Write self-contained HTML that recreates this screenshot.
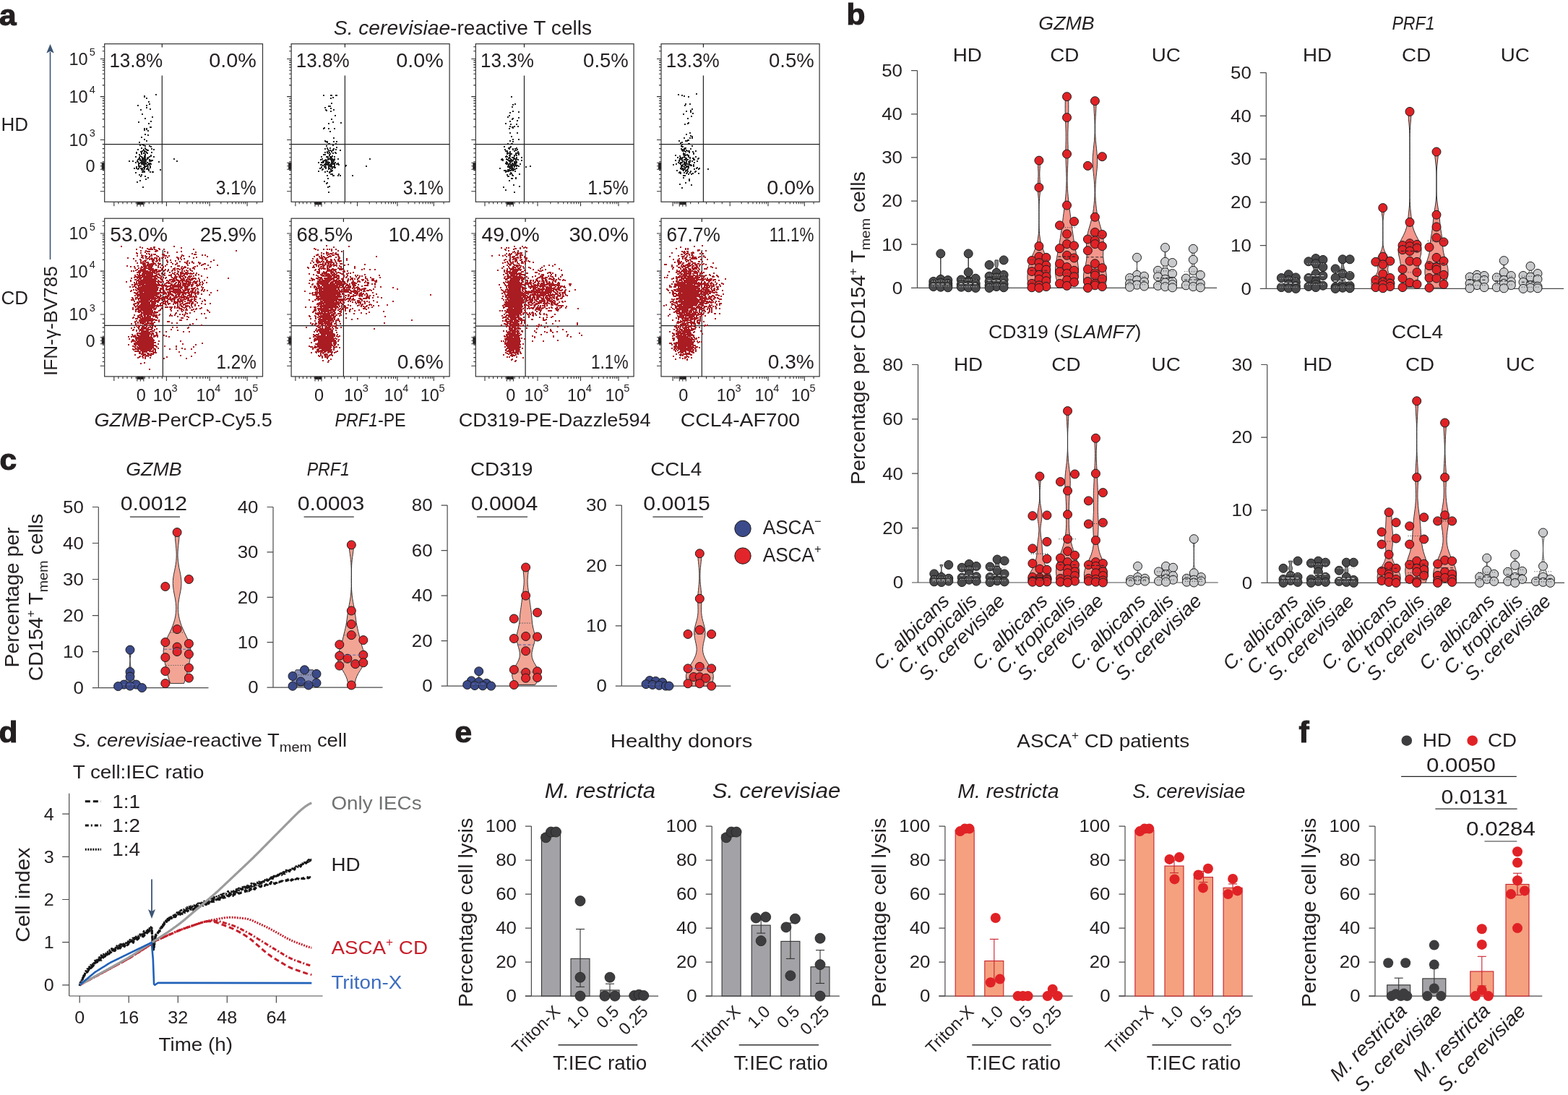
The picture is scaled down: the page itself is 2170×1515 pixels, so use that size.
<!DOCTYPE html>
<html><head><meta charset="utf-8"><title>Figure</title>
<style>html,body{margin:0;padding:0;background:#fff;width:2170px;height:1515px;overflow:hidden}svg{display:block}
text{font-family:'Liberation Sans', Arial, Helvetica, sans-serif}</style></head>
<body><svg width="2170" height="1515" viewBox="0 0 2170 1515" fill="#231f20">
<rect width="2170" height="1515" fill="#fff"/>
<text font-size="40" font-weight="bold" transform="translate(-1 34.5) scale(1.060 1)" stroke="#231f20" stroke-width="1.1">a</text>
<text font-size="27" text-anchor="middle" transform="translate(640.5 47.8) scale(1.043 1)"><tspan font-style="italic">S. cerevisiae</tspan>-reactive T cells</text>
<line x1="69.5" y1="72" x2="69.5" y2="359" stroke="#3e5573" stroke-width="1.6"/>
<path d="M69.5 61 L64.3 73.5 L69.5 71 L74.7 73.5 Z" stroke="none" fill="#3e5573" stroke-width="1.2"/>
<text font-size="26" transform="translate(79 520) rotate(-90)" textLength="152" lengthAdjust="spacingAndGlyphs">IFN-γ-BV785</text>
<text x="1.5" y="181" font-size="26">HD</text>
<text x="1.5" y="421" font-size="26">CD</text>
<rect x="144.7" y="60.7" width="218.8" height="218.6" fill="none" stroke="#333" stroke-width="1.2"/>
<line x1="224.3" y1="60.7" x2="224.3" y2="65.5" stroke="#222" stroke-width="1.2"/>
<line x1="224.3" y1="104.6" x2="224.3" y2="279.3" stroke="#222" stroke-width="1.2"/>
<line x1="144.7" y1="199.6" x2="363.5" y2="199.6" stroke="#222" stroke-width="1.2"/>
<rect x="140.7" y="225.3" width="4" height="9" fill="#231f20"/>
<path d="M138.7 81.5h6 M138.7 133.6h6 M138.7 193.5h6 M138.7 229.8h6 M138.7 264.8h6 M141.7 117.9h3 M141.7 108.7h3 M141.7 102.2h3 M141.7 97.2h3 M141.7 93.1h3 M141.7 89.6h3 M141.7 86.5h3 M141.7 83.9h3 M141.7 175.5h3 M141.7 164.9h3 M141.7 157.4h3 M141.7 151.6h3 M141.7 146.9h3 M141.7 142.9h3 M141.7 139.4h3 M141.7 136.3h3 M141.7 64.7h3 M141.7 70.7h3 M141.7 199.6h3 M141.7 205.6h3 M141.7 211.7h3 M141.7 217.7h3 M141.7 223.8h3 M141.7 235.6h3 M141.7 241.5h3 M141.7 247.3h3 M141.7 253.1h3 M141.7 259h3 M138.7 225.3h6 M138.7 234.3h6" stroke="#333" fill="none" stroke-width="1.1"/>
<rect x="189.8" y="279.3" width="9" height="4" fill="#231f20"/>
<path d="M157.8 279.3v6 M194.3 279.3v6 M230.4 279.3v6 M290.1 279.3v6 M342.1 279.3v6 M248.4 279.3v3 M258.9 279.3v3 M266.3 279.3v3 M272.1 279.3v3 M276.9 279.3v3 M280.9 279.3v3 M284.3 279.3v3 M287.4 279.3v3 M305.8 279.3v3 M314.9 279.3v3 M321.4 279.3v3 M326.4 279.3v3 M330.6 279.3v3 M334 279.3v3 M337.1 279.3v3 M339.7 279.3v3 M200.3 279.3v3 M163.9 279.3v3 M206.3 279.3v3 M170 279.3v3 M212.3 279.3v3 M176 279.3v3 M218.4 279.3v3 M182.1 279.3v3 M224.4 279.3v3 M188.2 279.3v3 M355.5 279.3v3 M189.8 279.3v6.5 M194.3 279.3v6.5 M198.8 279.3v6.5" stroke="#333" fill="none" stroke-width="1.1"/>
<text font-size="27.5" transform="translate(151.4 92.8) scale(0.946 1)">13.8%</text>
<text font-size="27.5" text-anchor="end" transform="translate(354.8 92.8) scale(1.046 1)">0.0%</text>
<text font-size="27.5" text-anchor="end" transform="translate(354.7 268.8) scale(0.895 1)">3.1%</text>
<text x="121.7" y="89.9" font-size="23.5" text-anchor="end">10</text>
<text x="123.8" y="77.2" font-size="14.5">5</text>
<text x="121.7" y="142" font-size="23.5" text-anchor="end">10</text>
<text x="123.8" y="129.3" font-size="14.5">4</text>
<text x="121.7" y="201.9" font-size="23.5" text-anchor="end">10</text>
<text x="123.8" y="189.2" font-size="14.5">3</text>
<text x="131.5" y="238.2" font-size="23.5" text-anchor="end">0</text>
<rect x="403.1" y="60.7" width="219" height="218.6" fill="none" stroke="#333" stroke-width="1.2"/>
<line x1="477.4" y1="60.7" x2="477.4" y2="65.5" stroke="#222" stroke-width="1.2"/>
<line x1="477.4" y1="104.6" x2="477.4" y2="279.3" stroke="#222" stroke-width="1.2"/>
<line x1="403.1" y1="199.6" x2="622.1" y2="199.6" stroke="#222" stroke-width="1.2"/>
<rect x="399.1" y="225.3" width="4" height="9" fill="#231f20"/>
<path d="M397.1 81.5h6 M397.1 133.6h6 M397.1 193.5h6 M397.1 229.8h6 M397.1 264.8h6 M400.1 117.9h3 M400.1 108.7h3 M400.1 102.2h3 M400.1 97.2h3 M400.1 93.1h3 M400.1 89.6h3 M400.1 86.5h3 M400.1 83.9h3 M400.1 175.5h3 M400.1 164.9h3 M400.1 157.4h3 M400.1 151.6h3 M400.1 146.9h3 M400.1 142.9h3 M400.1 139.4h3 M400.1 136.3h3 M400.1 64.7h3 M400.1 70.7h3 M400.1 199.6h3 M400.1 205.6h3 M400.1 211.7h3 M400.1 217.7h3 M400.1 223.8h3 M400.1 235.6h3 M400.1 241.5h3 M400.1 247.3h3 M400.1 253.1h3 M400.1 259h3 M397.1 225.3h6 M397.1 234.3h6" stroke="#333" fill="none" stroke-width="1.1"/>
<rect x="436" y="279.3" width="9" height="4" fill="#231f20"/>
<path d="M408.9 279.3v6 M440.5 279.3v6 M494.5 279.3v6 M550 279.3v6 M600.3 279.3v6 M511.2 279.3v3 M521 279.3v3 M527.9 279.3v3 M533.3 279.3v3 M537.7 279.3v3 M541.4 279.3v3 M544.6 279.3v3 M547.5 279.3v3 M565.1 279.3v3 M574 279.3v3 M580.3 279.3v3 M585.2 279.3v3 M589.1 279.3v3 M592.5 279.3v3 M595.4 279.3v3 M598 279.3v3 M449.5 279.3v3 M414.2 279.3v3 M458.5 279.3v3 M419.4 279.3v3 M467.5 279.3v3 M424.7 279.3v3 M476.5 279.3v3 M430 279.3v3 M485.5 279.3v3 M435.2 279.3v3 M614.1 279.3v3 M436 279.3v6.5 M440.5 279.3v6.5 M445 279.3v6.5" stroke="#333" fill="none" stroke-width="1.1"/>
<text font-size="27.5" transform="translate(409.8 92.8) scale(0.946 1)">13.8%</text>
<text font-size="27.5" text-anchor="end" transform="translate(613.8 92.8) scale(1.046 1)">0.0%</text>
<text font-size="27.5" text-anchor="end" transform="translate(613.7 268.8) scale(0.895 1)">3.1%</text>
<rect x="658.3" y="60.7" width="218.8" height="218.6" fill="none" stroke="#333" stroke-width="1.2"/>
<line x1="725.5" y1="60.7" x2="725.5" y2="65.5" stroke="#222" stroke-width="1.2"/>
<line x1="725.5" y1="104.6" x2="725.5" y2="279.3" stroke="#222" stroke-width="1.2"/>
<line x1="658.3" y1="199.6" x2="877.1" y2="199.6" stroke="#222" stroke-width="1.2"/>
<rect x="654.3" y="225.3" width="4" height="9" fill="#231f20"/>
<path d="M652.3 81.5h6 M652.3 133.6h6 M652.3 193.5h6 M652.3 229.8h6 M652.3 264.8h6 M655.3 117.9h3 M655.3 108.7h3 M655.3 102.2h3 M655.3 97.2h3 M655.3 93.1h3 M655.3 89.6h3 M655.3 86.5h3 M655.3 83.9h3 M655.3 175.5h3 M655.3 164.9h3 M655.3 157.4h3 M655.3 151.6h3 M655.3 146.9h3 M655.3 142.9h3 M655.3 139.4h3 M655.3 136.3h3 M655.3 64.7h3 M655.3 70.7h3 M655.3 199.6h3 M655.3 205.6h3 M655.3 211.7h3 M655.3 217.7h3 M655.3 223.8h3 M655.3 235.6h3 M655.3 241.5h3 M655.3 247.3h3 M655.3 253.1h3 M655.3 259h3 M652.3 225.3h6 M652.3 234.3h6" stroke="#333" fill="none" stroke-width="1.1"/>
<rect x="701.4" y="279.3" width="9" height="4" fill="#231f20"/>
<path d="M671 279.3v6 M705.9 279.3v6 M744 279.3v6 M803.5 279.3v6 M856 279.3v6 M761.9 279.3v3 M772.4 279.3v3 M779.8 279.3v3 M785.6 279.3v3 M790.3 279.3v3 M794.3 279.3v3 M797.7 279.3v3 M800.8 279.3v3 M819.3 279.3v3 M828.5 279.3v3 M835.1 279.3v3 M840.2 279.3v3 M844.4 279.3v3 M847.9 279.3v3 M850.9 279.3v3 M853.6 279.3v3 M712.2 279.3v3 M676.8 279.3v3 M718.6 279.3v3 M682.6 279.3v3 M725 279.3v3 M688.5 279.3v3 M731.3 279.3v3 M694.3 279.3v3 M737.6 279.3v3 M700.1 279.3v3 M869.1 279.3v3 M701.4 279.3v6.5 M705.9 279.3v6.5 M710.4 279.3v6.5" stroke="#333" fill="none" stroke-width="1.1"/>
<text font-size="27.5" transform="translate(665 92.8) scale(0.948 1)">13.3%</text>
<text x="869.8" y="92.8" font-size="27.5" text-anchor="end">0.5%</text>
<text font-size="27.5" text-anchor="end" transform="translate(869.7 268.8) scale(0.901 1)">1.5%</text>
<rect x="915" y="60.7" width="219.1" height="218.6" fill="none" stroke="#333" stroke-width="1.2"/>
<line x1="973.4" y1="60.7" x2="973.4" y2="65.5" stroke="#222" stroke-width="1.2"/>
<line x1="973.4" y1="104.6" x2="973.4" y2="279.3" stroke="#222" stroke-width="1.2"/>
<line x1="915" y1="199.6" x2="1134.1" y2="199.6" stroke="#222" stroke-width="1.2"/>
<rect x="911" y="225.3" width="4" height="9" fill="#231f20"/>
<path d="M909 81.5h6 M909 133.6h6 M909 193.5h6 M909 229.8h6 M909 264.8h6 M912 117.9h3 M912 108.7h3 M912 102.2h3 M912 97.2h3 M912 93.1h3 M912 89.6h3 M912 86.5h3 M912 83.9h3 M912 175.5h3 M912 164.9h3 M912 157.4h3 M912 151.6h3 M912 146.9h3 M912 142.9h3 M912 139.4h3 M912 136.3h3 M912 64.7h3 M912 70.7h3 M912 199.6h3 M912 205.6h3 M912 211.7h3 M912 217.7h3 M912 223.8h3 M912 235.6h3 M912 241.5h3 M912 247.3h3 M912 253.1h3 M912 259h3 M909 225.3h6 M909 234.3h6" stroke="#333" fill="none" stroke-width="1.1"/>
<rect x="940.3" y="279.3" width="9" height="4" fill="#231f20"/>
<path d="M931.1 279.3v6 M944.8 279.3v6 M1010.2 279.3v6 M1063 279.3v6 M1113.3 279.3v6 M1026.1 279.3v3 M1035.4 279.3v3 M1042 279.3v3 M1047.1 279.3v3 M1051.3 279.3v3 M1054.8 279.3v3 M1057.9 279.3v3 M1060.6 279.3v3 M1078.1 279.3v3 M1087 279.3v3 M1093.3 279.3v3 M1098.2 279.3v3 M1102.1 279.3v3 M1105.5 279.3v3 M1108.4 279.3v3 M1111 279.3v3 M955.7 279.3v3 M933.4 279.3v3 M966.6 279.3v3 M935.7 279.3v3 M977.5 279.3v3 M938 279.3v3 M988.4 279.3v3 M940.2 279.3v3 M999.3 279.3v3 M942.5 279.3v3 M1126.1 279.3v3 M940.3 279.3v6.5 M944.8 279.3v6.5 M949.3 279.3v6.5" stroke="#333" fill="none" stroke-width="1.1"/>
<text font-size="27.5" transform="translate(921.7 92.8) scale(0.948 1)">13.3%</text>
<text x="1126.7" y="92.8" font-size="27.5" text-anchor="end">0.5%</text>
<text font-size="27.5" text-anchor="end" transform="translate(1126.7 268.8) scale(1.046 1)">0.0%</text>
<rect x="144.7" y="302.2" width="218.8" height="218.7" fill="none" stroke="#333" stroke-width="1.2"/>
<line x1="225.4" y1="302.2" x2="225.4" y2="307" stroke="#222" stroke-width="1.2"/>
<line x1="225.4" y1="346" x2="225.4" y2="520.9" stroke="#222" stroke-width="1.2"/>
<line x1="144.7" y1="450.4" x2="363.5" y2="450.4" stroke="#222" stroke-width="1.2"/>
<rect x="140.7" y="466.8" width="4" height="9" fill="#231f20"/>
<path d="M138.7 323h6 M138.7 375.1h6 M138.7 435h6 M138.7 471.3h6 M138.7 506.3h6 M141.7 359.4h3 M141.7 350.2h3 M141.7 343.7h3 M141.7 338.7h3 M141.7 334.6h3 M141.7 331.1h3 M141.7 328h3 M141.7 325.4h3 M141.7 417h3 M141.7 406.4h3 M141.7 398.9h3 M141.7 393.1h3 M141.7 388.4h3 M141.7 384.4h3 M141.7 380.9h3 M141.7 377.8h3 M141.7 306.2h3 M141.7 312.2h3 M141.7 441.1h3 M141.7 447.1h3 M141.7 453.1h3 M141.7 459.2h3 M141.7 465.2h3 M141.7 477.1h3 M141.7 483h3 M141.7 488.8h3 M141.7 494.6h3 M141.7 500.5h3 M138.7 466.8h6 M138.7 475.8h6" stroke="#333" fill="none" stroke-width="1.1"/>
<rect x="189.8" y="520.9" width="9" height="4" fill="#231f20"/>
<path d="M157.8 520.9v6 M194.3 520.9v6 M230.4 520.9v6 M290.1 520.9v6 M342.1 520.9v6 M248.4 520.9v3 M258.9 520.9v3 M266.3 520.9v3 M272.1 520.9v3 M276.9 520.9v3 M280.9 520.9v3 M284.3 520.9v3 M287.4 520.9v3 M305.8 520.9v3 M314.9 520.9v3 M321.4 520.9v3 M326.4 520.9v3 M330.6 520.9v3 M334 520.9v3 M337.1 520.9v3 M339.7 520.9v3 M200.3 520.9v3 M163.9 520.9v3 M206.3 520.9v3 M170 520.9v3 M212.3 520.9v3 M176 520.9v3 M218.4 520.9v3 M182.1 520.9v3 M224.4 520.9v3 M188.2 520.9v3 M355.5 520.9v3 M189.8 520.9v6.5 M194.3 520.9v6.5 M198.8 520.9v6.5" stroke="#333" fill="none" stroke-width="1.1"/>
<text font-size="27.5" transform="translate(152.3 334.3) scale(1.022 1)">53.0%</text>
<text x="354.8" y="334.3" font-size="27.5" text-anchor="end">25.9%</text>
<text font-size="27.5" text-anchor="end" transform="translate(354.7 510.4) scale(0.881 1)">1.2%</text>
<text x="121.7" y="331.4" font-size="23.5" text-anchor="end">10</text>
<text x="123.8" y="318.7" font-size="14.5">5</text>
<text x="121.7" y="383.5" font-size="23.5" text-anchor="end">10</text>
<text x="123.8" y="370.8" font-size="14.5">4</text>
<text x="121.7" y="443.4" font-size="23.5" text-anchor="end">10</text>
<text x="123.8" y="430.7" font-size="14.5">3</text>
<text x="131.5" y="479.7" font-size="23.5" text-anchor="end">0</text>
<text x="195.3" y="554.8" font-size="23.5" text-anchor="middle">0</text>
<text x="224.9" y="554.8" font-size="23.5" text-anchor="middle">10</text>
<text x="237.6" y="542.1" font-size="14.5">3</text>
<text x="284.6" y="554.8" font-size="23.5" text-anchor="middle">10</text>
<text x="297.3" y="542.1" font-size="14.5">4</text>
<text x="336.6" y="554.8" font-size="23.5" text-anchor="middle">10</text>
<text x="349.3" y="542.1" font-size="14.5">5</text>
<rect x="403.1" y="302.2" width="219" height="218.7" fill="none" stroke="#333" stroke-width="1.2"/>
<line x1="475.4" y1="302.2" x2="475.4" y2="307" stroke="#222" stroke-width="1.2"/>
<line x1="475.4" y1="346" x2="475.4" y2="520.9" stroke="#222" stroke-width="1.2"/>
<line x1="403.1" y1="450.6" x2="622.1" y2="450.6" stroke="#222" stroke-width="1.2"/>
<rect x="399.1" y="466.8" width="4" height="9" fill="#231f20"/>
<path d="M397.1 323h6 M397.1 375.1h6 M397.1 435h6 M397.1 471.3h6 M397.1 506.3h6 M400.1 359.4h3 M400.1 350.2h3 M400.1 343.7h3 M400.1 338.7h3 M400.1 334.6h3 M400.1 331.1h3 M400.1 328h3 M400.1 325.4h3 M400.1 417h3 M400.1 406.4h3 M400.1 398.9h3 M400.1 393.1h3 M400.1 388.4h3 M400.1 384.4h3 M400.1 380.9h3 M400.1 377.8h3 M400.1 306.2h3 M400.1 312.2h3 M400.1 441.1h3 M400.1 447.1h3 M400.1 453.1h3 M400.1 459.2h3 M400.1 465.2h3 M400.1 477.1h3 M400.1 483h3 M400.1 488.8h3 M400.1 494.6h3 M400.1 500.5h3 M397.1 466.8h6 M397.1 475.8h6" stroke="#333" fill="none" stroke-width="1.1"/>
<rect x="436" y="520.9" width="9" height="4" fill="#231f20"/>
<path d="M408.9 520.9v6 M440.5 520.9v6 M494.5 520.9v6 M550 520.9v6 M600.3 520.9v6 M511.2 520.9v3 M521 520.9v3 M527.9 520.9v3 M533.3 520.9v3 M537.7 520.9v3 M541.4 520.9v3 M544.6 520.9v3 M547.5 520.9v3 M565.1 520.9v3 M574 520.9v3 M580.3 520.9v3 M585.2 520.9v3 M589.1 520.9v3 M592.5 520.9v3 M595.4 520.9v3 M598 520.9v3 M449.5 520.9v3 M414.2 520.9v3 M458.5 520.9v3 M419.4 520.9v3 M467.5 520.9v3 M424.7 520.9v3 M476.5 520.9v3 M430 520.9v3 M485.5 520.9v3 M435.2 520.9v3 M614.1 520.9v3 M436 520.9v6.5 M440.5 520.9v6.5 M445 520.9v6.5" stroke="#333" fill="none" stroke-width="1.1"/>
<text font-size="27.5" transform="translate(410.4 334.3) scale(0.996 1)">68.5%</text>
<text font-size="27.5" text-anchor="end" transform="translate(613.7 334.3) scale(0.975 1)">10.4%</text>
<text font-size="27.5" text-anchor="end" transform="translate(613.8 510.4) scale(1.023 1)">0.6%</text>
<text x="441.5" y="554.8" font-size="23.5" text-anchor="middle">0</text>
<text x="489" y="554.8" font-size="23.5" text-anchor="middle">10</text>
<text x="501.7" y="542.1" font-size="14.5">3</text>
<text x="544.5" y="554.8" font-size="23.5" text-anchor="middle">10</text>
<text x="557.2" y="542.1" font-size="14.5">4</text>
<text x="594.8" y="554.8" font-size="23.5" text-anchor="middle">10</text>
<text x="607.5" y="542.1" font-size="14.5">5</text>
<rect x="658.3" y="302.2" width="218.8" height="218.7" fill="none" stroke="#333" stroke-width="1.2"/>
<line x1="727.1" y1="302.2" x2="727.1" y2="307" stroke="#222" stroke-width="1.2"/>
<line x1="727.1" y1="346" x2="727.1" y2="520.9" stroke="#222" stroke-width="1.2"/>
<line x1="658.3" y1="451.2" x2="877.1" y2="451.2" stroke="#222" stroke-width="1.2"/>
<rect x="654.3" y="466.8" width="4" height="9" fill="#231f20"/>
<path d="M652.3 323h6 M652.3 375.1h6 M652.3 435h6 M652.3 471.3h6 M652.3 506.3h6 M655.3 359.4h3 M655.3 350.2h3 M655.3 343.7h3 M655.3 338.7h3 M655.3 334.6h3 M655.3 331.1h3 M655.3 328h3 M655.3 325.4h3 M655.3 417h3 M655.3 406.4h3 M655.3 398.9h3 M655.3 393.1h3 M655.3 388.4h3 M655.3 384.4h3 M655.3 380.9h3 M655.3 377.8h3 M655.3 306.2h3 M655.3 312.2h3 M655.3 441.1h3 M655.3 447.1h3 M655.3 453.1h3 M655.3 459.2h3 M655.3 465.2h3 M655.3 477.1h3 M655.3 483h3 M655.3 488.8h3 M655.3 494.6h3 M655.3 500.5h3 M652.3 466.8h6 M652.3 475.8h6" stroke="#333" fill="none" stroke-width="1.1"/>
<rect x="701.4" y="520.9" width="9" height="4" fill="#231f20"/>
<path d="M671 520.9v6 M705.9 520.9v6 M744 520.9v6 M803.5 520.9v6 M856 520.9v6 M761.9 520.9v3 M772.4 520.9v3 M779.8 520.9v3 M785.6 520.9v3 M790.3 520.9v3 M794.3 520.9v3 M797.7 520.9v3 M800.8 520.9v3 M819.3 520.9v3 M828.5 520.9v3 M835.1 520.9v3 M840.2 520.9v3 M844.4 520.9v3 M847.9 520.9v3 M850.9 520.9v3 M853.6 520.9v3 M712.2 520.9v3 M676.8 520.9v3 M718.6 520.9v3 M682.6 520.9v3 M725 520.9v3 M688.5 520.9v3 M731.3 520.9v3 M694.3 520.9v3 M737.6 520.9v3 M700.1 520.9v3 M869.1 520.9v3 M701.4 520.9v6.5 M705.9 520.9v6.5 M710.4 520.9v6.5" stroke="#333" fill="none" stroke-width="1.1"/>
<text font-size="27.5" transform="translate(666.4 334.3) scale(1.031 1)">49.0%</text>
<text font-size="27.5" text-anchor="end" transform="translate(869.8 334.3) scale(1.057 1)">30.0%</text>
<text font-size="27.5" text-anchor="end" transform="translate(869.6 510.4) scale(0.824 1)">1.1%</text>
<text x="706.9" y="554.8" font-size="23.5" text-anchor="middle">0</text>
<text x="738.5" y="554.8" font-size="23.5" text-anchor="middle">10</text>
<text x="751.2" y="542.1" font-size="14.5">3</text>
<text x="798" y="554.8" font-size="23.5" text-anchor="middle">10</text>
<text x="810.7" y="542.1" font-size="14.5">4</text>
<text x="850.5" y="554.8" font-size="23.5" text-anchor="middle">10</text>
<text x="863.2" y="542.1" font-size="14.5">5</text>
<rect x="915" y="302.2" width="219.1" height="218.7" fill="none" stroke="#333" stroke-width="1.2"/>
<line x1="971.3" y1="302.2" x2="971.3" y2="307" stroke="#222" stroke-width="1.2"/>
<line x1="971.3" y1="346" x2="971.3" y2="520.9" stroke="#222" stroke-width="1.2"/>
<line x1="915" y1="450.6" x2="1134.1" y2="450.6" stroke="#222" stroke-width="1.2"/>
<rect x="911" y="466.8" width="4" height="9" fill="#231f20"/>
<path d="M909 323h6 M909 375.1h6 M909 435h6 M909 471.3h6 M909 506.3h6 M912 359.4h3 M912 350.2h3 M912 343.7h3 M912 338.7h3 M912 334.6h3 M912 331.1h3 M912 328h3 M912 325.4h3 M912 417h3 M912 406.4h3 M912 398.9h3 M912 393.1h3 M912 388.4h3 M912 384.4h3 M912 380.9h3 M912 377.8h3 M912 306.2h3 M912 312.2h3 M912 441.1h3 M912 447.1h3 M912 453.1h3 M912 459.2h3 M912 465.2h3 M912 477.1h3 M912 483h3 M912 488.8h3 M912 494.6h3 M912 500.5h3 M909 466.8h6 M909 475.8h6" stroke="#333" fill="none" stroke-width="1.1"/>
<rect x="940.3" y="520.9" width="9" height="4" fill="#231f20"/>
<path d="M931.1 520.9v6 M944.8 520.9v6 M1010.2 520.9v6 M1063 520.9v6 M1113.3 520.9v6 M1026.1 520.9v3 M1035.4 520.9v3 M1042 520.9v3 M1047.1 520.9v3 M1051.3 520.9v3 M1054.8 520.9v3 M1057.9 520.9v3 M1060.6 520.9v3 M1078.1 520.9v3 M1087 520.9v3 M1093.3 520.9v3 M1098.2 520.9v3 M1102.1 520.9v3 M1105.5 520.9v3 M1108.4 520.9v3 M1111 520.9v3 M955.7 520.9v3 M933.4 520.9v3 M966.6 520.9v3 M935.7 520.9v3 M977.5 520.9v3 M938 520.9v3 M988.4 520.9v3 M940.2 520.9v3 M999.3 520.9v3 M942.5 520.9v3 M1126.1 520.9v3 M940.3 520.9v6.5 M944.8 520.9v6.5 M949.3 520.9v6.5" stroke="#333" fill="none" stroke-width="1.1"/>
<text font-size="27.5" transform="translate(922.4 334.3) scale(0.954 1)">67.7%</text>
<text font-size="27.5" text-anchor="end" transform="translate(1126.5 334.3) scale(0.815 1)">11.1%</text>
<text font-size="27.5" text-anchor="end" transform="translate(1126.7 510.4) scale(1.020 1)">0.3%</text>
<text x="945.8" y="554.8" font-size="23.5" text-anchor="middle">0</text>
<text x="1004.7" y="554.8" font-size="23.5" text-anchor="middle">10</text>
<text x="1017.4" y="542.1" font-size="14.5">3</text>
<text x="1057.5" y="554.8" font-size="23.5" text-anchor="middle">10</text>
<text x="1070.2" y="542.1" font-size="14.5">4</text>
<text x="1107.8" y="554.8" font-size="23.5" text-anchor="middle">10</text>
<text x="1120.5" y="542.1" font-size="14.5">5</text>
<text x="253.7" y="589.6" font-size="26" text-anchor="middle" textLength="246.2" lengthAdjust="spacingAndGlyphs"><tspan font-style="italic">GZMB</tspan>-PerCP-Cy5.5</text>
<text x="512.6" y="589.6" font-size="26" text-anchor="middle" textLength="98" lengthAdjust="spacingAndGlyphs"><tspan font-style="italic">PRF1</tspan>-PE</text>
<text x="767.6" y="589.6" font-size="26" text-anchor="middle" textLength="265.8" lengthAdjust="spacingAndGlyphs">CD319-PE-Dazzle594</text>
<text x="1024.4" y="589.6" font-size="26" text-anchor="middle" textLength="165.3" lengthAdjust="spacingAndGlyphs">CCL4-AF700</text>
<path d="M199 229h1.9M197 220h1.9M196 220h1.9M199 237h1.9M196 222h1.9M202 230h1.9M200 220h1.9M199 232h1.9M190 224h1.9M187 217h1.9M187 225h1.9M191 229h1.9M200 226h1.9M183 223h1.9M199 228h1.9M189 223h1.9M193 221h1.9M206 221h1.9M199 234h1.9M195 226h1.9M200 227h1.9M191 228h1.9M208 215h1.9M205 228h1.9M195 242h1.9M204 218h1.9M199 231h1.9M198 232h1.9M208 222h1.9M200 224h1.9M200 218h1.9M205 236h1.9M190 221h1.9M203 212h1.9M196 226h1.9M207 232h1.9M197 224h1.9M197 238h1.9M196 225h1.9M201 226h1.9M198 219h1.9M199 224h1.9M197 235h1.9M191 230h1.9M188 212h1.9M200 244h1.9M194 222h1.9M200 231h1.9M198 225h1.9M204 231h1.9M192 226h1.9M199 219h1.9M201 221h1.9M200 223h1.9M198 212h1.9M192 230h1.9M185 233h1.9M188 233h1.9M194 233h1.9M200 215h1.9M207 238h1.9M199 225h1.9M198 220h1.9M206 223h1.9M199 221h1.9M195 217h1.9M207 226h1.9M205 227h1.9M194 225h1.9M195 227h1.9M197 225h1.9M210 222h1.9M208 216h1.9M198 222h1.9M194 230h1.9M192 218h1.9M208 223h1.9M201 227h1.9M196 223h1.9M203 225h1.9M198 227h1.9M201 223h1.9M190 234h1.9M205 226h1.9M203 233h1.9M204 234h1.9M196 238h1.9M191 233h1.9M202 234h1.9M211 238h1.9M192 214h1.9M204 219h1.9M199 233h1.9M188 211h1.9M197 227h1.9M193 216h1.9M188 231h1.9M199 230h1.9M193 222h1.9M193 220h1.9M200 221h1.9M201 230h1.9M212 217h1.9M199 216h1.9M196 233h1.9M198 228h1.9M197 236h1.9M199 210h1.9M195 212h1.9M178 223h1.9M208 227h1.9M191 220h1.9M206 228h1.9M199 227h1.9M203 229h1.9M192 231h1.9M195 235h1.9M191 226h1.9M199 217h1.9M210 238h1.9M201 207h1.9M200 219h1.9M197 226h1.9M207 230h1.9M199 238h1.9M195 224h1.9M187 239h1.9M205 234h1.9M203 228h1.9M200 225h1.9M209 211h1.9M200 205h1.9M196 218h1.9M203 208h1.9M198 201h1.9M200 213h1.9M198 207h1.9M199 209h1.9M190 207h1.9M195 213h1.9M195 211h1.9M209 206h1.9M196 209h1.9M200 202h1.9M203 220h1.9M194 210h1.9M193 201h1.9M208 203h1.9M206 217h1.9M202 211h1.9M212 207h1.9M196 200h1.9M200 217h1.9M206 202h1.9M195 205h1.9M202 207h1.9M201 210h1.9M198 208h1.9M203 219h1.9M204 208h1.9M192 197h1.9M190 146h1.9M206 144h1.9M200 164h1.9M199 133h1.9M205 171h1.9M202 146h1.9M195 190h1.9M200 186h1.9M202 178h1.9M207 176h1.9M207 151h1.9M204 181h1.9M199 193h1.9M194 152h1.9M205 141h1.9M202 136h1.9M191 169h1.9M202 149h1.9M199 178h1.9M202 195h1.9M196 158h1.9M204 187h1.9M208 176h1.9M208 168h1.9M199 134h1.9M215 131h1.9M210 162h1.9M202 179h1.9M199 180h1.9M221 235h1.9M240 220h1.9M219 224h1.9M244 223h1.9M193 250h1.9M192 242h1.9M197 259h1.9M189 252h1.9M194 244h1.9M201 248h1.9M204 246h1.9" stroke="#1a1a1a" stroke-width="1.9" fill="none"/>
<path d="M458 226h1.9M450 232h1.9M454 233h1.9M455 220h1.9M454 228h1.9M461 221h1.9M455 215h1.9M459 220h1.9M443 228h1.9M462 217h1.9M448 222h1.9M448 231h1.9M450 223h1.9M459 222h1.9M458 221h1.9M447 214h1.9M467 226h1.9M457 228h1.9M456 228h1.9M467 220h1.9M445 220h1.9M446 234h1.9M460 221h1.9M446 225h1.9M464 207h1.9M458 220h1.9M462 220h1.9M453 217h1.9M449 238h1.9M460 225h1.9M449 214h1.9M452 228h1.9M454 227h1.9M448 228h1.9M455 238h1.9M467 227h1.9M450 228h1.9M451 222h1.9M459 227h1.9M457 227h1.9M450 221h1.9M453 224h1.9M446 229h1.9M446 223h1.9M453 212h1.9M456 229h1.9M454 225h1.9M453 221h1.9M456 219h1.9M457 229h1.9M459 216h1.9M458 230h1.9M457 231h1.9M451 226h1.9M459 231h1.9M456 217h1.9M458 237h1.9M462 230h1.9M445 235h1.9M454 209h1.9M457 217h1.9M447 223h1.9M463 225h1.9M457 241h1.9M465 227h1.9M453 219h1.9M450 231h1.9M458 229h1.9M461 222h1.9M455 233h1.9M459 236h1.9M457 220h1.9M444 232h1.9M455 230h1.9M444 225h1.9M440 225h1.9M461 231h1.9M451 228h1.9M460 207h1.9M454 232h1.9M459 241h1.9M457 234h1.9M461 243h1.9M456 238h1.9M455 239h1.9M449 227h1.9M454 234h1.9M449 231h1.9M451 217h1.9M462 232h1.9M458 224h1.9M462 226h1.9M462 221h1.9M449 230h1.9M450 233h1.9M457 221h1.9M455 225h1.9M461 223h1.9M452 237h1.9M470 243h1.9M449 229h1.9M458 222h1.9M444 217h1.9M454 230h1.9M459 225h1.9M453 220h1.9M462 228h1.9M450 225h1.9M453 247h1.9M461 227h1.9M460 243h1.9M453 225h1.9M463 232h1.9M459 224h1.9M468 241h1.9M459 233h1.9M442 233h1.9M454 231h1.9M444 231h1.9M450 226h1.9M451 225h1.9M440 237h1.9M457 236h1.9M468 228h1.9M443 221h1.9M447 224h1.9M456 213h1.9M453 227h1.9M451 223h1.9M444 228h1.9M467 243h1.9M464 212h1.9M452 217h1.9M456 208h1.9M453 207h1.9M449 206h1.9M470 208h1.9M455 211h1.9M460 201h1.9M455 214h1.9M458 209h1.9M465 204h1.9M456 205h1.9M465 196h1.9M452 205h1.9M460 212h1.9M464 199h1.9M461 206h1.9M452 211h1.9M450 196h1.9M454 199h1.9M452 210h1.9M458 218h1.9M455 199h1.9M451 202h1.9M449 211h1.9M452 196h1.9M460 208h1.9M463 211h1.9M458 210h1.9M449 149h1.9M456 182h1.9M450 152h1.9M458 143h1.9M448 177h1.9M457 150h1.9M458 132h1.9M460 169h1.9M457 154h1.9M471 170h1.9M454 178h1.9M461 196h1.9M454 147h1.9M452 197h1.9M454 171h1.9M449 195h1.9M458 165h1.9M447 178h1.9M461 152h1.9M457 132h1.9M460 135h1.9M451 153h1.9M465 132h1.9M463 160h1.9M462 178h1.9M456 147h1.9M461 191h1.9M457 136h1.9M464 132h1.9M447 132h1.9M478 229h1.9M477 230h1.9M511 220h1.9M487 243h1.9M506 230h1.9M454 266h1.9M448 251h1.9M455 258h1.9M451 254h1.9M452 253h1.9M452 243h1.9M453 259h1.9" stroke="#1a1a1a" stroke-width="1.9" fill="none"/>
<path d="M700 227h1.9M710 220h1.9M707 221h1.9M713 246h1.9M719 227h1.9M711 229h1.9M707 240h1.9M697 236h1.9M706 239h1.9M707 223h1.9M708 234h1.9M706 232h1.9M703 212h1.9M712 234h1.9M707 229h1.9M713 225h1.9M701 227h1.9M714 218h1.9M714 224h1.9M699 238h1.9M705 219h1.9M704 235h1.9M714 225h1.9M709 234h1.9M702 231h1.9M706 224h1.9M703 229h1.9M703 237h1.9M707 235h1.9M714 233h1.9M721 222h1.9M711 226h1.9M718 241h1.9M693 221h1.9M710 234h1.9M711 228h1.9M709 233h1.9M705 236h1.9M691 233h1.9M699 236h1.9M705 222h1.9M708 222h1.9M700 217h1.9M713 227h1.9M713 229h1.9M705 233h1.9M713 226h1.9M704 227h1.9M707 222h1.9M709 222h1.9M708 231h1.9M703 244h1.9M708 242h1.9M712 224h1.9M704 232h1.9M706 229h1.9M704 215h1.9M705 212h1.9M708 223h1.9M708 218h1.9M695 221h1.9M716 221h1.9M710 218h1.9M708 226h1.9M706 233h1.9M717 230h1.9M710 227h1.9M717 214h1.9M704 223h1.9M704 218h1.9M707 247h1.9M713 220h1.9M700 225h1.9M713 222h1.9M702 235h1.9M712 226h1.9M699 217h1.9M701 212h1.9M711 224h1.9M709 243h1.9M714 220h1.9M712 237h1.9M701 221h1.9M705 216h1.9M716 210h1.9M699 226h1.9M705 230h1.9M708 227h1.9M713 212h1.9M706 223h1.9M707 230h1.9M700 224h1.9M711 231h1.9M702 244h1.9M721 218h1.9M708 247h1.9M711 230h1.9M705 224h1.9M703 219h1.9M706 222h1.9M708 232h1.9M708 229h1.9M705 226h1.9M711 220h1.9M715 229h1.9M701 225h1.9M702 230h1.9M701 237h1.9M701 211h1.9M701 213h1.9M706 236h1.9M701 242h1.9M713 247h1.9M714 230h1.9M708 233h1.9M702 221h1.9M706 221h1.9M705 227h1.9M709 236h1.9M703 222h1.9M695 222h1.9M709 229h1.9M702 227h1.9M694 220h1.9M717 212h1.9M704 230h1.9M704 222h1.9M706 228h1.9M705 214h1.9M710 235h1.9M703 235h1.9M714 215h1.9M715 207h1.9M706 213h1.9M699 209h1.9M704 206h1.9M697 203h1.9M707 213h1.9M713 208h1.9M706 203h1.9M709 207h1.9M711 219h1.9M707 199h1.9M702 199h1.9M700 216h1.9M708 199h1.9M711 216h1.9M705 204h1.9M705 210h1.9M711 215h1.9M715 212h1.9M698 207h1.9M709 206h1.9M712 206h1.9M701 217h1.9M711 209h1.9M713 214h1.9M709 193h1.9M703 205h1.9M701 209h1.9M714 205h1.9M700 220h1.9M706 172h1.9M709 154h1.9M704 160h1.9M705 195h1.9M709 196h1.9M705 184h1.9M707 189h1.9M704 178h1.9M708 165h1.9M712 144h1.9M715 184h1.9M705 175h1.9M711 175h1.9M716 175h1.9M714 172h1.9M709 145h1.9M702 162h1.9M717 155h1.9M715 167h1.9M717 193h1.9M707 134h1.9M708 148h1.9M705 156h1.9M717 163h1.9M709 177h1.9M709 176h1.9M708 176h1.9M699 171h1.9M705 168h1.9M709 164h1.9M733 230h1.9M727 231h1.9M705 241h1.9M711 266h1.9M704 250h1.9M696 259h1.9M718 258h1.9M710 256h1.9M699 263h1.9" stroke="#1a1a1a" stroke-width="1.9" fill="none"/>
<path d="M940 226h1.9M950 235h1.9M951 231h1.9M944 218h1.9M949 223h1.9M940 219h1.9M945 214h1.9M940 216h1.9M950 231h1.9M962 217h1.9M944 235h1.9M947 226h1.9M960 225h1.9M941 218h1.9M951 230h1.9M940 221h1.9M952 232h1.9M944 233h1.9M952 215h1.9M946 231h1.9M945 212h1.9M947 234h1.9M959 212h1.9M965 220h1.9M955 237h1.9M955 229h1.9M941 233h1.9M944 209h1.9M967 233h1.9M960 221h1.9M958 240h1.9M959 228h1.9M941 227h1.9M934 215h1.9M949 221h1.9M947 227h1.9M961 238h1.9M948 237h1.9M943 225h1.9M954 219h1.9M947 218h1.9M949 240h1.9M944 230h1.9M943 219h1.9M940 239h1.9M964 232h1.9M946 234h1.9M950 230h1.9M952 224h1.9M946 215h1.9M946 217h1.9M948 221h1.9M949 231h1.9M939 222h1.9M942 234h1.9M960 234h1.9M946 239h1.9M939 239h1.9M944 207h1.9M966 240h1.9M942 229h1.9M947 229h1.9M939 223h1.9M952 230h1.9M956 229h1.9M964 223h1.9M950 214h1.9M940 238h1.9M942 232h1.9M948 220h1.9M946 224h1.9M945 234h1.9M953 224h1.9M943 230h1.9M948 236h1.9M966 234h1.9M948 227h1.9M943 221h1.9M942 225h1.9M946 227h1.9M941 240h1.9M952 241h1.9M954 239h1.9M947 233h1.9M966 219h1.9M956 241h1.9M951 234h1.9M957 223h1.9M951 221h1.9M944 223h1.9M948 229h1.9M952 217h1.9M962 237h1.9M953 225h1.9M948 232h1.9M951 215h1.9M953 250h1.9M936 236h1.9M951 227h1.9M958 219h1.9M950 239h1.9M947 225h1.9M949 225h1.9M959 221h1.9M954 218h1.9M953 227h1.9M931 228h1.9M941 225h1.9M959 219h1.9M941 239h1.9M955 228h1.9M949 227h1.9M945 243h1.9M949 219h1.9M944 228h1.9M937 218h1.9M954 224h1.9M951 237h1.9M953 228h1.9M963 233h1.9M935 227h1.9M938 225h1.9M945 236h1.9M946 226h1.9M950 236h1.9M934 222h1.9M942 220h1.9M943 222h1.9M944 229h1.9M959 230h1.9M942 230h1.9M954 222h1.9M948 215h1.9M946 209h1.9M943 203h1.9M946 221h1.9M947 205h1.9M946 207h1.9M953 209h1.9M962 209h1.9M958 210h1.9M953 199h1.9M949 208h1.9M948 195h1.9M955 206h1.9M947 206h1.9M948 210h1.9M942 202h1.9M951 209h1.9M944 208h1.9M957 202h1.9M959 213h1.9M947 213h1.9M941 198h1.9M942 206h1.9M948 205h1.9M950 195h1.9M952 199h1.9M946 206h1.9M943 200h1.9M943 208h1.9M953 211h1.9M944 203h1.9M945 158h1.9M939 195h1.9M948 144h1.9M952 170h1.9M952 194h1.9M951 171h1.9M957 191h1.9M958 157h1.9M951 194h1.9M949 186h1.9M943 132h1.9M952 134h1.9M938 131h1.9M954 144h1.9M951 164h1.9M954 191h1.9M955 155h1.9M954 184h1.9M955 188h1.9M947 172h1.9M946 191h1.9M949 154h1.9M957 189h1.9M947 146h1.9M957 151h1.9M955 153h1.9M946 133h1.9M943 197h1.9M956 161h1.9M963 130h1.9M979 234h1.9M956 256h1.9M940 255h1.9M953 248h1.9M943 260h1.9M947 243h1.9M945 246h1.9M948 253h1.9" stroke="#1a1a1a" stroke-width="1.9" fill="none"/>
<path d="M213 412h2M190 407h2M211 408h2M212 391h2M195 416h2M194 363h2M212 388h2M200 376h2M192 380h2M200 406h2M183 413h2M193 382h2M209 399h2M190 431h2M196 404h2M205 424h2M199 417h2M197 419h2M197 394h2M219 405h2M204 438h2M206 386h2M209 380h2M213 421h2M198 389h2M205 400h2M195 410h2M186 393h2M200 395h2M206 379h2M208 397h2M197 377h2M193 406h2M195 401h2M212 418h2M216 395h2M194 417h2M206 419h2M203 420h2M210 412h2M207 407h2M205 404h2M211 391h2M218 398h2M211 398h2M201 435h2M200 378h2M197 395h2M221 404h2M211 383h2M206 411h2M218 388h2M208 405h2M194 400h2M201 360h2M208 409h2M199 377h2M216 405h2M212 424h2M199 414h2M201 399h2M202 400h2M212 402h2M202 395h2M206 385h2M199 399h2M198 398h2M198 434h2M214 408h2M203 437h2M206 399h2M206 405h2M215 400h2M221 385h2M209 383h2M218 394h2M203 416h2M214 381h2M204 398h2M200 388h2M200 387h2M207 426h2M187 398h2M199 408h2M195 398h2M194 412h2M204 397h2M206 396h2M190 410h2M205 397h2M211 421h2M194 387h2M216 424h2M197 380h2M198 392h2M190 401h2M192 379h2M211 388h2M202 411h2M210 394h2M203 386h2M218 411h2M209 408h2M219 423h2M192 404h2M204 446h2M204 364h2M197 402h2M192 385h2M202 385h2M210 391h2M196 411h2M189 399h2M209 394h2M205 381h2M214 419h2M205 370h2M218 405h2M214 390h2M201 400h2M207 374h2M211 422h2M193 377h2M206 389h2M183 414h2M204 392h2M221 402h2M206 391h2M199 428h2M210 414h2M207 408h2M219 384h2M201 377h2M200 409h2M215 389h2M203 394h2M204 371h2M204 400h2M197 383h2M191 432h2M192 426h2M208 394h2M193 418h2M218 384h2M200 418h2M206 434h2M198 409h2M192 436h2M197 362h2M202 398h2M219 394h2M203 410h2M216 399h2M212 409h2M200 401h2M203 384h2M213 376h2M213 416h2M202 387h2M201 408h2M209 405h2M205 373h2M209 403h2M199 420h2M209 352h2M203 375h2M212 442h2M199 401h2M201 406h2M208 422h2M195 427h2M195 405h2M195 388h2M213 378h2M207 410h2M208 408h2M216 408h2M210 410h2M218 368h2M214 396h2M201 384h2M187 394h2M197 408h2M190 424h2M205 396h2M197 387h2M193 391h2M203 397h2M191 395h2M195 403h2M219 411h2M200 372h2M191 371h2M209 387h2M204 389h2M204 424h2M196 415h2M194 381h2M191 376h2M207 444h2M201 396h2M197 433h2M187 406h2M206 390h2M204 415h2M204 407h2M209 365h2M216 439h2M211 417h2M191 398h2M196 390h2M211 386h2M202 368h2M202 402h2M197 388h2M219 379h2M194 386h2M213 436h2M206 388h2M199 418h2M195 425h2M215 401h2M208 413h2M216 382h2M213 394h2M196 402h2M201 383h2M189 384h2M215 433h2M209 420h2M205 382h2M195 402h2M200 382h2M212 400h2M200 402h2M202 389h2M200 413h2M189 393h2M199 403h2M199 391h2M210 403h2M193 423h2M211 390h2M210 388h2M213 396h2M196 394h2M196 403h2M204 401h2M204 368h2M205 419h2M205 393h2M201 398h2M198 390h2M195 420h2M201 401h2M202 408h2M210 404h2M217 395h2M201 425h2M200 440h2M206 409h2M202 376h2M192 407h2M193 375h2M200 375h2M211 420h2M227 415h2M198 385h2M174 390h2M201 416h2M208 410h2M205 411h2M215 382h2M199 376h2M217 422h2M204 396h2M207 393h2M201 405h2M211 382h2M209 407h2M199 386h2M193 413h2M201 407h2M199 405h2M197 400h2M208 401h2M199 382h2M204 406h2M201 387h2M208 442h2M206 356h2M204 388h2M215 396h2M196 396h2M204 390h2M203 377h2M201 413h2M220 412h2M205 420h2M212 428h2M212 398h2M205 403h2M206 403h2M196 364h2M197 366h2M189 412h2M210 402h2M217 432h2M198 386h2M197 398h2M191 382h2M208 399h2M206 368h2M196 391h2M203 390h2M211 399h2M203 400h2M209 392h2M213 408h2M207 417h2M211 406h2M214 400h2M185 423h2M204 380h2M201 385h2M221 408h2M190 409h2M200 433h2M194 362h2M204 394h2M199 364h2M207 428h2M187 420h2M198 440h2M207 397h2M198 412h2M199 370h2M220 394h2M198 406h2M190 377h2M204 419h2M208 382h2M205 384h2M212 408h2M204 387h2M209 398h2M196 416h2M209 390h2M213 395h2M197 392h2M202 426h2M216 396h2M217 399h2M206 415h2M205 441h2M205 380h2M214 393h2M200 349h2M212 414h2M210 417h2M211 387h2M206 377h2M206 397h2M196 407h2M200 373h2M194 430h2M190 404h2M208 411h2M193 395h2M204 414h2M198 380h2M212 419h2M206 402h2M210 379h2M194 404h2M203 393h2M206 376h2M203 407h2M205 418h2M193 374h2M205 408h2M221 410h2M196 414h2M196 375h2M225 406h2M209 410h2M213 383h2M191 424h2M216 409h2M197 426h2M209 409h2M206 418h2M207 413h2M193 409h2M222 391h2M202 415h2M211 411h2M189 409h2M193 386h2M208 395h2M210 454h2M195 389h2M194 391h2M194 389h2M191 377h2M207 401h2M200 411h2M191 439h2M187 387h2M209 401h2M199 416h2M194 405h2M207 383h2M219 390h2M220 381h2M208 380h2M192 403h2M209 378h2M213 386h2M208 369h2M217 410h2M199 383h2M189 377h2M216 394h2M198 423h2M198 374h2M193 392h2M208 404h2M205 383h2M185 391h2M201 379h2M194 398h2M207 396h2M194 401h2M219 389h2M213 423h2M216 386h2M220 402h2M201 422h2M197 382h2M212 382h2M218 379h2M205 395h2M189 388h2M213 392h2M197 415h2M196 399h2M212 389h2M197 414h2M216 380h2M181 375h2M208 398h2M197 403h2M195 399h2M198 446h2M210 386h2M195 393h2M199 387h2M202 396h2M213 389h2M212 404h2M203 366h2M192 413h2M215 404h2M209 393h2M200 389h2M201 394h2M196 429h2M216 417h2M202 409h2M184 421h2M187 412h2M196 383h2M208 430h2M202 399h2M205 407h2M209 371h2M198 426h2M180 388h2M209 372h2M225 356h2M215 426h2M211 396h2M210 381h2M201 417h2M194 394h2M204 377h2M213 406h2M190 399h2M196 389h2M199 380h2M208 416h2M221 422h2M206 400h2M215 416h2M196 388h2M215 405h2M201 420h2M199 367h2M198 387h2M203 371h2M202 375h2M206 406h2M203 435h2M211 419h2M192 418h2M207 416h2M207 379h2M193 431h2M205 376h2M206 394h2M187 361h2M189 405h2M203 396h2M205 410h2M185 395h2M196 379h2M201 375h2M199 434h2M194 371h2M207 381h2M193 390h2M202 412h2M208 400h2M211 401h2M211 376h2M190 413h2M202 392h2M199 424h2M181 415h2M223 400h2M203 412h2M219 380h2M208 403h2M203 389h2M202 380h2M216 398h2M191 419h2M197 409h2M203 404h2M184 401h2M207 382h2M191 437h2M200 435h2M207 411h2M213 407h2M204 403h2M214 414h2M200 384h2M211 400h2M221 399h2M230 417h2M207 392h2M179 397h2M205 433h2M201 412h2M181 402h2M200 412h2M204 381h2M211 412h2M208 417h2M214 412h2M204 393h2M198 378h2M197 412h2M209 396h2M203 395h2M194 422h2M206 442h2M191 384h2M202 417h2M211 405h2M204 408h2M194 413h2M207 427h2M203 415h2M214 417h2M198 397h2M204 383h2M201 397h2M201 388h2M207 400h2M208 396h2M203 428h2M209 414h2M209 416h2M225 398h2M191 420h2M204 405h2M219 443h2M195 418h2M208 407h2M206 421h2M206 430h2M207 399h2M194 402h2M205 365h2M203 411h2M204 384h2M214 388h2M203 417h2M213 404h2M193 389h2M195 397h2M188 402h2M207 384h2M191 389h2M213 418h2M200 426h2M210 387h2M195 375h2M205 399h2M202 393h2M215 393h2M197 421h2M215 406h2M188 390h2M216 377h2M209 389h2M214 399h2M191 381h2M198 383h2M202 388h2M186 387h2M194 406h2M204 386h2M200 427h2M195 384h2M199 409h2M218 370h2M203 401h2M202 397h2M200 417h2M199 398h2M203 402h2M203 403h2M203 383h2M196 382h2M205 388h2M207 370h2M217 401h2M202 418h2M222 382h2M202 414h2M206 441h2M193 407h2M213 417h2M216 437h2M200 407h2M201 421h2M201 402h2M194 411h2M201 403h2M204 416h2M186 405h2M190 421h2M186 383h2M189 428h2M192 402h2M198 369h2M200 400h2M219 406h2M205 389h2M197 425h2M194 384h2M220 360h2M206 412h2M195 373h2M211 426h2M200 362h2M215 397h2M213 399h2M200 392h2M185 384h2M191 400h2M199 395h2M199 406h2M196 395h2M202 422h2M206 398h2M218 423h2M211 409h2M198 407h2M207 386h2M198 365h2M195 369h2M200 410h2M206 383h2M200 415h2M185 405h2M208 388h2M209 374h2M203 408h2M214 418h2M190 383h2M189 418h2M208 412h2M196 380h2M204 402h2M194 364h2M201 393h2M192 394h2M213 403h2M215 398h2M198 424h2M209 400h2M207 403h2M195 417h2M185 396h2M223 394h2M193 400h2M214 397h2M208 402h2M200 454h2M204 391h2M206 413h2M204 376h2M198 388h2M182 394h2M210 389h2M219 416h2M213 377h2M194 418h2M210 400h2M207 389h2M207 388h2M208 354h2M210 395h2M204 395h2M191 391h2M209 424h2M215 385h2M221 401h2M217 376h2M211 436h2M218 412h2M201 391h2M200 386h2M201 357h2M225 413h2M199 410h2M187 424h2M202 416h2M207 406h2M196 381h2M213 384h2M210 430h2M209 413h2M208 426h2M215 439h2M202 382h2M207 376h2M212 383h2M210 373h2M196 401h2M199 361h2M206 407h2M194 410h2M203 388h2M222 374h2M209 417h2M186 371h2M208 392h2M180 403h2M218 418h2M210 380h2M200 391h2M199 381h2M207 404h2M214 403h2M180 389h2M200 396h2M197 411h2M199 390h2M198 372h2M192 429h2M207 424h2M200 365h2M216 402h2M199 392h2M218 416h2M200 368h2M204 409h2M202 379h2M205 414h2M205 409h2M199 397h2M221 403h2M211 393h2M221 420h2M208 387h2M188 383h2M213 397h2M214 391h2M214 407h2M191 387h2M202 410h2M200 398h2M211 424h2M210 422h2M206 395h2M207 431h2M204 421h2M217 383h2M201 414h2M189 406h2M194 444h2M192 417h2M201 410h2M197 391h2M214 383h2M188 407h2M193 393h2M216 423h2M199 396h2M213 375h2M211 377h2M196 370h2M212 364h2M203 438h2M209 386h2M205 406h2M200 405h2M203 425h2M182 412h2M209 384h2M186 381h2M199 404h2M213 400h2M202 391h2M217 418h2M196 410h2M223 379h2M202 386h2M192 409h2M203 418h2M194 403h2M209 418h2M195 422h2M203 405h2M201 409h2M191 401h2M196 392h2M202 403h2M189 373h2M200 408h2M203 382h2M195 392h2M198 382h2M222 387h2M193 402h2M186 420h2M223 423h2M209 391h2M211 423h2M197 376h2M198 396h2M212 374h2M212 434h2M203 380h2M209 444h2M193 394h2M200 430h2M216 413h2M210 382h2M205 427h2M208 385h2M211 407h2M191 430h2M202 423h2M215 375h2M210 396h2M206 428h2M187 401h2M197 420h2M212 393h2M203 376h2M198 419h2M185 369h2M191 392h2M203 399h2M199 379h2M183 397h2M215 408h2M196 400h2M210 421h2M195 413h2M215 394h2M191 407h2M194 415h2M198 401h2M204 426h2M195 391h2M189 408h2M199 407h2M212 397h2M211 403h2M211 366h2M189 364h2M196 418h2M204 413h2M204 363h2M200 423h2M194 347h2M198 367h2M187 414h2M209 367h2M210 408h2M196 412h2M189 380h2M210 377h2M193 384h2M205 394h2M192 391h2M205 431h2M214 389h2M191 399h2M204 412h2M201 389h2M199 369h2M193 401h2M188 391h2M207 412h2M202 394h2M205 392h2M210 393h2M192 398h2M201 428h2M215 410h2M205 423h2M206 371h2M194 372h2M196 409h2M205 386h2M191 375h2M195 423h2M213 405h2M205 398h2M206 380h2M195 436h2M205 366h2M196 373h2M194 397h2M209 419h2M208 391h2M191 397h2M197 422h2M207 385h2M202 378h2M192 408h2M198 402h2M207 398h2M189 385h2M211 413h2M187 397h2M217 424h2M220 390h2M213 431h2M205 432h2M212 394h2M199 437h2M203 381h2M185 417h2M223 412h2M209 373h2M209 395h2M198 373h2M207 375h2M204 399h2M210 368h2M192 399h2M212 359h2M202 432h2M210 424h2M193 411h2M200 403h2M188 393h2M216 436h2M202 430h2M183 415h2M199 439h2M205 402h2M187 425h2M184 415h2M211 389h2M203 406h2M181 385h2M211 404h2M196 405h2M185 394h2M218 392h2M186 409h2M198 394h2M209 428h2M201 371h2M213 409h2M222 400h2M207 368h2M202 405h2M193 489h2M191 469h2M200 462h2M203 479h2M197 491h2M199 476h2M192 458h2M194 471h2M195 480h2M182 463h2M186 486h2M195 469h2M191 482h2M196 476h2M184 484h2M201 479h2M207 472h2M197 480h2M202 471h2M199 469h2M204 482h2M199 490h2M188 471h2M211 470h2M187 486h2M202 463h2M204 464h2M189 472h2M195 464h2M196 465h2M199 473h2M204 469h2M189 462h2M197 487h2M205 468h2M205 463h2M206 470h2M204 479h2M197 477h2M191 473h2M206 511h2M204 474h2M192 483h2M187 466h2M201 463h2M209 483h2M189 461h2M202 479h2M201 476h2M195 477h2M188 474h2M209 486h2M195 471h2M208 490h2M188 470h2M200 485h2M193 479h2M197 495h2M202 472h2M196 483h2M203 464h2M200 461h2M193 462h2M189 467h2M192 478h2M204 471h2M191 481h2M184 456h2M204 480h2M206 472h2M190 469h2M203 467h2M194 461h2M203 463h2M198 454h2M190 477h2M193 481h2M196 469h2M202 475h2M207 481h2M195 473h2M198 461h2M192 482h2M188 483h2M201 472h2M202 478h2M207 470h2M197 471h2M212 482h2M192 471h2M194 474h2M200 494h2M186 483h2M202 467h2M198 469h2M199 483h2M188 486h2M196 487h2M202 485h2M203 483h2M199 466h2M203 480h2M213 456h2M197 483h2M190 472h2M214 486h2M193 487h2M193 469h2M204 475h2M212 471h2M182 471h2M201 477h2M209 468h2M190 486h2M181 466h2M204 473h2M196 493h2M197 472h2M191 467h2M199 467h2M204 458h2M196 472h2M193 475h2M194 467h2M211 481h2M207 474h2M206 481h2M207 495h2M197 476h2M199 442h2M189 474h2M203 469h2M207 485h2M211 478h2M192 487h2M198 471h2M200 469h2M208 479h2M193 473h2M205 470h2M219 472h2M195 484h2M197 478h2M205 481h2M177 466h2M194 472h2M200 482h2M203 473h2M210 477h2M185 477h2M196 473h2M206 478h2M197 482h2M197 470h2M199 465h2M197 474h2M198 474h2M199 475h2M193 482h2M194 483h2M186 464h2M206 473h2M194 477h2M192 475h2M183 470h2M194 479h2M205 466h2M210 469h2M185 453h2M210 473h2M191 486h2M198 490h2M198 453h2M205 471h2M197 488h2M197 484h2M208 483h2M199 479h2M203 472h2M205 472h2M203 465h2M200 478h2M193 470h2M195 481h2M194 478h2M188 475h2M206 471h2M207 480h2M195 472h2M200 479h2M188 467h2M193 472h2M193 480h2M201 459h2M199 464h2M196 475h2M210 476h2M205 484h2M192 489h2M204 483h2M202 469h2M215 479h2M206 484h2M203 485h2M209 463h2M196 466h2M200 487h2M204 465h2M201 458h2M205 477h2M194 469h2M201 475h2M200 490h2M208 468h2M195 490h2M197 475h2M193 465h2M196 482h2M196 462h2M210 453h2M195 479h2M189 480h2M208 466h2M201 464h2M203 475h2M201 486h2M202 486h2M204 463h2M189 486h2M200 477h2M201 471h2M200 455h2M209 464h2M184 466h2M193 477h2M192 494h2M203 492h2M192 480h2M192 479h2M204 460h2M191 464h2M189 468h2M192 461h2M199 472h2M194 481h2M205 480h2M198 492h2M198 485h2M193 478h2M199 468h2M197 460h2M195 456h2M215 488h2M208 477h2M206 486h2M206 482h2M195 463h2M191 478h2M206 462h2M211 487h2M196 470h2M196 464h2M201 455h2M200 484h2M201 481h2M202 481h2M200 467h2M197 473h2M208 489h2M209 477h2M211 473h2M211 485h2M199 482h2M198 467h2M197 466h2M203 474h2M203 481h2M177 477h2M186 475h2M209 459h2M200 473h2M186 480h2M194 503h2M196 458h2M193 471h2M205 478h2M201 492h2M195 478h2M200 475h2M196 479h2M198 476h2M215 464h2M201 482h2M200 480h2M200 481h2M208 472h2M200 474h2M196 474h2M211 489h2M208 465h2M210 468h2M199 491h2M201 473h2M208 462h2M200 472h2M187 469h2M193 488h2M208 459h2M191 472h2M181 454h2M190 483h2M198 459h2M202 480h2M199 471h2M193 476h2M205 460h2M193 466h2M194 464h2M199 470h2M211 461h2M186 472h2M204 493h2M197 469h2M187 476h2M192 468h2M188 458h2M213 474h2M197 464h2M203 457h2M211 488h2M212 464h2M194 482h2M191 468h2M186 491h2M201 470h2M196 480h2M194 485h2M208 473h2M203 470h2M183 479h2M190 484h2M188 457h2M201 478h2M200 463h2M205 461h2M196 467h2M204 459h2M191 471h2M185 480h2M204 472h2M198 481h2M183 465h2M202 460h2M200 466h2M214 474h2M205 485h2M212 466h2M178 469h2M212 458h2M203 489h2M187 474h2M205 462h2M181 473h2M199 502h2M197 465h2M204 476h2M202 470h2M192 477h2M213 488h2M203 476h2M201 469h2M199 481h2M187 467h2M209 490h2M204 461h2M203 478h2M202 464h2M203 461h2M209 475h2M207 468h2M214 465h2M201 485h2M183 483h2M199 474h2M191 477h2M191 465h2M196 463h2M210 462h2M195 455h2M214 483h2M195 465h2M195 461h2M197 479h2M185 472h2M198 463h2M187 478h2M204 470h2M200 496h2M188 476h2M211 477h2M193 474h2M185 475h2M199 480h2M194 470h2M187 475h2M210 475h2M202 465h2M209 467h2M205 475h2M202 474h2M196 478h2M199 485h2M184 465h2M195 454h2M193 493h2M198 466h2M211 480h2M196 485h2M201 465h2M206 475h2M192 467h2M200 460h2M203 482h2M205 489h2M210 471h2M211 490h2M204 491h2M207 477h2M209 479h2M204 467h2M196 471h2M206 491h2M207 483h2M207 486h2M197 463h2M198 460h2M183 457h2M210 458h2M202 487h2M196 489h2M212 483h2M216 480h2M190 495h2M195 474h2M194 475h2M191 461h2M214 484h2M212 478h2M198 462h2M199 455h2M197 489h2M201 484h2M208 492h2M190 475h2M187 482h2M192 472h2M201 493h2M203 477h2M207 456h2M197 457h2M198 470h2M186 466h2M214 478h2M195 467h2M211 475h2M198 487h2M203 484h2M207 492h2M199 459h2M217 464h2M199 461h2M208 478h2M199 477h2M210 478h2M200 470h2M189 469h2M202 477h2M190 482h2M199 484h2M207 476h2M201 460h2M201 487h2M184 471h2M196 477h2M206 483h2M204 445h2M193 436h2M213 446h2M197 444h2M199 429h2M201 424h2M216 455h2M194 443h2M211 438h2M192 443h2M217 417h2M199 458h2M206 425h2M214 420h2M211 447h2M210 441h2M209 447h2M219 430h2M211 449h2M203 432h2M191 453h2M189 464h2M199 445h2M202 448h2M199 435h2M211 462h2M205 438h2M188 451h2M208 435h2M202 458h2M198 435h2M206 427h2M201 442h2M209 454h2M203 445h2M202 443h2M214 401h2M200 446h2M204 455h2M198 411h2M199 422h2M216 443h2M195 433h2M193 447h2M214 438h2M209 426h2M204 478h2M190 461h2M190 426h2M209 434h2M200 453h2M195 468h2M207 448h2M186 445h2M191 428h2M208 427h2M204 435h2M217 440h2M192 423h2M202 457h2M203 443h2M204 439h2M204 454h2M208 432h2M187 428h2M198 448h2M197 423h2M216 463h2M199 462h2M212 423h2M223 426h2M199 423h2M202 420h2M214 427h2M209 436h2M203 441h2M202 440h2M195 432h2M205 439h2M196 440h2M203 442h2M196 441h2M190 395h2M194 421h2M203 433h2M191 415h2M205 447h2M200 442h2M217 411h2M203 447h2M202 425h2M193 439h2M198 431h2M207 423h2M205 430h2M204 441h2M203 424h2M195 426h2M202 452h2M210 432h2M183 426h2M187 448h2M198 451h2M189 419h2M195 443h2M205 456h2M197 442h2M208 434h2M198 432h2M196 421h2M217 466h2M196 459h2M194 441h2M187 429h2M197 452h2M200 459h2M181 448h2M205 415h2M190 453h2M205 434h2M204 425h2M203 456h2M206 440h2M193 461h2M201 444h2M206 435h2M193 424h2M207 452h2M187 441h2M219 436h2M209 456h2M196 425h2M213 433h2M200 434h2M207 459h2M198 417h2M201 415h2M195 459h2M219 445h2M192 452h2M183 428h2M213 451h2M207 438h2M196 446h2M207 429h2M203 426h2M209 433h2M195 408h2M192 451h2M225 419h2M192 444h2M204 428h2M214 436h2M195 445h2M208 428h2M190 447h2M203 455h2M201 429h2M193 430h2M191 438h2M207 440h2M206 467h2M210 452h2M206 439h2M206 460h2M198 447h2M212 426h2M198 422h2M210 443h2M197 413h2M198 433h2M206 420h2M201 449h2M194 426h2M199 443h2M195 447h2M210 461h2M194 457h2M207 439h2M205 453h2M215 423h2M205 437h2M198 443h2M203 468h2M201 434h2M215 432h2M197 418h2M204 442h2M195 446h2M191 452h2M212 437h2M198 413h2M204 431h2M197 416h2M196 452h2M204 436h2M187 431h2M210 436h2M206 432h2M186 446h2M203 430h2M198 444h2M196 445h2M199 402h2M194 446h2M197 448h2M209 442h2M208 436h2M194 438h2M205 444h2M199 436h2M214 452h2M197 455h2M199 449h2M223 419h2M200 431h2M208 444h2M202 449h2M201 448h2M215 443h2M185 422h2M202 451h2M185 436h2M183 440h2M190 450h2M200 444h2M206 431h2M196 454h2M197 441h2M209 435h2M207 447h2M197 424h2M200 419h2M191 455h2M194 468h2M193 440h2M205 464h2M202 439h2M198 436h2M231 445h2M215 460h2M197 447h2M214 443h2M203 448h2M189 427h2M204 448h2M194 435h2M200 437h2M193 445h2M188 444h2M196 427h2M206 429h2M194 429h2M201 483h2M184 439h2M198 400h2M192 432h2M208 453h2M196 448h2M198 441h2M196 438h2M202 459h2M183 472h2M197 461h2M190 437h2M209 449h2M187 450h2M203 444h2M197 430h2M195 435h2M190 439h2M189 441h2M208 470h2M211 418h2M211 443h2M201 462h2M205 469h2M192 439h2M198 428h2M189 423h2M210 444h2M201 454h2M193 456h2M206 426h2M201 439h2M206 450h2M190 418h2M209 441h2M213 420h2M206 461h2M190 446h2M201 423h2M193 450h2M207 430h2M189 476h2M209 445h2M213 442h2M204 423h2M194 427h2M251 428h2M244 383h2M247 427h2M239 402h2M242 409h2M252 387h2M244 418h2M265 418h2M261 395h2M242 418h2M229 400h2M218 395h2M236 380h2M257 388h2M242 397h2M236 427h2M240 405h2M227 393h2M242 396h2M238 404h2M272 399h2M245 395h2M287 430h2M256 414h2M236 399h2M251 404h2M234 388h2M256 407h2M267 390h2M251 376h2M261 382h2M228 396h2M285 391h2M228 410h2M251 431h2M228 373h2M243 408h2M253 421h2M224 387h2M245 416h2M255 394h2M231 417h2M262 449h2M245 430h2M229 392h2M237 393h2M234 392h2M247 394h2M258 400h2M248 427h2M252 404h2M247 403h2M257 387h2M265 429h2M266 393h2M250 416h2M245 396h2M271 390h2M264 417h2M227 406h2M239 385h2M219 374h2M254 395h2M252 383h2M243 397h2M223 372h2M254 404h2M233 400h2M258 434h2M234 412h2M281 403h2M271 356h2M270 401h2M218 415h2M264 423h2M266 401h2M236 393h2M247 409h2M240 402h2M261 407h2M284 440h2M230 391h2M227 381h2M256 384h2M231 397h2M260 395h2M255 410h2M262 384h2M251 390h2M264 416h2M231 425h2M229 422h2M251 386h2M230 396h2M247 389h2M256 377h2M247 401h2M218 407h2M228 357h2M238 397h2M262 393h2M271 427h2M265 425h2M253 392h2M258 419h2M251 397h2M223 413h2M253 378h2M249 414h2M246 415h2M259 375h2M243 410h2M262 426h2M217 400h2M259 423h2M274 385h2M242 383h2M260 378h2M266 418h2M255 363h2M237 415h2M225 397h2M246 417h2M252 406h2M241 402h2M245 414h2M245 420h2M221 423h2M245 422h2M249 417h2M271 392h2M249 398h2M251 373h2M245 397h2M235 398h2M255 435h2M234 381h2M252 372h2M251 389h2M242 406h2M248 435h2M257 378h2M263 378h2M249 379h2M234 425h2M239 390h2M239 396h2M270 380h2M228 412h2M222 395h2M265 401h2M240 389h2M233 391h2M250 423h2M263 391h2M236 414h2M219 393h2M242 381h2M232 407h2M237 403h2M226 420h2M241 389h2M232 421h2M250 399h2M263 388h2M257 401h2M233 414h2M233 408h2M269 411h2M237 400h2M241 380h2M229 401h2M255 369h2M246 410h2M248 383h2M263 379h2M257 429h2M235 395h2M225 403h2M255 389h2M232 392h2M246 401h2M245 402h2M226 352h2M256 425h2M224 389h2M251 417h2M257 423h2M246 408h2M253 393h2M265 411h2M263 382h2M253 354h2M231 413h2M239 403h2M221 428h2M256 400h2M253 406h2M269 404h2M223 396h2M267 410h2M240 411h2M248 411h2M222 384h2M257 396h2M252 435h2M242 404h2M238 389h2M245 375h2M213 424h2M248 403h2M257 413h2M228 421h2M231 404h2M286 402h2M272 394h2M256 401h2M253 385h2M232 406h2M222 385h2M256 389h2M233 381h2M249 394h2M249 397h2M275 393h2M246 403h2M246 399h2M222 409h2M245 424h2M240 379h2M248 384h2M253 381h2M244 396h2M246 391h2M234 399h2M242 361h2M245 425h2M251 411h2M254 392h2M226 414h2M263 410h2M253 407h2M246 405h2M247 406h2M232 389h2M209 402h2M211 433h2M258 412h2M236 381h2M243 401h2M235 403h2M257 411h2M231 363h2M253 429h2M272 405h2M264 429h2M247 405h2M260 400h2M239 387h2M247 390h2M259 395h2M269 421h2M228 419h2M241 424h2M255 400h2M257 391h2M252 407h2M245 407h2M232 410h2M228 411h2M254 413h2M238 453h2M243 403h2M235 425h2M240 418h2M233 406h2M241 417h2M243 386h2M254 381h2M219 414h2M241 385h2M251 412h2M238 398h2M259 414h2M246 388h2M258 411h2M252 425h2M243 395h2M242 434h2M216 406h2M254 402h2M283 421h2M259 386h2M255 395h2M248 405h2M240 412h2M272 419h2M251 369h2M264 420h2M245 394h2M258 388h2M260 383h2M234 402h2M226 402h2M256 379h2M262 392h2M256 405h2M241 393h2M222 390h2M236 430h2M260 406h2M242 410h2M260 392h2M244 405h2M233 405h2M235 407h2M235 415h2M250 412h2M265 387h2M246 392h2M235 436h2M262 372h2M254 393h2M265 403h2M245 404h2M245 400h2M256 383h2M248 400h2M241 414h2M229 396h2M235 411h2M241 403h2M254 375h2M244 400h2M260 414h2M274 405h2M241 394h2M258 429h2M248 390h2M264 406h2M215 402h2M220 435h2M251 382h2M260 389h2M256 402h2M230 413h2M228 425h2M249 385h2M221 429h2M270 381h2M273 405h2M245 401h2M244 426h2M250 371h2M279 417h2M232 396h2M234 403h2M254 406h2M239 389h2M261 400h2M282 388h2M260 403h2M237 425h2M250 387h2M243 419h2M230 425h2M258 397h2M268 431h2M257 405h2M276 427h2M226 417h2M249 404h2M269 392h2M247 407h2M242 400h2M259 402h2M268 389h2M251 378h2M246 390h2M268 415h2M256 433h2M270 414h2M238 378h2M248 396h2M223 427h2M231 391h2M257 374h2M262 418h2M243 384h2M241 371h2M269 403h2M237 387h2M257 428h2M221 413h2M250 440h2M246 395h2M237 417h2M223 415h2M252 393h2M234 420h2M276 394h2M256 432h2M239 398h2M229 399h2M247 395h2M237 375h2M228 385h2M258 393h2M235 413h2M257 389h2M238 413h2M254 388h2M252 401h2M261 409h2M233 420h2M262 379h2M278 382h2M234 396h2M260 412h2M247 425h2M254 426h2M291 405h2M232 404h2M249 381h2M230 397h2M245 357h2M263 403h2M248 407h2M232 401h2M264 421h2M255 397h2M256 395h2M214 387h2M218 424h2M244 447h2M267 378h2M246 380h2M221 405h2M286 429h2M249 395h2M251 420h2M225 369h2M278 407h2M273 406h2M271 391h2M256 429h2M264 394h2M262 390h2M226 411h2M270 417h2M228 417h2M259 394h2M262 411h2M221 375h2M256 398h2M243 387h2M252 395h2M263 415h2M235 435h2M230 410h2M267 428h2M213 390h2M246 394h2M269 390h2M268 412h2M225 384h2M241 404h2M264 399h2M263 374h2M279 400h2M236 387h2M279 401h2M258 424h2M265 385h2M263 417h2M256 420h2M239 401h2M240 416h2M238 409h2M230 400h2M244 365h2M266 391h2M244 387h2M264 386h2M256 423h2M274 423h2M258 380h2M269 423h2M261 416h2M249 393h2M231 419h2M252 418h2M253 422h2M249 382h2M259 378h2M262 433h2M240 419h2M255 414h2M227 413h2M248 422h2M253 415h2M270 406h2M264 407h2M257 393h2M261 424h2M247 417h2M255 383h2M252 391h2M278 402h2M248 391h2M236 426h2M230 401h2M275 365h2M271 378h2M250 443h2M215 378h2M269 406h2M272 396h2M251 424h2M280 392h2M238 396h2M239 372h2M217 390h2M240 400h2M259 416h2M247 402h2M278 397h2M241 374h2M255 398h2M261 419h2M274 380h2M273 403h2M247 397h2M212 412h2M250 386h2M248 443h2M255 396h2M275 389h2M246 393h2M245 415h2M258 390h2M247 404h2M242 402h2M237 390h2M249 384h2M255 399h2M241 400h2M235 428h2M263 404h2M263 408h2M244 404h2M290 420h2M265 396h2M258 442h2M255 421h2M268 414h2M273 407h2M256 392h2M289 408h2M250 427h2M236 403h2M242 412h2M241 419h2M259 405h2M230 412h2M229 406h2M249 392h2M236 390h2M280 398h2M245 419h2M229 384h2M300 402h2M264 382h2M253 402h2M240 387h2M226 395h2M274 395h2M258 399h2M259 403h2M241 426h2M244 379h2M243 412h2M231 416h2M260 439h2M239 414h2M223 395h2M250 410h2M248 401h2M239 395h2M253 412h2M258 420h2M267 371h2M239 421h2M260 401h2M250 424h2M270 409h2M260 393h2M245 421h2M248 419h2M282 415h2M263 411h2M249 421h2M224 398h2M247 391h2M255 417h2M271 411h2M237 407h2M257 427h2M220 415h2M255 411h2M262 409h2M239 409h2M267 400h2M266 394h2M237 395h2M268 416h2M270 428h2M271 442h2M227 378h2M256 397h2M233 409h2M236 363h2M251 398h2M238 374h2M242 420h2M258 438h2M246 372h2M261 420h2M231 375h2M251 415h2M236 382h2M228 405h2M243 391h2M234 400h2M231 409h2M225 404h2M245 418h2M232 391h2M245 438h2M226 407h2M238 408h2M258 405h2M236 398h2M259 409h2M212 410h2M266 420h2M247 413h2M267 405h2M250 405h2M252 394h2M260 390h2M236 408h2M216 416h2M255 406h2M237 437h2M276 391h2M249 388h2M264 396h2M262 387h2M266 405h2M289 432h2M240 397h2M235 404h2M249 415h2M249 377h2M266 399h2M248 373h2M262 391h2M250 359h2M214 428h2M224 422h2M252 412h2M244 388h2M261 386h2M262 373h2M234 377h2M268 372h2M252 440h2M276 413h2M259 371h2M235 396h2M245 378h2M234 387h2M264 409h2M252 390h2M244 372h2M254 410h2M254 437h2M251 379h2M232 414h2M264 415h2M261 405h2M225 390h2M220 395h2M227 404h2M245 368h2M259 415h2M259 397h2M264 405h2M245 411h2M241 388h2M242 392h2M251 405h2M250 429h2M266 392h2M254 396h2M246 398h2M210 405h2M266 386h2M252 388h2M246 359h2M258 401h2M251 408h2M241 383h2M282 434h2M240 394h2M253 411h2M237 384h2M278 420h2M224 371h2M235 405h2M256 396h2M223 405h2M247 382h2M232 405h2M267 364h2M223 399h2M225 400h2M239 404h2M253 409h2M265 414h2M259 384h2M245 457h2M283 416h2M259 419h2M241 436h2M282 365h2M253 371h2M242 405h2M235 400h2M229 395h2M226 413h2M227 414h2M241 396h2M266 403h2M218 410h2M202 406h2M241 377h2M249 396h2M279 394h2M278 426h2M238 387h2M268 399h2M250 397h2M228 395h2M232 374h2M243 433h2M273 400h2M250 411h2M269 407h2M266 448h2M238 365h2M249 378h2M216 401h2M229 407h2M227 395h2M224 395h2M269 398h2M234 437h2M264 414h2M260 386h2M238 400h2M249 402h2M241 372h2M223 367h2M200 366h2M217 361h2M188 345h2M204 379h2M201 356h2M197 354h2M175 368h2M212 352h2M184 358h2M208 371h2M208 345h2M203 344h2M212 342h2M208 372h2M226 375h2M211 361h2M215 367h2M206 373h2M216 373h2M202 355h2M195 356h2M209 370h2M210 375h2M208 377h2M180 369h2M200 354h2M214 352h2M257 364h2M219 359h2M202 363h2M231 362h2M223 357h2M219 366h2M215 346h2M197 357h2M213 345h2M198 366h2M225 353h2M202 351h2M211 372h2M193 359h2M206 355h2M196 355h2M197 364h2M212 343h2M189 354h2M220 365h2M205 351h2M207 345h2M206 352h2M247 368h2M209 359h2M210 362h2M206 359h2M225 370h2M216 376h2M214 348h2M189 351h2M211 364h2M226 353h2M201 369h2M227 354h2M216 359h2M184 375h2M220 361h2M205 345h2M210 358h2M226 345h2M230 360h2M227 348h2M216 374h2M213 342h2M207 366h2M193 342h2M215 348h2M220 345h2M188 350h2M231 349h2M211 362h2M199 373h2M214 365h2M176 357h2M209 368h2M231 356h2M208 365h2M231 350h2M220 357h2M207 369h2M201 347h2M220 359h2M208 358h2M218 355h2M221 365h2M213 352h2M249 357h2M219 376h2M194 350h2M206 348h2M195 353h2M228 368h2M212 360h2M190 368h2M217 347h2M214 357h2M205 348h2M203 348h2M218 364h2M216 357h2M206 384h2M187 374h2M216 360h2M205 357h2M196 343h2M223 373h2M167 341h2M215 362h2M213 365h2M221 370h2M235 360h2M210 345h2M230 388h2M219 344h2M210 360h2M214 373h2M229 354h2M208 343h2M194 360h2M223 378h2M209 354h2M233 354h2M215 357h2M216 354h2M203 358h2M203 363h2M213 357h2M209 357h2M300 367h2M248 362h2M276 364h2M258 362h2M265 375h2M279 390h2M290 370h2M287 367h2M244 356h2M282 401h2M251 375h2M268 352h2M224 352h2M230 361h2M258 364h2M258 377h2M270 352h2M226 380h2M247 383h2M278 367h2M261 387h2M270 349h2M265 379h2M266 371h2M258 365h2M286 355h2M265 351h2M326 347h2M240 386h2M267 385h2M235 381h2M250 348h2M254 358h2M231 412h2M251 353h2M280 366h2M291 362h2M269 369h2M265 363h2M259 401h2M246 357h2M254 379h2M270 386h2M232 373h2M267 370h2M230 366h2M295 360h2M274 363h2M244 349h2M279 353h2M283 365h2M246 376h2M261 364h2M259 367h2M242 366h2M283 353h2M267 345h2M315 385h2M271 395h2M250 355h2M285 372h2M267 357h2M282 372h2M240 341h2M259 361h2M272 368h2M267 382h2M269 385h2M236 369h2M254 370h2M261 355h2M254 386h2M250 343h2M275 387h2M256 370h2M244 364h2M286 384h2M265 362h2M227 374h2M272 389h2M279 475h2M259 454h2M264 483h2M267 480h2M249 492h2M227 479h2M261 459h2M218 476h2M243 479h2M253 459h2M247 487h2M233 466h2M218 482h2M278 450h2M255 483h2M229 465h2M220 459h2M243 480h2M243 483h2M244 453h2M269 488h2M226 496h2M249 472h2M278 434h2M209 481h2M236 456h2M270 477h2M216 461h2M257 496h2M201 474h2M233 445h2M237 447h2M230 494h2M251 482h2M252 476h2M260 453h2M234 483h2M226 464h2M264 493h2M229 459h2" stroke="#a81c22" stroke-width="2" fill="none"/>
<path d="M461 408h2M449 414h2M461 405h2M484 428h2M463 422h2M484 423h2M448 409h2M456 394h2M458 408h2M455 395h2M464 376h2M463 404h2M458 362h2M472 373h2M447 415h2M449 397h2M434 396h2M458 416h2M453 408h2M460 392h2M448 438h2M447 426h2M456 430h2M449 413h2M459 400h2M458 390h2M455 397h2M463 402h2M442 397h2M454 388h2M468 411h2M464 390h2M452 422h2M441 410h2M456 395h2M456 385h2M458 382h2M443 429h2M449 366h2M465 390h2M421 403h2M465 410h2M472 402h2M461 386h2M457 431h2M460 407h2M436 397h2M443 418h2M448 410h2M446 437h2M444 406h2M481 408h2M465 419h2M436 408h2M435 437h2M456 396h2M462 413h2M444 433h2M453 373h2M469 431h2M468 414h2M447 421h2M474 418h2M471 390h2M466 421h2M441 375h2M448 405h2M460 400h2M455 402h2M456 414h2M460 403h2M458 396h2M463 395h2M472 404h2M452 407h2M456 393h2M444 405h2M457 414h2M468 398h2M436 401h2M437 381h2M466 414h2M449 393h2M455 373h2M460 398h2M474 385h2M466 392h2M466 386h2M463 396h2M447 401h2M460 411h2M471 419h2M429 397h2M462 380h2M444 407h2M453 432h2M459 414h2M473 395h2M456 386h2M458 423h2M469 403h2M448 390h2M442 406h2M469 362h2M434 429h2M440 410h2M463 407h2M464 405h2M461 437h2M467 392h2M448 400h2M453 405h2M450 416h2M456 411h2M456 415h2M459 412h2M462 424h2M463 409h2M454 375h2M458 399h2M453 448h2M437 405h2M468 422h2M468 382h2M446 416h2M453 435h2M457 392h2M455 396h2M458 379h2M441 413h2M458 387h2M454 386h2M476 376h2M473 390h2M452 421h2M464 399h2M447 442h2M470 407h2M453 410h2M457 426h2M446 405h2M448 428h2M474 403h2M461 430h2M453 388h2M454 431h2M458 373h2M459 404h2M475 404h2M454 413h2M457 399h2M470 448h2M445 387h2M447 393h2M449 406h2M467 381h2M441 372h2M467 429h2M457 424h2M466 408h2M463 411h2M450 439h2M451 377h2M456 424h2M443 425h2M477 412h2M444 389h2M453 382h2M443 400h2M454 416h2M444 438h2M467 421h2M449 436h2M453 437h2M467 389h2M451 438h2M466 402h2M448 401h2M461 387h2M464 421h2M468 416h2M463 401h2M462 388h2M453 418h2M455 413h2M445 429h2M450 412h2M456 422h2M452 387h2M437 399h2M444 414h2M470 365h2M443 410h2M468 410h2M462 434h2M462 382h2M451 408h2M451 392h2M463 398h2M445 392h2M456 443h2M459 432h2M461 366h2M460 389h2M442 385h2M474 376h2M450 426h2M463 374h2M454 418h2M450 399h2M471 371h2M452 413h2M443 393h2M443 407h2M450 419h2M466 405h2M452 409h2M456 383h2M467 409h2M464 380h2M465 443h2M462 378h2M456 404h2M458 400h2M461 396h2M458 392h2M457 423h2M451 417h2M447 398h2M453 427h2M448 427h2M441 402h2M465 417h2M446 382h2M465 382h2M462 395h2M456 447h2M472 420h2M442 410h2M456 403h2M469 373h2M459 407h2M448 436h2M443 405h2M457 365h2M441 387h2M464 422h2M462 409h2M434 408h2M451 426h2M469 445h2M463 419h2M445 406h2M443 421h2M444 401h2M447 396h2M460 394h2M458 386h2M470 393h2M466 443h2M431 386h2M454 426h2M451 411h2M448 415h2M443 420h2M425 370h2M474 407h2M447 445h2M466 425h2M451 416h2M461 374h2M462 401h2M469 428h2M452 402h2M462 412h2M468 409h2M447 372h2M464 398h2M452 399h2M440 397h2M447 438h2M457 418h2M452 450h2M456 368h2M464 452h2M446 468h2M455 423h2M443 385h2M434 425h2M444 411h2M459 392h2M456 402h2M451 405h2M442 388h2M457 430h2M471 410h2M465 406h2M467 406h2M460 399h2M456 439h2M443 404h2M449 422h2M474 398h2M427 415h2M462 373h2M453 403h2M432 417h2M460 408h2M445 391h2M445 431h2M459 363h2M473 407h2M450 406h2M437 407h2M430 385h2M470 427h2M452 386h2M465 403h2M444 419h2M433 431h2M439 392h2M449 417h2M461 413h2M455 368h2M431 361h2M455 399h2M454 408h2M453 385h2M440 368h2M468 421h2M441 399h2M460 434h2M449 407h2M467 371h2M448 403h2M448 443h2M464 407h2M445 420h2M462 394h2M451 376h2M455 420h2M464 392h2M461 419h2M463 406h2M450 411h2M473 406h2M442 408h2M456 423h2M479 399h2M447 412h2M454 406h2M456 363h2M468 393h2M447 425h2M449 405h2M460 417h2M455 383h2M466 395h2M450 441h2M464 384h2M447 368h2M464 418h2M457 415h2M444 397h2M449 416h2M449 427h2M443 399h2M464 416h2M441 432h2M453 384h2M456 392h2M449 391h2M454 394h2M437 413h2M461 415h2M457 427h2M452 385h2M459 353h2M451 407h2M451 427h2M462 405h2M451 424h2M448 395h2M463 414h2M476 399h2M436 415h2M468 400h2M471 436h2M448 394h2M442 413h2M462 414h2M442 389h2M440 373h2M441 374h2M453 411h2M461 403h2M461 398h2M456 397h2M450 404h2M444 423h2M439 412h2M441 431h2M464 388h2M450 382h2M454 411h2M481 378h2M468 392h2M458 419h2M461 411h2M457 425h2M440 394h2M447 423h2M477 428h2M443 411h2M464 400h2M435 366h2M454 414h2M468 397h2M456 408h2M459 410h2M442 403h2M437 366h2M453 395h2M455 436h2M442 405h2M461 368h2M456 388h2M456 410h2M451 396h2M443 413h2M448 411h2M440 428h2M445 424h2M450 413h2M455 426h2M462 416h2M472 390h2M468 404h2M440 412h2M453 434h2M457 368h2M460 385h2M469 434h2M455 374h2M457 406h2M462 398h2M446 436h2M448 391h2M455 380h2M450 401h2M450 398h2M441 395h2M463 391h2M454 387h2M459 386h2M473 403h2M454 405h2M454 390h2M446 390h2M467 391h2M451 395h2M462 440h2M446 413h2M460 380h2M445 432h2M464 424h2M440 398h2M450 415h2M469 368h2M455 401h2M465 402h2M442 399h2M455 394h2M458 375h2M479 426h2M462 379h2M433 387h2M453 444h2M467 426h2M455 425h2M458 391h2M443 401h2M465 378h2M439 413h2M427 437h2M444 444h2M452 401h2M457 422h2M469 405h2M458 427h2M456 437h2M473 427h2M458 398h2M440 389h2M460 418h2M441 396h2M438 393h2M491 404h2M443 369h2M455 398h2M470 373h2M459 428h2M435 415h2M470 403h2M458 424h2M453 400h2M459 418h2M438 404h2M448 412h2M466 409h2M468 385h2M451 385h2M456 405h2M453 381h2M454 395h2M467 407h2M436 400h2M440 421h2M460 376h2M432 393h2M452 375h2M456 409h2M462 432h2M444 427h2M448 473h2M464 420h2M473 421h2M457 416h2M439 411h2M475 382h2M466 393h2M481 422h2M462 406h2M453 414h2M457 401h2M441 398h2M461 395h2M459 401h2M448 398h2M453 424h2M444 366h2M454 450h2M470 414h2M465 392h2M471 432h2M449 425h2M454 423h2M454 398h2M455 406h2M449 378h2M473 396h2M437 362h2M427 392h2M452 370h2M467 410h2M459 429h2M472 423h2M449 379h2M445 371h2M474 400h2M457 407h2M476 393h2M454 368h2M456 425h2M458 404h2M462 399h2M468 391h2M441 403h2M468 394h2M459 372h2M471 415h2M447 429h2M460 431h2M443 435h2M456 366h2M445 400h2M453 399h2M470 404h2M449 386h2M455 424h2M449 385h2M465 405h2M455 442h2M437 398h2M461 425h2M442 419h2M481 404h2M446 412h2M436 433h2M466 396h2M475 392h2M442 366h2M451 386h2M458 421h2M442 387h2M481 401h2M445 399h2M450 381h2M451 403h2M455 414h2M438 376h2M464 396h2M441 414h2M445 409h2M468 443h2M455 417h2M458 412h2M448 419h2M467 405h2M453 397h2M471 395h2M446 389h2M458 413h2M457 411h2M452 396h2M469 395h2M447 376h2M450 389h2M464 383h2M464 373h2M469 402h2M460 435h2M452 405h2M468 419h2M452 397h2M452 374h2M459 419h2M459 437h2M447 410h2M470 392h2M460 413h2M460 420h2M437 368h2M461 422h2M457 410h2M451 389h2M450 418h2M451 430h2M453 429h2M443 391h2M454 441h2M450 434h2M464 411h2M439 410h2M458 420h2M457 398h2M456 382h2M422 425h2M467 377h2M448 407h2M451 388h2M450 407h2M453 390h2M456 374h2M470 372h2M454 410h2M459 408h2M468 383h2M450 393h2M453 406h2M457 412h2M469 388h2M472 395h2M452 368h2M456 438h2M472 416h2M458 417h2M442 407h2M457 395h2M458 377h2M464 427h2M471 411h2M445 386h2M464 436h2M444 404h2M458 403h2M448 441h2M454 400h2M466 404h2M453 420h2M445 417h2M465 415h2M438 401h2M457 396h2M447 403h2M453 364h2M439 382h2M460 402h2M459 391h2M470 378h2M444 400h2M434 398h2M454 449h2M469 406h2M444 409h2M459 396h2M458 397h2M450 431h2M448 406h2M461 418h2M470 411h2M444 439h2M467 418h2M468 377h2M451 394h2M467 382h2M452 430h2M462 396h2M474 380h2M447 407h2M452 420h2M451 391h2M459 425h2M435 405h2M461 378h2M446 415h2M447 392h2M472 386h2M447 362h2M444 381h2M472 425h2M443 438h2M463 400h2M463 410h2M448 372h2M446 403h2M452 390h2M465 384h2M464 395h2M455 389h2M438 403h2M455 418h2M458 385h2M449 359h2M444 426h2M470 417h2M458 414h2M460 372h2M446 424h2M450 387h2M436 406h2M451 399h2M472 414h2M448 413h2M440 422h2M461 429h2M450 386h2M476 403h2M470 391h2M448 431h2M458 367h2M453 387h2M447 370h2M442 414h2M460 395h2M460 428h2M448 424h2M434 387h2M445 434h2M461 402h2M428 406h2M463 427h2M459 373h2M453 419h2M447 413h2M450 405h2M463 390h2M484 406h2M456 398h2M440 376h2M458 401h2M429 364h2M461 381h2M461 397h2M450 400h2M465 413h2M464 391h2M452 382h2M449 396h2M459 417h2M456 420h2M460 416h2M454 381h2M441 438h2M459 411h2M484 383h2M454 402h2M444 380h2M448 397h2M470 419h2M444 350h2M463 412h2M449 426h2M466 407h2M440 415h2M463 388h2M451 404h2M461 394h2M476 390h2M450 438h2M479 404h2M466 406h2M469 415h2M477 424h2M459 402h2M457 417h2M467 400h2M442 434h2M438 400h2M441 407h2M441 421h2M457 393h2M467 398h2M441 392h2M473 388h2M467 399h2M439 396h2M476 401h2M454 409h2M460 443h2M455 400h2M448 379h2M439 415h2M436 428h2M448 396h2M449 372h2M439 391h2M453 421h2M478 434h2M478 384h2M451 398h2M457 382h2M465 411h2M438 399h2M447 408h2M436 425h2M463 428h2M445 361h2M449 400h2M458 394h2M440 436h2M444 408h2M466 389h2M455 433h2M458 407h2M467 419h2M459 394h2M449 411h2M469 404h2M467 385h2M457 384h2M446 388h2M457 394h2M452 418h2M457 402h2M449 430h2M445 393h2M460 404h2M441 362h2M465 393h2M452 403h2M466 394h2M473 393h2M458 374h2M436 441h2M469 424h2M438 407h2M459 405h2M454 383h2M452 410h2M459 377h2M451 418h2M447 395h2M445 427h2M451 390h2M461 423h2M460 421h2M449 410h2M441 389h2M444 369h2M442 384h2M451 413h2M445 395h2M443 398h2M465 407h2M483 431h2M481 410h2M459 422h2M457 409h2M456 418h2M453 371h2M460 424h2M442 386h2M438 435h2M437 410h2M475 418h2M467 386h2M457 376h2M475 413h2M434 370h2M460 405h2M452 414h2M475 410h2M437 400h2M444 402h2M452 416h2M454 403h2M437 451h2M450 394h2M451 378h2M473 379h2M469 372h2M439 405h2M437 385h2M462 402h2M454 407h2M446 392h2M447 414h2M447 419h2M480 388h2M439 389h2M445 380h2M463 429h2M451 381h2M450 397h2M459 376h2M473 428h2M462 422h2M475 419h2M439 399h2M431 388h2M442 402h2M431 394h2M457 385h2M461 388h2M451 400h2M477 397h2M449 415h2M432 408h2M454 379h2M453 379h2M438 392h2M439 395h2M455 421h2M472 393h2M444 425h2M444 434h2M464 425h2M453 413h2M451 414h2M452 446h2M451 412h2M464 401h2M450 402h2M447 424h2M461 420h2M447 404h2M453 422h2M465 436h2M456 381h2M432 386h2M452 436h2M447 381h2M435 396h2M432 405h2M439 353h2M466 411h2M458 409h2M444 422h2M444 437h2M457 369h2M463 438h2M452 391h2M429 425h2M450 409h2M443 386h2M451 380h2M442 428h2M471 398h2M439 386h2M451 434h2M463 426h2M447 428h2M431 406h2M469 397h2M478 404h2M444 413h2M458 418h2M452 426h2M457 391h2M462 421h2M471 369h2M440 384h2M458 443h2M462 425h2M448 385h2M445 423h2M464 363h2M433 380h2M457 438h2M463 405h2M452 404h2M464 367h2M449 390h2M447 378h2M452 389h2M443 423h2M432 448h2M464 403h2M437 409h2M466 413h2M460 366h2M477 403h2M453 404h2M471 430h2M461 439h2M472 365h2M477 409h2M452 360h2M456 400h2M473 397h2M466 424h2M476 398h2M463 375h2M444 398h2M446 428h2M454 434h2M460 391h2M477 392h2M485 403h2M448 367h2M452 392h2M432 432h2M457 403h2M460 410h2M462 407h2M469 407h2M464 404h2M468 401h2M468 405h2M450 417h2M441 405h2M472 379h2M478 395h2M445 403h2M476 404h2M458 436h2M433 363h2M464 417h2M455 407h2M446 404h2M455 416h2M445 418h2M441 427h2M439 364h2M455 387h2M460 440h2M466 398h2M461 389h2M438 412h2M472 428h2M461 383h2M443 380h2M441 401h2M458 450h2M470 389h2M453 392h2M462 400h2M461 373h2M465 387h2M439 378h2M449 424h2M462 381h2M456 401h2M439 385h2M428 388h2M445 388h2M463 420h2M462 393h2M450 403h2M454 436h2M464 350h2M469 411h2M481 398h2M454 424h2M462 384h2M468 408h2M475 391h2M474 416h2M447 382h2M447 430h2M457 420h2M458 405h2M457 378h2M450 422h2M444 399h2M461 424h2M433 368h2M441 391h2M455 444h2M447 406h2M447 391h2M446 399h2M449 409h2M457 387h2M475 381h2M459 443h2M469 409h2M436 487h2M450 469h2M458 467h2M457 469h2M453 464h2M446 466h2M444 476h2M448 476h2M458 473h2M436 471h2M450 483h2M456 483h2M447 480h2M439 486h2M452 479h2M446 475h2M444 479h2M439 483h2M453 493h2M449 473h2M450 474h2M448 464h2M441 469h2M447 463h2M441 471h2M454 472h2M454 483h2M454 470h2M446 457h2M444 478h2M441 486h2M459 471h2M456 461h2M442 471h2M449 472h2M443 492h2M451 477h2M454 476h2M447 469h2M437 488h2M442 459h2M443 459h2M463 477h2M459 487h2M453 479h2M444 473h2M445 474h2M444 486h2M454 473h2M437 480h2M455 473h2M440 478h2M457 456h2M453 457h2M450 490h2M450 478h2M447 474h2M466 486h2M447 471h2M449 494h2M450 484h2M446 462h2M443 468h2M444 468h2M438 485h2M452 483h2M447 477h2M450 485h2M455 477h2M444 463h2M445 463h2M461 476h2M435 464h2M439 476h2M457 465h2M453 471h2M457 486h2M451 481h2M449 471h2M441 477h2M449 470h2M448 472h2M442 469h2M457 472h2M459 463h2M439 475h2M455 468h2M453 483h2M457 473h2M449 459h2M449 477h2M459 462h2M443 465h2M455 451h2M441 493h2M454 462h2M449 482h2M453 472h2M443 482h2M449 481h2M452 470h2M459 469h2M452 468h2M447 472h2M458 491h2M459 472h2M459 478h2M462 463h2M457 470h2M455 471h2M436 465h2M433 463h2M444 472h2M451 467h2M438 477h2M447 482h2M445 480h2M443 476h2M442 473h2M443 473h2M453 501h2M449 480h2M452 496h2M459 459h2M451 475h2M433 466h2M446 467h2M450 458h2M454 481h2M452 471h2M457 479h2M463 471h2M448 465h2M453 474h2M453 488h2M455 474h2M445 477h2M453 481h2M452 485h2M446 477h2M445 476h2M442 477h2M451 484h2M439 466h2M449 460h2M443 461h2M444 481h2M453 482h2M453 456h2M451 457h2M446 471h2M445 479h2M443 490h2M453 485h2M454 482h2M449 492h2M442 478h2M455 481h2M450 481h2M442 458h2M445 472h2M467 472h2M456 482h2M464 475h2M444 487h2M451 473h2M449 469h2M449 474h2M438 476h2M459 465h2M447 476h2M448 479h2M456 478h2M462 478h2M442 467h2M453 477h2M461 481h2M459 467h2M446 480h2M450 480h2M451 469h2M461 484h2M438 469h2M449 462h2M455 472h2M458 477h2M455 470h2M456 476h2M440 471h2M447 478h2M454 464h2M454 474h2M442 482h2M445 484h2M456 470h2M463 474h2M451 453h2M454 469h2M452 459h2M457 487h2M462 448h2M428 468h2M449 487h2M449 478h2M446 482h2M456 462h2M457 468h2M447 484h2M455 480h2M452 473h2M440 477h2M449 483h2M452 491h2M451 490h2M457 497h2M459 470h2M452 462h2M451 472h2M449 476h2M448 484h2M453 473h2M455 486h2M461 482h2M447 462h2M445 459h2M458 476h2M451 476h2M432 482h2M453 475h2M461 462h2M430 488h2M453 460h2M441 480h2M464 487h2M447 466h2M440 492h2M450 466h2M447 488h2M461 469h2M451 483h2M447 464h2M443 475h2M448 483h2M463 468h2M449 463h2M438 468h2M462 481h2M439 468h2M440 467h2M457 484h2M468 470h2M450 479h2M453 467h2M453 486h2M442 454h2M451 471h2M442 453h2M435 468h2M445 460h2M438 459h2M454 457h2M454 466h2M455 485h2M444 466h2M446 484h2M436 476h2M444 482h2M447 457h2M440 483h2M443 486h2M453 463h2M448 474h2M453 455h2M437 466h2M447 475h2M450 492h2M454 479h2M446 481h2M454 480h2M460 467h2M434 481h2M446 499h2M446 463h2M446 478h2M445 470h2M451 470h2M450 473h2M442 474h2M441 482h2M442 472h2M436 470h2M440 487h2M448 478h2M437 463h2M448 462h2M450 477h2M448 481h2M444 477h2M457 476h2M450 471h2M447 459h2M450 472h2M452 474h2M460 463h2M442 480h2M449 456h2M450 461h2M454 465h2M448 477h2M443 467h2M450 475h2M448 461h2M449 484h2M455 479h2M461 479h2M446 483h2M454 499h2M441 473h2M455 464h2M438 484h2M445 475h2M447 470h2M446 485h2M448 469h2M446 474h2M439 470h2M450 476h2M451 494h2M459 464h2M453 478h2M441 479h2M464 480h2M442 468h2M434 472h2M439 452h2M453 469h2M448 485h2M441 474h2M450 462h2M455 492h2M452 465h2M456 464h2M443 479h2M444 474h2M441 478h2M434 470h2M445 487h2M452 469h2M443 474h2M445 493h2M430 474h2M432 483h2M443 487h2M445 483h2M449 448h2M444 460h2M455 478h2M462 476h2M447 461h2M448 470h2M449 464h2M457 461h2M451 474h2M453 461h2M457 481h2M448 480h2M439 465h2M458 484h2M446 476h2M436 469h2M451 452h2M469 481h2M461 474h2M441 475h2M447 481h2M440 472h2M454 471h2M445 481h2M444 470h2M462 474h2M442 475h2M452 477h2M443 471h2M452 482h2M427 479h2M456 485h2M451 480h2M446 473h2M452 464h2M440 474h2M443 469h2M458 489h2M457 478h2M442 466h2M453 494h2M448 487h2M449 479h2M445 495h2M441 458h2M450 486h2M442 465h2M439 469h2M461 473h2M450 493h2M445 465h2M452 463h2M460 465h2M460 469h2M457 464h2M450 468h2M448 463h2M449 451h2M448 445h2M455 466h2M454 478h2M434 459h2M449 468h2M459 457h2M440 465h2M440 469h2M451 485h2M456 491h2M457 474h2M461 480h2M462 472h2M441 468h2M456 474h2M456 467h2M450 459h2M437 487h2M455 487h2M452 461h2M456 475h2M467 477h2M439 478h2M445 461h2M443 485h2M447 485h2M446 472h2M454 456h2M449 475h2M449 467h2M450 482h2M450 470h2M446 458h2M455 475h2M443 489h2M440 485h2M448 491h2M457 485h2M440 473h2M435 479h2M434 465h2M446 459h2M431 480h2M436 481h2M443 477h2M458 478h2M447 468h2M429 480h2M461 463h2M459 492h2M464 473h2M452 480h2M445 473h2M462 488h2M452 476h2M446 469h2M454 484h2M449 490h2M447 460h2M447 465h2M446 489h2M457 441h2M465 460h2M446 445h2M448 418h2M466 463h2M441 448h2M439 457h2M451 436h2M461 440h2M449 454h2M456 452h2M450 467h2M447 436h2M449 458h2M448 447h2M439 433h2M453 439h2M437 448h2M447 439h2M455 410h2M449 398h2M455 452h2M453 445h2M449 444h2M453 433h2M470 434h2M464 457h2M435 444h2M459 453h2M442 424h2M449 443h2M464 446h2M442 433h2M465 420h2M439 439h2M460 415h2M449 419h2M462 451h2M453 440h2M449 442h2M446 427h2M442 440h2M445 454h2M435 449h2M455 459h2M444 458h2M449 434h2M446 456h2M462 438h2M450 451h2M463 433h2M455 435h2M460 444h2M453 425h2M449 435h2M423 453h2M451 437h2M452 442h2M450 420h2M454 461h2M458 435h2M447 431h2M454 430h2M444 428h2M441 419h2M450 443h2M451 428h2M458 463h2M443 436h2M458 437h2M443 433h2M458 425h2M453 446h2M446 449h2M456 456h2M458 449h2M459 427h2M458 446h2M442 460h2M453 453h2M451 454h2M452 457h2M440 447h2M450 436h2M454 435h2M464 444h2M457 459h2M456 440h2M440 456h2M465 421h2M454 485h2M445 446h2M449 437h2M449 440h2M457 428h2M455 429h2M455 445h2M445 442h2M460 412h2M455 448h2M445 449h2M457 429h2M436 447h2M445 414h2M429 447h2M444 450h2M441 434h2M454 446h2M436 457h2M450 425h2M440 453h2M458 440h2M450 442h2M467 408h2M442 448h2M452 460h2M461 471h2M445 450h2M453 454h2M445 443h2M460 445h2M460 425h2M436 430h2M450 453h2M459 460h2M463 452h2M452 428h2M457 433h2M454 438h2M440 462h2M440 450h2M449 431h2M451 419h2M437 470h2M443 416h2M457 455h2M450 440h2M451 448h2M445 407h2M454 437h2M452 449h2M444 455h2M454 444h2M456 448h2M464 412h2M448 433h2M465 480h2M452 429h2M447 434h2M445 428h2M453 441h2M455 441h2M442 452h2M453 431h2M449 445h2M452 438h2M457 457h2M442 438h2M455 454h2M452 439h2M446 444h2M443 442h2M456 433h2M455 465h2M446 435h2M436 438h2M442 442h2M435 427h2M438 434h2M471 453h2M444 448h2M453 447h2M459 442h2M446 464h2M456 455h2M449 429h2M441 447h2M453 458h2M440 442h2M469 465h2M444 418h2M462 442h2M448 440h2M455 419h2M454 443h2M460 451h2M446 419h2M445 433h2M449 428h2M460 455h2M449 432h2M449 439h2M451 415h2M451 451h2M443 443h2M446 429h2M466 454h2M440 429h2M444 431h2M439 427h2M452 447h2M436 440h2M443 424h2M457 451h2M465 469h2M450 457h2M447 441h2M447 440h2M459 426h2M449 449h2M439 480h2M446 455h2M464 448h2M440 435h2M459 458h2M463 425h2M452 423h2M437 455h2M451 456h2M438 421h2M450 429h2M448 422h2M461 435h2M442 451h2M455 443h2M439 420h2M453 459h2M440 445h2M467 466h2M444 457h2M446 440h2M446 448h2M458 447h2M451 435h2M452 445h2M451 439h2M446 410h2M456 449h2M442 456h2M451 423h2M441 443h2M464 454h2M451 445h2M445 452h2M453 428h2M443 460h2M452 456h2M452 466h2M448 460h2M465 450h2M453 426h2M443 446h2M452 431h2M459 441h2M438 413h2M436 404h2M444 447h2M455 439h2M439 463h2M462 431h2M467 441h2M436 434h2M438 458h2M456 413h2M452 448h2M450 437h2M465 465h2M451 447h2M435 430h2M448 416h2M439 424h2M444 391h2M448 456h2M428 438h2M462 465h2M447 427h2M454 421h2M452 440h2M446 439h2M441 441h2M449 447h2M454 452h2M441 470h2M443 427h2M456 419h2M457 444h2M451 440h2M459 424h2M441 428h2M459 435h2M466 391h2M450 424h2M458 465h2M431 449h2M442 445h2M446 441h2M446 443h2M429 441h2M448 404h2M455 430h2M453 436h2M504 366h2M492 392h2M476 423h2M505 385h2M476 415h2M483 397h2M508 395h2M490 430h2M504 425h2M501 421h2M469 389h2M469 437h2M494 400h2M481 386h2M453 438h2M491 403h2M472 401h2M497 401h2M501 388h2M496 416h2M500 408h2M490 386h2M500 396h2M479 414h2M469 393h2M503 417h2M487 403h2M499 401h2M481 409h2M494 404h2M507 407h2M485 404h2M519 390h2M488 389h2M497 382h2M498 414h2M481 388h2M471 403h2M476 392h2M486 391h2M504 427h2M462 389h2M495 385h2M484 405h2M511 421h2M488 404h2M487 399h2M475 374h2M487 418h2M503 372h2M489 392h2M496 384h2M505 399h2M500 416h2M465 398h2M513 402h2M507 409h2M485 406h2M507 423h2M512 384h2M504 380h2M490 399h2M501 407h2M509 392h2M504 408h2M492 383h2M500 407h2M503 401h2M488 408h2M498 413h2M518 392h2M520 355h2M505 389h2M520 388h2M507 386h2M504 391h2M526 397h2M514 386h2M479 403h2M478 409h2M484 387h2M495 398h2M486 415h2M496 408h2M511 401h2M504 395h2M500 410h2M484 378h2M474 387h2M500 400h2M488 410h2M502 424h2M484 411h2M502 387h2M494 387h2M489 409h2M468 388h2M481 403h2M482 408h2M480 394h2M494 401h2M506 424h2M487 390h2M477 430h2M480 381h2M496 419h2M475 400h2M472 391h2M515 405h2M488 403h2M496 400h2M475 383h2M520 390h2M509 391h2M510 413h2M489 434h2M479 398h2M480 390h2M487 387h2M487 427h2M479 395h2M506 413h2M499 405h2M525 384h2M476 402h2M488 391h2M485 385h2M511 409h2M518 394h2M493 398h2M492 398h2M490 371h2M488 413h2M465 396h2M500 422h2M491 409h2M516 423h2M486 392h2M506 406h2M484 398h2M496 399h2M488 398h2M509 426h2M490 404h2M500 415h2M478 401h2M483 429h2M499 402h2M482 399h2M504 400h2M491 418h2M496 417h2M494 381h2M508 409h2M485 386h2M497 400h2M496 389h2M477 427h2M479 402h2M511 373h2M502 403h2M490 406h2M476 367h2M518 397h2M504 420h2M496 409h2M502 427h2M499 422h2M488 395h2M493 408h2M499 433h2M504 403h2M520 407h2M497 410h2M487 385h2M494 397h2M480 404h2M489 393h2M516 416h2M507 402h2M507 391h2M486 410h2M472 403h2M496 429h2M482 409h2M483 393h2M508 410h2M494 441h2M500 382h2M489 401h2M514 388h2M498 418h2M516 409h2M493 404h2M522 411h2M506 395h2M486 386h2M490 391h2M506 412h2M490 393h2M452 393h2M496 413h2M449 364h2M494 386h2M489 395h2M500 373h2M484 417h2M495 389h2M498 407h2M480 413h2M501 400h2M505 384h2M503 399h2M479 393h2M508 393h2M487 392h2M481 417h2M523 423h2M499 414h2M487 394h2M476 425h2M487 391h2M483 405h2M484 402h2M494 423h2M475 407h2M482 395h2M515 412h2M487 410h2M492 420h2M485 410h2M489 402h2M490 392h2M494 418h2M484 396h2M497 390h2M504 413h2M477 415h2M505 383h2M483 401h2M487 414h2M506 411h2M507 417h2M491 395h2M482 415h2M504 418h2M488 396h2M496 422h2M497 406h2M500 387h2M516 388h2M494 390h2M484 413h2M489 397h2M494 406h2M516 400h2M498 409h2M473 372h2M494 416h2M495 394h2M483 415h2M488 377h2M502 406h2M497 419h2M510 411h2M490 369h2M510 422h2M499 424h2M491 402h2M481 397h2M495 419h2M524 381h2M489 403h2M506 434h2M509 402h2M480 401h2M492 406h2M480 426h2M482 413h2M493 403h2M490 415h2M486 442h2M508 388h2M458 422h2M496 403h2M479 379h2M514 393h2M518 373h2M502 413h2M480 395h2M478 403h2M510 418h2M498 420h2M467 434h2M491 381h2M493 407h2M460 422h2M516 386h2M513 422h2M506 428h2M473 414h2M478 440h2M479 383h2M508 412h2M452 362h2M459 381h2M444 353h2M446 359h2M452 345h2M455 345h2M449 357h2M469 357h2M467 359h2M455 363h2M437 353h2M450 364h2M451 350h2M439 360h2M439 346h2M451 362h2M455 370h2M448 356h2M426 371h2M440 369h2M446 358h2M482 341h2M453 350h2M449 377h2M432 358h2M457 361h2M456 351h2M434 344h2M447 369h2M453 362h2M458 347h2M448 388h2M438 361h2M455 362h2M452 353h2M441 378h2M458 351h2M442 357h2M481 366h2M441 363h2M445 378h2M455 375h2M454 384h2M457 363h2M441 355h2M456 354h2M479 360h2M444 372h2M446 365h2M451 351h2M467 361h2M464 356h2M436 345h2M453 366h2M438 363h2M439 352h2M480 375h2M448 382h2M468 371h2M468 357h2M458 345h2M446 366h2M446 364h2M472 348h2M467 352h2M442 363h2M463 351h2M444 355h2M444 362h2M444 357h2M456 355h2M465 352h2M444 384h2M469 361h2M461 364h2M446 368h2M432 370h2M454 352h2M447 355h2M461 342h2M451 361h2M440 367h2M442 371h2M454 355h2M468 355h2M463 361h2M452 372h2M457 360h2M451 363h2M453 356h2M451 357h2M465 365h2M465 381h2M461 353h2M437 360h2M464 345h2M454 365h2M427 379h2M444 358h2M457 355h2M467 347h2M456 367h2M457 359h2M440 362h2M458 360h2M479 358h2M462 367h2M450 359h2M465 368h2M451 340h2M467 354h2M441 376h2M434 355h2M438 358h2M481 396h2M462 359h2M436 373h2M450 366h2M460 350h2M471 361h2M455 355h2M446 367h2M447 345h2M445 356h2M453 368h2M451 349h2M435 374h2M464 352h2M468 359h2M457 375h2M447 351h2M477 426h2M532 438h2M535 422h2M549 400h2M530 431h2M517 455h2M531 447h2M543 417h2M569 443h2M521 418h2M494 417h2M514 425h2M510 432h2M518 389h2M508 402h2M488 415h2M543 398h2M595 408h2M527 412h2" stroke="#a81c22" stroke-width="2" fill="none"/>
<path d="M717 434h2M710 429h2M704 410h2M703 409h2M707 410h2M712 394h2M706 382h2M709 413h2M710 409h2M719 399h2M713 422h2M715 413h2M712 444h2M711 398h2M715 438h2M720 406h2M717 416h2M712 419h2M715 408h2M722 398h2M720 448h2M725 411h2M710 373h2M711 455h2M701 374h2M717 418h2M699 404h2M713 375h2M717 379h2M719 410h2M707 373h2M709 404h2M710 394h2M710 423h2M705 401h2M714 405h2M717 437h2M709 410h2M692 398h2M716 383h2M720 368h2M720 395h2M704 396h2M709 385h2M702 395h2M717 414h2M720 393h2M709 399h2M712 415h2M723 419h2M712 433h2M706 379h2M715 409h2M712 424h2M709 403h2M714 418h2M718 408h2M713 357h2M719 374h2M711 456h2M709 374h2M722 394h2M710 402h2M716 421h2M710 428h2M705 419h2M707 419h2M707 396h2M721 383h2M703 417h2M709 397h2M710 448h2M704 400h2M712 386h2M711 415h2M705 428h2M704 402h2M713 469h2M700 411h2M727 393h2M718 409h2M702 413h2M705 407h2M701 420h2M695 402h2M719 415h2M709 400h2M708 459h2M711 405h2M706 396h2M715 393h2M706 394h2M709 408h2M708 401h2M706 430h2M712 399h2M713 404h2M701 401h2M722 415h2M719 392h2M701 391h2M720 385h2M706 427h2M709 401h2M713 407h2M706 404h2M715 384h2M710 382h2M716 417h2M717 426h2M718 419h2M706 424h2M705 452h2M713 417h2M703 426h2M707 433h2M725 384h2M718 400h2M720 356h2M708 429h2M706 429h2M708 428h2M715 397h2M706 402h2M719 405h2M707 471h2M701 400h2M711 397h2M701 414h2M704 390h2M719 383h2M715 429h2M709 377h2M712 414h2M708 385h2M717 384h2M714 395h2M700 437h2M715 416h2M702 402h2M713 390h2M722 364h2M715 367h2M701 379h2M715 390h2M706 386h2M701 386h2M704 398h2M708 356h2M707 428h2M708 403h2M706 390h2M710 377h2M709 370h2M713 372h2M715 424h2M700 417h2M708 427h2M707 398h2M709 428h2M698 418h2M711 393h2M709 422h2M716 437h2M706 365h2M707 399h2M707 427h2M699 424h2M716 410h2M715 415h2M724 343h2M705 391h2M716 407h2M716 374h2M709 416h2M710 395h2M712 436h2M697 435h2M715 404h2M718 387h2M717 385h2M712 417h2M710 416h2M707 389h2M710 415h2M701 377h2M709 383h2M709 414h2M718 432h2M715 389h2M714 392h2M714 382h2M719 411h2M708 376h2M712 392h2M712 389h2M707 415h2M720 378h2M709 411h2M709 394h2M724 386h2M713 393h2M710 357h2M716 399h2M704 436h2M709 391h2M705 424h2M702 385h2M713 403h2M697 385h2M712 457h2M705 359h2M702 414h2M709 384h2M702 401h2M711 367h2M717 378h2M721 392h2M716 385h2M710 422h2M703 410h2M696 380h2M708 421h2M715 385h2M709 407h2M719 428h2M707 395h2M704 393h2M709 417h2M711 384h2M706 398h2M710 370h2M711 416h2M723 407h2M708 400h2M714 419h2M715 363h2M716 402h2M709 402h2M712 420h2M709 381h2M706 384h2M708 397h2M715 418h2M704 452h2M714 378h2M726 422h2M723 417h2M706 434h2M706 423h2M715 387h2M706 400h2M713 430h2M711 442h2M716 391h2M707 406h2M707 402h2M716 409h2M717 390h2M705 376h2M699 395h2M711 400h2M711 445h2M704 399h2M708 386h2M720 404h2M719 382h2M723 450h2M705 404h2M716 392h2M696 391h2M708 420h2M707 382h2M715 412h2M716 405h2M718 415h2M699 409h2M715 380h2M711 394h2M704 378h2M712 413h2M707 380h2M705 420h2M703 427h2M700 410h2M708 389h2M702 423h2M710 396h2M708 410h2M711 428h2M697 422h2M707 403h2M702 403h2M710 412h2M711 403h2M718 383h2M725 394h2M704 421h2M718 430h2M720 414h2M711 412h2M721 441h2M708 371h2M711 385h2M699 418h2M722 362h2M703 376h2M707 438h2M721 418h2M711 399h2M717 400h2M721 430h2M707 421h2M705 400h2M717 433h2M714 406h2M713 388h2M718 440h2M705 354h2M708 396h2M715 461h2M708 399h2M714 369h2M717 394h2M702 389h2M715 423h2M720 415h2M707 418h2M711 453h2M698 439h2M717 415h2M711 395h2M725 426h2M716 414h2M699 401h2M712 430h2M705 412h2M710 408h2M707 414h2M712 370h2M720 451h2M705 397h2M723 411h2M722 413h2M718 404h2M721 443h2M716 396h2M709 389h2M716 418h2M707 426h2M708 444h2M717 439h2M707 388h2M700 421h2M705 435h2M713 423h2M704 415h2M707 424h2M715 431h2M710 432h2M705 413h2M706 408h2M716 389h2M701 404h2M706 416h2M719 394h2M710 420h2M711 376h2M712 382h2M712 361h2M721 445h2M715 391h2M710 425h2M716 394h2M720 422h2M715 400h2M712 393h2M713 394h2M719 408h2M713 414h2M714 379h2M720 409h2M708 388h2M712 390h2M712 410h2M707 451h2M711 414h2M712 404h2M716 435h2M711 390h2M715 364h2M714 377h2M709 387h2M708 419h2M719 407h2M699 386h2M714 415h2M713 412h2M706 405h2M708 436h2M718 382h2M721 412h2M705 362h2M709 379h2M718 381h2M711 410h2M709 419h2M705 416h2M704 401h2M699 390h2M705 429h2M719 385h2M721 424h2M699 449h2M722 384h2M713 378h2M711 386h2M713 418h2M711 427h2M716 412h2M718 380h2M711 370h2M705 375h2M701 428h2M703 396h2M704 422h2M707 429h2M706 411h2M716 424h2M703 398h2M710 369h2M716 413h2M718 395h2M715 444h2M709 375h2M709 437h2M719 416h2M712 398h2M710 405h2M715 406h2M717 368h2M715 403h2M712 429h2M718 398h2M719 417h2M720 435h2M703 411h2M708 373h2M704 395h2M722 407h2M710 404h2M708 471h2M715 386h2M712 422h2M718 412h2M718 426h2M709 418h2M722 402h2M701 408h2M713 395h2M712 425h2M708 402h2M707 412h2M710 387h2M710 441h2M700 378h2M723 376h2M703 395h2M718 421h2M715 411h2M719 370h2M713 433h2M704 412h2M719 430h2M710 442h2M714 426h2M704 391h2M706 440h2M696 369h2M716 408h2M709 429h2M718 420h2M702 432h2M708 430h2M716 388h2M710 418h2M714 435h2M715 392h2M707 417h2M713 384h2M708 431h2M705 393h2M715 407h2M712 378h2M706 395h2M723 408h2M721 408h2M702 407h2M719 433h2M706 449h2M707 392h2M708 434h2M714 423h2M697 405h2M711 419h2M707 379h2M701 430h2M718 403h2M711 378h2M708 408h2M718 434h2M706 414h2M705 403h2M712 401h2M718 391h2M708 412h2M711 411h2M710 390h2M717 432h2M709 392h2M708 393h2M699 438h2M714 451h2M708 417h2M713 405h2M717 406h2M711 409h2M697 392h2M715 421h2M715 402h2M703 418h2M714 425h2M721 417h2M722 412h2M725 380h2M717 412h2M718 402h2M705 394h2M706 388h2M724 398h2M716 440h2M721 387h2M708 372h2M711 425h2M722 406h2M714 414h2M707 409h2M713 385h2M704 419h2M717 438h2M697 425h2M709 415h2M713 387h2M706 415h2M709 447h2M710 446h2M705 414h2M719 432h2M715 426h2M710 376h2M714 434h2M713 409h2M704 397h2M725 381h2M708 379h2M719 401h2M703 382h2M717 431h2M715 375h2M699 378h2M713 377h2M704 406h2M706 381h2M716 423h2M720 405h2M710 372h2M718 418h2M720 426h2M711 387h2M698 353h2M709 430h2M707 381h2M713 424h2M721 386h2M720 418h2M709 412h2M716 403h2M697 376h2M710 403h2M710 410h2M704 366h2M701 422h2M707 407h2M700 398h2M714 401h2M714 408h2M711 389h2M707 387h2M715 432h2M714 385h2M723 398h2M705 431h2M710 417h2M717 386h2M714 417h2M708 415h2M704 432h2M710 414h2M705 425h2M719 396h2M717 398h2M729 411h2M693 401h2M711 380h2M707 404h2M709 420h2M704 429h2M719 402h2M723 390h2M708 416h2M705 384h2M709 362h2M716 356h2M708 391h2M717 388h2M713 400h2M708 395h2M716 432h2M723 385h2M710 383h2M724 433h2M711 382h2M721 421h2M719 384h2M691 430h2M712 403h2M705 390h2M721 422h2M700 436h2M713 429h2M705 418h2M706 391h2M704 392h2M701 385h2M717 419h2M724 400h2M705 410h2M708 387h2M719 441h2M713 392h2M702 420h2M713 428h2M710 371h2M726 364h2M701 412h2M708 406h2M712 406h2M711 402h2M713 420h2M709 396h2M701 441h2M703 437h2M713 416h2M716 434h2M721 432h2M705 411h2M713 410h2M701 447h2M716 427h2M718 428h2M719 419h2M719 406h2M714 433h2M723 399h2M702 447h2M718 441h2M717 410h2M720 424h2M709 349h2M713 436h2M713 386h2M714 390h2M711 407h2M708 382h2M714 400h2M716 379h2M711 430h2M710 399h2M713 432h2M719 397h2M710 385h2M711 440h2M699 439h2M705 445h2M704 404h2M721 380h2M696 404h2M705 377h2M720 429h2M706 437h2M726 408h2M708 407h2M700 431h2M715 396h2M694 430h2M710 419h2M711 466h2M694 406h2M698 407h2M718 429h2M702 440h2M707 431h2M722 388h2M719 398h2M705 388h2M719 426h2M713 421h2M690 394h2M712 407h2M706 392h2M703 408h2M711 374h2M708 425h2M710 406h2M714 398h2M695 444h2M720 379h2M719 409h2M714 393h2M722 409h2M703 390h2M701 409h2M703 397h2M707 425h2M701 375h2M719 412h2M701 432h2M721 428h2M701 440h2M714 397h2M696 425h2M708 377h2M703 369h2M714 429h2M701 367h2M712 434h2M708 392h2M709 388h2M713 397h2M709 398h2M722 389h2M719 425h2M695 410h2M712 405h2M716 397h2M710 384h2M707 416h2M706 385h2M711 381h2M722 418h2M712 409h2M695 423h2M703 425h2M707 401h2M721 425h2M702 391h2M712 400h2M699 387h2M716 430h2M717 435h2M720 373h2M702 380h2M706 439h2M712 408h2M713 391h2M720 397h2M716 371h2M720 353h2M709 431h2M725 423h2M704 428h2M711 434h2M700 387h2M703 385h2M711 358h2M714 412h2M714 422h2M722 399h2M700 404h2M698 444h2M710 386h2M700 396h2M714 380h2M697 448h2M700 401h2M717 372h2M707 408h2M718 405h2M718 378h2M719 381h2M728 391h2M718 399h2M716 390h2M712 421h2M708 398h2M708 423h2M714 431h2M710 381h2M727 416h2M716 455h2M699 415h2M714 389h2M708 378h2M697 374h2M704 371h2M721 394h2M713 379h2M702 384h2M719 440h2M699 433h2M715 394h2M707 422h2M708 405h2M717 422h2M714 394h2M714 388h2M725 429h2M703 419h2M710 411h2M702 383h2M711 375h2M717 392h2M714 399h2M709 405h2M698 383h2M708 449h2M716 419h2M704 423h2M719 420h2M728 378h2M705 406h2M713 398h2M706 380h2M721 391h2M711 392h2M704 425h2M703 401h2M718 406h2M715 414h2M704 383h2M710 389h2M704 424h2M707 390h2M718 461h2M722 401h2M715 420h2M720 384h2M726 392h2M710 374h2M706 387h2M717 404h2M709 423h2M709 380h2M711 448h2M710 400h2M714 352h2M703 393h2M709 434h2M727 417h2M721 385h2M713 367h2M714 373h2M716 422h2M696 415h2M717 445h2M714 383h2M702 381h2M704 427h2M717 405h2M711 388h2M707 405h2M703 438h2M723 394h2M704 411h2M694 413h2M707 439h2M708 413h2M711 418h2M713 402h2M704 409h2M717 420h2M720 407h2M698 422h2M701 418h2M727 399h2M703 490h2M707 464h2M715 450h2M701 463h2M705 457h2M713 483h2M709 470h2M701 478h2M705 479h2M714 474h2M698 466h2M716 476h2M708 472h2M701 468h2M714 478h2M706 477h2M715 465h2M710 483h2M705 485h2M708 483h2M714 476h2M707 468h2M710 476h2M716 473h2M711 488h2M711 478h2M717 475h2M711 480h2M708 464h2M702 472h2M715 482h2M717 482h2M706 462h2M706 472h2M705 482h2M713 459h2M707 485h2M713 475h2M703 468h2M709 485h2M711 473h2M710 480h2M700 465h2M709 484h2M714 467h2M709 468h2M707 475h2M707 469h2M703 460h2M708 475h2M712 467h2M711 481h2M706 468h2M703 482h2M703 459h2M709 476h2M709 473h2M708 462h2M717 473h2M712 464h2M702 476h2M714 485h2M716 472h2M706 476h2M708 481h2M700 483h2M706 486h2M715 464h2M709 480h2M705 468h2M707 480h2M713 470h2M713 486h2M713 468h2M705 476h2M713 477h2M707 466h2M715 473h2M718 464h2M718 484h2M706 458h2M715 475h2M703 461h2M711 472h2M710 477h2M707 472h2M712 473h2M708 479h2M699 484h2M711 467h2M708 484h2M712 459h2M704 476h2M718 480h2M709 471h2M714 479h2M707 467h2M703 476h2M710 475h2M717 455h2M705 467h2M714 472h2M710 470h2M708 473h2M716 475h2M711 465h2M706 456h2M702 477h2M715 472h2M703 475h2M714 473h2M703 466h2M708 493h2M712 472h2M707 473h2M708 480h2M717 485h2M707 479h2M705 465h2M709 479h2M709 481h2M713 480h2M708 463h2M718 470h2M713 478h2M707 489h2M712 474h2M703 479h2M707 470h2M712 471h2M712 469h2M706 482h2M706 479h2M704 463h2M713 467h2M703 470h2M709 460h2M712 480h2M706 481h2M701 469h2M715 471h2M710 478h2M706 469h2M715 468h2M707 482h2M706 483h2M709 486h2M717 467h2M698 480h2M711 470h2M723 476h2M715 478h2M705 464h2M706 488h2M701 476h2M722 482h2M705 475h2M708 497h2M707 462h2M693 472h2M712 470h2M712 460h2M716 481h2M713 474h2M709 469h2M711 482h2M718 476h2M704 468h2M706 473h2M700 469h2M702 473h2M705 460h2M706 475h2M709 475h2M708 467h2M711 452h2M715 457h2M710 479h2M703 477h2M706 454h2M710 474h2M714 477h2M717 471h2M715 489h2M707 483h2M700 475h2M707 476h2M717 478h2M702 480h2M711 475h2M717 476h2M707 478h2M701 482h2M709 488h2M712 477h2M710 464h2M709 477h2M707 477h2M702 481h2M716 486h2M705 487h2M717 468h2M712 489h2M710 484h2M706 471h2M704 487h2M709 472h2M705 466h2M703 481h2M708 482h2M707 481h2M704 465h2M714 468h2M701 486h2M710 460h2M711 483h2M716 488h2M709 464h2M711 468h2M715 469h2M704 467h2M708 454h2M719 477h2M710 462h2M709 458h2M713 484h2M709 465h2M716 462h2M711 477h2M702 471h2M696 472h2M705 481h2M696 491h2M707 461h2M711 492h2M710 468h2M710 485h2M705 478h2M714 480h2M707 484h2M708 491h2M703 478h2M705 489h2M717 466h2M701 465h2M709 478h2M711 476h2M712 461h2M717 486h2M710 492h2M718 474h2M716 477h2M708 478h2M719 472h2M716 479h2M713 479h2M705 469h2M704 471h2M712 466h2M717 474h2M715 486h2M711 463h2M708 465h2M703 467h2M705 474h2M725 469h2M701 479h2M707 474h2M718 468h2M716 466h2M701 467h2M706 470h2M707 488h2M702 475h2M710 487h2M715 474h2M702 462h2M715 481h2M704 470h2M701 474h2M710 463h2M696 458h2M709 461h2M708 474h2M704 473h2M709 483h2M703 473h2M706 448h2M708 477h2M715 480h2M717 461h2M698 469h2M706 467h2M713 471h2M709 474h2M712 481h2M705 455h2M703 471h2M708 461h2M706 465h2M712 451h2M710 488h2M703 485h2M701 494h2M710 457h2M706 463h2M700 477h2M713 465h2M718 469h2M699 472h2M714 481h2M707 490h2M708 476h2M718 481h2M712 454h2M716 490h2M713 499h2M705 471h2M698 476h2M700 478h2M720 489h2M703 463h2M702 468h2M714 469h2M706 466h2M699 471h2M702 470h2M711 471h2M697 465h2M704 482h2M708 469h2M699 485h2M700 463h2M713 463h2M711 474h2M704 479h2M704 459h2M709 482h2M704 460h2M714 470h2M713 488h2M704 466h2M712 500h2M701 466h2M716 460h2M707 463h2M713 473h2M714 483h2M710 471h2M713 485h2M700 468h2M712 465h2M699 475h2M701 464h2M708 452h2M714 482h2M712 479h2M704 462h2M704 484h2M707 498h2M710 472h2M698 474h2M721 468h2M708 458h2M712 482h2M704 474h2M704 494h2M704 472h2M716 482h2M706 492h2M709 491h2M708 488h2M717 465h2M714 494h2M705 459h2M713 472h2M712 475h2M717 464h2M719 487h2M700 470h2M703 480h2M702 486h2M712 462h2M705 477h2M699 488h2M715 476h2M713 487h2M713 491h2M719 480h2M709 487h2M701 475h2M714 463h2M711 462h2M706 478h2M715 477h2M716 483h2M715 484h2M710 465h2M706 480h2M700 458h2M718 477h2M703 474h2M713 466h2M719 488h2M716 470h2M701 489h2M703 442h2M715 449h2M705 430h2M716 439h2M698 403h2M702 430h2M728 454h2M704 456h2M716 453h2M702 422h2M708 433h2M706 420h2M710 436h2M709 433h2M712 441h2M711 431h2M711 429h2M714 446h2M702 429h2M714 447h2M711 422h2M706 443h2M712 440h2M705 437h2M701 448h2M715 454h2M708 435h2M701 460h2M702 415h2M716 445h2M711 438h2M703 422h2M705 439h2M713 454h2M705 449h2M715 446h2M715 443h2M717 458h2M716 429h2M717 448h2M715 439h2M698 430h2M704 433h2M712 458h2M695 440h2M711 447h2M711 439h2M712 442h2M711 464h2M716 454h2M706 432h2M722 459h2M717 449h2M713 446h2M725 447h2M700 443h2M721 458h2M707 445h2M701 450h2M705 432h2M720 463h2M708 441h2M720 436h2M719 443h2M710 433h2M700 423h2M707 432h2M702 436h2M713 440h2M710 440h2M707 446h2M716 459h2M697 421h2M718 454h2M711 436h2M709 446h2M704 461h2M707 441h2M717 413h2M709 432h2M704 478h2M710 437h2M715 430h2M709 453h2M703 433h2M709 438h2M698 394h2M707 454h2M714 459h2M694 437h2M702 445h2M710 450h2M710 459h2M714 444h2M708 451h2M706 455h2M717 454h2M712 453h2M717 450h2M710 438h2M707 444h2M717 451h2M700 445h2M711 437h2M713 449h2M725 443h2M713 448h2M711 433h2M710 421h2M711 426h2M712 435h2M717 424h2M717 427h2M716 431h2M709 442h2M699 442h2M693 450h2M714 421h2M717 428h2M711 424h2M723 434h2M706 447h2M717 442h2M705 443h2M705 398h2M711 413h2M706 441h2M719 455h2M706 445h2M713 442h2M715 427h2M710 449h2M701 424h2M715 436h2M702 405h2M721 420h2M723 427h2M707 434h2M702 419h2M712 452h2M711 444h2M704 430h2M712 448h2M709 448h2M700 452h2M712 450h2M716 443h2M721 416h2M715 447h2M710 434h2M708 426h2M712 438h2M710 447h2M708 456h2M716 425h2M706 435h2M703 445h2M714 449h2M712 432h2M708 439h2M713 455h2M699 420h2M706 442h2M708 460h2M711 432h2M704 435h2M699 411h2M715 437h2M701 429h2M718 410h2M707 443h2M711 420h2M714 487h2M715 435h2M702 441h2M702 451h2M713 464h2M718 423h2M722 458h2M712 443h2M704 434h2M709 459h2M696 426h2M715 434h2M714 464h2M715 417h2M713 456h2M711 443h2M714 439h2M713 434h2M707 436h2M707 449h2M721 447h2M705 458h2M714 432h2M715 445h2M696 439h2M706 422h2M706 409h2M710 451h2M704 448h2M705 447h2M704 455h2M708 442h2M720 432h2M707 437h2M723 435h2M709 450h2M704 453h2M698 448h2M705 451h2M712 427h2M709 424h2M722 408h2M728 413h2M756 394h2M729 393h2M733 399h2M747 435h2M722 397h2M760 417h2M771 392h2M764 368h2M749 415h2M762 386h2M740 377h2M741 387h2M761 403h2M747 426h2M769 387h2M772 414h2M771 410h2M726 399h2M742 420h2M753 407h2M763 392h2M768 407h2M738 397h2M748 412h2M773 400h2M749 427h2M799 427h2M755 399h2M762 408h2M740 421h2M789 393h2M740 397h2M733 414h2M731 412h2M758 413h2M730 406h2M756 415h2M757 397h2M769 422h2M772 394h2M760 392h2M749 414h2M731 439h2M770 394h2M744 403h2M750 388h2M750 384h2M743 427h2M751 399h2M775 408h2M761 397h2M768 400h2M765 412h2M777 417h2M752 390h2M747 395h2M775 398h2M764 392h2M763 387h2M756 402h2M757 409h2M742 414h2M744 405h2M773 392h2M753 425h2M771 395h2M743 411h2M742 405h2M732 412h2M728 406h2M762 395h2M729 388h2M723 387h2M757 405h2M767 421h2M759 403h2M743 402h2M766 412h2M761 382h2M740 395h2M744 390h2M762 418h2M779 397h2M750 405h2M752 393h2M764 378h2M745 379h2M761 386h2M735 404h2M736 407h2M746 429h2M734 393h2M760 405h2M759 400h2M766 408h2M772 386h2M756 401h2M758 392h2M764 387h2M765 411h2M725 409h2M728 403h2M748 383h2M724 410h2M745 418h2M751 440h2M755 427h2M760 394h2M742 426h2M749 389h2M760 393h2M753 419h2M772 428h2M770 413h2M761 408h2M752 434h2M751 426h2M751 420h2M743 425h2M775 396h2M751 417h2M757 406h2M768 388h2M777 411h2M710 393h2M752 435h2M753 385h2M774 410h2M748 404h2M769 411h2M768 401h2M779 387h2M733 412h2M749 408h2M754 403h2M738 410h2M773 395h2M782 426h2M741 416h2M737 404h2M737 399h2M726 404h2M738 394h2M724 406h2M782 401h2M752 391h2M747 394h2M730 394h2M746 410h2M749 409h2M773 418h2M747 382h2M751 407h2M769 407h2M795 401h2M763 393h2M738 401h2M757 414h2M776 423h2M766 404h2M762 422h2M739 414h2M780 396h2M739 405h2M744 423h2M728 388h2M758 415h2M735 422h2M724 418h2M740 399h2M780 404h2M743 408h2M781 406h2M741 408h2M734 396h2M744 413h2M746 411h2M770 425h2M728 404h2M736 413h2M745 392h2M781 402h2M763 383h2M743 420h2M754 406h2M754 402h2M749 396h2M745 399h2M750 380h2M754 404h2M759 390h2M739 415h2M742 411h2M743 389h2M731 397h2M746 389h2M774 405h2M739 424h2M765 395h2M737 402h2M770 400h2M765 403h2M760 413h2M772 396h2M781 388h2M757 413h2M753 416h2M729 404h2M768 405h2M756 392h2M773 398h2M738 406h2M756 399h2M762 409h2M754 408h2M757 378h2M737 409h2M761 405h2M756 421h2M748 395h2M775 413h2M751 396h2M777 401h2M741 421h2M731 403h2M762 401h2M745 411h2M735 402h2M764 391h2M774 402h2M752 399h2M762 399h2M772 385h2M773 399h2M758 406h2M745 405h2M765 419h2M758 408h2M760 401h2M758 401h2M748 375h2M726 410h2M764 411h2M754 401h2M761 400h2M753 424h2M732 397h2M749 380h2M735 418h2M760 403h2M772 392h2M781 404h2M744 419h2M761 407h2M751 381h2M722 405h2M767 394h2M754 385h2M731 404h2M763 414h2M750 415h2M737 401h2M753 404h2M766 410h2M746 375h2M764 417h2M760 409h2M759 420h2M745 404h2M738 402h2M740 394h2M723 403h2M767 366h2M771 404h2M742 408h2M749 403h2M773 406h2M750 393h2M750 394h2M769 401h2M763 421h2M767 395h2M777 380h2M773 372h2M739 403h2M742 377h2M730 407h2M727 412h2M769 421h2M756 403h2M746 439h2M770 412h2M757 418h2M724 415h2M744 374h2M768 394h2M759 395h2M746 425h2M729 416h2M743 410h2M760 385h2M757 393h2M771 409h2M753 443h2M764 399h2M765 408h2M772 391h2M781 398h2M748 429h2M755 390h2M750 407h2M766 400h2M755 442h2M750 406h2M734 416h2M745 428h2M770 415h2M745 400h2M747 405h2M747 397h2M747 416h2M768 397h2M784 409h2M770 428h2M731 411h2M766 420h2M730 392h2M761 378h2M744 402h2M758 416h2M761 409h2M732 404h2M764 390h2M759 413h2M787 403h2M736 383h2M726 413h2M752 408h2M729 378h2M726 425h2M738 396h2M766 413h2M754 411h2M750 426h2M756 411h2M752 400h2M741 415h2M782 408h2M751 395h2M761 394h2M754 394h2M774 406h2M759 426h2M720 410h2M757 401h2M753 421h2M743 396h2M778 418h2M760 415h2M751 409h2M746 384h2M751 408h2M751 413h2M757 417h2M755 403h2M762 416h2M759 399h2M756 423h2M778 388h2M732 362h2M762 425h2M765 393h2M763 422h2M771 414h2M746 401h2M740 429h2M760 410h2M754 373h2M750 387h2M728 433h2M746 402h2M748 394h2M777 381h2M760 397h2M771 415h2M754 386h2M756 409h2M749 392h2M749 393h2M750 398h2M745 410h2M739 391h2M772 401h2M751 401h2M777 396h2M750 392h2M754 388h2M756 397h2M771 430h2M762 402h2M755 413h2M732 414h2M737 388h2M747 423h2M739 412h2M757 419h2M755 404h2M725 408h2M764 407h2M755 412h2M751 410h2M763 426h2M759 393h2M742 386h2M725 395h2M746 405h2M781 403h2M773 394h2M742 398h2M756 413h2M778 410h2M776 374h2M771 408h2M744 418h2M753 395h2M776 413h2M743 401h2M743 407h2M751 388h2M730 419h2M733 390h2M787 393h2M732 392h2M763 394h2M750 374h2M743 404h2M753 423h2M759 367h2M728 392h2M747 404h2M718 414h2M737 373h2M737 398h2M734 388h2M767 389h2M756 406h2M746 434h2M731 437h2M737 400h2M756 418h2M746 419h2M775 397h2M770 411h2M756 389h2M733 409h2M710 397h2M758 382h2M776 425h2M736 402h2M750 397h2M744 410h2M777 405h2M753 406h2M742 412h2M744 391h2M762 380h2M744 399h2M761 402h2M752 368h2M772 395h2M772 400h2M741 401h2M742 402h2M759 401h2M758 404h2M760 411h2M752 419h2M749 386h2M757 404h2M774 387h2M726 402h2M742 404h2M762 439h2M751 385h2M741 420h2M751 404h2M768 382h2M756 391h2M746 403h2M763 395h2M761 377h2M758 414h2M739 400h2M770 406h2M749 402h2M756 414h2M739 398h2M744 414h2M735 405h2M735 414h2M756 420h2M760 391h2M753 396h2M748 405h2M755 435h2M749 413h2M758 393h2M748 401h2M751 412h2M755 397h2M738 412h2M748 450h2M750 385h2M745 429h2M757 400h2M752 405h2M738 405h2M759 386h2M749 370h2M728 414h2M770 427h2M734 403h2M747 417h2M761 398h2M768 406h2M730 385h2M759 377h2M733 408h2M734 405h2M748 419h2M765 416h2M745 420h2M751 406h2M758 407h2M729 410h2M751 405h2M736 416h2M742 395h2M753 417h2M733 397h2M745 401h2M746 417h2M762 404h2M743 395h2M762 430h2M718 396h2M734 398h2M760 408h2M748 409h2M747 407h2M738 422h2M748 418h2M783 424h2M752 406h2M740 382h2M774 426h2M733 393h2M763 419h2M754 405h2M726 432h2M764 422h2M764 393h2M739 397h2M740 415h2M750 399h2M740 407h2M726 393h2M751 390h2M760 395h2M778 423h2M740 390h2M770 403h2M734 408h2M756 384h2M748 400h2M738 407h2M767 417h2M762 400h2M747 431h2M740 403h2M776 402h2M748 406h2M788 395h2M751 380h2M739 418h2M743 385h2M763 402h2M754 384h2M732 391h2M750 402h2M772 423h2M779 405h2M766 398h2M742 409h2M758 430h2M725 405h2M749 401h2M737 392h2M732 418h2M744 393h2M763 399h2M757 402h2M766 386h2M765 401h2M754 420h2M766 416h2M781 417h2M743 388h2M764 383h2M747 400h2M742 421h2M765 399h2M769 429h2M768 380h2M734 391h2M756 404h2M752 415h2M767 419h2M750 404h2M773 409h2M771 398h2M752 409h2M746 428h2M731 415h2M736 408h2M741 405h2M753 394h2M735 395h2M752 414h2M775 383h2M758 398h2M763 409h2M752 423h2M768 390h2M739 422h2M749 382h2M741 388h2M743 393h2M759 410h2M729 390h2M747 396h2M755 410h2M778 408h2M765 385h2M742 417h2M731 420h2M750 389h2M736 397h2M737 396h2M727 406h2M752 417h2M779 410h2M735 403h2M747 372h2M760 430h2M746 396h2M765 388h2M752 407h2M761 393h2M744 395h2M740 408h2M723 380h2M756 427h2M745 408h2M732 405h2M741 427h2M750 383h2M764 395h2M739 413h2M754 412h2M762 419h2M778 406h2M748 392h2M746 404h2M755 387h2M757 392h2M759 391h2M769 413h2M771 394h2M733 388h2M749 417h2M762 412h2M734 417h2M762 397h2M750 423h2M774 423h2M757 412h2M770 395h2M758 399h2M768 427h2M763 418h2M749 385h2M743 409h2M743 428h2M769 402h2M777 412h2M728 358h2M719 357h2M712 373h2M730 361h2M715 350h2M710 366h2M700 355h2M701 362h2M721 364h2M697 360h2M727 357h2M711 355h2M701 372h2M719 343h2M700 375h2M704 360h2M702 364h2M705 353h2M701 382h2M737 363h2M718 367h2M712 359h2M709 369h2M700 351h2M719 344h2M728 357h2M714 375h2M712 362h2M706 366h2M719 350h2M718 371h2M717 351h2M721 376h2M705 360h2M725 374h2M719 353h2M719 360h2M722 341h2M712 350h2M706 352h2M716 372h2M705 356h2M706 373h2M721 350h2M695 354h2M713 344h2M714 361h2M707 372h2M703 365h2M705 367h2M718 373h2M728 343h2M711 348h2M709 363h2M725 362h2M711 341h2M705 372h2M698 363h2M714 360h2M720 351h2M725 355h2M722 353h2M715 356h2M728 348h2M706 377h2M720 360h2M710 345h2M709 364h2M724 371h2M726 365h2M727 361h2M726 342h2M707 351h2M715 351h2M699 359h2M690 353h2M716 347h2M717 365h2M705 378h2M715 353h2M725 356h2M731 370h2M704 351h2M709 376h2M714 359h2M716 357h2M700 343h2M726 357h2M728 383h2M715 369h2M709 359h2M713 360h2M727 359h2M721 362h2M706 363h2M709 355h2M733 371h2M719 379h2M707 364h2M712 374h2M703 353h2M688 374h2M719 355h2M694 371h2M698 345h2M693 343h2M703 347h2M723 369h2M713 353h2M712 344h2M716 349h2M703 343h2M699 346h2M705 358h2M680 354h2M726 374h2M721 359h2M714 353h2M695 364h2M723 364h2M715 374h2M746 433h2M765 466h2M739 458h2M770 422h2M804 464h2M751 441h2M723 495h2M748 463h2M742 451h2M768 444h2M753 453h2M765 465h2M751 472h2M745 450h2M757 452h2M771 420h2M784 465h2M741 460h2M719 451h2M785 463h2M798 449h2M778 456h2M762 458h2M771 471h2M756 460h2M753 459h2M739 467h2M770 459h2M755 447h2M736 442h2M739 466h2M764 438h2M736 472h2M789 466h2M798 447h2M764 448h2M801 461h2M764 460h2M742 455h2M736 465h2M783 459h2M735 442h2M771 452h2M751 443h2M761 458h2M773 444h2M756 439h2M761 456h2M732 434h2M723 443h2M739 411h2M730 435h2M736 426h2M732 433h2M742 403h2M756 436h2M744 426h2M735 433h2M762 420h2M725 421h2M737 435h2M723 415h2M733 435h2M747 424h2M737 389h2M727 405h2M740 422h2M734 426h2M730 411h2M748 417h2M746 408h2M733 416h2M726 431h2M722 424h2M714 430h2M736 436h2M731 421h2M736 432h2M740 434h2M728 422h2M725 418h2M736 414h2M731 396h2M729 412h2M737 427h2M731 418h2M739 408h2M745 449h2M737 437h2M731 424h2M725 445h2M736 420h2M725 413h2M732 413h2M733 422h2M731 426h2M742 413h2M729 427h2M746 416h2M742 431h2M744 452h2M742 410h2M737 410h2M737 433h2M745 426h2M736 427h2M734 419h2M729 450h2M728 412h2M714 436h2M741 428h2M731 392h2M721 388h2M732 410h2M751 398h2M745 384h2M744 412h2M734 397h2M738 419h2M736 412h2M724 439h2M729 435h2M741 436h2M738 425h2M728 409h2M767 435h2M739 394h2M732 427h2M751 442h2M730 423h2M743 405h2M733 411h2" stroke="#a81c22" stroke-width="2" fill="none"/>
<path d="M943 394h2M971 435h2M967 373h2M955 447h2M956 390h2M958 399h2M947 408h2M957 400h2M951 385h2M951 416h2M953 400h2M936 424h2M939 416h2M948 418h2M963 398h2M919 366h2M941 387h2M955 439h2M959 401h2M966 400h2M961 410h2M931 421h2M970 397h2M960 413h2M949 397h2M962 392h2M946 419h2M962 432h2M946 379h2M963 376h2M947 400h2M970 404h2M939 403h2M966 371h2M938 422h2M953 385h2M950 405h2M940 393h2M967 409h2M964 403h2M946 409h2M942 410h2M948 398h2M949 386h2M966 376h2M954 381h2M961 400h2M954 412h2M956 407h2M956 410h2M947 398h2M949 391h2M946 427h2M937 434h2M946 415h2M952 400h2M958 434h2M951 403h2M946 440h2M964 424h2M952 369h2M957 371h2M945 421h2M946 391h2M929 417h2M956 395h2M956 375h2M942 407h2M961 403h2M939 395h2M963 393h2M954 411h2M946 404h2M933 393h2M952 415h2M965 395h2M957 401h2M943 389h2M951 404h2M944 453h2M951 415h2M949 454h2M928 397h2M954 425h2M951 386h2M968 415h2M949 399h2M949 406h2M934 406h2M945 412h2M955 384h2M966 417h2M942 384h2M944 410h2M965 387h2M943 413h2M951 402h2M950 398h2M970 421h2M948 426h2M971 412h2M955 395h2M953 407h2M965 386h2M935 394h2M955 367h2M949 389h2M940 406h2M964 379h2M954 400h2M958 403h2M945 419h2M956 385h2M931 390h2M954 417h2M946 396h2M933 395h2M953 393h2M950 385h2M942 408h2M935 403h2M964 393h2M946 388h2M938 392h2M938 399h2M946 382h2M952 420h2M959 398h2M951 384h2M949 414h2M959 426h2M935 430h2M955 430h2M951 424h2M951 383h2M954 393h2M951 412h2M959 414h2M961 375h2M963 387h2M952 395h2M939 418h2M940 392h2M966 362h2M933 419h2M947 416h2M951 394h2M958 390h2M945 406h2M940 377h2M934 419h2M971 423h2M944 393h2M941 402h2M962 401h2M951 345h2M948 409h2M952 416h2M967 362h2M935 432h2M948 403h2M962 397h2M951 379h2M967 411h2M951 419h2M975 437h2M947 395h2M941 411h2M955 411h2M941 424h2M949 381h2M951 406h2M964 444h2M951 425h2M924 437h2M951 426h2M949 413h2M958 392h2M946 351h2M958 401h2M949 426h2M955 408h2M932 406h2M949 421h2M946 381h2M949 437h2M943 427h2M950 367h2M958 446h2M956 384h2M949 388h2M982 414h2M927 418h2M945 402h2M970 394h2M944 421h2M945 385h2M950 418h2M953 397h2M967 429h2M935 383h2M942 400h2M953 402h2M952 412h2M938 364h2M955 426h2M954 396h2M958 398h2M938 397h2M960 409h2M959 395h2M958 429h2M948 395h2M965 406h2M940 396h2M966 410h2M971 415h2M955 423h2M945 423h2M951 399h2M940 388h2M957 409h2M953 417h2M943 397h2M969 387h2M965 399h2M958 408h2M962 391h2M942 419h2M948 401h2M950 396h2M933 402h2M947 380h2M946 408h2M966 396h2M957 399h2M960 407h2M948 376h2M962 377h2M946 436h2M955 406h2M953 408h2M948 410h2M957 415h2M956 421h2M972 435h2M964 406h2M960 398h2M961 384h2M954 380h2M973 400h2M930 427h2M962 429h2M966 401h2M956 401h2M949 429h2M944 405h2M958 405h2M961 370h2M964 384h2M950 399h2M948 417h2M974 394h2M946 394h2M940 383h2M947 390h2M951 391h2M980 432h2M953 375h2M947 388h2M943 366h2M947 394h2M945 382h2M956 389h2M929 386h2M960 426h2M940 401h2M958 420h2M947 409h2M948 372h2M962 403h2M956 400h2M943 395h2M956 382h2M968 444h2M929 420h2M948 415h2M954 401h2M961 406h2M967 410h2M937 401h2M952 394h2M940 439h2M935 414h2M970 393h2M945 425h2M963 410h2M960 399h2M952 404h2M930 417h2M960 388h2M947 410h2M960 405h2M948 412h2M954 387h2M949 398h2M959 381h2M944 398h2M953 446h2M950 423h2M960 427h2M970 415h2M942 398h2M968 442h2M965 447h2M959 390h2M953 410h2M962 420h2M943 425h2M959 417h2M958 395h2M951 421h2M948 384h2M926 405h2M943 404h2M941 397h2M948 421h2M943 383h2M953 419h2M952 413h2M933 406h2M950 408h2M930 404h2M966 408h2M967 392h2M937 384h2M961 391h2M942 420h2M963 390h2M960 401h2M947 402h2M943 374h2M937 391h2M961 390h2M952 378h2M942 422h2M951 437h2M945 367h2M966 422h2M989 441h2M955 385h2M934 397h2M959 421h2M942 399h2M937 422h2M943 384h2M931 385h2M934 423h2M958 382h2M943 402h2M966 415h2M973 354h2M935 417h2M954 399h2M940 413h2M946 428h2M963 420h2M932 410h2M970 437h2M965 424h2M944 430h2M972 412h2M954 398h2M936 393h2M956 408h2M967 421h2M966 403h2M963 391h2M945 420h2M954 390h2M962 430h2M960 428h2M962 421h2M943 370h2M948 345h2M946 384h2M953 391h2M952 388h2M949 431h2M941 372h2M967 418h2M951 396h2M955 397h2M962 398h2M945 414h2M943 414h2M939 394h2M954 391h2M962 402h2M954 368h2M931 408h2M955 391h2M940 378h2M950 440h2M952 407h2M935 409h2M962 388h2M974 393h2M948 352h2M961 364h2M965 384h2M946 449h2M939 400h2M956 432h2M924 402h2M971 410h2M974 382h2M944 404h2M941 415h2M940 410h2M936 388h2M954 414h2M942 376h2M958 385h2M956 427h2M959 376h2M956 424h2M958 455h2M967 407h2M953 399h2M965 382h2M961 393h2M933 422h2M949 404h2M945 428h2M967 403h2M952 409h2M962 408h2M955 402h2M948 427h2M957 421h2M943 420h2M945 393h2M947 407h2M951 441h2M951 390h2M944 411h2M936 434h2M969 378h2M965 425h2M964 417h2M970 390h2M948 416h2M953 379h2M961 423h2M950 412h2M962 367h2M947 389h2M951 382h2M939 409h2M972 382h2M969 422h2M963 429h2M948 425h2M937 390h2M956 419h2M938 370h2M957 410h2M960 403h2M939 425h2M961 408h2M975 409h2M968 402h2M922 384h2M923 401h2M965 374h2M960 400h2M962 412h2M942 415h2M952 421h2M973 401h2M970 403h2M959 408h2M945 407h2M941 388h2M962 415h2M959 415h2M964 414h2M959 405h2M971 417h2M957 407h2M938 406h2M953 437h2M944 403h2M945 408h2M934 410h2M980 404h2M964 446h2M971 411h2M939 413h2M935 389h2M946 385h2M959 397h2M957 393h2M946 424h2M936 413h2M973 365h2M978 370h2M929 367h2M940 394h2M932 401h2M954 416h2M971 403h2M960 414h2M953 398h2M956 417h2M938 398h2M956 435h2M964 382h2M969 392h2M944 424h2M949 374h2M959 413h2M958 379h2M962 382h2M942 368h2M955 394h2M967 408h2M961 411h2M951 407h2M957 425h2M940 370h2M957 386h2M954 385h2M953 403h2M950 410h2M947 404h2M960 432h2M957 419h2M958 435h2M975 393h2M960 410h2M969 359h2M945 372h2M959 412h2M955 412h2M948 367h2M956 403h2M946 393h2M966 391h2M941 417h2M968 381h2M942 385h2M956 415h2M950 393h2M943 400h2M945 436h2M973 384h2M954 386h2M949 382h2M949 409h2M931 370h2M965 401h2M953 431h2M941 412h2M932 397h2M937 400h2M961 416h2M953 387h2M959 410h2M965 446h2M961 415h2M954 420h2M967 399h2M938 379h2M963 413h2M958 373h2M946 375h2M945 433h2M938 393h2M960 389h2M934 396h2M962 385h2M945 396h2M973 418h2M940 391h2M969 428h2M933 396h2M958 414h2M956 391h2M961 409h2M947 426h2M941 416h2M947 397h2M940 405h2M955 403h2M935 407h2M962 383h2M942 421h2M950 424h2M948 378h2M952 403h2M955 389h2M947 441h2M946 433h2M940 408h2M956 420h2M952 392h2M953 377h2M925 376h2M969 419h2M972 413h2M936 386h2M944 369h2M957 391h2M966 434h2M951 423h2M964 408h2M950 427h2M962 417h2M946 401h2M954 397h2M943 409h2M955 399h2M975 401h2M959 409h2M947 417h2M964 404h2M957 456h2M943 401h2M958 404h2M944 395h2M953 433h2M959 416h2M941 393h2M941 410h2M965 394h2M949 403h2M954 434h2M941 414h2M953 426h2M938 383h2M970 427h2M964 402h2M963 405h2M946 392h2M958 422h2M961 412h2M942 352h2M954 389h2M962 378h2M958 397h2M938 396h2M961 427h2M960 396h2M948 407h2M949 375h2M931 418h2M953 440h2M947 423h2M954 413h2M953 424h2M958 396h2M951 400h2M948 394h2M952 372h2M956 411h2M919 384h2M952 364h2M957 422h2M951 420h2M959 402h2M953 374h2M963 389h2M936 368h2M964 410h2M972 427h2M973 419h2M946 398h2M964 378h2M966 394h2M918 423h2M955 393h2M959 406h2M960 387h2M945 437h2M955 401h2M942 395h2M954 382h2M952 399h2M931 404h2M965 396h2M950 409h2M946 372h2M952 396h2M945 429h2M953 390h2M960 372h2M959 389h2M951 411h2M945 427h2M937 395h2M936 403h2M951 392h2M960 392h2M945 417h2M956 386h2M961 440h2M956 399h2M964 415h2M944 402h2M946 423h2M938 427h2M945 409h2M947 411h2M939 399h2M953 438h2M959 386h2M967 427h2M960 415h2M978 385h2M946 443h2M939 410h2M950 387h2M955 413h2M945 380h2M961 366h2M958 427h2M939 364h2M943 410h2M942 423h2M960 378h2M966 418h2M968 378h2M986 388h2M955 432h2M957 426h2M939 384h2M955 388h2M968 426h2M961 413h2M939 388h2M947 424h2M947 369h2M949 401h2M948 443h2M962 435h2M945 418h2M943 408h2M981 431h2M930 407h2M944 392h2M949 425h2M958 406h2M973 377h2M951 367h2M942 402h2M945 387h2M964 377h2M953 395h2M963 426h2M954 394h2M968 438h2M950 435h2M944 406h2M954 405h2M969 435h2M962 418h2M948 437h2M974 397h2M963 425h2M954 375h2M957 412h2M968 435h2M940 412h2M964 385h2M951 427h2M957 375h2M943 441h2M953 406h2M963 408h2M939 405h2M957 408h2M964 420h2M958 402h2M935 425h2M953 416h2M938 408h2M954 430h2M955 390h2M936 374h2M963 402h2M952 402h2M940 416h2M960 385h2M944 391h2M963 409h2M952 390h2M963 406h2M929 402h2M968 366h2M962 409h2M941 378h2M964 392h2M957 417h2M943 411h2M948 422h2M960 433h2M964 381h2M947 413h2M953 411h2M952 423h2M945 413h2M952 401h2M961 418h2M964 396h2M958 389h2M955 400h2M963 369h2M960 393h2M964 368h2M957 411h2M955 374h2M938 391h2M944 417h2M948 430h2M946 395h2M950 433h2M940 399h2M959 404h2M961 398h2M961 388h2M954 422h2M940 400h2M934 401h2M957 434h2M936 408h2M946 434h2M952 424h2M956 394h2M962 400h2M930 403h2M940 414h2M968 410h2M958 383h2M973 398h2M955 373h2M957 414h2M940 381h2M958 419h2M939 417h2M938 402h2M941 418h2M943 393h2M950 390h2M968 394h2M959 433h2M961 372h2M942 391h2M960 408h2M954 404h2M944 429h2M954 431h2M967 384h2M951 398h2M941 383h2M970 406h2M967 396h2M950 450h2M953 418h2M950 391h2M938 403h2M932 414h2M947 415h2M945 376h2M945 399h2M945 386h2M929 414h2M963 386h2M942 388h2M955 405h2M944 394h2M954 451h2M945 440h2M942 404h2M942 428h2M962 427h2M930 443h2M949 367h2M952 406h2M963 371h2M938 417h2M960 394h2M947 432h2M949 416h2M939 391h2M951 418h2M952 417h2M946 377h2M961 419h2M954 392h2M947 393h2M956 392h2M953 405h2M921 422h2M952 387h2M972 404h2M960 406h2M928 425h2M940 423h2M951 388h2M926 395h2M941 404h2M940 417h2M972 418h2M945 410h2M935 390h2M946 389h2M936 427h2M963 399h2M946 413h2M935 393h2M947 383h2M971 400h2M973 430h2M967 400h2M944 413h2M949 419h2M950 421h2M941 427h2M931 409h2M957 358h2M935 377h2M948 414h2M975 386h2M955 404h2M963 366h2M935 385h2M941 408h2M947 368h2M944 375h2M944 400h2M944 425h2M975 412h2M936 429h2M956 423h2M954 426h2M947 399h2M945 426h2M940 435h2M956 393h2M965 409h2M948 377h2M973 405h2M929 393h2M940 424h2M939 408h2M960 395h2M947 403h2M935 395h2M978 397h2M970 412h2M965 397h2M953 413h2M965 393h2M957 420h2M947 376h2M947 422h2M964 387h2M963 378h2M950 378h2M938 390h2M939 412h2M950 388h2M939 392h2M954 402h2M943 431h2M955 415h2M967 387h2M955 377h2M951 430h2M948 408h2M948 405h2M969 425h2M977 418h2M926 397h2M947 430h2M960 448h2M948 374h2M955 379h2M939 402h2M954 403h2M950 416h2M946 383h2M960 416h2M962 404h2M945 430h2M965 418h2M947 406h2M943 386h2M953 409h2M973 387h2M974 429h2M952 375h2M957 396h2M966 395h2M969 433h2M949 423h2M975 403h2M946 405h2M951 397h2M950 382h2M970 411h2M948 435h2M948 399h2M974 417h2M965 416h2M958 417h2M960 444h2M941 364h2M950 379h2M954 384h2M947 392h2M961 392h2M940 421h2M941 421h2M949 420h2M950 443h2M942 426h2M936 400h2M963 372h2M955 386h2M947 396h2M946 390h2M926 428h2M974 413h2M955 410h2M945 404h2M953 392h2M958 412h2M945 395h2M966 365h2M946 426h2M941 406h2M956 438h2M939 370h2M963 396h2M963 418h2M983 369h2M940 387h2M950 444h2M947 385h2M952 397h2M947 421h2M955 424h2M952 393h2M957 413h2M981 427h2M931 415h2M954 408h2M923 381h2M947 418h2M954 374h2M942 416h2M937 409h2M950 411h2M954 364h2M953 414h2M961 396h2M959 373h2M941 425h2M959 403h2M950 395h2M978 450h2M950 375h2M951 393h2M952 383h2M945 394h2M948 438h2M962 393h2M938 424h2M952 410h2M964 370h2M946 407h2M964 388h2M956 404h2M941 398h2M949 451h2M949 390h2M967 424h2M934 402h2M953 412h2M970 396h2M965 443h2M922 400h2M946 430h2M961 376h2M961 401h2M954 383h2M958 407h2M967 432h2M937 413h2M949 395h2M955 431h2M958 387h2M954 409h2M959 371h2M952 385h2M955 440h2M946 376h2M957 405h2M952 377h2M957 416h2M930 406h2M975 411h2M976 411h2M967 381h2M946 397h2M952 398h2M963 403h2M944 433h2M950 413h2M968 382h2M949 422h2M949 412h2M953 435h2M954 436h2M944 397h2M957 388h2M958 423h2M959 392h2M939 375h2M943 392h2M938 376h2M954 437h2M943 403h2M952 471h2M953 475h2M952 490h2M931 462h2M937 464h2M947 475h2M958 486h2M948 473h2M951 478h2M943 480h2M943 473h2M945 469h2M942 475h2M945 464h2M958 488h2M958 484h2M946 466h2M939 460h2M944 460h2M947 476h2M942 470h2M946 479h2M944 488h2M940 469h2M943 472h2M948 479h2M944 487h2M933 476h2M946 463h2M936 475h2M954 477h2M945 471h2M943 471h2M950 483h2M950 468h2M950 482h2M937 465h2M942 466h2M949 483h2M939 476h2M943 476h2M953 476h2M945 465h2M953 487h2M933 479h2M945 463h2M958 478h2M960 467h2M943 461h2M946 460h2M944 483h2M949 482h2M947 480h2M949 473h2M940 465h2M954 460h2M940 477h2M950 476h2M935 483h2M945 462h2M953 473h2M933 452h2M945 468h2M948 475h2M947 465h2M951 475h2M944 477h2M940 467h2M945 466h2M956 476h2M951 489h2M956 491h2M940 487h2M946 476h2M956 456h2M936 463h2M949 490h2M946 462h2M949 489h2M959 473h2M947 477h2M950 473h2M943 487h2M956 474h2M942 469h2M938 464h2M944 468h2M948 470h2M940 471h2M929 477h2M944 485h2M940 491h2M948 484h2M944 479h2M944 467h2M951 481h2M954 466h2M942 474h2M950 463h2M944 482h2M947 473h2M938 471h2M951 482h2M934 477h2M943 466h2M958 479h2M938 465h2M947 461h2M944 478h2M937 475h2M949 468h2M951 471h2M947 474h2M946 457h2M953 478h2M947 479h2M949 456h2M941 469h2M944 469h2M940 476h2M951 477h2M956 487h2M942 467h2M942 471h2M947 468h2M947 449h2M947 478h2M941 485h2M951 479h2M935 480h2M930 461h2M944 462h2M955 464h2M965 474h2M956 470h2M938 477h2M954 469h2M946 475h2M947 469h2M941 452h2M950 467h2M948 472h2M944 473h2M948 459h2M954 482h2M948 460h2M951 474h2M957 470h2M931 470h2M945 454h2M948 487h2M952 463h2M946 464h2M959 488h2M948 467h2M952 460h2M954 472h2M948 480h2M962 480h2M945 477h2M947 466h2M948 463h2M954 471h2M938 479h2M935 463h2M950 493h2M948 476h2M953 469h2M946 467h2M938 467h2M942 477h2M942 483h2M939 464h2M946 481h2M958 470h2M956 467h2M938 475h2M955 481h2M939 472h2M934 486h2M942 468h2M961 478h2M952 481h2M961 455h2M947 484h2M950 460h2M954 457h2M950 475h2M932 480h2M952 474h2M957 483h2M938 481h2M946 474h2M945 482h2M940 478h2M935 477h2M937 463h2M946 465h2M954 465h2M957 481h2M947 494h2M949 469h2M949 471h2M946 469h2M942 481h2M946 480h2M943 485h2M957 473h2M952 462h2M937 480h2M934 497h2M953 489h2M952 465h2M938 469h2M956 495h2M935 454h2M941 476h2M937 481h2M943 469h2M946 486h2M947 496h2M931 469h2M946 468h2M939 470h2M941 482h2M958 476h2M949 472h2M937 485h2M946 478h2M951 476h2M931 471h2M950 477h2M950 490h2M950 498h2M950 497h2M956 481h2M952 468h2M946 482h2M943 475h2M955 474h2M948 485h2M950 462h2M949 494h2M955 476h2M942 482h2M948 486h2M941 473h2M946 461h2M951 485h2M956 471h2M948 456h2M943 474h2M953 470h2M941 471h2M947 458h2M935 478h2M941 481h2M951 472h2M939 477h2M952 478h2M934 476h2M947 481h2M941 470h2M954 484h2M937 482h2M941 462h2M958 480h2M946 471h2M959 470h2M932 484h2M943 456h2M931 468h2M942 488h2M945 476h2M953 485h2M932 462h2M946 490h2M943 483h2M944 486h2M948 482h2M947 482h2M958 481h2M938 466h2M942 457h2M967 481h2M955 462h2M939 483h2M942 478h2M943 484h2M938 460h2M951 469h2M956 472h2M934 481h2M941 492h2M964 472h2M953 474h2M944 481h2M939 478h2M970 473h2M971 462h2M942 458h2M949 474h2M957 486h2M940 475h2M952 451h2M957 477h2M957 464h2M941 465h2M934 485h2M930 465h2M937 468h2M948 464h2M955 484h2M952 494h2M939 468h2M942 463h2M949 470h2M959 464h2M948 468h2M941 479h2M934 475h2M936 458h2M960 459h2M947 470h2M953 480h2M939 473h2M958 473h2M964 480h2M943 491h2M937 461h2M943 467h2M944 472h2M954 490h2M945 467h2M938 459h2M945 461h2M941 486h2M934 482h2M950 484h2M932 475h2M942 486h2M940 495h2M935 453h2M941 463h2M955 478h2M938 472h2M944 496h2M936 474h2M937 459h2M945 478h2M952 469h2M935 466h2M953 468h2M949 479h2M948 478h2M942 472h2M943 468h2M951 467h2M950 474h2M948 490h2M959 481h2M953 452h2M942 464h2M950 478h2M950 479h2M942 480h2M946 483h2M940 480h2M940 454h2M940 468h2M955 477h2M953 486h2M953 482h2M943 478h2M945 481h2M955 485h2M938 474h2M961 482h2M946 472h2M949 467h2M962 486h2M945 470h2M952 483h2M949 459h2M945 490h2M944 466h2M948 483h2M954 485h2M951 465h2M948 471h2M944 461h2M932 483h2M944 475h2M942 479h2M940 481h2M954 479h2M930 468h2M956 483h2M941 464h2M931 493h2M952 476h2M952 454h2M941 467h2M955 491h2M946 473h2M945 479h2M941 478h2M935 461h2M948 457h2M944 492h2M948 489h2M957 468h2M954 486h2M960 472h2M959 484h2M967 473h2M943 479h2M932 468h2M962 481h2M938 483h2M929 482h2M958 475h2M944 459h2M944 474h2M949 491h2M951 480h2M938 488h2M952 475h2M939 479h2M943 486h2M926 475h2M928 475h2M947 472h2M932 470h2M940 451h2M941 483h2M935 490h2M949 466h2M953 471h2M954 474h2M941 461h2M955 471h2M949 477h2M941 475h2M956 480h2M947 485h2M943 470h2M935 474h2M941 490h2M953 463h2M945 485h2M946 477h2M951 473h2M933 482h2M957 469h2M942 473h2M953 477h2M957 463h2M957 457h2M945 458h2M950 470h2M958 438h2M947 450h2M947 455h2M944 451h2M938 445h2M972 423h2M946 456h2M937 445h2M960 443h2M951 459h2M951 463h2M963 437h2M962 453h2M950 441h2M960 422h2M937 460h2M967 446h2M940 433h2M948 444h2M947 440h2M960 455h2M963 438h2M936 454h2M955 442h2M932 432h2M948 400h2M954 462h2M963 436h2M959 456h2M951 446h2M943 445h2M951 456h2M938 442h2M940 432h2M952 434h2M951 457h2M952 435h2M938 453h2M944 440h2M969 458h2M946 435h2M958 456h2M950 453h2M957 455h2M961 452h2M954 433h2M951 448h2M929 422h2M963 469h2M944 442h2M947 443h2M963 468h2M946 429h2M942 434h2M963 441h2M951 422h2M944 431h2M949 417h2M944 450h2M959 448h2M959 441h2M936 418h2M940 479h2M951 458h2M937 423h2M951 450h2M951 442h2M952 437h2M953 456h2M942 445h2M960 478h2M966 435h2M944 436h2M958 386h2M951 460h2M959 436h2M955 441h2M967 448h2M954 439h2M944 447h2M960 441h2M932 428h2M957 451h2M955 457h2M952 446h2M939 446h2M947 427h2M939 427h2M954 421h2M958 451h2M944 458h2M947 429h2M935 457h2M956 397h2M940 446h2M963 422h2M938 440h2M951 428h2M956 440h2M939 439h2M975 450h2M965 436h2M926 459h2M934 431h2M937 431h2M946 432h2M963 421h2M948 449h2M967 453h2M943 448h2M942 449h2M940 429h2M943 430h2M959 447h2M944 452h2M959 428h2M940 438h2M967 435h2M949 452h2M936 466h2M939 461h2M965 426h2M955 452h2M961 435h2M961 442h2M941 456h2M949 453h2M943 449h2M961 414h2M946 418h2M941 433h2M945 447h2M943 437h2M960 442h2M956 426h2M950 431h2M938 463h2M940 427h2M940 402h2M953 420h2M934 426h2M958 437h2M949 450h2M943 416h2M950 430h2M950 428h2M943 417h2M939 458h2M956 429h2M941 449h2M947 435h2M936 447h2M966 443h2M968 440h2M951 453h2M944 441h2M955 429h2M954 458h2M954 429h2M959 460h2M945 444h2M945 438h2M954 438h2M952 433h2M945 449h2M973 433h2M962 484h2M932 463h2M956 454h2M952 456h2M960 452h2M950 426h2M947 420h2M939 434h2M950 458h2M955 446h2M948 451h2M955 418h2M956 437h2M937 428h2M949 460h2M941 446h2M953 436h2M944 418h2M968 418h2M941 459h2M938 451h2M964 432h2M958 415h2M936 420h2M955 444h2M956 412h2M965 434h2M973 445h2M935 440h2M943 465h2M952 461h2M943 428h2M960 435h2M955 438h2M948 436h2M949 441h2M958 447h2M961 449h2M942 439h2M953 434h2M945 460h2M935 451h2M944 443h2M938 423h2M947 453h2M934 424h2M936 433h2M949 444h2M932 464h2M955 461h2M961 448h2M949 427h2M939 432h2M934 425h2M940 437h2M938 438h2M959 466h2M957 447h2M946 454h2M947 444h2M959 437h2M940 456h2M956 457h2M966 448h2M957 442h2M956 469h2M956 430h2M950 472h2M939 431h2M943 434h2M956 422h2M960 436h2M952 440h2M937 414h2M940 472h2M946 446h2M959 435h2M956 445h2M953 458h2M974 451h2M960 446h2M935 458h2M937 437h2M937 456h2M938 429h2M941 444h2M944 449h2M948 448h2M949 440h2M947 448h2M932 456h2M957 439h2M960 439h2M949 433h2M961 469h2M959 455h2M953 443h2M949 447h2M950 436h2M965 440h2M942 437h2M943 438h2M940 455h2M954 424h2M938 447h2M951 429h2M956 448h2M952 457h2M953 461h2M926 435h2M967 431h2M935 450h2M966 467h2M953 421h2M958 441h2M963 440h2M948 440h2M951 443h2M961 433h2M948 455h2M938 431h2M942 433h2M956 449h2M975 431h2M940 473h2M942 436h2M984 411h2M969 418h2M973 383h2M988 411h2M978 395h2M987 402h2M974 415h2M983 388h2M991 381h2M973 412h2M979 418h2M985 370h2M992 399h2M980 395h2M970 416h2M984 410h2M974 430h2M984 415h2M981 411h2M991 422h2M990 408h2M981 389h2M979 398h2M973 406h2M981 396h2M965 402h2M980 411h2M972 387h2M975 415h2M967 426h2M978 403h2M981 417h2M987 378h2M975 413h2M985 409h2M978 406h2M991 405h2M984 428h2M989 387h2M970 376h2M990 404h2M975 405h2M972 420h2M982 405h2M985 402h2M980 424h2M995 414h2M993 383h2M981 406h2M976 414h2M997 414h2M990 427h2M992 408h2M975 424h2M988 400h2M995 394h2M969 406h2M969 404h2M980 398h2M981 388h2M960 419h2M989 419h2M977 413h2M977 424h2M976 417h2M981 380h2M978 392h2M984 419h2M970 413h2M971 399h2M982 425h2M985 416h2M976 405h2M986 409h2M982 413h2M995 427h2M993 413h2M974 390h2M982 392h2M1000 407h2M982 406h2M982 387h2M983 419h2M983 411h2M981 418h2M971 378h2M976 407h2M986 396h2M987 400h2M986 418h2M978 405h2M977 396h2M975 391h2M987 413h2M979 408h2M981 429h2M988 402h2M987 383h2M976 395h2M983 399h2M974 396h2M968 387h2M983 418h2M995 420h2M964 397h2M994 409h2M968 413h2M979 392h2M984 432h2M979 388h2M979 393h2M959 399h2M984 392h2M979 404h2M976 400h2M977 402h2M979 414h2M976 394h2M984 396h2M999 402h2M997 410h2M984 404h2M977 393h2M972 419h2M959 431h2M995 434h2M990 371h2M962 416h2M969 412h2M976 412h2M977 406h2M965 405h2M972 421h2M974 412h2M985 403h2M972 407h2M978 417h2M971 388h2M990 425h2M988 434h2M978 418h2M991 397h2M990 394h2M991 392h2M972 385h2M977 404h2M978 399h2M977 397h2M974 407h2M970 385h2M986 393h2M980 390h2M966 384h2M973 408h2M975 406h2M968 420h2M981 397h2M986 382h2M973 409h2M993 397h2M995 422h2M989 390h2M992 382h2M991 421h2M994 417h2M982 381h2M987 396h2M971 404h2M984 386h2M983 393h2M974 416h2M977 420h2M978 414h2M969 382h2M978 428h2M984 398h2M974 424h2M985 383h2M962 433h2M981 405h2M982 403h2M978 404h2M975 420h2M988 399h2M997 420h2M973 426h2M971 421h2M980 387h2M975 402h2M989 424h2M989 412h2M984 414h2M986 424h2M976 372h2M983 395h2M964 405h2M972 403h2M979 407h2M973 392h2M987 414h2M977 387h2M984 397h2M986 394h2M981 410h2M975 398h2M977 399h2M973 407h2M980 401h2M972 416h2M996 396h2M987 394h2M977 388h2M998 392h2M984 416h2M987 387h2M976 366h2M970 401h2M989 434h2M974 426h2M979 401h2M977 401h2M966 404h2M969 410h2M1003 386h2M994 388h2M976 420h2M984 422h2M991 401h2M975 414h2M984 430h2M961 420h2M984 401h2M972 393h2M973 429h2M980 413h2M986 405h2M978 394h2M979 403h2M974 401h2M990 417h2M982 423h2M981 422h2M979 426h2M969 407h2M978 396h2M982 386h2M979 433h2M988 405h2M993 400h2M987 410h2M976 413h2M1000 393h2M972 430h2M974 404h2M984 391h2M970 402h2M984 426h2M979 419h2M992 412h2M965 417h2M970 414h2M972 388h2M979 387h2M980 402h2M949 377h2M961 357h2M948 344h2M943 382h2M952 366h2M972 351h2M951 360h2M943 352h2M986 364h2M958 349h2M942 362h2M948 357h2M956 362h2M958 368h2M973 355h2M954 376h2M947 373h2M946 354h2M939 358h2M976 381h2M953 366h2M965 347h2M947 357h2M929 350h2M944 356h2M957 353h2M957 366h2M949 380h2M931 359h2M952 376h2M950 366h2M953 383h2M947 349h2M945 364h2M936 376h2M946 350h2M946 349h2M938 360h2M942 380h2M921 366h2M943 379h2M939 365h2M971 366h2M944 357h2M954 377h2M953 367h2M966 356h2M945 355h2M965 365h2M956 350h2M930 372h2M946 369h2M957 352h2M970 349h2M953 372h2M976 347h2M949 370h2M951 350h2M963 358h2M951 351h2M948 371h2M954 372h2M958 354h2M948 360h2M937 379h2M943 348h2M951 344h2M968 380h2M959 350h2M961 356h2M946 348h2M958 372h2M938 363h2M956 358h2M949 373h2M967 368h2M959 368h2M944 358h2M951 348h2M960 381h2M975 356h2M945 349h2M959 358h2M965 346h2M953 352h2M954 356h2M929 369h2M952 361h2M950 348h2M951 368h2M971 362h2M945 373h2M949 356h2M951 366h2M937 360h2M950 354h2M971 340h2M951 361h2M926 355h2M941 342h2M944 364h2M948 382h2M933 363h2M955 361h2M959 356h2M957 356h2M946 368h2M949 359h2M967 346h2M951 370h2M958 364h2M968 355h2M953 381h2M938 366h2M959 364h2M957 350h2M954 359h2M957 362h2M974 372h2M977 372h2M957 369h2M968 351h2M935 344h2M949 362h2M962 356h2M943 355h2M961 358h2M959 372h2M949 351h2M938 354h2M940 363h2M937 362h2M939 361h2M960 341h2M956 353h2M953 353h2M978 359h2M947 358h2" stroke="#a81c22" stroke-width="2" fill="none"/>
<text font-size="40" font-weight="bold" transform="translate(1171.5 34) scale(1.060 1)" stroke="#231f20" stroke-width="1.1">b</text>
<text font-size="27" text-anchor="middle" transform="translate(1197 454) rotate(-90) scale(1.050 1)">Percentage per CD154<tspan font-size="16" dy="-11">+</tspan><tspan dy="11"> T</tspan><tspan font-size="19" dy="7">mem</tspan><tspan dy="-7"> cells</tspan></text>
<line x1="1269.5" y1="97.6" x2="1269.5" y2="398.4" stroke="#4a4a4a" stroke-width="1.2"/>
<path d="M1261 398.4h8.5 M1261 338.2h8.5 M1261 278.1h8.5 M1261 217.9h8.5 M1261 157.8h8.5 M1261 97.6h8.5" stroke="#4a4a4a" fill="none" stroke-width="1.2"/>
<text font-size="23.5" text-anchor="end" transform="translate(1249 406.7) scale(1.100 1)">0</text>
<text font-size="23.5" text-anchor="end" transform="translate(1249 346.5) scale(1.100 1)">10</text>
<text font-size="23.5" text-anchor="end" transform="translate(1249 286.4) scale(1.100 1)">20</text>
<text font-size="23.5" text-anchor="end" transform="translate(1249 226.2) scale(1.100 1)">30</text>
<text font-size="23.5" text-anchor="end" transform="translate(1249 166.1) scale(1.100 1)">40</text>
<text font-size="23.5" text-anchor="end" transform="translate(1249 105.9) scale(1.100 1)">50</text>
<line x1="1269.5" y1="398.4" x2="1684" y2="398.4" stroke="#4a4a4a" stroke-width="1.2"/>
<text font-size="26" text-anchor="middle" transform="translate(1476 41) scale(1.030 1)"><tspan font-style="italic">GZMB</tspan></text>
<text font-size="26" text-anchor="middle" transform="translate(1338.8 84.6) scale(1.070 1)">HD</text>
<text font-size="26" text-anchor="middle" transform="translate(1473.3 84.6) scale(1.070 1)">CD</text>
<text font-size="26" text-anchor="middle" transform="translate(1613.8 84.6) scale(1.070 1)">UC</text>
<path d="M1295 397.8 L1294 396.8 L1293.2 395.8 L1292.8 394.8 L1292.8 393.8 L1293 392.8 L1293.5 391.8 L1294 390.8 L1294.7 389.8 L1295.4 388.8 L1296.2 387.8 L1297 386.8 L1297.9 385.8 L1298.7 384.8 L1299.5 383.8 L1300.2 382.8 L1300.7 381.8 L1301.1 380.8 L1301.4 379.8 L1301.6 378.8 L1301.7 377.8 L1301.8 376.8 L1301.8 375.8 L1301.8 374.8 L1301.8 373.8 L1301.8 372.8 L1301.8 371.8 L1301.8 370.8 L1301.8 369.8 L1301.8 368.8 L1301.8 367.8 L1301.8 366.8 L1301.8 365.8 L1301.8 364.9 L1301.8 363.9 L1301.8 362.9 L1301.8 361.9 L1301.8 360.9 L1301.8 359.9 L1301.7 358.9 L1301.6 357.9 L1301.5 356.9 L1301.3 355.9 L1301.1 354.9 L1300.9 353.9 L1300.7 352.9 L1300.6 351.9 L1300.6 350.9 L1303 350.9 L1303 351.9 L1302.9 352.9 L1302.7 353.9 L1302.5 354.9 L1302.3 355.9 L1302.1 356.9 L1302 357.9 L1301.9 358.9 L1301.8 359.9 L1301.8 360.9 L1301.8 361.9 L1301.8 362.9 L1301.8 363.9 L1301.8 364.9 L1301.8 365.8 L1301.8 366.8 L1301.8 367.8 L1301.8 368.8 L1301.8 369.8 L1301.8 370.8 L1301.8 371.8 L1301.8 372.8 L1301.8 373.8 L1301.8 374.8 L1301.8 375.8 L1301.8 376.8 L1301.9 377.8 L1302 378.8 L1302.2 379.8 L1302.5 380.8 L1302.9 381.8 L1303.4 382.8 L1304.1 383.8 L1304.9 384.8 L1305.7 385.8 L1306.6 386.8 L1307.4 387.8 L1308.2 388.8 L1308.9 389.8 L1309.6 390.8 L1310.1 391.8 L1310.6 392.8 L1310.8 393.8 L1310.8 394.8 L1310.4 395.8 L1309.6 396.8 L1308.6 397.8 Z" stroke="#333" fill="#8a8a8a" stroke-width="1"/>
<circle cx="1301.8" cy="350.9" r="6" fill="#4a4a4c" stroke="#1c1c1c" stroke-width="1"/>
<circle cx="1301.8" cy="386.4" r="6" fill="#4a4a4c" stroke="#1c1c1c" stroke-width="1"/>
<circle cx="1311.8" cy="387.6" r="6" fill="#4a4a4c" stroke="#1c1c1c" stroke-width="1"/>
<circle cx="1291.8" cy="389.4" r="6" fill="#4a4a4c" stroke="#1c1c1c" stroke-width="1"/>
<circle cx="1301.8" cy="391.2" r="6" fill="#4a4a4c" stroke="#1c1c1c" stroke-width="1"/>
<circle cx="1311.8" cy="392.4" r="6" fill="#4a4a4c" stroke="#1c1c1c" stroke-width="1"/>
<circle cx="1291.8" cy="393.6" r="6" fill="#4a4a4c" stroke="#1c1c1c" stroke-width="1"/>
<circle cx="1301.8" cy="394.8" r="6" fill="#4a4a4c" stroke="#1c1c1c" stroke-width="1"/>
<circle cx="1311.8" cy="395.4" r="6" fill="#4a4a4c" stroke="#1c1c1c" stroke-width="1"/>
<circle cx="1291.8" cy="396.6" r="6" fill="#4a4a4c" stroke="#1c1c1c" stroke-width="1"/>
<circle cx="1301.8" cy="397.2" r="6" fill="#4a4a4c" stroke="#1c1c1c" stroke-width="1"/>
<circle cx="1311.8" cy="397.8" r="6" fill="#4a4a4c" stroke="#1c1c1c" stroke-width="1"/>
<line x1="1289.6" y1="393" x2="1314" y2="393" stroke="#d8d8d8" stroke-width="1.1" stroke-dasharray="4 2.5"/>
<line x1="1289.6" y1="395.7" x2="1314" y2="395.7" stroke="#bbbbbb" stroke-width="1.1" stroke-dasharray="1.2 2"/>
<line x1="1289.6" y1="388.9" x2="1314" y2="388.9" stroke="#bbbbbb" stroke-width="1.1" stroke-dasharray="1.2 2"/>
<path d="M1333 398.4 L1332 397.4 L1331.4 396.4 L1331.2 395.4 L1331.3 394.4 L1331.6 393.3 L1332 392.3 L1332.5 391.3 L1332.9 390.3 L1333.4 389.3 L1334 388.3 L1334.5 387.3 L1335.2 386.3 L1335.9 385.3 L1336.7 384.2 L1337.3 383.2 L1337.9 382.2 L1338.3 381.2 L1338.5 380.2 L1338.6 379.2 L1338.7 378.2 L1338.7 377.2 L1338.8 376.2 L1338.9 375.1 L1339.1 374.1 L1339.4 373.1 L1339.6 372.1 L1339.8 371.1 L1340 370.1 L1340.1 369.1 L1340.1 368.1 L1340.2 367.1 L1340.2 366 L1340.2 365 L1340.2 364 L1340.2 363 L1340.2 362 L1340.2 361 L1340.2 360 L1340.1 359 L1340 358 L1339.9 356.9 L1339.7 355.9 L1339.5 354.9 L1339.2 353.9 L1339 352.9 L1338.9 351.9 L1338.8 350.9 L1341.6 350.9 L1341.5 351.9 L1341.4 352.9 L1341.2 353.9 L1340.9 354.9 L1340.7 355.9 L1340.5 356.9 L1340.4 358 L1340.3 359 L1340.2 360 L1340.2 361 L1340.2 362 L1340.2 363 L1340.2 364 L1340.2 365 L1340.2 366 L1340.2 367.1 L1340.3 368.1 L1340.3 369.1 L1340.4 370.1 L1340.6 371.1 L1340.8 372.1 L1341 373.1 L1341.3 374.1 L1341.5 375.1 L1341.6 376.2 L1341.7 377.2 L1341.7 378.2 L1341.8 379.2 L1341.9 380.2 L1342.1 381.2 L1342.5 382.2 L1343.1 383.2 L1343.7 384.2 L1344.5 385.3 L1345.2 386.3 L1345.9 387.3 L1346.4 388.3 L1347 389.3 L1347.5 390.3 L1347.9 391.3 L1348.4 392.3 L1348.8 393.3 L1349.1 394.4 L1349.2 395.4 L1349 396.4 L1348.4 397.4 L1347.4 398.4 Z" stroke="#333" fill="#8a8a8a" stroke-width="1"/>
<circle cx="1340.2" cy="350.9" r="6" fill="#4a4a4c" stroke="#1c1c1c" stroke-width="1"/>
<circle cx="1340.2" cy="376.7" r="6" fill="#4a4a4c" stroke="#1c1c1c" stroke-width="1"/>
<circle cx="1350.2" cy="385.2" r="6" fill="#4a4a4c" stroke="#1c1c1c" stroke-width="1"/>
<circle cx="1330.2" cy="387" r="6" fill="#4a4a4c" stroke="#1c1c1c" stroke-width="1"/>
<circle cx="1340.2" cy="388.8" r="6" fill="#4a4a4c" stroke="#1c1c1c" stroke-width="1"/>
<circle cx="1340.2" cy="390.6" r="6" fill="#4a4a4c" stroke="#1c1c1c" stroke-width="1"/>
<circle cx="1350.2" cy="392.4" r="6" fill="#4a4a4c" stroke="#1c1c1c" stroke-width="1"/>
<circle cx="1330.2" cy="393.6" r="6" fill="#4a4a4c" stroke="#1c1c1c" stroke-width="1"/>
<circle cx="1340.2" cy="395.4" r="6" fill="#4a4a4c" stroke="#1c1c1c" stroke-width="1"/>
<circle cx="1350.2" cy="396.6" r="6" fill="#4a4a4c" stroke="#1c1c1c" stroke-width="1"/>
<circle cx="1330.2" cy="397.2" r="6" fill="#4a4a4c" stroke="#1c1c1c" stroke-width="1"/>
<circle cx="1340.2" cy="397.8" r="6" fill="#4a4a4c" stroke="#1c1c1c" stroke-width="1"/>
<circle cx="1350.2" cy="398.4" r="6" fill="#4a4a4c" stroke="#1c1c1c" stroke-width="1"/>
<line x1="1328" y1="392.4" x2="1352.4" y2="392.4" stroke="#d8d8d8" stroke-width="1.1" stroke-dasharray="4 2.5"/>
<line x1="1328" y1="396.6" x2="1352.4" y2="396.6" stroke="#bbbbbb" stroke-width="1.1" stroke-dasharray="1.2 2"/>
<line x1="1328" y1="387" x2="1352.4" y2="387" stroke="#bbbbbb" stroke-width="1.1" stroke-dasharray="1.2 2"/>
<path d="M1372 398.4 L1371.2 397.6 L1370.6 396.8 L1370.2 395.9 L1370.1 395.1 L1370.2 394.3 L1370.3 393.5 L1370.6 392.7 L1370.9 391.8 L1371.2 391 L1371.5 390.2 L1371.8 389.4 L1372.1 388.6 L1372.3 387.8 L1372.4 386.9 L1372.5 386.1 L1372.5 385.3 L1372.5 384.5 L1372.4 383.7 L1372.4 382.8 L1372.5 382 L1372.7 381.2 L1373 380.4 L1373.5 379.6 L1374 378.7 L1374.6 377.9 L1375.3 377.1 L1376 376.3 L1376.6 375.5 L1377.2 374.6 L1377.6 373.8 L1378 373 L1378.1 372.2 L1378.1 371.4 L1378 370.5 L1377.8 369.7 L1377.6 368.9 L1377.3 368.1 L1377.1 367.3 L1376.9 366.5 L1376.9 365.6 L1376.9 364.8 L1376.9 364 L1376.9 363.2 L1376.9 362.4 L1376.9 361.5 L1376.9 360.7 L1377 359.9 L1381.2 359.9 L1381.3 360.7 L1381.3 361.5 L1381.3 362.4 L1381.3 363.2 L1381.3 364 L1381.3 364.8 L1381.3 365.6 L1381.3 366.5 L1381.1 367.3 L1380.9 368.1 L1380.6 368.9 L1380.4 369.7 L1380.2 370.5 L1380.1 371.4 L1380.1 372.2 L1380.2 373 L1380.6 373.8 L1381 374.6 L1381.6 375.5 L1382.2 376.3 L1382.9 377.1 L1383.6 377.9 L1384.2 378.7 L1384.7 379.6 L1385.2 380.4 L1385.5 381.2 L1385.7 382 L1385.8 382.8 L1385.8 383.7 L1385.7 384.5 L1385.7 385.3 L1385.7 386.1 L1385.8 386.9 L1385.9 387.8 L1386.1 388.6 L1386.4 389.4 L1386.7 390.2 L1387 391 L1387.3 391.8 L1387.6 392.7 L1387.9 393.5 L1388 394.3 L1388.1 395.1 L1388 395.9 L1387.6 396.8 L1387 397.6 L1386.2 398.4 Z" stroke="#333" fill="#8a8a8a" stroke-width="1"/>
<circle cx="1389.1" cy="359.9" r="6" fill="#4a4a4c" stroke="#1c1c1c" stroke-width="1"/>
<circle cx="1369.1" cy="366.5" r="6" fill="#4a4a4c" stroke="#1c1c1c" stroke-width="1"/>
<circle cx="1379.1" cy="377.3" r="6" fill="#4a4a4c" stroke="#1c1c1c" stroke-width="1"/>
<circle cx="1389.1" cy="380.4" r="6" fill="#4a4a4c" stroke="#1c1c1c" stroke-width="1"/>
<circle cx="1369.1" cy="382.2" r="6" fill="#4a4a4c" stroke="#1c1c1c" stroke-width="1"/>
<circle cx="1379.1" cy="384" r="6" fill="#4a4a4c" stroke="#1c1c1c" stroke-width="1"/>
<circle cx="1389.1" cy="387" r="6" fill="#4a4a4c" stroke="#1c1c1c" stroke-width="1"/>
<circle cx="1369.1" cy="389.4" r="6" fill="#4a4a4c" stroke="#1c1c1c" stroke-width="1"/>
<circle cx="1379.1" cy="391.2" r="6" fill="#4a4a4c" stroke="#1c1c1c" stroke-width="1"/>
<circle cx="1389.1" cy="393" r="6" fill="#4a4a4c" stroke="#1c1c1c" stroke-width="1"/>
<circle cx="1369.1" cy="394.8" r="6" fill="#4a4a4c" stroke="#1c1c1c" stroke-width="1"/>
<circle cx="1379.1" cy="396.6" r="6" fill="#4a4a4c" stroke="#1c1c1c" stroke-width="1"/>
<circle cx="1389.1" cy="397.8" r="6" fill="#4a4a4c" stroke="#1c1c1c" stroke-width="1"/>
<circle cx="1369.1" cy="398.4" r="6" fill="#4a4a4c" stroke="#1c1c1c" stroke-width="1"/>
<line x1="1366.9" y1="388.2" x2="1391.3" y2="388.2" stroke="#d8d8d8" stroke-width="1.1" stroke-dasharray="4 2.5"/>
<line x1="1366.9" y1="394.3" x2="1391.3" y2="394.3" stroke="#bbbbbb" stroke-width="1.1" stroke-dasharray="1.2 2"/>
<line x1="1366.9" y1="380.8" x2="1391.3" y2="380.8" stroke="#bbbbbb" stroke-width="1.1" stroke-dasharray="1.2 2"/>
<path d="M1425.8 398.4 L1424 394.6 L1422.7 390.9 L1422.1 387.1 L1421.9 383.4 L1422.1 379.6 L1422.4 375.9 L1422.9 372.1 L1423.6 368.4 L1424.5 364.6 L1425.8 360.9 L1427.2 357.1 L1428.8 353.4 L1430.5 349.6 L1432 345.9 L1433.4 342.1 L1434.6 338.4 L1435.5 334.6 L1436.3 330.9 L1436.8 327.1 L1437.3 323.4 L1437.5 319.6 L1437.7 315.9 L1437.8 312.1 L1437.9 308.4 L1437.9 304.6 L1437.9 300.9 L1437.9 297.1 L1437.9 293.4 L1437.8 289.6 L1437.8 285.9 L1437.7 282.1 L1437.5 278.4 L1437.2 274.6 L1436.9 270.9 L1436.5 267.1 L1436.3 263.4 L1436.2 259.6 L1436.3 255.9 L1436.5 252.1 L1436.7 248.4 L1436.9 244.6 L1437 240.9 L1436.9 237.1 L1436.7 233.4 L1436.5 229.6 L1436.3 225.9 L1436.2 222.1 L1439.6 222.1 L1439.5 225.9 L1439.3 229.6 L1439.1 233.4 L1438.9 237.1 L1438.8 240.9 L1438.9 244.6 L1439.1 248.4 L1439.3 252.1 L1439.5 255.9 L1439.6 259.6 L1439.5 263.4 L1439.3 267.1 L1438.9 270.9 L1438.6 274.6 L1438.3 278.4 L1438.1 282.1 L1438 285.9 L1438 289.6 L1437.9 293.4 L1437.9 297.1 L1437.9 300.9 L1437.9 304.6 L1437.9 308.4 L1438 312.1 L1438.1 315.9 L1438.3 319.6 L1438.5 323.4 L1439 327.1 L1439.5 330.9 L1440.3 334.6 L1441.2 338.4 L1442.4 342.1 L1443.8 345.9 L1445.3 349.6 L1447 353.4 L1448.6 357.1 L1450 360.9 L1451.3 364.6 L1452.2 368.4 L1452.9 372.1 L1453.4 375.9 L1453.7 379.6 L1453.9 383.4 L1453.7 387.1 L1453.1 390.9 L1451.8 394.6 L1450 398.4 Z" stroke="#333" fill="#f4968b" stroke-width="1"/>
<circle cx="1437.9" cy="222.1" r="6" fill="#e02226" stroke="#1c1c1c" stroke-width="1"/>
<circle cx="1437.9" cy="259.4" r="6" fill="#e02226" stroke="#1c1c1c" stroke-width="1"/>
<circle cx="1437.9" cy="340.6" r="6" fill="#e02226" stroke="#1c1c1c" stroke-width="1"/>
<circle cx="1437.9" cy="355.1" r="6" fill="#e02226" stroke="#1c1c1c" stroke-width="1"/>
<circle cx="1447.9" cy="356.3" r="6" fill="#e02226" stroke="#1c1c1c" stroke-width="1"/>
<circle cx="1427.9" cy="360.5" r="6" fill="#e02226" stroke="#1c1c1c" stroke-width="1"/>
<circle cx="1437.9" cy="363.5" r="6" fill="#e02226" stroke="#1c1c1c" stroke-width="1"/>
<circle cx="1447.9" cy="367.1" r="6" fill="#e02226" stroke="#1c1c1c" stroke-width="1"/>
<circle cx="1437.9" cy="370.7" r="6" fill="#e02226" stroke="#1c1c1c" stroke-width="1"/>
<circle cx="1447.9" cy="373.1" r="6" fill="#e02226" stroke="#1c1c1c" stroke-width="1"/>
<circle cx="1427.9" cy="375.5" r="6" fill="#e02226" stroke="#1c1c1c" stroke-width="1"/>
<circle cx="1437.9" cy="380.4" r="6" fill="#e02226" stroke="#1c1c1c" stroke-width="1"/>
<circle cx="1447.9" cy="382.8" r="6" fill="#e02226" stroke="#1c1c1c" stroke-width="1"/>
<circle cx="1437.9" cy="386.4" r="6" fill="#e02226" stroke="#1c1c1c" stroke-width="1"/>
<circle cx="1447.9" cy="388.8" r="6" fill="#e02226" stroke="#1c1c1c" stroke-width="1"/>
<circle cx="1427.9" cy="392.4" r="6" fill="#e02226" stroke="#1c1c1c" stroke-width="1"/>
<circle cx="1437.9" cy="394.8" r="6" fill="#e02226" stroke="#1c1c1c" stroke-width="1"/>
<circle cx="1447.9" cy="396.6" r="6" fill="#e02226" stroke="#1c1c1c" stroke-width="1"/>
<circle cx="1427.9" cy="397.8" r="6" fill="#e02226" stroke="#1c1c1c" stroke-width="1"/>
<circle cx="1437.9" cy="398.4" r="6" fill="#e02226" stroke="#1c1c1c" stroke-width="1"/>
<line x1="1425.7" y1="374.3" x2="1450.1" y2="374.3" stroke="#2a2a2a" stroke-width="1.1" stroke-dasharray="4 2.5"/>
<line x1="1425.7" y1="389.7" x2="1450.1" y2="389.7" stroke="#444" stroke-width="1.1" stroke-dasharray="1.2 2"/>
<line x1="1425.7" y1="359.4" x2="1450.1" y2="359.4" stroke="#444" stroke-width="1.1" stroke-dasharray="1.2 2"/>
<path d="M1464.9 395.4 L1462.9 389.8 L1461.4 384.3 L1460.6 378.7 L1460.5 373.1 L1460.9 367.6 L1461.7 362 L1462.6 356.4 L1463.6 350.8 L1464.6 345.3 L1465.6 339.7 L1466.6 334.1 L1467.5 328.6 L1468.3 323 L1469.1 317.4 L1469.9 311.9 L1470.6 306.3 L1471.3 300.7 L1472 295.2 L1472.8 289.6 L1473.4 284 L1474.1 278.5 L1474.7 272.9 L1475.2 267.3 L1475.6 261.8 L1475.8 256.2 L1476 250.6 L1476 245.1 L1475.8 239.5 L1475.6 233.9 L1475.3 228.4 L1475.1 222.8 L1474.9 217.2 L1474.9 211.6 L1474.9 206.1 L1475 200.5 L1475.2 194.9 L1475.2 189.4 L1475.2 183.8 L1475 178.2 L1474.8 172.7 L1474.6 167.1 L1474.4 161.5 L1474.2 156 L1474.2 150.4 L1474.2 144.8 L1474.3 139.3 L1474.4 133.7 L1478.6 133.7 L1478.7 139.3 L1478.8 144.8 L1478.8 150.4 L1478.8 156 L1478.6 161.5 L1478.4 167.1 L1478.2 172.7 L1478 178.2 L1477.8 183.8 L1477.8 189.4 L1477.8 194.9 L1478 200.5 L1478.1 206.1 L1478.1 211.6 L1478.1 217.2 L1477.9 222.8 L1477.7 228.4 L1477.4 233.9 L1477.2 239.5 L1477 245.1 L1477 250.6 L1477.2 256.2 L1477.4 261.8 L1477.8 267.3 L1478.3 272.9 L1478.9 278.5 L1479.6 284 L1480.2 289.6 L1481 295.2 L1481.7 300.7 L1482.4 306.3 L1483.1 311.9 L1483.9 317.4 L1484.7 323 L1485.5 328.6 L1486.4 334.1 L1487.4 339.7 L1488.4 345.3 L1489.4 350.8 L1490.4 356.4 L1491.3 362 L1492.1 367.6 L1492.5 373.1 L1492.4 378.7 L1491.6 384.3 L1490.1 389.8 L1488.1 395.4 Z" stroke="#333" fill="#f4968b" stroke-width="1"/>
<circle cx="1476.5" cy="133.7" r="6" fill="#e02226" stroke="#1c1c1c" stroke-width="1"/>
<circle cx="1476.5" cy="162.6" r="6" fill="#e02226" stroke="#1c1c1c" stroke-width="1"/>
<circle cx="1476.5" cy="213.1" r="6" fill="#e02226" stroke="#1c1c1c" stroke-width="1"/>
<circle cx="1476.5" cy="284.1" r="6" fill="#e02226" stroke="#1c1c1c" stroke-width="1"/>
<circle cx="1486.5" cy="306.4" r="6" fill="#e02226" stroke="#1c1c1c" stroke-width="1"/>
<circle cx="1466.5" cy="311.8" r="6" fill="#e02226" stroke="#1c1c1c" stroke-width="1"/>
<circle cx="1476.5" cy="323.8" r="6" fill="#e02226" stroke="#1c1c1c" stroke-width="1"/>
<circle cx="1476.5" cy="337.6" r="6" fill="#e02226" stroke="#1c1c1c" stroke-width="1"/>
<circle cx="1486.5" cy="340" r="6" fill="#e02226" stroke="#1c1c1c" stroke-width="1"/>
<circle cx="1466.5" cy="343.7" r="6" fill="#e02226" stroke="#1c1c1c" stroke-width="1"/>
<circle cx="1476.5" cy="353.3" r="6" fill="#e02226" stroke="#1c1c1c" stroke-width="1"/>
<circle cx="1486.5" cy="356.9" r="6" fill="#e02226" stroke="#1c1c1c" stroke-width="1"/>
<circle cx="1466.5" cy="364.7" r="6" fill="#e02226" stroke="#1c1c1c" stroke-width="1"/>
<circle cx="1476.5" cy="369.5" r="6" fill="#e02226" stroke="#1c1c1c" stroke-width="1"/>
<circle cx="1486.5" cy="374.3" r="6" fill="#e02226" stroke="#1c1c1c" stroke-width="1"/>
<circle cx="1466.5" cy="376.1" r="6" fill="#e02226" stroke="#1c1c1c" stroke-width="1"/>
<circle cx="1476.5" cy="378.5" r="6" fill="#e02226" stroke="#1c1c1c" stroke-width="1"/>
<circle cx="1486.5" cy="382.8" r="6" fill="#e02226" stroke="#1c1c1c" stroke-width="1"/>
<circle cx="1476.5" cy="387.6" r="6" fill="#e02226" stroke="#1c1c1c" stroke-width="1"/>
<circle cx="1486.5" cy="390.6" r="6" fill="#e02226" stroke="#1c1c1c" stroke-width="1"/>
<circle cx="1466.5" cy="392.4" r="6" fill="#e02226" stroke="#1c1c1c" stroke-width="1"/>
<circle cx="1476.5" cy="395.4" r="6" fill="#e02226" stroke="#1c1c1c" stroke-width="1"/>
<line x1="1464.3" y1="355.1" x2="1488.7" y2="355.1" stroke="#2a2a2a" stroke-width="1.1" stroke-dasharray="4 2.5"/>
<line x1="1464.3" y1="377.9" x2="1488.7" y2="377.9" stroke="#444" stroke-width="1.1" stroke-dasharray="1.2 2"/>
<line x1="1464.3" y1="314.8" x2="1488.7" y2="314.8" stroke="#444" stroke-width="1.1" stroke-dasharray="1.2 2"/>
<path d="M1502.7 398.4 L1500.7 392.9 L1499.6 387.4 L1499.4 381.9 L1500.1 376.4 L1501.3 370.9 L1502.6 365.4 L1503.6 359.9 L1504.1 354.4 L1504 348.9 L1503.7 343.4 L1503.5 337.9 L1503.7 332.4 L1504.4 326.8 L1505.6 321.3 L1507.2 315.8 L1508.8 310.3 L1510.3 304.8 L1511.6 299.3 L1512.7 293.8 L1513.5 288.3 L1514.1 282.8 L1514.6 277.3 L1514.9 271.8 L1515 266.3 L1514.9 260.8 L1514.7 255.3 L1514.3 249.8 L1513.8 244.3 L1513.2 238.8 L1512.6 233.3 L1512.3 227.8 L1512.1 222.3 L1512.3 216.8 L1512.8 211.3 L1513.3 205.8 L1513.9 200.3 L1514.5 194.8 L1514.8 189.2 L1515.1 183.7 L1515.1 178.2 L1515.1 172.7 L1514.9 167.2 L1514.7 161.7 L1514.3 156.2 L1514 150.7 L1513.7 145.2 L1513.7 139.7 L1517.1 139.7 L1517.1 145.2 L1516.8 150.7 L1516.5 156.2 L1516.1 161.7 L1515.9 167.2 L1515.7 172.7 L1515.7 178.2 L1515.7 183.7 L1516 189.2 L1516.3 194.8 L1516.9 200.3 L1517.5 205.8 L1518 211.3 L1518.5 216.8 L1518.7 222.3 L1518.5 227.8 L1518.2 233.3 L1517.6 238.8 L1517 244.3 L1516.5 249.8 L1516.1 255.3 L1515.9 260.8 L1515.8 266.3 L1515.9 271.8 L1516.2 277.3 L1516.7 282.8 L1517.3 288.3 L1518.1 293.8 L1519.2 299.3 L1520.5 304.8 L1522 310.3 L1523.6 315.8 L1525.2 321.3 L1526.4 326.8 L1527.1 332.4 L1527.3 337.9 L1527.1 343.4 L1526.8 348.9 L1526.7 354.4 L1527.2 359.9 L1528.2 365.4 L1529.5 370.9 L1530.7 376.4 L1531.4 381.9 L1531.2 387.4 L1530.1 392.9 L1528.1 398.4 Z" stroke="#333" fill="#f4968b" stroke-width="1"/>
<circle cx="1515.4" cy="139.7" r="6" fill="#e02226" stroke="#1c1c1c" stroke-width="1"/>
<circle cx="1525.4" cy="216.7" r="6" fill="#e02226" stroke="#1c1c1c" stroke-width="1"/>
<circle cx="1505.4" cy="229.4" r="6" fill="#e02226" stroke="#1c1c1c" stroke-width="1"/>
<circle cx="1515.4" cy="300.3" r="6" fill="#e02226" stroke="#1c1c1c" stroke-width="1"/>
<circle cx="1515.4" cy="321.4" r="6" fill="#e02226" stroke="#1c1c1c" stroke-width="1"/>
<circle cx="1525.4" cy="324.4" r="6" fill="#e02226" stroke="#1c1c1c" stroke-width="1"/>
<circle cx="1505.4" cy="331" r="6" fill="#e02226" stroke="#1c1c1c" stroke-width="1"/>
<circle cx="1515.4" cy="332.8" r="6" fill="#e02226" stroke="#1c1c1c" stroke-width="1"/>
<circle cx="1515.4" cy="337.6" r="6" fill="#e02226" stroke="#1c1c1c" stroke-width="1"/>
<circle cx="1525.4" cy="340.6" r="6" fill="#e02226" stroke="#1c1c1c" stroke-width="1"/>
<circle cx="1505.4" cy="346.7" r="6" fill="#e02226" stroke="#1c1c1c" stroke-width="1"/>
<circle cx="1515.4" cy="364.7" r="6" fill="#e02226" stroke="#1c1c1c" stroke-width="1"/>
<circle cx="1525.4" cy="370.7" r="6" fill="#e02226" stroke="#1c1c1c" stroke-width="1"/>
<circle cx="1505.4" cy="372.5" r="6" fill="#e02226" stroke="#1c1c1c" stroke-width="1"/>
<circle cx="1515.4" cy="377.9" r="6" fill="#e02226" stroke="#1c1c1c" stroke-width="1"/>
<circle cx="1515.4" cy="381" r="6" fill="#e02226" stroke="#1c1c1c" stroke-width="1"/>
<circle cx="1525.4" cy="385.8" r="6" fill="#e02226" stroke="#1c1c1c" stroke-width="1"/>
<circle cx="1505.4" cy="389.4" r="6" fill="#e02226" stroke="#1c1c1c" stroke-width="1"/>
<circle cx="1515.4" cy="392.4" r="6" fill="#e02226" stroke="#1c1c1c" stroke-width="1"/>
<circle cx="1515.4" cy="394.8" r="6" fill="#e02226" stroke="#1c1c1c" stroke-width="1"/>
<circle cx="1525.4" cy="396.6" r="6" fill="#e02226" stroke="#1c1c1c" stroke-width="1"/>
<circle cx="1505.4" cy="398.4" r="6" fill="#e02226" stroke="#1c1c1c" stroke-width="1"/>
<line x1="1503.2" y1="355.7" x2="1527.6" y2="355.7" stroke="#2a2a2a" stroke-width="1.1" stroke-dasharray="4 2.5"/>
<line x1="1503.2" y1="384.6" x2="1527.6" y2="384.6" stroke="#444" stroke-width="1.1" stroke-dasharray="1.2 2"/>
<line x1="1503.2" y1="326.1" x2="1527.6" y2="326.1" stroke="#444" stroke-width="1.1" stroke-dasharray="1.2 2"/>
<path d="M1566.6 397.2 L1565.8 396.3 L1565.1 395.5 L1564.7 394.6 L1564.5 393.7 L1564.5 392.8 L1564.7 392 L1564.9 391.1 L1565.2 390.2 L1565.5 389.4 L1565.7 388.5 L1565.9 387.6 L1566.1 386.8 L1566.1 385.9 L1566.2 385 L1566.3 384.1 L1566.4 383.3 L1566.7 382.4 L1567.2 381.5 L1567.8 380.7 L1568.6 379.8 L1569.4 378.9 L1570.3 378 L1571.1 377.2 L1571.8 376.3 L1572.3 375.4 L1572.8 374.6 L1573.1 373.7 L1573.2 372.8 L1573.4 372 L1573.4 371.1 L1573.5 370.2 L1573.5 369.3 L1573.5 368.5 L1573.5 367.6 L1573.5 366.7 L1573.5 365.9 L1573.4 365 L1573.3 364.1 L1573.2 363.3 L1573.1 362.4 L1572.8 361.5 L1572.5 360.6 L1572.2 359.8 L1571.9 358.9 L1571.6 358 L1571.4 357.2 L1571.3 356.3 L1575.7 356.3 L1575.6 357.2 L1575.4 358 L1575.1 358.9 L1574.8 359.8 L1574.5 360.6 L1574.2 361.5 L1573.9 362.4 L1573.8 363.3 L1573.7 364.1 L1573.6 365 L1573.5 365.9 L1573.5 366.7 L1573.5 367.6 L1573.5 368.5 L1573.5 369.3 L1573.5 370.2 L1573.6 371.1 L1573.6 372 L1573.8 372.8 L1573.9 373.7 L1574.2 374.6 L1574.7 375.4 L1575.2 376.3 L1575.9 377.2 L1576.7 378 L1577.6 378.9 L1578.4 379.8 L1579.2 380.7 L1579.8 381.5 L1580.3 382.4 L1580.6 383.3 L1580.7 384.1 L1580.8 385 L1580.9 385.9 L1580.9 386.8 L1581.1 387.6 L1581.3 388.5 L1581.5 389.4 L1581.8 390.2 L1582.1 391.1 L1582.3 392 L1582.5 392.8 L1582.5 393.7 L1582.3 394.6 L1581.9 395.5 L1581.2 396.3 L1580.4 397.2 Z" stroke="#333" fill="#ffffff" stroke-width="1"/>
<circle cx="1573.5" cy="356.3" r="6" fill="#c9cacc" stroke="#1c1c1c" stroke-width="1"/>
<circle cx="1573.5" cy="380.4" r="6" fill="#c9cacc" stroke="#1c1c1c" stroke-width="1"/>
<circle cx="1583.5" cy="382.2" r="6" fill="#c9cacc" stroke="#1c1c1c" stroke-width="1"/>
<circle cx="1563.5" cy="384.6" r="6" fill="#c9cacc" stroke="#1c1c1c" stroke-width="1"/>
<circle cx="1573.5" cy="387.6" r="6" fill="#c9cacc" stroke="#1c1c1c" stroke-width="1"/>
<circle cx="1583.5" cy="390" r="6" fill="#c9cacc" stroke="#1c1c1c" stroke-width="1"/>
<circle cx="1563.5" cy="392.4" r="6" fill="#c9cacc" stroke="#1c1c1c" stroke-width="1"/>
<circle cx="1573.5" cy="394.2" r="6" fill="#c9cacc" stroke="#1c1c1c" stroke-width="1"/>
<circle cx="1583.5" cy="396" r="6" fill="#c9cacc" stroke="#1c1c1c" stroke-width="1"/>
<circle cx="1563.5" cy="397.2" r="6" fill="#c9cacc" stroke="#1c1c1c" stroke-width="1"/>
<line x1="1561.3" y1="388.8" x2="1585.7" y2="388.8" stroke="#3a3a3a" stroke-width="1.1" stroke-dasharray="4 2.5"/>
<line x1="1561.3" y1="393.7" x2="1585.7" y2="393.7" stroke="#555" stroke-width="1.1" stroke-dasharray="1.2 2"/>
<line x1="1561.3" y1="382.8" x2="1585.7" y2="382.8" stroke="#555" stroke-width="1.1" stroke-dasharray="1.2 2"/>
<path d="M1605.5 397.8 L1604.6 396.6 L1603.9 395.4 L1603.6 394.3 L1603.5 393.1 L1603.7 391.9 L1604.1 390.7 L1604.5 389.6 L1605 388.4 L1605.5 387.2 L1605.9 386 L1606.2 384.8 L1606.4 383.7 L1606.5 382.5 L1606.5 381.3 L1606.5 380.1 L1606.4 379 L1606.5 377.8 L1606.8 376.6 L1607.2 375.4 L1607.7 374.2 L1608.4 373.1 L1609 371.9 L1609.5 370.7 L1609.8 369.5 L1609.8 368.4 L1609.7 367.2 L1609.4 366 L1609.1 364.8 L1608.9 363.6 L1609 362.5 L1609.2 361.3 L1609.6 360.1 L1610.2 358.9 L1610.7 357.8 L1611.3 356.6 L1611.7 355.4 L1612 354.2 L1612.1 353 L1612.2 351.9 L1612.1 350.7 L1612 349.5 L1611.8 348.3 L1611.5 347.2 L1611.2 346 L1611 344.8 L1610.8 343.6 L1610.7 342.5 L1614.3 342.5 L1614.2 343.6 L1614 344.8 L1613.8 346 L1613.5 347.2 L1613.2 348.3 L1613 349.5 L1612.9 350.7 L1612.8 351.9 L1612.9 353 L1613 354.2 L1613.3 355.4 L1613.7 356.6 L1614.3 357.8 L1614.8 358.9 L1615.4 360.1 L1615.8 361.3 L1616 362.5 L1616.1 363.6 L1615.9 364.8 L1615.6 366 L1615.3 367.2 L1615.2 368.4 L1615.2 369.5 L1615.5 370.7 L1616 371.9 L1616.6 373.1 L1617.3 374.2 L1617.8 375.4 L1618.2 376.6 L1618.5 377.8 L1618.6 379 L1618.5 380.1 L1618.5 381.3 L1618.5 382.5 L1618.6 383.7 L1618.8 384.8 L1619.1 386 L1619.5 387.2 L1620 388.4 L1620.5 389.6 L1620.9 390.7 L1621.3 391.9 L1621.5 393.1 L1621.4 394.3 L1621.1 395.4 L1620.4 396.6 L1619.5 397.8 Z" stroke="#333" fill="#ffffff" stroke-width="1"/>
<circle cx="1612.5" cy="342.5" r="6" fill="#c9cacc" stroke="#1c1c1c" stroke-width="1"/>
<circle cx="1612.5" cy="362.3" r="6" fill="#c9cacc" stroke="#1c1c1c" stroke-width="1"/>
<circle cx="1622.5" cy="363.5" r="6" fill="#c9cacc" stroke="#1c1c1c" stroke-width="1"/>
<circle cx="1602.5" cy="374.3" r="6" fill="#c9cacc" stroke="#1c1c1c" stroke-width="1"/>
<circle cx="1612.5" cy="376.7" r="6" fill="#c9cacc" stroke="#1c1c1c" stroke-width="1"/>
<circle cx="1622.5" cy="378.5" r="6" fill="#c9cacc" stroke="#1c1c1c" stroke-width="1"/>
<circle cx="1602.5" cy="382.8" r="6" fill="#c9cacc" stroke="#1c1c1c" stroke-width="1"/>
<circle cx="1612.5" cy="386.4" r="6" fill="#c9cacc" stroke="#1c1c1c" stroke-width="1"/>
<circle cx="1622.5" cy="389.4" r="6" fill="#c9cacc" stroke="#1c1c1c" stroke-width="1"/>
<circle cx="1612.5" cy="391.2" r="6" fill="#c9cacc" stroke="#1c1c1c" stroke-width="1"/>
<circle cx="1622.5" cy="393.6" r="6" fill="#c9cacc" stroke="#1c1c1c" stroke-width="1"/>
<circle cx="1602.5" cy="395.4" r="6" fill="#c9cacc" stroke="#1c1c1c" stroke-width="1"/>
<circle cx="1612.5" cy="396.6" r="6" fill="#c9cacc" stroke="#1c1c1c" stroke-width="1"/>
<circle cx="1622.5" cy="397.8" r="6" fill="#c9cacc" stroke="#1c1c1c" stroke-width="1"/>
<line x1="1600.3" y1="384.6" x2="1624.7" y2="384.6" stroke="#3a3a3a" stroke-width="1.1" stroke-dasharray="4 2.5"/>
<line x1="1600.3" y1="393" x2="1624.7" y2="393" stroke="#555" stroke-width="1.1" stroke-dasharray="1.2 2"/>
<line x1="1600.3" y1="374.9" x2="1624.7" y2="374.9" stroke="#555" stroke-width="1.1" stroke-dasharray="1.2 2"/>
<path d="M1643.9 397.8 L1643.1 396.7 L1642.6 395.5 L1642.3 394.4 L1642.3 393.2 L1642.4 392.1 L1642.7 391 L1643.1 389.8 L1643.6 388.7 L1644 387.5 L1644.4 386.4 L1644.8 385.3 L1645.2 384.1 L1645.6 383 L1645.9 381.8 L1646.2 380.7 L1646.5 379.6 L1646.8 378.4 L1647.1 377.3 L1647.4 376.2 L1647.8 375 L1648.1 373.9 L1648.5 372.7 L1648.9 371.6 L1649.3 370.5 L1649.6 369.3 L1649.8 368.2 L1649.9 367 L1649.9 365.9 L1649.8 364.8 L1649.7 363.6 L1649.5 362.5 L1649.3 361.3 L1649.2 360.2 L1649.2 359.1 L1649.3 357.9 L1649.4 356.8 L1649.6 355.6 L1649.7 354.5 L1649.9 353.4 L1650 352.2 L1649.9 351.1 L1649.9 350 L1649.7 348.8 L1649.5 347.7 L1649.4 346.5 L1649.3 345.4 L1649.2 344.3 L1653.4 344.3 L1653.3 345.4 L1653.2 346.5 L1653.1 347.7 L1652.9 348.8 L1652.7 350 L1652.7 351.1 L1652.6 352.2 L1652.7 353.4 L1652.9 354.5 L1653 355.6 L1653.2 356.8 L1653.3 357.9 L1653.4 359.1 L1653.4 360.2 L1653.3 361.3 L1653.1 362.5 L1652.9 363.6 L1652.8 364.8 L1652.7 365.9 L1652.7 367 L1652.8 368.2 L1653 369.3 L1653.3 370.5 L1653.7 371.6 L1654.1 372.7 L1654.5 373.9 L1654.8 375 L1655.2 376.2 L1655.5 377.3 L1655.8 378.4 L1656.1 379.6 L1656.4 380.7 L1656.7 381.8 L1657 383 L1657.4 384.1 L1657.8 385.3 L1658.2 386.4 L1658.6 387.5 L1659 388.7 L1659.5 389.8 L1659.9 391 L1660.2 392.1 L1660.3 393.2 L1660.3 394.4 L1660 395.5 L1659.5 396.7 L1658.7 397.8 Z" stroke="#333" fill="#ffffff" stroke-width="1"/>
<circle cx="1651.3" cy="344.3" r="6" fill="#c9cacc" stroke="#1c1c1c" stroke-width="1"/>
<circle cx="1651.3" cy="359.3" r="6" fill="#c9cacc" stroke="#1c1c1c" stroke-width="1"/>
<circle cx="1651.3" cy="374.3" r="6" fill="#c9cacc" stroke="#1c1c1c" stroke-width="1"/>
<circle cx="1661.3" cy="380.4" r="6" fill="#c9cacc" stroke="#1c1c1c" stroke-width="1"/>
<circle cx="1641.3" cy="385.2" r="6" fill="#c9cacc" stroke="#1c1c1c" stroke-width="1"/>
<circle cx="1651.3" cy="388.8" r="6" fill="#c9cacc" stroke="#1c1c1c" stroke-width="1"/>
<circle cx="1661.3" cy="392.4" r="6" fill="#c9cacc" stroke="#1c1c1c" stroke-width="1"/>
<circle cx="1641.3" cy="394.8" r="6" fill="#c9cacc" stroke="#1c1c1c" stroke-width="1"/>
<circle cx="1651.3" cy="396.6" r="6" fill="#c9cacc" stroke="#1c1c1c" stroke-width="1"/>
<circle cx="1661.3" cy="397.8" r="6" fill="#c9cacc" stroke="#1c1c1c" stroke-width="1"/>
<line x1="1639.1" y1="387" x2="1663.5" y2="387" stroke="#3a3a3a" stroke-width="1.1" stroke-dasharray="4 2.5"/>
<line x1="1639.1" y1="394.2" x2="1663.5" y2="394.2" stroke="#555" stroke-width="1.1" stroke-dasharray="1.2 2"/>
<line x1="1639.1" y1="375.8" x2="1663.5" y2="375.8" stroke="#555" stroke-width="1.1" stroke-dasharray="1.2 2"/>
<line x1="1752.3" y1="100.6" x2="1752.3" y2="399.4" stroke="#4a4a4a" stroke-width="1.2"/>
<path d="M1743.8 399.4h8.5 M1743.8 339.6h8.5 M1743.8 279.9h8.5 M1743.8 220.1h8.5 M1743.8 160.4h8.5 M1743.8 100.6h8.5" stroke="#4a4a4a" fill="none" stroke-width="1.2"/>
<text font-size="23.5" text-anchor="end" transform="translate(1731.8 407.7) scale(1.100 1)">0</text>
<text font-size="23.5" text-anchor="end" transform="translate(1731.8 347.9) scale(1.100 1)">10</text>
<text font-size="23.5" text-anchor="end" transform="translate(1731.8 288.2) scale(1.100 1)">20</text>
<text font-size="23.5" text-anchor="end" transform="translate(1731.8 228.4) scale(1.100 1)">30</text>
<text font-size="23.5" text-anchor="end" transform="translate(1731.8 168.7) scale(1.100 1)">40</text>
<text font-size="23.5" text-anchor="end" transform="translate(1731.8 108.9) scale(1.100 1)">50</text>
<line x1="1752.3" y1="399.4" x2="2164" y2="399.4" stroke="#4a4a4a" stroke-width="1.2"/>
<text font-size="26" text-anchor="middle" transform="translate(1956 41) scale(0.890 1)"><tspan font-style="italic">PRF1</tspan></text>
<text font-size="26" text-anchor="middle" transform="translate(1823 84.6) scale(1.070 1)">HD</text>
<text font-size="26" text-anchor="middle" transform="translate(1960.2 84.6) scale(1.070 1)">CD</text>
<text font-size="26" text-anchor="middle" transform="translate(2096.8 84.6) scale(1.070 1)">UC</text>
<path d="M1775.6 399.4 L1774.9 399 L1774.5 398.6 L1774.3 398.1 L1774.3 397.7 L1774.5 397.3 L1774.8 396.9 L1775.2 396.5 L1775.7 396 L1776.1 395.6 L1776.6 395.2 L1776.9 394.8 L1777.3 394.4 L1777.6 393.9 L1777.9 393.5 L1778.1 393.1 L1778.3 392.7 L1778.4 392.3 L1778.5 391.8 L1778.6 391.4 L1778.6 391 L1778.7 390.6 L1778.7 390.2 L1778.7 389.7 L1778.7 389.3 L1778.6 388.9 L1778.6 388.5 L1778.5 388.1 L1778.3 387.7 L1778.1 387.2 L1777.9 386.8 L1777.6 386.4 L1777.4 386 L1777.1 385.6 L1777 385.1 L1776.9 384.7 L1776.9 384.3 L1777.1 383.9 L1777.4 383.5 L1777.8 383 L1778.2 382.6 L1778.6 382.2 L1779 381.8 L1779.3 381.4 L1779.5 380.9 L1779.7 380.5 L1779.9 380.1 L1780.1 379.7 L1786.5 379.7 L1786.7 380.1 L1786.9 380.5 L1787.1 380.9 L1787.3 381.4 L1787.6 381.8 L1788 382.2 L1788.4 382.6 L1788.8 383 L1789.2 383.5 L1789.5 383.9 L1789.7 384.3 L1789.7 384.7 L1789.6 385.1 L1789.5 385.6 L1789.2 386 L1789 386.4 L1788.7 386.8 L1788.5 387.2 L1788.3 387.7 L1788.1 388.1 L1788 388.5 L1788 388.9 L1787.9 389.3 L1787.9 389.7 L1787.9 390.2 L1787.9 390.6 L1788 391 L1788 391.4 L1788.1 391.8 L1788.2 392.3 L1788.3 392.7 L1788.5 393.1 L1788.7 393.5 L1789 393.9 L1789.3 394.4 L1789.7 394.8 L1790 395.2 L1790.5 395.6 L1790.9 396 L1791.4 396.5 L1791.8 396.9 L1792.1 397.3 L1792.3 397.7 L1792.3 398.1 L1792.1 398.6 L1791.7 399 L1791 399.4 Z" stroke="#333" fill="#8a8a8a" stroke-width="1"/>
<circle cx="1783.3" cy="379.7" r="6" fill="#4a4a4c" stroke="#1c1c1c" stroke-width="1"/>
<circle cx="1793.3" cy="383.9" r="6" fill="#4a4a4c" stroke="#1c1c1c" stroke-width="1"/>
<circle cx="1773.3" cy="384.5" r="6" fill="#4a4a4c" stroke="#1c1c1c" stroke-width="1"/>
<circle cx="1783.3" cy="387.4" r="6" fill="#4a4a4c" stroke="#1c1c1c" stroke-width="1"/>
<circle cx="1793.3" cy="390.4" r="6" fill="#4a4a4c" stroke="#1c1c1c" stroke-width="1"/>
<circle cx="1783.3" cy="393.4" r="6" fill="#4a4a4c" stroke="#1c1c1c" stroke-width="1"/>
<circle cx="1793.3" cy="395.8" r="6" fill="#4a4a4c" stroke="#1c1c1c" stroke-width="1"/>
<circle cx="1773.3" cy="397.6" r="6" fill="#4a4a4c" stroke="#1c1c1c" stroke-width="1"/>
<circle cx="1783.3" cy="398.8" r="6" fill="#4a4a4c" stroke="#1c1c1c" stroke-width="1"/>
<circle cx="1793.3" cy="399.4" r="6" fill="#4a4a4c" stroke="#1c1c1c" stroke-width="1"/>
<line x1="1771.1" y1="391.9" x2="1795.5" y2="391.9" stroke="#d8d8d8" stroke-width="1.1" stroke-dasharray="4 2.5"/>
<line x1="1771.1" y1="397.2" x2="1795.5" y2="397.2" stroke="#bbbbbb" stroke-width="1.1" stroke-dasharray="1.2 2"/>
<line x1="1771.1" y1="385.2" x2="1795.5" y2="385.2" stroke="#bbbbbb" stroke-width="1.1" stroke-dasharray="1.2 2"/>
<path d="M1813.2 397.6 L1812.5 396.8 L1812.1 395.9 L1811.9 395.1 L1811.9 394.2 L1812.2 393.3 L1812.6 392.5 L1813.1 391.6 L1813.6 390.8 L1814.1 389.9 L1814.5 389.1 L1814.8 388.2 L1815 387.4 L1815.1 386.5 L1815.1 385.7 L1815 384.8 L1814.9 384 L1814.8 383.1 L1814.8 382.3 L1814.9 381.4 L1815.2 380.6 L1815.5 379.7 L1815.9 378.9 L1816.4 378 L1816.8 377.2 L1817.3 376.3 L1817.7 375.5 L1817.9 374.6 L1818 373.8 L1818 372.9 L1817.9 372.1 L1817.6 371.2 L1817.3 370.3 L1817 369.5 L1816.6 368.6 L1816.1 367.8 L1815.7 366.9 L1815.3 366.1 L1814.8 365.2 L1814.4 364.4 L1814.1 363.5 L1813.8 362.7 L1813.6 361.8 L1813.6 361 L1813.7 360.1 L1814 359.3 L1814.4 358.4 L1815 357.6 L1826.8 357.6 L1827.4 358.4 L1827.8 359.3 L1828.1 360.1 L1828.2 361 L1828.2 361.8 L1828 362.7 L1827.7 363.5 L1827.4 364.4 L1827 365.2 L1826.5 366.1 L1826.1 366.9 L1825.7 367.8 L1825.2 368.6 L1824.8 369.5 L1824.5 370.3 L1824.2 371.2 L1823.9 372.1 L1823.8 372.9 L1823.8 373.8 L1823.9 374.6 L1824.1 375.5 L1824.5 376.3 L1825 377.2 L1825.4 378 L1825.9 378.9 L1826.3 379.7 L1826.6 380.6 L1826.9 381.4 L1827 382.3 L1827 383.1 L1826.9 384 L1826.8 384.8 L1826.7 385.7 L1826.7 386.5 L1826.8 387.4 L1827 388.2 L1827.3 389.1 L1827.7 389.9 L1828.2 390.8 L1828.7 391.6 L1829.2 392.5 L1829.6 393.3 L1829.9 394.2 L1829.9 395.1 L1829.7 395.9 L1829.3 396.8 L1828.6 397.6 Z" stroke="#333" fill="#8a8a8a" stroke-width="1"/>
<circle cx="1820.9" cy="357.6" r="6" fill="#4a4a4c" stroke="#1c1c1c" stroke-width="1"/>
<circle cx="1830.9" cy="359.4" r="6" fill="#4a4a4c" stroke="#1c1c1c" stroke-width="1"/>
<circle cx="1810.9" cy="361.8" r="6" fill="#4a4a4c" stroke="#1c1c1c" stroke-width="1"/>
<circle cx="1820.9" cy="364.7" r="6" fill="#4a4a4c" stroke="#1c1c1c" stroke-width="1"/>
<circle cx="1830.9" cy="369.5" r="6" fill="#4a4a4c" stroke="#1c1c1c" stroke-width="1"/>
<circle cx="1820.9" cy="379.1" r="6" fill="#4a4a4c" stroke="#1c1c1c" stroke-width="1"/>
<circle cx="1830.9" cy="381.5" r="6" fill="#4a4a4c" stroke="#1c1c1c" stroke-width="1"/>
<circle cx="1810.9" cy="384.5" r="6" fill="#4a4a4c" stroke="#1c1c1c" stroke-width="1"/>
<circle cx="1820.9" cy="389.8" r="6" fill="#4a4a4c" stroke="#1c1c1c" stroke-width="1"/>
<circle cx="1820.9" cy="393.4" r="6" fill="#4a4a4c" stroke="#1c1c1c" stroke-width="1"/>
<circle cx="1830.9" cy="395.2" r="6" fill="#4a4a4c" stroke="#1c1c1c" stroke-width="1"/>
<circle cx="1810.9" cy="396.4" r="6" fill="#4a4a4c" stroke="#1c1c1c" stroke-width="1"/>
<circle cx="1820.9" cy="397.6" r="6" fill="#4a4a4c" stroke="#1c1c1c" stroke-width="1"/>
<line x1="1808.7" y1="381.5" x2="1833.1" y2="381.5" stroke="#d8d8d8" stroke-width="1.1" stroke-dasharray="4 2.5"/>
<line x1="1808.7" y1="393.4" x2="1833.1" y2="393.4" stroke="#bbbbbb" stroke-width="1.1" stroke-dasharray="1.2 2"/>
<line x1="1808.7" y1="364.7" x2="1833.1" y2="364.7" stroke="#bbbbbb" stroke-width="1.1" stroke-dasharray="1.2 2"/>
<path d="M1850 399.4 L1849.5 398.5 L1849.1 397.7 L1849.1 396.8 L1849.4 395.9 L1849.9 395.1 L1850.5 394.2 L1851.3 393.3 L1852.2 392.5 L1853 391.6 L1853.7 390.8 L1854.2 389.9 L1854.6 389 L1854.8 388.2 L1854.8 387.3 L1854.7 386.4 L1854.5 385.6 L1854.3 384.7 L1854 383.8 L1853.8 383 L1853.7 382.1 L1853.6 381.2 L1853.7 380.4 L1853.8 379.5 L1854 378.6 L1854.2 377.8 L1854.4 376.9 L1854.7 376.1 L1854.9 375.2 L1855.2 374.3 L1855.4 373.5 L1855.6 372.6 L1855.8 371.7 L1856 370.9 L1856.2 370 L1856.4 369.1 L1856.6 368.3 L1856.7 367.4 L1856.7 366.5 L1856.7 365.7 L1856.5 364.8 L1856.3 364 L1855.9 363.1 L1855.6 362.2 L1855.2 361.4 L1855 360.5 L1854.8 359.6 L1854.7 358.8 L1861.5 358.8 L1861.4 359.6 L1861.2 360.5 L1861 361.4 L1860.6 362.2 L1860.3 363.1 L1859.9 364 L1859.7 364.8 L1859.5 365.7 L1859.5 366.5 L1859.5 367.4 L1859.6 368.3 L1859.8 369.1 L1860 370 L1860.2 370.9 L1860.4 371.7 L1860.6 372.6 L1860.8 373.5 L1861 374.3 L1861.3 375.2 L1861.5 376.1 L1861.8 376.9 L1862 377.8 L1862.2 378.6 L1862.4 379.5 L1862.5 380.4 L1862.6 381.2 L1862.5 382.1 L1862.4 383 L1862.2 383.8 L1861.9 384.7 L1861.7 385.6 L1861.5 386.4 L1861.4 387.3 L1861.4 388.2 L1861.6 389 L1862 389.9 L1862.5 390.8 L1863.2 391.6 L1864 392.5 L1864.9 393.3 L1865.7 394.2 L1866.3 395.1 L1866.8 395.9 L1867.1 396.8 L1867.1 397.7 L1866.7 398.5 L1866.2 399.4 Z" stroke="#333" fill="#8a8a8a" stroke-width="1"/>
<circle cx="1858.1" cy="358.8" r="6" fill="#4a4a4c" stroke="#1c1c1c" stroke-width="1"/>
<circle cx="1868.1" cy="358.8" r="6" fill="#4a4a4c" stroke="#1c1c1c" stroke-width="1"/>
<circle cx="1848.1" cy="371.9" r="6" fill="#4a4a4c" stroke="#1c1c1c" stroke-width="1"/>
<circle cx="1858.1" cy="378.5" r="6" fill="#4a4a4c" stroke="#1c1c1c" stroke-width="1"/>
<circle cx="1868.1" cy="381.5" r="6" fill="#4a4a4c" stroke="#1c1c1c" stroke-width="1"/>
<circle cx="1848.1" cy="384.5" r="6" fill="#4a4a4c" stroke="#1c1c1c" stroke-width="1"/>
<circle cx="1858.1" cy="393.4" r="6" fill="#4a4a4c" stroke="#1c1c1c" stroke-width="1"/>
<circle cx="1868.1" cy="395.2" r="6" fill="#4a4a4c" stroke="#1c1c1c" stroke-width="1"/>
<circle cx="1848.1" cy="397" r="6" fill="#4a4a4c" stroke="#1c1c1c" stroke-width="1"/>
<circle cx="1858.1" cy="398.2" r="6" fill="#4a4a4c" stroke="#1c1c1c" stroke-width="1"/>
<circle cx="1868.1" cy="398.8" r="6" fill="#4a4a4c" stroke="#1c1c1c" stroke-width="1"/>
<circle cx="1848.1" cy="399.4" r="6" fill="#4a4a4c" stroke="#1c1c1c" stroke-width="1"/>
<line x1="1845.9" y1="388.9" x2="1870.3" y2="388.9" stroke="#d8d8d8" stroke-width="1.1" stroke-dasharray="4 2.5"/>
<line x1="1845.9" y1="397.3" x2="1870.3" y2="397.3" stroke="#bbbbbb" stroke-width="1.1" stroke-dasharray="1.2 2"/>
<line x1="1845.9" y1="376.8" x2="1870.3" y2="376.8" stroke="#bbbbbb" stroke-width="1.1" stroke-dasharray="1.2 2"/>
<path d="M1901 398.8 L1899.2 396.4 L1898.1 394.1 L1897.8 391.7 L1898.3 389.3 L1899.5 387 L1901.1 384.6 L1902.9 382.2 L1904.5 379.9 L1905.8 377.5 L1906.7 375.2 L1907 372.8 L1906.8 370.4 L1906.3 368.1 L1905.8 365.7 L1905.4 363.3 L1905.4 361 L1905.9 358.6 L1906.8 356.2 L1908 353.9 L1909.3 351.5 L1910.6 349.1 L1911.6 346.8 L1912.4 344.4 L1913 342 L1913.4 339.7 L1913.6 337.3 L1913.7 334.9 L1913.8 332.6 L1913.8 330.2 L1913.8 327.9 L1913.8 325.5 L1913.8 323.1 L1913.8 320.8 L1913.8 318.4 L1913.8 316 L1913.8 313.7 L1913.8 311.3 L1913.7 308.9 L1913.7 306.6 L1913.5 304.2 L1913.3 301.8 L1913 299.5 L1912.7 297.1 L1912.3 294.7 L1911.9 292.4 L1911.6 290 L1911.5 287.6 L1916.1 287.6 L1916 290 L1915.7 292.4 L1915.3 294.7 L1914.9 297.1 L1914.6 299.5 L1914.3 301.8 L1914.1 304.2 L1913.9 306.6 L1913.9 308.9 L1913.8 311.3 L1913.8 313.7 L1913.8 316 L1913.8 318.4 L1913.8 320.8 L1913.8 323.1 L1913.8 325.5 L1913.8 327.9 L1913.8 330.2 L1913.8 332.6 L1913.9 334.9 L1914 337.3 L1914.2 339.7 L1914.6 342 L1915.2 344.4 L1916 346.8 L1917 349.1 L1918.3 351.5 L1919.6 353.9 L1920.8 356.2 L1921.7 358.6 L1922.2 361 L1922.2 363.3 L1921.8 365.7 L1921.3 368.1 L1920.8 370.4 L1920.6 372.8 L1920.9 375.2 L1921.8 377.5 L1923.1 379.9 L1924.7 382.2 L1926.5 384.6 L1928.1 387 L1929.3 389.3 L1929.8 391.7 L1929.5 394.1 L1928.4 396.4 L1926.6 398.8 Z" stroke="#333" fill="#f4968b" stroke-width="1"/>
<circle cx="1913.8" cy="287.6" r="6" fill="#e02226" stroke="#1c1c1c" stroke-width="1"/>
<circle cx="1913.8" cy="355.2" r="6" fill="#e02226" stroke="#1c1c1c" stroke-width="1"/>
<circle cx="1923.8" cy="361.2" r="6" fill="#e02226" stroke="#1c1c1c" stroke-width="1"/>
<circle cx="1903.8" cy="362.3" r="6" fill="#e02226" stroke="#1c1c1c" stroke-width="1"/>
<circle cx="1913.8" cy="365.9" r="6" fill="#e02226" stroke="#1c1c1c" stroke-width="1"/>
<circle cx="1913.8" cy="379.1" r="6" fill="#e02226" stroke="#1c1c1c" stroke-width="1"/>
<circle cx="1923.8" cy="384.5" r="6" fill="#e02226" stroke="#1c1c1c" stroke-width="1"/>
<circle cx="1903.8" cy="387.4" r="6" fill="#e02226" stroke="#1c1c1c" stroke-width="1"/>
<circle cx="1913.8" cy="389.8" r="6" fill="#e02226" stroke="#1c1c1c" stroke-width="1"/>
<circle cx="1923.8" cy="392.2" r="6" fill="#e02226" stroke="#1c1c1c" stroke-width="1"/>
<circle cx="1913.8" cy="394" r="6" fill="#e02226" stroke="#1c1c1c" stroke-width="1"/>
<circle cx="1923.8" cy="396.4" r="6" fill="#e02226" stroke="#1c1c1c" stroke-width="1"/>
<circle cx="1903.8" cy="397.6" r="6" fill="#e02226" stroke="#1c1c1c" stroke-width="1"/>
<circle cx="1913.8" cy="398.8" r="6" fill="#e02226" stroke="#1c1c1c" stroke-width="1"/>
<line x1="1901.6" y1="386" x2="1926" y2="386" stroke="#2a2a2a" stroke-width="1.1" stroke-dasharray="4 2.5"/>
<line x1="1901.6" y1="393.6" x2="1926" y2="393.6" stroke="#444" stroke-width="1.1" stroke-dasharray="1.2 2"/>
<line x1="1901.6" y1="363.2" x2="1926" y2="363.2" stroke="#444" stroke-width="1.1" stroke-dasharray="1.2 2"/>
<path d="M1942.5 397.6 L1941 392.4 L1940 387.3 L1939.4 382.1 L1939.2 376.9 L1938.9 371.7 L1938.4 366.6 L1937.6 361.4 L1936.5 356.2 L1935.4 351 L1935 345.9 L1935.6 340.7 L1937.3 335.5 L1939.8 330.3 L1942.5 325.2 L1944.8 320 L1946.5 314.8 L1947.6 309.6 L1948.4 304.5 L1949 299.3 L1949.6 294.1 L1950.1 288.9 L1950.5 283.8 L1950.7 278.6 L1950.9 273.4 L1950.9 268.2 L1951 263.1 L1951 257.9 L1951 252.7 L1951 247.5 L1951 242.4 L1951 237.2 L1951 232 L1951 226.8 L1951 221.7 L1951 216.5 L1951 211.3 L1951 206.1 L1951 201 L1951 195.8 L1950.9 190.6 L1950.8 185.4 L1950.6 180.3 L1950.3 175.1 L1949.9 169.9 L1949.4 164.7 L1949.1 159.6 L1949 154.4 L1953 154.4 L1952.9 159.6 L1952.6 164.7 L1952.1 169.9 L1951.7 175.1 L1951.4 180.3 L1951.2 185.4 L1951.1 190.6 L1951 195.8 L1951 201 L1951 206.1 L1951 211.3 L1951 216.5 L1951 221.7 L1951 226.8 L1951 232 L1951 237.2 L1951 242.4 L1951 247.5 L1951 252.7 L1951 257.9 L1951 263.1 L1951.1 268.2 L1951.1 273.4 L1951.3 278.6 L1951.5 283.8 L1951.9 288.9 L1952.4 294.1 L1953 299.3 L1953.6 304.5 L1954.4 309.6 L1955.5 314.8 L1957.2 320 L1959.5 325.2 L1962.2 330.3 L1964.7 335.5 L1966.4 340.7 L1967 345.9 L1966.6 351 L1965.5 356.2 L1964.4 361.4 L1963.6 366.6 L1963.1 371.7 L1962.8 376.9 L1962.6 382.1 L1962 387.3 L1961 392.4 L1959.5 397.6 Z" stroke="#333" fill="#f4968b" stroke-width="1"/>
<circle cx="1951" cy="154.4" r="6" fill="#e02226" stroke="#1c1c1c" stroke-width="1"/>
<circle cx="1951" cy="307.4" r="6" fill="#e02226" stroke="#1c1c1c" stroke-width="1"/>
<circle cx="1951" cy="336.7" r="6" fill="#e02226" stroke="#1c1c1c" stroke-width="1"/>
<circle cx="1961" cy="338.4" r="6" fill="#e02226" stroke="#1c1c1c" stroke-width="1"/>
<circle cx="1941" cy="339.6" r="6" fill="#e02226" stroke="#1c1c1c" stroke-width="1"/>
<circle cx="1951" cy="340.8" r="6" fill="#e02226" stroke="#1c1c1c" stroke-width="1"/>
<circle cx="1961" cy="343.2" r="6" fill="#e02226" stroke="#1c1c1c" stroke-width="1"/>
<circle cx="1941" cy="345.6" r="6" fill="#e02226" stroke="#1c1c1c" stroke-width="1"/>
<circle cx="1951" cy="347.4" r="6" fill="#e02226" stroke="#1c1c1c" stroke-width="1"/>
<circle cx="1951" cy="361.2" r="6" fill="#e02226" stroke="#1c1c1c" stroke-width="1"/>
<circle cx="1961" cy="362.3" r="6" fill="#e02226" stroke="#1c1c1c" stroke-width="1"/>
<circle cx="1941" cy="372.5" r="6" fill="#e02226" stroke="#1c1c1c" stroke-width="1"/>
<circle cx="1961" cy="376.7" r="6" fill="#e02226" stroke="#1c1c1c" stroke-width="1"/>
<circle cx="1941" cy="385.1" r="6" fill="#e02226" stroke="#1c1c1c" stroke-width="1"/>
<circle cx="1951" cy="391" r="6" fill="#e02226" stroke="#1c1c1c" stroke-width="1"/>
<circle cx="1961" cy="393.4" r="6" fill="#e02226" stroke="#1c1c1c" stroke-width="1"/>
<circle cx="1941" cy="397.6" r="6" fill="#e02226" stroke="#1c1c1c" stroke-width="1"/>
<line x1="1938.8" y1="347.4" x2="1963.2" y2="347.4" stroke="#2a2a2a" stroke-width="1.1" stroke-dasharray="4 2.5"/>
<line x1="1938.8" y1="376.7" x2="1963.2" y2="376.7" stroke="#444" stroke-width="1.1" stroke-dasharray="1.2 2"/>
<line x1="1938.8" y1="339.6" x2="1963.2" y2="339.6" stroke="#444" stroke-width="1.1" stroke-dasharray="1.2 2"/>
<path d="M1979 398.2 L1976.9 394.2 L1975.1 390.2 L1973.6 386.2 L1972.6 382.2 L1972 378.2 L1972 374.2 L1972.4 370.2 L1973.3 366.2 L1974.5 362.2 L1975.8 358.2 L1977.1 354.1 L1978.1 350.1 L1978.8 346.1 L1979.2 342.1 L1979.5 338.1 L1979.7 334.1 L1980.2 330.1 L1980.7 326.1 L1981.4 322.1 L1982 318.1 L1982.5 314.1 L1983 310.1 L1983.4 306.1 L1983.8 302.1 L1984.3 298.1 L1984.9 294.1 L1985.5 290.1 L1986.1 286.1 L1986.7 282.1 L1987.2 278 L1987.5 274 L1987.8 270 L1987.9 266 L1988 262 L1988 258 L1988 254 L1988 250 L1988 246 L1987.9 242 L1987.8 238 L1987.6 234 L1987.3 230 L1986.9 226 L1986.5 222 L1986 218 L1985.7 214 L1985.6 210 L1990.4 210 L1990.3 214 L1990 218 L1989.5 222 L1989.1 226 L1988.7 230 L1988.4 234 L1988.2 238 L1988.1 242 L1988 246 L1988 250 L1988 254 L1988 258 L1988 262 L1988.1 266 L1988.2 270 L1988.5 274 L1988.8 278 L1989.3 282.1 L1989.9 286.1 L1990.5 290.1 L1991.1 294.1 L1991.7 298.1 L1992.2 302.1 L1992.6 306.1 L1993 310.1 L1993.5 314.1 L1994 318.1 L1994.6 322.1 L1995.3 326.1 L1995.8 330.1 L1996.3 334.1 L1996.5 338.1 L1996.8 342.1 L1997.2 346.1 L1997.9 350.1 L1998.9 354.1 L2000.2 358.2 L2001.5 362.2 L2002.7 366.2 L2003.6 370.2 L2004 374.2 L2004 378.2 L2003.4 382.2 L2002.4 386.2 L2000.9 390.2 L1999.1 394.2 L1997 398.2 Z" stroke="#333" fill="#f4968b" stroke-width="1"/>
<circle cx="1988" cy="210" r="6" fill="#e02226" stroke="#1c1c1c" stroke-width="1"/>
<circle cx="1988" cy="297.2" r="6" fill="#e02226" stroke="#1c1c1c" stroke-width="1"/>
<circle cx="1988" cy="313.9" r="6" fill="#e02226" stroke="#1c1c1c" stroke-width="1"/>
<circle cx="1988" cy="328.9" r="6" fill="#e02226" stroke="#1c1c1c" stroke-width="1"/>
<circle cx="1998" cy="334.9" r="6" fill="#e02226" stroke="#1c1c1c" stroke-width="1"/>
<circle cx="1978" cy="342" r="6" fill="#e02226" stroke="#1c1c1c" stroke-width="1"/>
<circle cx="1988" cy="356.4" r="6" fill="#e02226" stroke="#1c1c1c" stroke-width="1"/>
<circle cx="1998" cy="361.2" r="6" fill="#e02226" stroke="#1c1c1c" stroke-width="1"/>
<circle cx="1978" cy="367.7" r="6" fill="#e02226" stroke="#1c1c1c" stroke-width="1"/>
<circle cx="1988" cy="369.5" r="6" fill="#e02226" stroke="#1c1c1c" stroke-width="1"/>
<circle cx="1988" cy="373.1" r="6" fill="#e02226" stroke="#1c1c1c" stroke-width="1"/>
<circle cx="1998" cy="380.3" r="6" fill="#e02226" stroke="#1c1c1c" stroke-width="1"/>
<circle cx="1978" cy="384.5" r="6" fill="#e02226" stroke="#1c1c1c" stroke-width="1"/>
<circle cx="1988" cy="385.1" r="6" fill="#e02226" stroke="#1c1c1c" stroke-width="1"/>
<circle cx="1998" cy="393.4" r="6" fill="#e02226" stroke="#1c1c1c" stroke-width="1"/>
<circle cx="1978" cy="398.2" r="6" fill="#e02226" stroke="#1c1c1c" stroke-width="1"/>
<line x1="1975.8" y1="364.4" x2="2000.2" y2="364.4" stroke="#2a2a2a" stroke-width="1.1" stroke-dasharray="4 2.5"/>
<line x1="1975.8" y1="381.3" x2="2000.2" y2="381.3" stroke="#444" stroke-width="1.1" stroke-dasharray="1.2 2"/>
<line x1="1975.8" y1="333.4" x2="2000.2" y2="333.4" stroke="#444" stroke-width="1.1" stroke-dasharray="1.2 2"/>
<path d="M2038.3 398.8 L2037.9 398.4 L2037.7 398 L2037.6 397.6 L2037.6 397.2 L2037.6 396.8 L2037.7 396.4 L2037.9 396 L2038 395.6 L2038.1 395.3 L2038.2 394.9 L2038.3 394.5 L2038.4 394.1 L2038.5 393.7 L2038.7 393.3 L2038.9 392.9 L2039.2 392.5 L2039.5 392.1 L2039.8 391.7 L2040.1 391.3 L2040.4 390.9 L2040.6 390.5 L2040.8 390.1 L2040.8 389.7 L2040.8 389.3 L2040.6 388.9 L2040.4 388.6 L2040.1 388.2 L2039.8 387.8 L2039.5 387.4 L2039.1 387 L2038.7 386.6 L2038.2 386.2 L2037.8 385.8 L2037.3 385.4 L2036.9 385 L2036.4 384.6 L2036 384.2 L2035.7 383.8 L2035.4 383.4 L2035.2 383 L2035.1 382.6 L2035.1 382.2 L2035.3 381.9 L2035.6 381.5 L2036.1 381.1 L2036.6 380.7 L2037.3 380.3 L2050.9 380.3 L2051.6 380.7 L2052.1 381.1 L2052.6 381.5 L2052.9 381.9 L2053.1 382.2 L2053.1 382.6 L2053 383 L2052.8 383.4 L2052.5 383.8 L2052.2 384.2 L2051.8 384.6 L2051.3 385 L2050.9 385.4 L2050.4 385.8 L2050 386.2 L2049.5 386.6 L2049.1 387 L2048.7 387.4 L2048.4 387.8 L2048.1 388.2 L2047.8 388.6 L2047.6 388.9 L2047.4 389.3 L2047.4 389.7 L2047.4 390.1 L2047.6 390.5 L2047.8 390.9 L2048.1 391.3 L2048.4 391.7 L2048.7 392.1 L2049 392.5 L2049.3 392.9 L2049.5 393.3 L2049.7 393.7 L2049.8 394.1 L2049.9 394.5 L2050 394.9 L2050.1 395.3 L2050.2 395.6 L2050.3 396 L2050.5 396.4 L2050.6 396.8 L2050.6 397.2 L2050.6 397.6 L2050.5 398 L2050.3 398.4 L2049.9 398.8 Z" stroke="#333" fill="#ffffff" stroke-width="1"/>
<circle cx="2044.1" cy="380.3" r="6" fill="#c9cacc" stroke="#1c1c1c" stroke-width="1"/>
<circle cx="2054.1" cy="381.5" r="6" fill="#c9cacc" stroke="#1c1c1c" stroke-width="1"/>
<circle cx="2034.1" cy="383.3" r="6" fill="#c9cacc" stroke="#1c1c1c" stroke-width="1"/>
<circle cx="2044.1" cy="384.5" r="6" fill="#c9cacc" stroke="#1c1c1c" stroke-width="1"/>
<circle cx="2054.1" cy="387.4" r="6" fill="#c9cacc" stroke="#1c1c1c" stroke-width="1"/>
<circle cx="2034.1" cy="392.2" r="6" fill="#c9cacc" stroke="#1c1c1c" stroke-width="1"/>
<circle cx="2044.1" cy="394.6" r="6" fill="#c9cacc" stroke="#1c1c1c" stroke-width="1"/>
<circle cx="2054.1" cy="397.6" r="6" fill="#c9cacc" stroke="#1c1c1c" stroke-width="1"/>
<circle cx="2034.1" cy="398.8" r="6" fill="#c9cacc" stroke="#1c1c1c" stroke-width="1"/>
<line x1="2031.9" y1="387.4" x2="2056.3" y2="387.4" stroke="#3a3a3a" stroke-width="1.1" stroke-dasharray="4 2.5"/>
<line x1="2031.9" y1="394.6" x2="2056.3" y2="394.6" stroke="#555" stroke-width="1.1" stroke-dasharray="1.2 2"/>
<line x1="2031.9" y1="383.3" x2="2056.3" y2="383.3" stroke="#555" stroke-width="1.1" stroke-dasharray="1.2 2"/>
<path d="M2074.4 398.8 L2073.7 398 L2073.1 397.2 L2072.7 396.4 L2072.5 395.5 L2072.4 394.7 L2072.3 393.9 L2072.3 393.1 L2072.3 392.3 L2072.4 391.5 L2072.5 390.7 L2072.7 389.9 L2072.9 389 L2073.1 388.2 L2073.3 387.4 L2073.5 386.6 L2073.7 385.8 L2073.9 385 L2074.1 384.2 L2074.3 383.3 L2074.6 382.5 L2074.9 381.7 L2075.2 380.9 L2075.6 380.1 L2076 379.3 L2076.4 378.5 L2076.9 377.6 L2077.3 376.8 L2077.8 376 L2078.3 375.2 L2078.9 374.4 L2079.4 373.6 L2079.9 372.8 L2080.3 371.9 L2080.6 371.1 L2080.8 370.3 L2081 369.5 L2081 368.7 L2081 367.9 L2080.9 367.1 L2080.7 366.3 L2080.4 365.4 L2080 364.6 L2079.6 363.8 L2079.3 363 L2078.9 362.2 L2078.7 361.4 L2078.6 360.6 L2084 360.6 L2083.9 361.4 L2083.7 362.2 L2083.3 363 L2083 363.8 L2082.6 364.6 L2082.2 365.4 L2081.9 366.3 L2081.7 367.1 L2081.6 367.9 L2081.6 368.7 L2081.6 369.5 L2081.8 370.3 L2082 371.1 L2082.3 371.9 L2082.7 372.8 L2083.2 373.6 L2083.7 374.4 L2084.3 375.2 L2084.8 376 L2085.3 376.8 L2085.7 377.6 L2086.2 378.5 L2086.6 379.3 L2087 380.1 L2087.4 380.9 L2087.7 381.7 L2088 382.5 L2088.3 383.3 L2088.5 384.2 L2088.7 385 L2088.9 385.8 L2089.1 386.6 L2089.3 387.4 L2089.5 388.2 L2089.7 389 L2089.9 389.9 L2090.1 390.7 L2090.2 391.5 L2090.3 392.3 L2090.3 393.1 L2090.3 393.9 L2090.2 394.7 L2090.1 395.5 L2089.9 396.4 L2089.5 397.2 L2088.9 398 L2088.2 398.8 Z" stroke="#333" fill="#ffffff" stroke-width="1"/>
<circle cx="2081.3" cy="360.6" r="6" fill="#c9cacc" stroke="#1c1c1c" stroke-width="1"/>
<circle cx="2081.3" cy="376.7" r="6" fill="#c9cacc" stroke="#1c1c1c" stroke-width="1"/>
<circle cx="2091.3" cy="381.5" r="6" fill="#c9cacc" stroke="#1c1c1c" stroke-width="1"/>
<circle cx="2071.3" cy="383.9" r="6" fill="#c9cacc" stroke="#1c1c1c" stroke-width="1"/>
<circle cx="2081.3" cy="387.4" r="6" fill="#c9cacc" stroke="#1c1c1c" stroke-width="1"/>
<circle cx="2091.3" cy="389.8" r="6" fill="#c9cacc" stroke="#1c1c1c" stroke-width="1"/>
<circle cx="2081.3" cy="392.2" r="6" fill="#c9cacc" stroke="#1c1c1c" stroke-width="1"/>
<circle cx="2091.3" cy="394.6" r="6" fill="#c9cacc" stroke="#1c1c1c" stroke-width="1"/>
<circle cx="2071.3" cy="397.6" r="6" fill="#c9cacc" stroke="#1c1c1c" stroke-width="1"/>
<circle cx="2081.3" cy="398.8" r="6" fill="#c9cacc" stroke="#1c1c1c" stroke-width="1"/>
<line x1="2069.1" y1="388.6" x2="2093.5" y2="388.6" stroke="#3a3a3a" stroke-width="1.1" stroke-dasharray="4 2.5"/>
<line x1="2069.1" y1="394" x2="2093.5" y2="394" stroke="#555" stroke-width="1.1" stroke-dasharray="1.2 2"/>
<line x1="2069.1" y1="382.1" x2="2093.5" y2="382.1" stroke="#555" stroke-width="1.1" stroke-dasharray="1.2 2"/>
<path d="M2110.1 399.4 L2109.4 398.7 L2109.1 398.1 L2109 397.4 L2109.2 396.8 L2109.7 396.1 L2110.3 395.4 L2111 394.8 L2111.8 394.1 L2112.4 393.4 L2113 392.8 L2113.4 392.1 L2113.7 391.5 L2113.9 390.8 L2114.1 390.1 L2114.1 389.5 L2114.1 388.8 L2114 388.2 L2113.8 387.5 L2113.6 386.8 L2113.3 386.2 L2113 385.5 L2112.8 384.9 L2112.5 384.2 L2112.4 383.5 L2112.3 382.9 L2112.3 382.2 L2112.4 381.5 L2112.6 380.9 L2112.9 380.2 L2113.3 379.6 L2113.8 378.9 L2114.3 378.2 L2114.8 377.6 L2115.4 376.9 L2115.9 376.3 L2116.4 375.6 L2116.7 374.9 L2117 374.3 L2117.1 373.6 L2117.1 373 L2117 372.3 L2116.8 371.6 L2116.6 371 L2116.3 370.3 L2116.1 369.6 L2115.9 369 L2115.9 368.3 L2120.1 368.3 L2120.1 369 L2119.9 369.6 L2119.7 370.3 L2119.4 371 L2119.2 371.6 L2119 372.3 L2118.9 373 L2118.9 373.6 L2119 374.3 L2119.3 374.9 L2119.6 375.6 L2120.1 376.3 L2120.6 376.9 L2121.2 377.6 L2121.7 378.2 L2122.2 378.9 L2122.7 379.6 L2123.1 380.2 L2123.4 380.9 L2123.6 381.5 L2123.7 382.2 L2123.7 382.9 L2123.6 383.5 L2123.5 384.2 L2123.2 384.9 L2123 385.5 L2122.7 386.2 L2122.4 386.8 L2122.2 387.5 L2122 388.2 L2121.9 388.8 L2121.9 389.5 L2121.9 390.1 L2122.1 390.8 L2122.3 391.5 L2122.6 392.1 L2123 392.8 L2123.6 393.4 L2124.2 394.1 L2125 394.8 L2125.7 395.4 L2126.3 396.1 L2126.8 396.8 L2127 397.4 L2126.9 398.1 L2126.6 398.7 L2125.9 399.4 Z" stroke="#333" fill="#ffffff" stroke-width="1"/>
<circle cx="2118" cy="368.3" r="6" fill="#c9cacc" stroke="#1c1c1c" stroke-width="1"/>
<circle cx="2128" cy="378.5" r="6" fill="#c9cacc" stroke="#1c1c1c" stroke-width="1"/>
<circle cx="2108" cy="381.5" r="6" fill="#c9cacc" stroke="#1c1c1c" stroke-width="1"/>
<circle cx="2118" cy="383.3" r="6" fill="#c9cacc" stroke="#1c1c1c" stroke-width="1"/>
<circle cx="2128" cy="386.3" r="6" fill="#c9cacc" stroke="#1c1c1c" stroke-width="1"/>
<circle cx="2108" cy="390.4" r="6" fill="#c9cacc" stroke="#1c1c1c" stroke-width="1"/>
<circle cx="2118" cy="394.6" r="6" fill="#c9cacc" stroke="#1c1c1c" stroke-width="1"/>
<circle cx="2128" cy="396.4" r="6" fill="#c9cacc" stroke="#1c1c1c" stroke-width="1"/>
<circle cx="2118" cy="398.2" r="6" fill="#c9cacc" stroke="#1c1c1c" stroke-width="1"/>
<circle cx="2128" cy="398.8" r="6" fill="#c9cacc" stroke="#1c1c1c" stroke-width="1"/>
<circle cx="2108" cy="399.4" r="6" fill="#c9cacc" stroke="#1c1c1c" stroke-width="1"/>
<line x1="2105.8" y1="390.4" x2="2130.2" y2="390.4" stroke="#3a3a3a" stroke-width="1.1" stroke-dasharray="4 2.5"/>
<line x1="2105.8" y1="397.3" x2="2130.2" y2="397.3" stroke="#555" stroke-width="1.1" stroke-dasharray="1.2 2"/>
<line x1="2105.8" y1="382.4" x2="2130.2" y2="382.4" stroke="#555" stroke-width="1.1" stroke-dasharray="1.2 2"/>
<line x1="1270.5" y1="504.5" x2="1270.5" y2="806" stroke="#4a4a4a" stroke-width="1.2"/>
<path d="M1262 806h8.5 M1262 730.6h8.5 M1262 655.2h8.5 M1262 579.9h8.5 M1262 504.5h8.5" stroke="#4a4a4a" fill="none" stroke-width="1.2"/>
<text font-size="23.5" text-anchor="end" transform="translate(1250 814.3) scale(1.100 1)">0</text>
<text font-size="23.5" text-anchor="end" transform="translate(1250 738.9) scale(1.100 1)">20</text>
<text font-size="23.5" text-anchor="end" transform="translate(1250 663.5) scale(1.100 1)">40</text>
<text font-size="23.5" text-anchor="end" transform="translate(1250 588.2) scale(1.100 1)">60</text>
<text font-size="23.5" text-anchor="end" transform="translate(1250 512.8) scale(1.100 1)">80</text>
<line x1="1270.5" y1="806" x2="1685.7" y2="806" stroke="#4a4a4a" stroke-width="1.2"/>
<text font-size="26" text-anchor="middle" transform="translate(1473.7 468) scale(1.024 1)">CD319 (<tspan font-style="italic">SLAMF7</tspan>)</text>
<text font-size="26" text-anchor="middle" transform="translate(1340 513.4) scale(1.070 1)">HD</text>
<text font-size="26" text-anchor="middle" transform="translate(1475.4 513.4) scale(1.070 1)">CD</text>
<text font-size="26" text-anchor="middle" transform="translate(1613.7 513.4) scale(1.070 1)">UC</text>
<path d="M1295.9 805.6 L1295 805.1 L1294.4 804.6 L1294 804.1 L1293.8 803.6 L1293.9 803.1 L1294.1 802.5 L1294.6 802 L1295.1 801.5 L1295.7 801 L1296.3 800.5 L1296.9 800 L1297.4 799.5 L1298 799 L1298.5 798.4 L1299 797.9 L1299.4 797.4 L1299.8 796.9 L1300.1 796.4 L1300.2 795.9 L1300.3 795.4 L1300.4 794.8 L1300.5 794.3 L1300.6 793.8 L1300.8 793.3 L1301 792.8 L1301.3 792.3 L1301.6 791.8 L1301.9 791.3 L1302.1 790.7 L1302.3 790.2 L1302.5 789.7 L1302.6 789.2 L1302.7 788.7 L1302.7 788.2 L1302.7 787.7 L1302.7 787.1 L1302.7 786.6 L1302.6 786.1 L1302.5 785.6 L1302.3 785.1 L1302.1 784.6 L1301.8 784.1 L1301.5 783.6 L1301.3 783 L1301.1 782.5 L1300.9 782 L1300.9 781.5 L1304.7 781.5 L1304.7 782 L1304.5 782.5 L1304.3 783 L1304.1 783.6 L1303.8 784.1 L1303.5 784.6 L1303.3 785.1 L1303.1 785.6 L1303 786.1 L1302.9 786.6 L1302.9 787.1 L1302.9 787.7 L1302.9 788.2 L1302.9 788.7 L1303 789.2 L1303.1 789.7 L1303.3 790.2 L1303.5 790.7 L1303.7 791.3 L1304 791.8 L1304.3 792.3 L1304.6 792.8 L1304.8 793.3 L1305 793.8 L1305.1 794.3 L1305.2 794.8 L1305.3 795.4 L1305.4 795.9 L1305.5 796.4 L1305.8 796.9 L1306.2 797.4 L1306.6 797.9 L1307.1 798.4 L1307.6 799 L1308.2 799.5 L1308.7 800 L1309.3 800.5 L1309.9 801 L1310.5 801.5 L1311 802 L1311.5 802.5 L1311.7 803.1 L1311.8 803.6 L1311.6 804.1 L1311.2 804.6 L1310.6 805.1 L1309.7 805.6 Z" stroke="#333" fill="#8a8a8a" stroke-width="1"/>
<circle cx="1312.8" cy="781.5" r="6" fill="#4a4a4c" stroke="#1c1c1c" stroke-width="1"/>
<circle cx="1292.8" cy="793.9" r="6" fill="#4a4a4c" stroke="#1c1c1c" stroke-width="1"/>
<circle cx="1302.8" cy="798.5" r="6" fill="#4a4a4c" stroke="#1c1c1c" stroke-width="1"/>
<circle cx="1312.8" cy="800.3" r="6" fill="#4a4a4c" stroke="#1c1c1c" stroke-width="1"/>
<circle cx="1292.8" cy="802.2" r="6" fill="#4a4a4c" stroke="#1c1c1c" stroke-width="1"/>
<circle cx="1302.8" cy="803" r="6" fill="#4a4a4c" stroke="#1c1c1c" stroke-width="1"/>
<circle cx="1312.8" cy="804.1" r="6" fill="#4a4a4c" stroke="#1c1c1c" stroke-width="1"/>
<circle cx="1292.8" cy="804.9" r="6" fill="#4a4a4c" stroke="#1c1c1c" stroke-width="1"/>
<circle cx="1302.8" cy="805.6" r="6" fill="#4a4a4c" stroke="#1c1c1c" stroke-width="1"/>
<line x1="1290.6" y1="802.2" x2="1315" y2="802.2" stroke="#d8d8d8" stroke-width="1.1" stroke-dasharray="4 2.5"/>
<line x1="1290.6" y1="804.1" x2="1315" y2="804.1" stroke="#bbbbbb" stroke-width="1.1" stroke-dasharray="1.2 2"/>
<line x1="1290.6" y1="798.5" x2="1315" y2="798.5" stroke="#bbbbbb" stroke-width="1.1" stroke-dasharray="1.2 2"/>
<text font-size="26.5" text-anchor="end" font-style="italic" transform="translate(1315.3 833) rotate(-45) scale(1.030 1)">C. albicans</text>
<path d="M1334.1 805.6 L1333.4 805.1 L1332.9 804.5 L1332.5 804 L1332.3 803.5 L1332.2 802.9 L1332.2 802.4 L1332.3 801.9 L1332.4 801.3 L1332.4 800.8 L1332.5 800.3 L1332.6 799.7 L1332.7 799.2 L1332.8 798.6 L1333 798.1 L1333.2 797.6 L1333.6 797 L1334 796.5 L1334.4 796 L1334.9 795.4 L1335.5 794.9 L1336 794.3 L1336.5 793.8 L1337 793.3 L1337.3 792.7 L1337.6 792.2 L1337.7 791.7 L1337.6 791.1 L1337.5 790.6 L1337.2 790 L1336.9 789.5 L1336.5 789 L1336 788.4 L1335.6 787.9 L1335.2 787.4 L1334.8 786.8 L1334.5 786.3 L1334.2 785.7 L1334 785.2 L1333.8 784.7 L1333.8 784.1 L1333.8 783.6 L1334 783.1 L1334.2 782.5 L1334.6 782 L1335 781.4 L1335.5 780.9 L1336.1 780.4 L1346.3 780.4 L1346.9 780.9 L1347.4 781.4 L1347.8 782 L1348.2 782.5 L1348.4 783.1 L1348.6 783.6 L1348.6 784.1 L1348.6 784.7 L1348.4 785.2 L1348.2 785.7 L1347.9 786.3 L1347.6 786.8 L1347.2 787.4 L1346.8 787.9 L1346.4 788.4 L1345.9 789 L1345.5 789.5 L1345.2 790 L1344.9 790.6 L1344.8 791.1 L1344.7 791.7 L1344.8 792.2 L1345.1 792.7 L1345.4 793.3 L1345.9 793.8 L1346.4 794.3 L1346.9 794.9 L1347.5 795.4 L1348 796 L1348.4 796.5 L1348.8 797 L1349.2 797.6 L1349.4 798.1 L1349.6 798.6 L1349.7 799.2 L1349.8 799.7 L1349.9 800.3 L1350 800.8 L1350 801.3 L1350.1 801.9 L1350.2 802.4 L1350.2 802.9 L1350.1 803.5 L1349.9 804 L1349.5 804.5 L1349 805.1 L1348.3 805.6 Z" stroke="#333" fill="#8a8a8a" stroke-width="1"/>
<circle cx="1341.2" cy="780.4" r="6" fill="#4a4a4c" stroke="#1c1c1c" stroke-width="1"/>
<circle cx="1351.2" cy="783.4" r="6" fill="#4a4a4c" stroke="#1c1c1c" stroke-width="1"/>
<circle cx="1331.2" cy="785.3" r="6" fill="#4a4a4c" stroke="#1c1c1c" stroke-width="1"/>
<circle cx="1341.2" cy="788.7" r="6" fill="#4a4a4c" stroke="#1c1c1c" stroke-width="1"/>
<circle cx="1341.2" cy="794.7" r="6" fill="#4a4a4c" stroke="#1c1c1c" stroke-width="1"/>
<circle cx="1351.2" cy="797.7" r="6" fill="#4a4a4c" stroke="#1c1c1c" stroke-width="1"/>
<circle cx="1331.2" cy="799.2" r="6" fill="#4a4a4c" stroke="#1c1c1c" stroke-width="1"/>
<circle cx="1341.2" cy="802.2" r="6" fill="#4a4a4c" stroke="#1c1c1c" stroke-width="1"/>
<circle cx="1351.2" cy="804.1" r="6" fill="#4a4a4c" stroke="#1c1c1c" stroke-width="1"/>
<circle cx="1331.2" cy="805.6" r="6" fill="#4a4a4c" stroke="#1c1c1c" stroke-width="1"/>
<line x1="1329" y1="796.2" x2="1353.4" y2="796.2" stroke="#d8d8d8" stroke-width="1.1" stroke-dasharray="4 2.5"/>
<line x1="1329" y1="801.5" x2="1353.4" y2="801.5" stroke="#bbbbbb" stroke-width="1.1" stroke-dasharray="1.2 2"/>
<line x1="1329" y1="786.1" x2="1353.4" y2="786.1" stroke="#bbbbbb" stroke-width="1.1" stroke-dasharray="1.2 2"/>
<text font-size="26.5" text-anchor="end" font-style="italic" transform="translate(1353.7 833) rotate(-45) scale(1.030 1)">C. tropicalis</text>
<path d="M1372.2 805.6 L1371.6 804.9 L1371.2 804.3 L1371.1 803.6 L1371.2 802.9 L1371.5 802.3 L1371.9 801.6 L1372.5 800.9 L1373 800.2 L1373.6 799.6 L1374.1 798.9 L1374.5 798.2 L1374.9 797.5 L1375.2 796.9 L1375.4 796.2 L1375.6 795.5 L1375.7 794.8 L1375.8 794.2 L1375.9 793.5 L1375.9 792.8 L1376 792.2 L1376 791.5 L1376.1 790.8 L1376.1 790.1 L1376.2 789.5 L1376.3 788.8 L1376.4 788.1 L1376.4 787.4 L1376.5 786.8 L1376.6 786.1 L1376.8 785.4 L1376.9 784.7 L1377 784.1 L1377.2 783.4 L1377.3 782.7 L1377.5 782 L1377.5 781.4 L1377.6 780.7 L1377.5 780 L1377.3 779.4 L1377 778.7 L1376.7 778 L1376.4 777.3 L1376.1 776.7 L1375.9 776 L1375.8 775.3 L1375.8 774.6 L1375.9 774 L1384.3 774 L1384.4 774.6 L1384.4 775.3 L1384.3 776 L1384.1 776.7 L1383.8 777.3 L1383.5 778 L1383.2 778.7 L1382.9 779.4 L1382.7 780 L1382.6 780.7 L1382.7 781.4 L1382.7 782 L1382.9 782.7 L1383 783.4 L1383.2 784.1 L1383.3 784.7 L1383.4 785.4 L1383.6 786.1 L1383.7 786.8 L1383.8 787.4 L1383.8 788.1 L1383.9 788.8 L1384 789.5 L1384.1 790.1 L1384.1 790.8 L1384.2 791.5 L1384.2 792.2 L1384.3 792.8 L1384.3 793.5 L1384.4 794.2 L1384.5 794.8 L1384.6 795.5 L1384.8 796.2 L1385 796.9 L1385.3 797.5 L1385.7 798.2 L1386.1 798.9 L1386.6 799.6 L1387.2 800.2 L1387.7 800.9 L1388.3 801.6 L1388.7 802.3 L1389 802.9 L1389.1 803.6 L1389 804.3 L1388.6 804.9 L1388 805.6 Z" stroke="#333" fill="#8a8a8a" stroke-width="1"/>
<circle cx="1380.1" cy="774" r="6" fill="#4a4a4c" stroke="#1c1c1c" stroke-width="1"/>
<circle cx="1390.1" cy="775.9" r="6" fill="#4a4a4c" stroke="#1c1c1c" stroke-width="1"/>
<circle cx="1370.1" cy="784.1" r="6" fill="#4a4a4c" stroke="#1c1c1c" stroke-width="1"/>
<circle cx="1380.1" cy="789.4" r="6" fill="#4a4a4c" stroke="#1c1c1c" stroke-width="1"/>
<circle cx="1390.1" cy="793.9" r="6" fill="#4a4a4c" stroke="#1c1c1c" stroke-width="1"/>
<circle cx="1370.1" cy="798.5" r="6" fill="#4a4a4c" stroke="#1c1c1c" stroke-width="1"/>
<circle cx="1380.1" cy="802.2" r="6" fill="#4a4a4c" stroke="#1c1c1c" stroke-width="1"/>
<circle cx="1380.1" cy="803.7" r="6" fill="#4a4a4c" stroke="#1c1c1c" stroke-width="1"/>
<circle cx="1390.1" cy="804.9" r="6" fill="#4a4a4c" stroke="#1c1c1c" stroke-width="1"/>
<circle cx="1370.1" cy="805.6" r="6" fill="#4a4a4c" stroke="#1c1c1c" stroke-width="1"/>
<line x1="1367.9" y1="796.2" x2="1392.3" y2="796.2" stroke="#d8d8d8" stroke-width="1.1" stroke-dasharray="4 2.5"/>
<line x1="1367.9" y1="803.4" x2="1392.3" y2="803.4" stroke="#bbbbbb" stroke-width="1.1" stroke-dasharray="1.2 2"/>
<line x1="1367.9" y1="785.5" x2="1392.3" y2="785.5" stroke="#bbbbbb" stroke-width="1.1" stroke-dasharray="1.2 2"/>
<text font-size="26.5" text-anchor="end" font-style="italic" transform="translate(1392.6 833) rotate(-45) scale(1.030 1)">S. cerevisiae</text>
<path d="M1424 805.6 L1422.9 802.5 L1422.9 799.4 L1423.8 796.3 L1425.3 793.1 L1427.1 790 L1428.9 786.9 L1430.4 783.8 L1431.7 780.7 L1432.8 777.5 L1433.6 774.4 L1434.3 771.3 L1434.8 768.2 L1435.1 765.1 L1435.3 762 L1435.5 758.8 L1435.7 755.7 L1435.9 752.6 L1436.2 749.5 L1436.6 746.4 L1437.1 743.2 L1437.5 740.1 L1437.7 737 L1437.9 733.9 L1437.8 730.8 L1437.5 727.6 L1437.1 724.5 L1436.6 721.4 L1436.2 718.3 L1435.9 715.2 L1435.9 712 L1436.1 708.9 L1436.6 705.8 L1437.1 702.7 L1437.6 699.6 L1438.1 696.4 L1438.4 693.3 L1438.6 690.2 L1438.7 687.1 L1438.7 684 L1438.7 680.9 L1438.6 677.7 L1438.4 674.6 L1438.2 671.5 L1437.9 668.4 L1437.6 665.3 L1437.5 662.1 L1437.4 659 L1440.4 659 L1440.3 662.1 L1440.2 665.3 L1439.9 668.4 L1439.6 671.5 L1439.4 674.6 L1439.2 677.7 L1439.1 680.9 L1439.1 684 L1439.1 687.1 L1439.2 690.2 L1439.4 693.3 L1439.7 696.4 L1440.2 699.6 L1440.7 702.7 L1441.2 705.8 L1441.7 708.9 L1441.9 712 L1441.9 715.2 L1441.6 718.3 L1441.2 721.4 L1440.7 724.5 L1440.3 727.6 L1440 730.8 L1439.9 733.9 L1440.1 737 L1440.3 740.1 L1440.7 743.2 L1441.2 746.4 L1441.6 749.5 L1441.9 752.6 L1442.1 755.7 L1442.3 758.8 L1442.5 762 L1442.7 765.1 L1443 768.2 L1443.5 771.3 L1444.2 774.4 L1445 777.5 L1446.1 780.7 L1447.4 783.8 L1448.9 786.9 L1450.7 790 L1452.5 793.1 L1454 796.3 L1454.9 799.4 L1454.9 802.5 L1453.8 805.6 Z" stroke="#333" fill="#f4968b" stroke-width="1"/>
<circle cx="1438.9" cy="659" r="6" fill="#e02226" stroke="#1c1c1c" stroke-width="1"/>
<circle cx="1448.9" cy="712.9" r="6" fill="#e02226" stroke="#1c1c1c" stroke-width="1"/>
<circle cx="1428.9" cy="713.7" r="6" fill="#e02226" stroke="#1c1c1c" stroke-width="1"/>
<circle cx="1448.9" cy="749.5" r="6" fill="#e02226" stroke="#1c1c1c" stroke-width="1"/>
<circle cx="1428.9" cy="758.9" r="6" fill="#e02226" stroke="#1c1c1c" stroke-width="1"/>
<circle cx="1448.9" cy="773.2" r="6" fill="#e02226" stroke="#1c1c1c" stroke-width="1"/>
<circle cx="1428.9" cy="779.6" r="6" fill="#e02226" stroke="#1c1c1c" stroke-width="1"/>
<circle cx="1438.9" cy="787.2" r="6" fill="#e02226" stroke="#1c1c1c" stroke-width="1"/>
<circle cx="1448.9" cy="788.3" r="6" fill="#e02226" stroke="#1c1c1c" stroke-width="1"/>
<circle cx="1428.9" cy="798.5" r="6" fill="#e02226" stroke="#1c1c1c" stroke-width="1"/>
<circle cx="1438.9" cy="799.2" r="6" fill="#e02226" stroke="#1c1c1c" stroke-width="1"/>
<circle cx="1448.9" cy="800.3" r="6" fill="#e02226" stroke="#1c1c1c" stroke-width="1"/>
<circle cx="1438.9" cy="801.5" r="6" fill="#e02226" stroke="#1c1c1c" stroke-width="1"/>
<circle cx="1448.9" cy="802.2" r="6" fill="#e02226" stroke="#1c1c1c" stroke-width="1"/>
<circle cx="1428.9" cy="803.7" r="6" fill="#e02226" stroke="#1c1c1c" stroke-width="1"/>
<circle cx="1438.9" cy="804.1" r="6" fill="#e02226" stroke="#1c1c1c" stroke-width="1"/>
<circle cx="1448.9" cy="804.9" r="6" fill="#e02226" stroke="#1c1c1c" stroke-width="1"/>
<circle cx="1428.9" cy="805.2" r="6" fill="#e02226" stroke="#1c1c1c" stroke-width="1"/>
<circle cx="1438.9" cy="805.6" r="6" fill="#e02226" stroke="#1c1c1c" stroke-width="1"/>
<line x1="1426.7" y1="798.5" x2="1451.1" y2="798.5" stroke="#2a2a2a" stroke-width="1.1" stroke-dasharray="4 2.5"/>
<line x1="1426.7" y1="803" x2="1451.1" y2="803" stroke="#444" stroke-width="1.1" stroke-dasharray="1.2 2"/>
<line x1="1426.7" y1="766.1" x2="1451.1" y2="766.1" stroke="#444" stroke-width="1.1" stroke-dasharray="1.2 2"/>
<text font-size="26.5" text-anchor="end" font-style="italic" transform="translate(1451.4 833) rotate(-45) scale(1.030 1)">C. albicans</text>
<path d="M1465 806 L1463.1 800.9 L1461.9 795.9 L1461.5 790.8 L1461.9 785.8 L1462.9 780.7 L1464.4 775.7 L1466.1 770.6 L1467.9 765.6 L1469.7 760.5 L1471.3 755.5 L1472.6 750.4 L1473.7 745.4 L1474.6 740.3 L1475.1 735.3 L1475.5 730.2 L1475.7 725.2 L1475.7 720.1 L1475.7 715.1 L1475.7 710 L1475.6 705 L1475.6 699.9 L1475.4 694.9 L1475.1 689.8 L1474.8 684.8 L1474.4 679.7 L1474 674.7 L1473.8 669.6 L1473.8 664.6 L1474.1 659.5 L1474.5 654.4 L1475.1 649.4 L1475.7 644.3 L1476.3 639.3 L1476.7 634.2 L1477 629.2 L1477.3 624.1 L1477.4 619.1 L1477.4 614 L1477.4 609 L1477.4 603.9 L1477.3 598.9 L1477.1 593.8 L1476.8 588.8 L1476.6 583.7 L1476.3 578.7 L1476.1 573.6 L1476.1 568.6 L1478.9 568.6 L1478.9 573.6 L1478.7 578.7 L1478.4 583.7 L1478.2 588.8 L1477.9 593.8 L1477.7 598.9 L1477.6 603.9 L1477.6 609 L1477.6 614 L1477.6 619.1 L1477.7 624.1 L1478 629.2 L1478.3 634.2 L1478.7 639.3 L1479.3 644.3 L1479.9 649.4 L1480.5 654.4 L1480.9 659.5 L1481.2 664.6 L1481.2 669.6 L1481 674.7 L1480.6 679.7 L1480.2 684.8 L1479.9 689.8 L1479.6 694.9 L1479.4 699.9 L1479.4 705 L1479.3 710 L1479.3 715.1 L1479.3 720.1 L1479.3 725.2 L1479.5 730.2 L1479.9 735.3 L1480.4 740.3 L1481.3 745.4 L1482.4 750.4 L1483.7 755.5 L1485.3 760.5 L1487.1 765.6 L1488.9 770.6 L1490.6 775.7 L1492.1 780.7 L1493.1 785.8 L1493.5 790.8 L1493.1 795.9 L1491.9 800.9 L1490 806 Z" stroke="#333" fill="#f4968b" stroke-width="1"/>
<circle cx="1477.5" cy="568.6" r="6" fill="#e02226" stroke="#1c1c1c" stroke-width="1"/>
<circle cx="1487.5" cy="656" r="6" fill="#e02226" stroke="#1c1c1c" stroke-width="1"/>
<circle cx="1467.5" cy="666.6" r="6" fill="#e02226" stroke="#1c1c1c" stroke-width="1"/>
<circle cx="1477.5" cy="679" r="6" fill="#e02226" stroke="#1c1c1c" stroke-width="1"/>
<circle cx="1477.5" cy="711.8" r="6" fill="#e02226" stroke="#1c1c1c" stroke-width="1"/>
<circle cx="1477.5" cy="745.7" r="6" fill="#e02226" stroke="#1c1c1c" stroke-width="1"/>
<circle cx="1477.5" cy="762.7" r="6" fill="#e02226" stroke="#1c1c1c" stroke-width="1"/>
<circle cx="1487.5" cy="768.3" r="6" fill="#e02226" stroke="#1c1c1c" stroke-width="1"/>
<circle cx="1467.5" cy="772.1" r="6" fill="#e02226" stroke="#1c1c1c" stroke-width="1"/>
<circle cx="1477.5" cy="777.7" r="6" fill="#e02226" stroke="#1c1c1c" stroke-width="1"/>
<circle cx="1487.5" cy="781.5" r="6" fill="#e02226" stroke="#1c1c1c" stroke-width="1"/>
<circle cx="1467.5" cy="783.4" r="6" fill="#e02226" stroke="#1c1c1c" stroke-width="1"/>
<circle cx="1477.5" cy="787.2" r="6" fill="#e02226" stroke="#1c1c1c" stroke-width="1"/>
<circle cx="1487.5" cy="790.9" r="6" fill="#e02226" stroke="#1c1c1c" stroke-width="1"/>
<circle cx="1477.5" cy="792.8" r="6" fill="#e02226" stroke="#1c1c1c" stroke-width="1"/>
<circle cx="1487.5" cy="796.6" r="6" fill="#e02226" stroke="#1c1c1c" stroke-width="1"/>
<circle cx="1467.5" cy="800.3" r="6" fill="#e02226" stroke="#1c1c1c" stroke-width="1"/>
<circle cx="1477.5" cy="802.2" r="6" fill="#e02226" stroke="#1c1c1c" stroke-width="1"/>
<circle cx="1487.5" cy="804.1" r="6" fill="#e02226" stroke="#1c1c1c" stroke-width="1"/>
<circle cx="1467.5" cy="805.2" r="6" fill="#e02226" stroke="#1c1c1c" stroke-width="1"/>
<circle cx="1477.5" cy="806" r="6" fill="#e02226" stroke="#1c1c1c" stroke-width="1"/>
<line x1="1465.3" y1="781.5" x2="1489.7" y2="781.5" stroke="#2a2a2a" stroke-width="1.1" stroke-dasharray="4 2.5"/>
<line x1="1465.3" y1="796.6" x2="1489.7" y2="796.6" stroke="#444" stroke-width="1.1" stroke-dasharray="1.2 2"/>
<line x1="1465.3" y1="745.7" x2="1489.7" y2="745.7" stroke="#444" stroke-width="1.1" stroke-dasharray="1.2 2"/>
<text font-size="26.5" text-anchor="end" font-style="italic" transform="translate(1490 833) rotate(-45) scale(1.030 1)">C. tropicalis</text>
<path d="M1502.8 806 L1501.3 801.8 L1500.4 797.5 L1500.4 793.3 L1501.1 789 L1502.5 784.8 L1504.3 780.5 L1506.2 776.3 L1508.2 772 L1510 767.8 L1511.4 763.5 L1512.4 759.3 L1513.1 755 L1513.4 750.8 L1513.4 746.5 L1513.3 742.3 L1513.1 738 L1512.9 733.8 L1512.7 729.5 L1512.7 725.3 L1512.8 721 L1513 716.8 L1513.2 712.5 L1513.4 708.3 L1513.5 704 L1513.5 699.8 L1513.4 695.5 L1513.3 691.3 L1513.3 687 L1513.3 682.8 L1513.5 678.5 L1513.7 674.3 L1513.9 670 L1514.1 665.8 L1514.2 661.5 L1514.4 657.3 L1514.6 653 L1514.8 648.8 L1515.1 644.5 L1515.3 640.3 L1515.5 636 L1515.6 631.8 L1515.6 627.5 L1515.5 623.3 L1515.3 619 L1515.1 614.8 L1514.9 610.5 L1514.9 606.3 L1517.9 606.3 L1517.9 610.5 L1517.7 614.8 L1517.5 619 L1517.3 623.3 L1517.2 627.5 L1517.2 631.8 L1517.3 636 L1517.5 640.3 L1517.7 644.5 L1518 648.8 L1518.2 653 L1518.4 657.3 L1518.6 661.5 L1518.7 665.8 L1518.9 670 L1519.1 674.3 L1519.3 678.5 L1519.5 682.8 L1519.5 687 L1519.5 691.3 L1519.4 695.5 L1519.3 699.8 L1519.3 704 L1519.4 708.3 L1519.6 712.5 L1519.8 716.8 L1520 721 L1520.1 725.3 L1520.1 729.5 L1519.9 733.8 L1519.7 738 L1519.5 742.3 L1519.4 746.5 L1519.4 750.8 L1519.7 755 L1520.4 759.3 L1521.4 763.5 L1522.8 767.8 L1524.6 772 L1526.6 776.3 L1528.5 780.5 L1530.3 784.8 L1531.7 789 L1532.4 793.3 L1532.4 797.5 L1531.5 801.8 L1530 806 Z" stroke="#333" fill="#f4968b" stroke-width="1"/>
<circle cx="1516.4" cy="606.3" r="6" fill="#e02226" stroke="#1c1c1c" stroke-width="1"/>
<circle cx="1516.4" cy="655.2" r="6" fill="#e02226" stroke="#1c1c1c" stroke-width="1"/>
<circle cx="1526.4" cy="681.6" r="6" fill="#e02226" stroke="#1c1c1c" stroke-width="1"/>
<circle cx="1506.4" cy="692.9" r="6" fill="#e02226" stroke="#1c1c1c" stroke-width="1"/>
<circle cx="1526.4" cy="723.1" r="6" fill="#e02226" stroke="#1c1c1c" stroke-width="1"/>
<circle cx="1506.4" cy="725" r="6" fill="#e02226" stroke="#1c1c1c" stroke-width="1"/>
<circle cx="1516.4" cy="747.6" r="6" fill="#e02226" stroke="#1c1c1c" stroke-width="1"/>
<circle cx="1516.4" cy="777.7" r="6" fill="#e02226" stroke="#1c1c1c" stroke-width="1"/>
<circle cx="1526.4" cy="779.6" r="6" fill="#e02226" stroke="#1c1c1c" stroke-width="1"/>
<circle cx="1506.4" cy="781.5" r="6" fill="#e02226" stroke="#1c1c1c" stroke-width="1"/>
<circle cx="1516.4" cy="783.4" r="6" fill="#e02226" stroke="#1c1c1c" stroke-width="1"/>
<circle cx="1526.4" cy="790.9" r="6" fill="#e02226" stroke="#1c1c1c" stroke-width="1"/>
<circle cx="1516.4" cy="792.8" r="6" fill="#e02226" stroke="#1c1c1c" stroke-width="1"/>
<circle cx="1526.4" cy="796.6" r="6" fill="#e02226" stroke="#1c1c1c" stroke-width="1"/>
<circle cx="1506.4" cy="800.3" r="6" fill="#e02226" stroke="#1c1c1c" stroke-width="1"/>
<circle cx="1516.4" cy="801.5" r="6" fill="#e02226" stroke="#1c1c1c" stroke-width="1"/>
<circle cx="1526.4" cy="803" r="6" fill="#e02226" stroke="#1c1c1c" stroke-width="1"/>
<circle cx="1506.4" cy="804.1" r="6" fill="#e02226" stroke="#1c1c1c" stroke-width="1"/>
<circle cx="1516.4" cy="805.2" r="6" fill="#e02226" stroke="#1c1c1c" stroke-width="1"/>
<circle cx="1526.4" cy="806" r="6" fill="#e02226" stroke="#1c1c1c" stroke-width="1"/>
<line x1="1504.2" y1="782.4" x2="1528.6" y2="782.4" stroke="#2a2a2a" stroke-width="1.1" stroke-dasharray="4 2.5"/>
<line x1="1504.2" y1="800.6" x2="1528.6" y2="800.6" stroke="#444" stroke-width="1.1" stroke-dasharray="1.2 2"/>
<line x1="1504.2" y1="724.5" x2="1528.6" y2="724.5" stroke="#444" stroke-width="1.1" stroke-dasharray="1.2 2"/>
<text font-size="26.5" text-anchor="end" font-style="italic" transform="translate(1528.9 833) rotate(-45) scale(1.030 1)">S. cerevisiae</text>
<path d="M1567.9 805.2 L1567.1 804.8 L1566.4 804.3 L1565.9 803.9 L1565.6 803.4 L1565.5 802.9 L1565.6 802.5 L1565.8 802 L1566.1 801.5 L1566.5 801.1 L1567 800.6 L1567.6 800.1 L1568.2 799.7 L1568.8 799.2 L1569.4 798.7 L1570.1 798.3 L1570.7 797.8 L1571.3 797.3 L1571.9 796.9 L1572.5 796.4 L1572.9 795.9 L1573.3 795.5 L1573.7 795 L1573.9 794.5 L1574.1 794.1 L1574.3 793.6 L1574.4 793.2 L1574.4 792.7 L1574.5 792.2 L1574.5 791.8 L1574.5 791.3 L1574.5 790.8 L1574.5 790.4 L1574.5 789.9 L1574.4 789.4 L1574.4 789 L1574.3 788.5 L1574.2 788 L1574.1 787.6 L1573.9 787.1 L1573.7 786.6 L1573.5 786.2 L1573.2 785.7 L1572.9 785.2 L1572.7 784.8 L1572.5 784.3 L1572.3 783.9 L1572.3 783.4 L1576.7 783.4 L1576.7 783.9 L1576.5 784.3 L1576.3 784.8 L1576.1 785.2 L1575.8 785.7 L1575.5 786.2 L1575.3 786.6 L1575.1 787.1 L1574.9 787.6 L1574.8 788 L1574.7 788.5 L1574.6 789 L1574.6 789.4 L1574.5 789.9 L1574.5 790.4 L1574.5 790.8 L1574.5 791.3 L1574.5 791.8 L1574.5 792.2 L1574.6 792.7 L1574.6 793.2 L1574.7 793.6 L1574.9 794.1 L1575.1 794.5 L1575.3 795 L1575.7 795.5 L1576.1 795.9 L1576.5 796.4 L1577.1 796.9 L1577.7 797.3 L1578.3 797.8 L1578.9 798.3 L1579.6 798.7 L1580.2 799.2 L1580.8 799.7 L1581.4 800.1 L1582 800.6 L1582.5 801.1 L1582.9 801.5 L1583.2 802 L1583.4 802.5 L1583.5 802.9 L1583.4 803.4 L1583.1 803.9 L1582.6 804.3 L1581.9 804.8 L1581.1 805.2 Z" stroke="#333" fill="#ffffff" stroke-width="1"/>
<circle cx="1574.5" cy="783.4" r="6" fill="#c9cacc" stroke="#1c1c1c" stroke-width="1"/>
<circle cx="1574.5" cy="798.5" r="6" fill="#c9cacc" stroke="#1c1c1c" stroke-width="1"/>
<circle cx="1584.5" cy="800.3" r="6" fill="#c9cacc" stroke="#1c1c1c" stroke-width="1"/>
<circle cx="1564.5" cy="802.2" r="6" fill="#c9cacc" stroke="#1c1c1c" stroke-width="1"/>
<circle cx="1574.5" cy="803" r="6" fill="#c9cacc" stroke="#1c1c1c" stroke-width="1"/>
<circle cx="1584.5" cy="804.1" r="6" fill="#c9cacc" stroke="#1c1c1c" stroke-width="1"/>
<circle cx="1564.5" cy="805.2" r="6" fill="#c9cacc" stroke="#1c1c1c" stroke-width="1"/>
<line x1="1562.3" y1="802.2" x2="1586.7" y2="802.2" stroke="#3a3a3a" stroke-width="1.1" stroke-dasharray="4 2.5"/>
<line x1="1562.3" y1="803.6" x2="1586.7" y2="803.6" stroke="#555" stroke-width="1.1" stroke-dasharray="1.2 2"/>
<line x1="1562.3" y1="799.4" x2="1586.7" y2="799.4" stroke="#555" stroke-width="1.1" stroke-dasharray="1.2 2"/>
<text font-size="26.5" text-anchor="end" font-style="italic" transform="translate(1587 833) rotate(-45) scale(1.030 1)">C. albicans</text>
<path d="M1606.2 805.2 L1605.6 804.8 L1605 804.3 L1604.7 803.9 L1604.5 803.4 L1604.5 802.9 L1604.6 802.5 L1604.9 802 L1605.2 801.5 L1605.6 801.1 L1606.1 800.6 L1606.5 800.1 L1606.8 799.7 L1607.1 799.2 L1607.3 798.7 L1607.4 798.3 L1607.4 797.8 L1607.4 797.3 L1607.3 796.9 L1607.2 796.4 L1607.2 795.9 L1607.2 795.5 L1607.3 795 L1607.4 794.5 L1607.7 794.1 L1607.9 793.6 L1608.2 793.2 L1608.4 792.7 L1608.7 792.2 L1608.9 791.8 L1609.2 791.3 L1609.4 790.8 L1609.7 790.4 L1609.9 789.9 L1610.1 789.4 L1610.2 789 L1610.3 788.5 L1610.2 788 L1610 787.6 L1609.7 787.1 L1609.3 786.6 L1608.9 786.2 L1608.5 785.7 L1608.2 785.2 L1608 784.8 L1607.9 784.3 L1608 783.9 L1608.3 783.4 L1618.7 783.4 L1619 783.9 L1619.1 784.3 L1619 784.8 L1618.8 785.2 L1618.5 785.7 L1618.1 786.2 L1617.7 786.6 L1617.3 787.1 L1617 787.6 L1616.8 788 L1616.7 788.5 L1616.8 789 L1616.9 789.4 L1617.1 789.9 L1617.3 790.4 L1617.6 790.8 L1617.8 791.3 L1618.1 791.8 L1618.3 792.2 L1618.6 792.7 L1618.8 793.2 L1619.1 793.6 L1619.3 794.1 L1619.6 794.5 L1619.7 795 L1619.8 795.5 L1619.8 795.9 L1619.8 796.4 L1619.7 796.9 L1619.6 797.3 L1619.6 797.8 L1619.6 798.3 L1619.7 798.7 L1619.9 799.2 L1620.2 799.7 L1620.5 800.1 L1620.9 800.6 L1621.4 801.1 L1621.8 801.5 L1622.1 802 L1622.4 802.5 L1622.5 802.9 L1622.5 803.4 L1622.3 803.9 L1622 804.3 L1621.4 804.8 L1620.8 805.2 Z" stroke="#333" fill="#ffffff" stroke-width="1"/>
<circle cx="1613.5" cy="783.4" r="6" fill="#c9cacc" stroke="#1c1c1c" stroke-width="1"/>
<circle cx="1623.5" cy="785.3" r="6" fill="#c9cacc" stroke="#1c1c1c" stroke-width="1"/>
<circle cx="1603.5" cy="790.9" r="6" fill="#c9cacc" stroke="#1c1c1c" stroke-width="1"/>
<circle cx="1613.5" cy="794.7" r="6" fill="#c9cacc" stroke="#1c1c1c" stroke-width="1"/>
<circle cx="1623.5" cy="796.6" r="6" fill="#c9cacc" stroke="#1c1c1c" stroke-width="1"/>
<circle cx="1613.5" cy="800.3" r="6" fill="#c9cacc" stroke="#1c1c1c" stroke-width="1"/>
<circle cx="1623.5" cy="802.2" r="6" fill="#c9cacc" stroke="#1c1c1c" stroke-width="1"/>
<circle cx="1603.5" cy="804.1" r="6" fill="#c9cacc" stroke="#1c1c1c" stroke-width="1"/>
<circle cx="1613.5" cy="805.2" r="6" fill="#c9cacc" stroke="#1c1c1c" stroke-width="1"/>
<line x1="1601.3" y1="796.6" x2="1625.7" y2="796.6" stroke="#3a3a3a" stroke-width="1.1" stroke-dasharray="4 2.5"/>
<line x1="1601.3" y1="802.2" x2="1625.7" y2="802.2" stroke="#555" stroke-width="1.1" stroke-dasharray="1.2 2"/>
<line x1="1601.3" y1="790.9" x2="1625.7" y2="790.9" stroke="#555" stroke-width="1.1" stroke-dasharray="1.2 2"/>
<text font-size="26.5" text-anchor="end" font-style="italic" transform="translate(1626 833) rotate(-45) scale(1.030 1)">C. tropicalis</text>
<path d="M1644.5 806 L1643.8 804.7 L1643.4 803.4 L1643.3 802.2 L1643.5 800.9 L1643.9 799.6 L1644.5 798.3 L1645.2 797 L1646.1 795.7 L1646.9 794.5 L1647.8 793.2 L1648.6 791.9 L1649.3 790.6 L1649.9 789.3 L1650.5 788 L1650.9 786.8 L1651.3 785.5 L1651.6 784.2 L1651.8 782.9 L1652 781.6 L1652.1 780.3 L1652.2 779.1 L1652.2 777.8 L1652.3 776.5 L1652.3 775.2 L1652.3 773.9 L1652.3 772.6 L1652.3 771.4 L1652.3 770.1 L1652.3 768.8 L1652.3 767.5 L1652.3 766.2 L1652.3 764.9 L1652.3 763.7 L1652.3 762.4 L1652.2 761.1 L1652.2 759.8 L1652.1 758.5 L1652.1 757.2 L1651.9 756 L1651.8 754.7 L1651.6 753.4 L1651.4 752.1 L1651.2 750.8 L1651 749.5 L1650.9 748.3 L1650.8 747 L1650.7 745.7 L1653.9 745.7 L1653.8 747 L1653.7 748.3 L1653.6 749.5 L1653.4 750.8 L1653.2 752.1 L1653 753.4 L1652.8 754.7 L1652.7 756 L1652.5 757.2 L1652.5 758.5 L1652.4 759.8 L1652.4 761.1 L1652.3 762.4 L1652.3 763.7 L1652.3 764.9 L1652.3 766.2 L1652.3 767.5 L1652.3 768.8 L1652.3 770.1 L1652.3 771.4 L1652.3 772.6 L1652.3 773.9 L1652.3 775.2 L1652.3 776.5 L1652.4 777.8 L1652.4 779.1 L1652.5 780.3 L1652.6 781.6 L1652.8 782.9 L1653 784.2 L1653.3 785.5 L1653.7 786.8 L1654.1 788 L1654.7 789.3 L1655.3 790.6 L1656 791.9 L1656.8 793.2 L1657.7 794.5 L1658.5 795.7 L1659.4 797 L1660.1 798.3 L1660.7 799.6 L1661.1 800.9 L1661.3 802.2 L1661.2 803.4 L1660.8 804.7 L1660.1 806 Z" stroke="#333" fill="#ffffff" stroke-width="1"/>
<circle cx="1652.3" cy="745.7" r="6" fill="#c9cacc" stroke="#1c1c1c" stroke-width="1"/>
<circle cx="1652.3" cy="792.8" r="6" fill="#c9cacc" stroke="#1c1c1c" stroke-width="1"/>
<circle cx="1662.3" cy="798.5" r="6" fill="#c9cacc" stroke="#1c1c1c" stroke-width="1"/>
<circle cx="1642.3" cy="800.3" r="6" fill="#c9cacc" stroke="#1c1c1c" stroke-width="1"/>
<circle cx="1652.3" cy="802.2" r="6" fill="#c9cacc" stroke="#1c1c1c" stroke-width="1"/>
<circle cx="1662.3" cy="804.1" r="6" fill="#c9cacc" stroke="#1c1c1c" stroke-width="1"/>
<circle cx="1642.3" cy="805.2" r="6" fill="#c9cacc" stroke="#1c1c1c" stroke-width="1"/>
<circle cx="1652.3" cy="806" r="6" fill="#c9cacc" stroke="#1c1c1c" stroke-width="1"/>
<line x1="1640.1" y1="801.3" x2="1664.5" y2="801.3" stroke="#3a3a3a" stroke-width="1.1" stroke-dasharray="4 2.5"/>
<line x1="1640.1" y1="804.4" x2="1664.5" y2="804.4" stroke="#555" stroke-width="1.1" stroke-dasharray="1.2 2"/>
<line x1="1640.1" y1="797" x2="1664.5" y2="797" stroke="#555" stroke-width="1.1" stroke-dasharray="1.2 2"/>
<text font-size="26.5" text-anchor="end" font-style="italic" transform="translate(1664.8 833) rotate(-45) scale(1.030 1)">S. cerevisiae</text>
<line x1="1753.7" y1="504.5" x2="1753.7" y2="806.4" stroke="#4a4a4a" stroke-width="1.2"/>
<path d="M1745.2 806.4h8.5 M1745.2 705.8h8.5 M1745.2 605.1h8.5 M1745.2 504.5h8.5" stroke="#4a4a4a" fill="none" stroke-width="1.2"/>
<text font-size="23.5" text-anchor="end" transform="translate(1733.2 814.7) scale(1.100 1)">0</text>
<text font-size="23.5" text-anchor="end" transform="translate(1733.2 714.1) scale(1.100 1)">10</text>
<text font-size="23.5" text-anchor="end" transform="translate(1733.2 613.4) scale(1.100 1)">20</text>
<text font-size="23.5" text-anchor="end" transform="translate(1733.2 512.8) scale(1.100 1)">30</text>
<line x1="1753.7" y1="806.4" x2="2165" y2="806.4" stroke="#4a4a4a" stroke-width="1.2"/>
<text font-size="26" text-anchor="middle" transform="translate(1961.5 468) scale(1.070 1)">CCL4</text>
<text font-size="26" text-anchor="middle" transform="translate(1823.6 513.4) scale(1.070 1)">HD</text>
<text font-size="26" text-anchor="middle" transform="translate(1965.1 513.4) scale(1.070 1)">CD</text>
<text font-size="26" text-anchor="middle" transform="translate(2104 513.4) scale(1.070 1)">UC</text>
<path d="M1778.8 806.4 L1778.1 805.8 L1777.6 805.1 L1777.2 804.5 L1777 803.8 L1777 803.2 L1777.1 802.5 L1777.3 801.9 L1777.5 801.3 L1777.8 800.6 L1778.1 800 L1778.4 799.3 L1778.7 798.7 L1779.1 798 L1779.6 797.4 L1780.1 796.8 L1780.7 796.1 L1781.4 795.5 L1782.1 794.8 L1782.7 794.2 L1783.3 793.6 L1783.8 792.9 L1784.2 792.3 L1784.4 791.6 L1784.5 791 L1784.5 790.3 L1784.3 789.7 L1784.1 789.1 L1783.9 788.4 L1783.7 787.8 L1783.5 787.1 L1783.5 786.5 L1783.5 785.8 L1783.6 785.2 L1783.8 784.6 L1784 783.9 L1784.2 783.3 L1784.5 782.6 L1784.6 782 L1784.7 781.3 L1784.6 780.7 L1784.5 780.1 L1784.3 779.4 L1784.1 778.8 L1783.8 778.1 L1783.6 777.5 L1783.5 776.9 L1783.5 776.2 L1788.5 776.2 L1788.5 776.9 L1788.4 777.5 L1788.2 778.1 L1787.9 778.8 L1787.7 779.4 L1787.5 780.1 L1787.4 780.7 L1787.3 781.3 L1787.4 782 L1787.5 782.6 L1787.8 783.3 L1788 783.9 L1788.2 784.6 L1788.4 785.2 L1788.5 785.8 L1788.5 786.5 L1788.5 787.1 L1788.3 787.8 L1788.1 788.4 L1787.9 789.1 L1787.7 789.7 L1787.5 790.3 L1787.5 791 L1787.6 791.6 L1787.8 792.3 L1788.2 792.9 L1788.7 793.6 L1789.3 794.2 L1789.9 794.8 L1790.6 795.5 L1791.3 796.1 L1791.9 796.8 L1792.4 797.4 L1792.9 798 L1793.3 798.7 L1793.6 799.3 L1793.9 800 L1794.2 800.6 L1794.5 801.3 L1794.7 801.9 L1794.9 802.5 L1795 803.2 L1795 803.8 L1794.8 804.5 L1794.4 805.1 L1793.9 805.8 L1793.2 806.4 Z" stroke="#333" fill="#8a8a8a" stroke-width="1"/>
<circle cx="1796" cy="776.2" r="6" fill="#4a4a4c" stroke="#1c1c1c" stroke-width="1"/>
<circle cx="1776" cy="786.3" r="6" fill="#4a4a4c" stroke="#1c1c1c" stroke-width="1"/>
<circle cx="1786" cy="796.3" r="6" fill="#4a4a4c" stroke="#1c1c1c" stroke-width="1"/>
<circle cx="1796" cy="798.3" r="6" fill="#4a4a4c" stroke="#1c1c1c" stroke-width="1"/>
<circle cx="1776" cy="801.4" r="6" fill="#4a4a4c" stroke="#1c1c1c" stroke-width="1"/>
<circle cx="1786" cy="803.4" r="6" fill="#4a4a4c" stroke="#1c1c1c" stroke-width="1"/>
<circle cx="1796" cy="805.4" r="6" fill="#4a4a4c" stroke="#1c1c1c" stroke-width="1"/>
<circle cx="1776" cy="806.4" r="6" fill="#4a4a4c" stroke="#1c1c1c" stroke-width="1"/>
<line x1="1773.8" y1="799.9" x2="1798.2" y2="799.9" stroke="#d8d8d8" stroke-width="1.1" stroke-dasharray="4 2.5"/>
<line x1="1773.8" y1="803.9" x2="1798.2" y2="803.9" stroke="#bbbbbb" stroke-width="1.1" stroke-dasharray="1.2 2"/>
<line x1="1773.8" y1="793.8" x2="1798.2" y2="793.8" stroke="#bbbbbb" stroke-width="1.1" stroke-dasharray="1.2 2"/>
<text font-size="26.5" text-anchor="end" font-style="italic" transform="translate(1798.5 833.4) rotate(-45) scale(1.030 1)">C. albicans</text>
<path d="M1816.6 806.4 L1816 805.8 L1815.6 805.1 L1815.4 804.5 L1815.4 803.8 L1815.5 803.2 L1815.8 802.5 L1816.2 801.9 L1816.6 801.3 L1817.1 800.6 L1817.7 800 L1818.2 799.3 L1818.7 798.7 L1819.2 798 L1819.7 797.4 L1820.1 796.8 L1820.5 796.1 L1820.8 795.5 L1821 794.8 L1821.1 794.2 L1821.2 793.6 L1821.3 792.9 L1821.3 792.3 L1821.3 791.6 L1821.3 791 L1821.3 790.3 L1821.4 789.7 L1821.4 789.1 L1821.4 788.4 L1821.3 787.8 L1821.2 787.1 L1821.1 786.5 L1820.9 785.8 L1820.6 785.2 L1820.3 784.6 L1819.9 783.9 L1819.5 783.3 L1819.1 782.6 L1818.7 782 L1818.2 781.3 L1817.8 780.7 L1817.5 780.1 L1817.2 779.4 L1817.1 778.8 L1817.1 778.1 L1817.3 777.5 L1817.6 776.9 L1818.1 776.2 L1830.7 776.2 L1831.2 776.9 L1831.5 777.5 L1831.7 778.1 L1831.7 778.8 L1831.6 779.4 L1831.3 780.1 L1831 780.7 L1830.6 781.3 L1830.1 782 L1829.7 782.6 L1829.3 783.3 L1828.9 783.9 L1828.5 784.6 L1828.2 785.2 L1827.9 785.8 L1827.7 786.5 L1827.6 787.1 L1827.5 787.8 L1827.4 788.4 L1827.4 789.1 L1827.4 789.7 L1827.5 790.3 L1827.5 791 L1827.5 791.6 L1827.5 792.3 L1827.5 792.9 L1827.6 793.6 L1827.7 794.2 L1827.8 794.8 L1828 795.5 L1828.3 796.1 L1828.7 796.8 L1829.1 797.4 L1829.6 798 L1830.1 798.7 L1830.6 799.3 L1831.1 800 L1831.7 800.6 L1832.2 801.3 L1832.6 801.9 L1833 802.5 L1833.3 803.2 L1833.4 803.8 L1833.4 804.5 L1833.2 805.1 L1832.8 805.8 L1832.2 806.4 Z" stroke="#333" fill="#8a8a8a" stroke-width="1"/>
<circle cx="1824.4" cy="776.2" r="6" fill="#4a4a4c" stroke="#1c1c1c" stroke-width="1"/>
<circle cx="1834.4" cy="778.2" r="6" fill="#4a4a4c" stroke="#1c1c1c" stroke-width="1"/>
<circle cx="1814.4" cy="779.2" r="6" fill="#4a4a4c" stroke="#1c1c1c" stroke-width="1"/>
<circle cx="1824.4" cy="784.3" r="6" fill="#4a4a4c" stroke="#1c1c1c" stroke-width="1"/>
<circle cx="1824.4" cy="791.3" r="6" fill="#4a4a4c" stroke="#1c1c1c" stroke-width="1"/>
<circle cx="1834.4" cy="798.3" r="6" fill="#4a4a4c" stroke="#1c1c1c" stroke-width="1"/>
<circle cx="1814.4" cy="801.4" r="6" fill="#4a4a4c" stroke="#1c1c1c" stroke-width="1"/>
<circle cx="1824.4" cy="804.4" r="6" fill="#4a4a4c" stroke="#1c1c1c" stroke-width="1"/>
<circle cx="1834.4" cy="805.4" r="6" fill="#4a4a4c" stroke="#1c1c1c" stroke-width="1"/>
<circle cx="1814.4" cy="806.4" r="6" fill="#4a4a4c" stroke="#1c1c1c" stroke-width="1"/>
<line x1="1812.2" y1="794.8" x2="1836.6" y2="794.8" stroke="#d8d8d8" stroke-width="1.1" stroke-dasharray="4 2.5"/>
<line x1="1812.2" y1="803.6" x2="1836.6" y2="803.6" stroke="#bbbbbb" stroke-width="1.1" stroke-dasharray="1.2 2"/>
<line x1="1812.2" y1="780.5" x2="1836.6" y2="780.5" stroke="#bbbbbb" stroke-width="1.1" stroke-dasharray="1.2 2"/>
<text font-size="26.5" text-anchor="end" font-style="italic" transform="translate(1836.9 833.4) rotate(-45) scale(1.030 1)">C. tropicalis</text>
<path d="M1855.4 806.4 L1854.9 805.8 L1854.5 805.2 L1854.3 804.6 L1854.3 804 L1854.4 803.4 L1854.7 802.8 L1855.1 802.2 L1855.6 801.6 L1856.2 801 L1856.8 800.4 L1857.4 799.8 L1857.9 799.2 L1858.5 798.6 L1859 798 L1859.5 797.4 L1859.9 796.8 L1860.3 796.2 L1860.6 795.6 L1860.9 795 L1861 794.4 L1861.1 793.8 L1861.2 793.2 L1861.2 792.6 L1861.1 792 L1861 791.4 L1860.9 790.8 L1860.9 790.2 L1860.9 789.6 L1860.9 789 L1860.9 788.4 L1861 787.8 L1861.2 787.2 L1861.3 786.6 L1861.4 786 L1861.5 785.4 L1861.5 784.8 L1861.4 784.2 L1861.3 783.6 L1861 783 L1860.7 782.4 L1860.3 781.8 L1859.9 781.2 L1859.5 780.6 L1859.2 780 L1858.9 779.4 L1858.7 778.8 L1858.6 778.2 L1868 778.2 L1867.9 778.8 L1867.7 779.4 L1867.4 780 L1867.1 780.6 L1866.7 781.2 L1866.3 781.8 L1865.9 782.4 L1865.6 783 L1865.3 783.6 L1865.2 784.2 L1865.1 784.8 L1865.1 785.4 L1865.2 786 L1865.3 786.6 L1865.4 787.2 L1865.6 787.8 L1865.7 788.4 L1865.7 789 L1865.7 789.6 L1865.7 790.2 L1865.7 790.8 L1865.6 791.4 L1865.5 792 L1865.4 792.6 L1865.4 793.2 L1865.5 793.8 L1865.6 794.4 L1865.7 795 L1866 795.6 L1866.3 796.2 L1866.7 796.8 L1867.1 797.4 L1867.6 798 L1868.1 798.6 L1868.7 799.2 L1869.2 799.8 L1869.8 800.4 L1870.4 801 L1871 801.6 L1871.5 802.2 L1871.9 802.8 L1872.2 803.4 L1872.3 804 L1872.3 804.6 L1872.1 805.2 L1871.7 805.8 L1871.2 806.4 Z" stroke="#333" fill="#8a8a8a" stroke-width="1"/>
<circle cx="1863.3" cy="778.2" r="6" fill="#4a4a4c" stroke="#1c1c1c" stroke-width="1"/>
<circle cx="1873.3" cy="778.2" r="6" fill="#4a4a4c" stroke="#1c1c1c" stroke-width="1"/>
<circle cx="1853.3" cy="789.3" r="6" fill="#4a4a4c" stroke="#1c1c1c" stroke-width="1"/>
<circle cx="1863.3" cy="798.3" r="6" fill="#4a4a4c" stroke="#1c1c1c" stroke-width="1"/>
<circle cx="1873.3" cy="802.4" r="6" fill="#4a4a4c" stroke="#1c1c1c" stroke-width="1"/>
<circle cx="1853.3" cy="804.4" r="6" fill="#4a4a4c" stroke="#1c1c1c" stroke-width="1"/>
<circle cx="1863.3" cy="805.4" r="6" fill="#4a4a4c" stroke="#1c1c1c" stroke-width="1"/>
<circle cx="1873.3" cy="806.4" r="6" fill="#4a4a4c" stroke="#1c1c1c" stroke-width="1"/>
<line x1="1851.1" y1="800.4" x2="1875.5" y2="800.4" stroke="#d8d8d8" stroke-width="1.1" stroke-dasharray="4 2.5"/>
<line x1="1851.1" y1="804.6" x2="1875.5" y2="804.6" stroke="#bbbbbb" stroke-width="1.1" stroke-dasharray="1.2 2"/>
<line x1="1851.1" y1="786.5" x2="1875.5" y2="786.5" stroke="#bbbbbb" stroke-width="1.1" stroke-dasharray="1.2 2"/>
<text font-size="26.5" text-anchor="end" font-style="italic" transform="translate(1875.8 833.4) rotate(-45) scale(1.030 1)">S. cerevisiae</text>
<path d="M1909.2 806.4 L1907.8 804.3 L1906.8 802.2 L1906.2 800.2 L1906.1 798.1 L1906.4 796 L1906.9 793.9 L1907.8 791.9 L1908.7 789.8 L1909.9 787.7 L1911.1 785.6 L1912.4 783.6 L1913.6 781.5 L1914.8 779.4 L1915.8 777.3 L1916.6 775.2 L1917.2 773.2 L1917.6 771.1 L1917.9 769 L1918 766.9 L1918 764.9 L1917.9 762.8 L1917.8 760.7 L1917.6 758.6 L1917.3 756.6 L1917 754.5 L1916.8 752.4 L1916.5 750.3 L1916.3 748.2 L1916.3 746.2 L1916.2 744.1 L1916.3 742 L1916.5 739.9 L1916.7 737.9 L1916.9 735.8 L1917.1 733.7 L1917.3 731.6 L1917.5 729.6 L1917.7 727.5 L1917.8 725.4 L1917.9 723.3 L1918 721.2 L1918.1 719.2 L1918.2 717.1 L1918.3 715 L1918.4 712.9 L1918.6 710.9 L1918.9 708.8 L1925.3 708.8 L1925.6 710.9 L1925.8 712.9 L1925.9 715 L1926 717.1 L1926.1 719.2 L1926.2 721.2 L1926.3 723.3 L1926.4 725.4 L1926.5 727.5 L1926.7 729.6 L1926.9 731.6 L1927.1 733.7 L1927.3 735.8 L1927.5 737.9 L1927.7 739.9 L1927.9 742 L1928 744.1 L1927.9 746.2 L1927.9 748.2 L1927.7 750.3 L1927.4 752.4 L1927.2 754.5 L1926.9 756.6 L1926.6 758.6 L1926.4 760.7 L1926.3 762.8 L1926.2 764.9 L1926.2 766.9 L1926.3 769 L1926.6 771.1 L1927 773.2 L1927.6 775.2 L1928.4 777.3 L1929.4 779.4 L1930.6 781.5 L1931.8 783.6 L1933.1 785.6 L1934.3 787.7 L1935.5 789.8 L1936.4 791.9 L1937.3 793.9 L1937.8 796 L1938.1 798.1 L1938 800.2 L1937.4 802.2 L1936.4 804.3 L1935 806.4 Z" stroke="#333" fill="#f4968b" stroke-width="1"/>
<circle cx="1922.1" cy="708.8" r="6" fill="#e02226" stroke="#1c1c1c" stroke-width="1"/>
<circle cx="1932.1" cy="722.9" r="6" fill="#e02226" stroke="#1c1c1c" stroke-width="1"/>
<circle cx="1912.1" cy="736" r="6" fill="#e02226" stroke="#1c1c1c" stroke-width="1"/>
<circle cx="1932.1" cy="745" r="6" fill="#e02226" stroke="#1c1c1c" stroke-width="1"/>
<circle cx="1912.1" cy="753.1" r="6" fill="#e02226" stroke="#1c1c1c" stroke-width="1"/>
<circle cx="1922.1" cy="767.2" r="6" fill="#e02226" stroke="#1c1c1c" stroke-width="1"/>
<circle cx="1922.1" cy="783.3" r="6" fill="#e02226" stroke="#1c1c1c" stroke-width="1"/>
<circle cx="1932.1" cy="786.3" r="6" fill="#e02226" stroke="#1c1c1c" stroke-width="1"/>
<circle cx="1912.1" cy="790.3" r="6" fill="#e02226" stroke="#1c1c1c" stroke-width="1"/>
<circle cx="1922.1" cy="794.3" r="6" fill="#e02226" stroke="#1c1c1c" stroke-width="1"/>
<circle cx="1922.1" cy="798.3" r="6" fill="#e02226" stroke="#1c1c1c" stroke-width="1"/>
<circle cx="1932.1" cy="801.4" r="6" fill="#e02226" stroke="#1c1c1c" stroke-width="1"/>
<circle cx="1912.1" cy="803.4" r="6" fill="#e02226" stroke="#1c1c1c" stroke-width="1"/>
<circle cx="1922.1" cy="805.4" r="6" fill="#e02226" stroke="#1c1c1c" stroke-width="1"/>
<circle cx="1932.1" cy="806.4" r="6" fill="#e02226" stroke="#1c1c1c" stroke-width="1"/>
<line x1="1909.9" y1="786.3" x2="1934.3" y2="786.3" stroke="#2a2a2a" stroke-width="1.1" stroke-dasharray="4 2.5"/>
<line x1="1909.9" y1="799.9" x2="1934.3" y2="799.9" stroke="#444" stroke-width="1.1" stroke-dasharray="1.2 2"/>
<line x1="1909.9" y1="749" x2="1934.3" y2="749" stroke="#444" stroke-width="1.1" stroke-dasharray="1.2 2"/>
<text font-size="26.5" text-anchor="end" font-style="italic" transform="translate(1934.6 833.4) rotate(-45) scale(1.030 1)">C. albicans</text>
<path d="M1948.7 806.4 L1946.6 801 L1945.2 795.7 L1944.7 790.3 L1945.1 785 L1946.2 779.6 L1947.9 774.3 L1949.7 768.9 L1951.4 763.6 L1952.7 758.2 L1953.6 752.9 L1954.3 747.5 L1954.7 742.2 L1955 736.8 L1955.3 731.5 L1955.7 726.1 L1956.2 720.8 L1956.8 715.4 L1957.5 710 L1958.2 704.7 L1958.8 699.3 L1959.2 694 L1959.5 688.6 L1959.5 683.3 L1959.4 677.9 L1959.2 672.6 L1958.9 667.2 L1958.8 661.9 L1958.9 656.5 L1959.1 651.2 L1959.4 645.8 L1959.7 640.5 L1960.1 635.1 L1960.3 629.8 L1960.5 624.4 L1960.6 619.1 L1960.6 613.7 L1960.7 608.3 L1960.6 603 L1960.6 597.6 L1960.5 592.3 L1960.4 586.9 L1960.1 581.6 L1959.8 576.2 L1959.5 570.9 L1959.2 565.5 L1958.9 560.2 L1958.9 554.8 L1962.5 554.8 L1962.5 560.2 L1962.2 565.5 L1961.9 570.9 L1961.6 576.2 L1961.3 581.6 L1961 586.9 L1960.9 592.3 L1960.8 597.6 L1960.8 603 L1960.7 608.3 L1960.8 613.7 L1960.8 619.1 L1960.9 624.4 L1961.1 629.8 L1961.3 635.1 L1961.7 640.5 L1962 645.8 L1962.3 651.2 L1962.5 656.5 L1962.6 661.9 L1962.5 667.2 L1962.2 672.6 L1962 677.9 L1961.9 683.3 L1961.9 688.6 L1962.2 694 L1962.6 699.3 L1963.2 704.7 L1963.9 710 L1964.6 715.4 L1965.2 720.8 L1965.7 726.1 L1966.1 731.5 L1966.4 736.8 L1966.7 742.2 L1967.1 747.5 L1967.8 752.9 L1968.7 758.2 L1970 763.6 L1971.7 768.9 L1973.5 774.3 L1975.2 779.6 L1976.3 785 L1976.7 790.3 L1976.2 795.7 L1974.8 801 L1972.7 806.4 Z" stroke="#333" fill="#f4968b" stroke-width="1"/>
<circle cx="1960.7" cy="554.8" r="6" fill="#e02226" stroke="#1c1c1c" stroke-width="1"/>
<circle cx="1960.7" cy="660.5" r="6" fill="#e02226" stroke="#1c1c1c" stroke-width="1"/>
<circle cx="1970.7" cy="715.8" r="6" fill="#e02226" stroke="#1c1c1c" stroke-width="1"/>
<circle cx="1950.7" cy="727.9" r="6" fill="#e02226" stroke="#1c1c1c" stroke-width="1"/>
<circle cx="1970.7" cy="746" r="6" fill="#e02226" stroke="#1c1c1c" stroke-width="1"/>
<circle cx="1950.7" cy="753.1" r="6" fill="#e02226" stroke="#1c1c1c" stroke-width="1"/>
<circle cx="1960.7" cy="776.2" r="6" fill="#e02226" stroke="#1c1c1c" stroke-width="1"/>
<circle cx="1970.7" cy="780.2" r="6" fill="#e02226" stroke="#1c1c1c" stroke-width="1"/>
<circle cx="1950.7" cy="781.2" r="6" fill="#e02226" stroke="#1c1c1c" stroke-width="1"/>
<circle cx="1960.7" cy="786.3" r="6" fill="#e02226" stroke="#1c1c1c" stroke-width="1"/>
<circle cx="1970.7" cy="788.3" r="6" fill="#e02226" stroke="#1c1c1c" stroke-width="1"/>
<circle cx="1960.7" cy="791.3" r="6" fill="#e02226" stroke="#1c1c1c" stroke-width="1"/>
<circle cx="1970.7" cy="796.3" r="6" fill="#e02226" stroke="#1c1c1c" stroke-width="1"/>
<circle cx="1950.7" cy="801.4" r="6" fill="#e02226" stroke="#1c1c1c" stroke-width="1"/>
<circle cx="1960.7" cy="804.4" r="6" fill="#e02226" stroke="#1c1c1c" stroke-width="1"/>
<circle cx="1960.7" cy="806.4" r="6" fill="#e02226" stroke="#1c1c1c" stroke-width="1"/>
<line x1="1948.5" y1="780.7" x2="1972.9" y2="780.7" stroke="#2a2a2a" stroke-width="1.1" stroke-dasharray="4 2.5"/>
<line x1="1948.5" y1="792.6" x2="1972.9" y2="792.6" stroke="#444" stroke-width="1.1" stroke-dasharray="1.2 2"/>
<line x1="1948.5" y1="741.5" x2="1972.9" y2="741.5" stroke="#444" stroke-width="1.1" stroke-dasharray="1.2 2"/>
<text font-size="26.5" text-anchor="end" font-style="italic" transform="translate(1973.2 833.4) rotate(-45) scale(1.030 1)">C. tropicalis</text>
<path d="M1985.8 806.4 L1984.3 801.7 L1983.6 797 L1983.7 792.3 L1984.6 787.6 L1986.1 782.8 L1988 778.1 L1990.1 773.4 L1992.1 768.7 L1993.9 764 L1995.4 759.3 L1996.4 754.6 L1997 749.9 L1997.1 745.2 L1996.8 740.5 L1996.3 735.7 L1995.6 731 L1994.9 726.3 L1994.5 721.6 L1994.4 716.9 L1994.7 712.2 L1995.3 707.5 L1996.1 702.8 L1996.9 698.1 L1997.5 693.3 L1998 688.6 L1998.2 683.9 L1998.3 679.2 L1998.2 674.5 L1998 669.8 L1997.9 665.1 L1997.8 660.4 L1997.9 655.7 L1998.1 651 L1998.4 646.2 L1998.7 641.5 L1998.9 636.8 L1999.1 632.1 L1999.3 627.4 L1999.3 622.7 L1999.3 618 L1999.1 613.3 L1998.9 608.6 L1998.7 603.8 L1998.4 599.1 L1998.1 594.4 L1997.9 589.7 L1997.8 585 L2001.4 585 L2001.3 589.7 L2001.1 594.4 L2000.8 599.1 L2000.5 603.8 L2000.3 608.6 L2000.1 613.3 L1999.9 618 L1999.9 622.7 L1999.9 627.4 L2000.1 632.1 L2000.3 636.8 L2000.5 641.5 L2000.8 646.2 L2001.1 651 L2001.3 655.7 L2001.4 660.4 L2001.3 665.1 L2001.2 669.8 L2001 674.5 L2000.9 679.2 L2001 683.9 L2001.2 688.6 L2001.7 693.3 L2002.3 698.1 L2003.1 702.8 L2003.9 707.5 L2004.5 712.2 L2004.8 716.9 L2004.7 721.6 L2004.3 726.3 L2003.6 731 L2002.9 735.7 L2002.4 740.5 L2002.1 745.2 L2002.2 749.9 L2002.8 754.6 L2003.8 759.3 L2005.3 764 L2007.1 768.7 L2009.1 773.4 L2011.2 778.1 L2013.1 782.8 L2014.6 787.6 L2015.5 792.3 L2015.6 797 L2014.9 801.7 L2013.4 806.4 Z" stroke="#333" fill="#f4968b" stroke-width="1"/>
<circle cx="1999.6" cy="585" r="6" fill="#e02226" stroke="#1c1c1c" stroke-width="1"/>
<circle cx="1999.6" cy="660.5" r="6" fill="#e02226" stroke="#1c1c1c" stroke-width="1"/>
<circle cx="1999.6" cy="712.8" r="6" fill="#e02226" stroke="#1c1c1c" stroke-width="1"/>
<circle cx="2009.6" cy="720.9" r="6" fill="#e02226" stroke="#1c1c1c" stroke-width="1"/>
<circle cx="1989.6" cy="720.9" r="6" fill="#e02226" stroke="#1c1c1c" stroke-width="1"/>
<circle cx="1999.6" cy="775.2" r="6" fill="#e02226" stroke="#1c1c1c" stroke-width="1"/>
<circle cx="2009.6" cy="776.2" r="6" fill="#e02226" stroke="#1c1c1c" stroke-width="1"/>
<circle cx="1989.6" cy="780.2" r="6" fill="#e02226" stroke="#1c1c1c" stroke-width="1"/>
<circle cx="1999.6" cy="791.3" r="6" fill="#e02226" stroke="#1c1c1c" stroke-width="1"/>
<circle cx="2009.6" cy="794.3" r="6" fill="#e02226" stroke="#1c1c1c" stroke-width="1"/>
<circle cx="1989.6" cy="796.3" r="6" fill="#e02226" stroke="#1c1c1c" stroke-width="1"/>
<circle cx="1999.6" cy="799.4" r="6" fill="#e02226" stroke="#1c1c1c" stroke-width="1"/>
<circle cx="2009.6" cy="801.4" r="6" fill="#e02226" stroke="#1c1c1c" stroke-width="1"/>
<circle cx="1989.6" cy="803.4" r="6" fill="#e02226" stroke="#1c1c1c" stroke-width="1"/>
<circle cx="2009.6" cy="805.4" r="6" fill="#e02226" stroke="#1c1c1c" stroke-width="1"/>
<circle cx="1989.6" cy="806.4" r="6" fill="#e02226" stroke="#1c1c1c" stroke-width="1"/>
<line x1="1987.4" y1="785.8" x2="2011.8" y2="785.8" stroke="#2a2a2a" stroke-width="1.1" stroke-dasharray="4 2.5"/>
<line x1="1987.4" y1="799.9" x2="2011.8" y2="799.9" stroke="#444" stroke-width="1.1" stroke-dasharray="1.2 2"/>
<line x1="1987.4" y1="720.9" x2="2011.8" y2="720.9" stroke="#444" stroke-width="1.1" stroke-dasharray="1.2 2"/>
<text font-size="26.5" text-anchor="end" font-style="italic" transform="translate(2012.1 833.4) rotate(-45) scale(1.030 1)">S. cerevisiae</text>
<path d="M2050.7 806.4 L2050 805.7 L2049.4 804.9 L2049 804.2 L2048.8 803.5 L2048.7 802.8 L2048.7 802 L2048.8 801.3 L2049 800.6 L2049.3 799.8 L2049.5 799.1 L2049.8 798.4 L2050.1 797.7 L2050.4 796.9 L2050.7 796.2 L2051 795.5 L2051.3 794.8 L2051.5 794 L2051.8 793.3 L2052 792.6 L2052.3 791.8 L2052.6 791.1 L2052.9 790.4 L2053.2 789.7 L2053.6 788.9 L2054 788.2 L2054.5 787.5 L2055 786.7 L2055.5 786 L2056 785.3 L2056.4 784.6 L2056.7 783.8 L2057 783.1 L2057.2 782.4 L2057.3 781.6 L2057.4 780.9 L2057.4 780.2 L2057.3 779.5 L2057.1 778.7 L2056.9 778 L2056.6 777.3 L2056.3 776.6 L2055.9 775.8 L2055.5 775.1 L2055.2 774.4 L2054.9 773.6 L2054.7 772.9 L2054.6 772.2 L2060.8 772.2 L2060.7 772.9 L2060.5 773.6 L2060.2 774.4 L2059.9 775.1 L2059.5 775.8 L2059.1 776.6 L2058.8 777.3 L2058.5 778 L2058.3 778.7 L2058.1 779.5 L2058 780.2 L2058 780.9 L2058.1 781.6 L2058.2 782.4 L2058.4 783.1 L2058.7 783.8 L2059 784.6 L2059.4 785.3 L2059.9 786 L2060.4 786.7 L2060.9 787.5 L2061.4 788.2 L2061.8 788.9 L2062.2 789.7 L2062.5 790.4 L2062.8 791.1 L2063.1 791.8 L2063.4 792.6 L2063.6 793.3 L2063.9 794 L2064.1 794.8 L2064.4 795.5 L2064.7 796.2 L2065 796.9 L2065.3 797.7 L2065.6 798.4 L2065.9 799.1 L2066.1 799.8 L2066.4 800.6 L2066.6 801.3 L2066.7 802 L2066.7 802.8 L2066.6 803.5 L2066.4 804.2 L2066 804.9 L2065.4 805.7 L2064.7 806.4 Z" stroke="#333" fill="#ffffff" stroke-width="1"/>
<circle cx="2057.7" cy="772.2" r="6" fill="#c9cacc" stroke="#1c1c1c" stroke-width="1"/>
<circle cx="2057.7" cy="789.3" r="6" fill="#c9cacc" stroke="#1c1c1c" stroke-width="1"/>
<circle cx="2067.7" cy="794.3" r="6" fill="#c9cacc" stroke="#1c1c1c" stroke-width="1"/>
<circle cx="2047.7" cy="798.3" r="6" fill="#c9cacc" stroke="#1c1c1c" stroke-width="1"/>
<circle cx="2057.7" cy="801.4" r="6" fill="#c9cacc" stroke="#1c1c1c" stroke-width="1"/>
<circle cx="2067.7" cy="804.4" r="6" fill="#c9cacc" stroke="#1c1c1c" stroke-width="1"/>
<circle cx="2047.7" cy="806.4" r="6" fill="#c9cacc" stroke="#1c1c1c" stroke-width="1"/>
<line x1="2045.5" y1="798.3" x2="2069.9" y2="798.3" stroke="#3a3a3a" stroke-width="1.1" stroke-dasharray="4 2.5"/>
<line x1="2045.5" y1="802.9" x2="2069.9" y2="802.9" stroke="#555" stroke-width="1.1" stroke-dasharray="1.2 2"/>
<line x1="2045.5" y1="791.8" x2="2069.9" y2="791.8" stroke="#555" stroke-width="1.1" stroke-dasharray="1.2 2"/>
<text font-size="26.5" text-anchor="end" font-style="italic" transform="translate(2070.2 833.4) rotate(-45) scale(1.030 1)">C. albicans</text>
<path d="M2089.5 806.4 L2088.8 805.6 L2088.2 804.7 L2087.9 803.9 L2087.7 803.1 L2087.7 802.2 L2087.9 801.4 L2088.3 800.6 L2088.7 799.7 L2089.1 798.9 L2089.6 798 L2090 797.2 L2090.2 796.4 L2090.4 795.5 L2090.4 794.7 L2090.3 793.9 L2090.2 793 L2090 792.2 L2090 791.4 L2090.1 790.5 L2090.3 789.7 L2090.6 788.9 L2091.1 788 L2091.5 787.2 L2091.9 786.4 L2092.3 785.5 L2092.5 784.7 L2092.8 783.9 L2093 783 L2093.2 782.2 L2093.5 781.3 L2093.8 780.5 L2094.2 779.7 L2094.6 778.8 L2095 778 L2095.3 777.2 L2095.6 776.3 L2095.8 775.5 L2095.8 774.7 L2095.8 773.8 L2095.6 773 L2095.3 772.2 L2095 771.3 L2094.6 770.5 L2094.3 769.7 L2094 768.8 L2093.8 768 L2093.7 767.2 L2099.7 767.2 L2099.6 768 L2099.4 768.8 L2099.1 769.7 L2098.8 770.5 L2098.4 771.3 L2098.1 772.2 L2097.8 773 L2097.6 773.8 L2097.6 774.7 L2097.6 775.5 L2097.8 776.3 L2098.1 777.2 L2098.4 778 L2098.8 778.8 L2099.2 779.7 L2099.6 780.5 L2099.9 781.3 L2100.2 782.2 L2100.4 783 L2100.6 783.9 L2100.9 784.7 L2101.1 785.5 L2101.5 786.4 L2101.9 787.2 L2102.3 788 L2102.8 788.9 L2103.1 789.7 L2103.3 790.5 L2103.4 791.4 L2103.4 792.2 L2103.2 793 L2103.1 793.9 L2103 794.7 L2103 795.5 L2103.2 796.4 L2103.4 797.2 L2103.8 798 L2104.3 798.9 L2104.7 799.7 L2105.1 800.6 L2105.5 801.4 L2105.7 802.2 L2105.7 803.1 L2105.5 803.9 L2105.2 804.7 L2104.6 805.6 L2103.9 806.4 Z" stroke="#333" fill="#ffffff" stroke-width="1"/>
<circle cx="2096.7" cy="767.2" r="6" fill="#c9cacc" stroke="#1c1c1c" stroke-width="1"/>
<circle cx="2096.7" cy="782.2" r="6" fill="#c9cacc" stroke="#1c1c1c" stroke-width="1"/>
<circle cx="2106.7" cy="790.3" r="6" fill="#c9cacc" stroke="#1c1c1c" stroke-width="1"/>
<circle cx="2086.7" cy="791.3" r="6" fill="#c9cacc" stroke="#1c1c1c" stroke-width="1"/>
<circle cx="2096.7" cy="798.3" r="6" fill="#c9cacc" stroke="#1c1c1c" stroke-width="1"/>
<circle cx="2106.7" cy="801.4" r="6" fill="#c9cacc" stroke="#1c1c1c" stroke-width="1"/>
<circle cx="2086.7" cy="804.4" r="6" fill="#c9cacc" stroke="#1c1c1c" stroke-width="1"/>
<circle cx="2096.7" cy="806.4" r="6" fill="#c9cacc" stroke="#1c1c1c" stroke-width="1"/>
<line x1="2084.5" y1="794.8" x2="2108.9" y2="794.8" stroke="#3a3a3a" stroke-width="1.1" stroke-dasharray="4 2.5"/>
<line x1="2084.5" y1="802.1" x2="2108.9" y2="802.1" stroke="#555" stroke-width="1.1" stroke-dasharray="1.2 2"/>
<line x1="2084.5" y1="788.3" x2="2108.9" y2="788.3" stroke="#555" stroke-width="1.1" stroke-dasharray="1.2 2"/>
<text font-size="26.5" text-anchor="end" font-style="italic" transform="translate(2109.2 833.4) rotate(-45) scale(1.030 1)">C. tropicalis</text>
<path d="M2127.2 806.4 L2126.7 804.9 L2126.5 803.4 L2126.6 802 L2126.9 800.5 L2127.5 799 L2128.2 797.5 L2129 796.1 L2129.8 794.6 L2130.6 793.1 L2131.3 791.6 L2131.8 790.1 L2132.2 788.7 L2132.5 787.2 L2132.8 785.7 L2133 784.2 L2133.2 782.8 L2133.4 781.3 L2133.6 779.8 L2133.9 778.3 L2134.1 776.9 L2134.4 775.4 L2134.6 773.9 L2134.8 772.4 L2135 770.9 L2135.1 769.5 L2135.3 768 L2135.3 766.5 L2135.4 765 L2135.4 763.6 L2135.5 762.1 L2135.5 760.6 L2135.5 759.1 L2135.5 757.6 L2135.4 756.2 L2135.4 754.7 L2135.3 753.2 L2135.2 751.7 L2135.1 750.3 L2134.9 748.8 L2134.8 747.3 L2134.5 745.8 L2134.3 744.3 L2134.1 742.9 L2133.9 741.4 L2133.7 739.9 L2133.6 738.4 L2133.6 737 L2137.4 737 L2137.4 738.4 L2137.3 739.9 L2137.1 741.4 L2136.9 742.9 L2136.7 744.3 L2136.5 745.8 L2136.2 747.3 L2136.1 748.8 L2135.9 750.3 L2135.8 751.7 L2135.7 753.2 L2135.6 754.7 L2135.6 756.2 L2135.5 757.6 L2135.5 759.1 L2135.5 760.6 L2135.5 762.1 L2135.6 763.6 L2135.6 765 L2135.7 766.5 L2135.7 768 L2135.9 769.5 L2136 770.9 L2136.2 772.4 L2136.4 773.9 L2136.6 775.4 L2136.9 776.9 L2137.1 778.3 L2137.4 779.8 L2137.6 781.3 L2137.8 782.8 L2138 784.2 L2138.2 785.7 L2138.5 787.2 L2138.8 788.7 L2139.2 790.1 L2139.7 791.6 L2140.4 793.1 L2141.2 794.6 L2142 796.1 L2142.8 797.5 L2143.5 799 L2144.1 800.5 L2144.4 802 L2144.5 803.4 L2144.3 804.9 L2143.8 806.4 Z" stroke="#333" fill="#ffffff" stroke-width="1"/>
<circle cx="2135.5" cy="737" r="6" fill="#c9cacc" stroke="#1c1c1c" stroke-width="1"/>
<circle cx="2135.5" cy="783.3" r="6" fill="#c9cacc" stroke="#1c1c1c" stroke-width="1"/>
<circle cx="2135.5" cy="798.3" r="6" fill="#c9cacc" stroke="#1c1c1c" stroke-width="1"/>
<circle cx="2145.5" cy="801.4" r="6" fill="#c9cacc" stroke="#1c1c1c" stroke-width="1"/>
<circle cx="2125.5" cy="804.4" r="6" fill="#c9cacc" stroke="#1c1c1c" stroke-width="1"/>
<circle cx="2135.5" cy="805.4" r="6" fill="#c9cacc" stroke="#1c1c1c" stroke-width="1"/>
<circle cx="2145.5" cy="806.4" r="6" fill="#c9cacc" stroke="#1c1c1c" stroke-width="1"/>
<line x1="2123.3" y1="801.4" x2="2147.7" y2="801.4" stroke="#3a3a3a" stroke-width="1.1" stroke-dasharray="4 2.5"/>
<line x1="2123.3" y1="804.9" x2="2147.7" y2="804.9" stroke="#555" stroke-width="1.1" stroke-dasharray="1.2 2"/>
<line x1="2123.3" y1="790.8" x2="2147.7" y2="790.8" stroke="#555" stroke-width="1.1" stroke-dasharray="1.2 2"/>
<text font-size="26.5" text-anchor="end" font-style="italic" transform="translate(2148 833.4) rotate(-45) scale(1.030 1)">S. cerevisiae</text>
<text font-size="40" font-weight="bold" transform="translate(-0.5 650) scale(1.060 1)" stroke="#231f20" stroke-width="1.1">c</text>
<text font-size="27" text-anchor="middle" transform="translate(25.8 826.5) rotate(-90) scale(1.050 1)">Percentage per</text>
<text font-size="27" text-anchor="middle" transform="translate(58.5 826.5) rotate(-90) scale(1.050 1)">CD154<tspan font-size="16" dy="-11">+</tspan><tspan dy="11"> T</tspan><tspan font-size="19" dy="7">mem</tspan><tspan dy="-7"> cells</tspan></text>
<line x1="136.3" y1="701.5" x2="136.3" y2="951.6" stroke="#4a4a4a" stroke-width="1.2"/>
<path d="M127.8 951.6h8.5 M127.8 901.6h8.5 M127.8 851.6h8.5 M127.8 801.5h8.5 M127.8 751.5h8.5 M127.8 701.5h8.5" stroke="#4a4a4a" fill="none" stroke-width="1.2"/>
<text font-size="23.5" text-anchor="end" transform="translate(115.8 959.9) scale(1.100 1)">0</text>
<text font-size="23.5" text-anchor="end" transform="translate(115.8 909.9) scale(1.100 1)">10</text>
<text font-size="23.5" text-anchor="end" transform="translate(115.8 859.9) scale(1.100 1)">20</text>
<text font-size="23.5" text-anchor="end" transform="translate(115.8 809.8) scale(1.100 1)">30</text>
<text font-size="23.5" text-anchor="end" transform="translate(115.8 759.8) scale(1.100 1)">40</text>
<text font-size="23.5" text-anchor="end" transform="translate(115.8 709.8) scale(1.100 1)">50</text>
<line x1="136.3" y1="951.6" x2="288.5" y2="951.6" stroke="#4a4a4a" stroke-width="1.2"/>
<text font-size="26" text-anchor="middle" transform="translate(212.9 657.9) scale(1.030 1)"><tspan font-style="italic">GZMB</tspan></text>
<text font-size="27.5" text-anchor="middle" transform="translate(212.9 706.4) scale(1.100 1)">0.0012</text>
<line x1="179.9" y1="715.2" x2="249" y2="715.2" stroke="#333" stroke-width="1.3"/>
<path d="M169.4 951.6 L168.5 950.5 L168 949.4 L168 948.2 L168.4 947.1 L169.2 946 L170.2 944.9 L171.3 943.8 L172.5 942.7 L173.5 941.5 L174.3 940.4 L174.9 939.3 L175.3 938.2 L175.5 937.1 L175.6 936 L175.6 934.8 L175.6 933.7 L175.7 932.6 L175.9 931.5 L176.1 930.4 L176.4 929.3 L176.8 928.1 L177.2 927 L177.7 925.9 L178.1 924.8 L178.5 923.7 L178.9 922.5 L179.2 921.4 L179.4 920.3 L179.6 919.2 L179.8 918.1 L179.8 917 L179.9 915.8 L179.9 914.7 L179.9 913.6 L179.9 912.5 L179.8 911.4 L179.7 910.3 L179.6 909.1 L179.4 908 L179.2 906.9 L178.9 905.8 L178.6 904.7 L178.2 903.5 L177.9 902.4 L177.7 901.3 L177.5 900.2 L177.5 899.1 L182.5 899.1 L182.4 900.2 L182.3 901.3 L182 902.4 L181.7 903.5 L181.4 904.7 L181.1 905.8 L180.8 906.9 L180.6 908 L180.4 909.1 L180.2 910.3 L180.1 911.4 L180.1 912.5 L180.1 913.6 L180.1 914.7 L180.1 915.8 L180.1 917 L180.2 918.1 L180.3 919.2 L180.5 920.3 L180.8 921.4 L181.1 922.5 L181.4 923.7 L181.9 924.8 L182.3 925.9 L182.8 927 L183.2 928.1 L183.6 929.3 L183.9 930.4 L184.1 931.5 L184.2 932.6 L184.3 933.7 L184.4 934.8 L184.4 936 L184.5 937.1 L184.7 938.2 L185.1 939.3 L185.7 940.4 L186.5 941.5 L187.5 942.7 L188.6 943.8 L189.8 944.9 L190.8 946 L191.6 947.1 L192 948.2 L191.9 949.4 L191.4 950.5 L190.5 951.6 Z" stroke="#333" fill="#8890b8" stroke-width="1"/>
<path d="M235.8 945.6 L234.2 941.1 L232.8 936.7 L231.6 932.3 L230.5 927.8 L229.6 923.4 L228.6 918.9 L227.7 914.5 L226.9 910 L226.3 905.6 L226.1 901.1 L226.5 896.7 L227.5 892.2 L229 887.8 L231 883.3 L233.1 878.9 L235.3 874.4 L237.3 870 L239.1 865.5 L240.6 861.1 L241.9 856.6 L242.8 852.2 L243.4 847.7 L243.7 843.3 L243.7 838.8 L243.3 834.4 L242.7 829.9 L241.9 825.5 L241 821 L240.2 816.6 L239.6 812.1 L239.3 807.7 L239.4 803.2 L239.8 798.8 L240.6 794.3 L241.5 789.9 L242.4 785.4 L243.2 781 L243.8 776.6 L244.1 772.1 L244.2 767.7 L244.1 763.2 L243.8 758.8 L243.4 754.3 L242.9 749.9 L242.5 745.4 L242.2 741 L242 736.5 L248.2 736.5 L248.1 741 L247.8 745.4 L247.3 749.9 L246.8 754.3 L246.4 758.8 L246.1 763.2 L246 767.7 L246.1 772.1 L246.5 776.6 L247.1 781 L247.8 785.4 L248.8 789.9 L249.7 794.3 L250.4 798.8 L250.9 803.2 L251 807.7 L250.7 812.1 L250.1 816.6 L249.2 821 L248.3 825.5 L247.5 829.9 L246.9 834.4 L246.6 838.8 L246.5 843.3 L246.8 847.7 L247.4 852.2 L248.4 856.6 L249.6 861.1 L251.1 865.5 L253 870 L255 874.4 L257.1 878.9 L259.3 883.3 L261.2 887.8 L262.8 892.2 L263.7 896.7 L264.1 901.1 L263.9 905.6 L263.4 910 L262.5 914.5 L261.6 918.9 L260.7 923.4 L259.7 927.8 L258.7 932.3 L257.5 936.7 L256.1 941.1 L254.5 945.6 Z" stroke="#333" fill="#f2a595" stroke-width="1"/>
<circle cx="180" cy="899.1" r="6" fill="#3b4a8a" stroke="#1c1c1c" stroke-width="1"/>
<circle cx="180" cy="929.6" r="6" fill="#3b4a8a" stroke="#1c1c1c" stroke-width="1"/>
<circle cx="180" cy="936.1" r="6" fill="#3b4a8a" stroke="#1c1c1c" stroke-width="1"/>
<circle cx="171.5" cy="947.1" r="6" fill="#3b4a8a" stroke="#1c1c1c" stroke-width="1"/>
<circle cx="188.5" cy="947.1" r="6" fill="#3b4a8a" stroke="#1c1c1c" stroke-width="1"/>
<circle cx="180" cy="949.1" r="6" fill="#3b4a8a" stroke="#1c1c1c" stroke-width="1"/>
<circle cx="163.5" cy="949.6" r="6" fill="#3b4a8a" stroke="#1c1c1c" stroke-width="1"/>
<circle cx="196.5" cy="951.6" r="6" fill="#3b4a8a" stroke="#1c1c1c" stroke-width="1"/>
<circle cx="245.1" cy="736.5" r="6" fill="#e2252a" stroke="#1c1c1c" stroke-width="1"/>
<circle cx="261.4" cy="801.5" r="6" fill="#e2252a" stroke="#1c1c1c" stroke-width="1"/>
<circle cx="228.8" cy="811.5" r="6" fill="#e2252a" stroke="#1c1c1c" stroke-width="1"/>
<circle cx="245.1" cy="870.6" r="6" fill="#e2252a" stroke="#1c1c1c" stroke-width="1"/>
<circle cx="228.8" cy="888.6" r="6" fill="#e2252a" stroke="#1c1c1c" stroke-width="1"/>
<circle cx="261.4" cy="890.6" r="6" fill="#e2252a" stroke="#1c1c1c" stroke-width="1"/>
<circle cx="245.1" cy="895.1" r="6" fill="#e2252a" stroke="#1c1c1c" stroke-width="1"/>
<circle cx="245.1" cy="901.6" r="6" fill="#e2252a" stroke="#1c1c1c" stroke-width="1"/>
<circle cx="261.4" cy="905.1" r="6" fill="#e2252a" stroke="#1c1c1c" stroke-width="1"/>
<circle cx="228.8" cy="909.6" r="6" fill="#e2252a" stroke="#1c1c1c" stroke-width="1"/>
<circle cx="228.8" cy="928.6" r="6" fill="#e2252a" stroke="#1c1c1c" stroke-width="1"/>
<circle cx="261.4" cy="924.1" r="6" fill="#e2252a" stroke="#1c1c1c" stroke-width="1"/>
<circle cx="261.4" cy="938.1" r="6" fill="#e2252a" stroke="#1c1c1c" stroke-width="1"/>
<circle cx="228.8" cy="945.6" r="6" fill="#e2252a" stroke="#1c1c1c" stroke-width="1"/>
<line x1="169.2" y1="947.1" x2="190.8" y2="947.1" stroke="#5b67b0" stroke-width="1.1" stroke-dasharray="4 2.5"/>
<line x1="168.8" y1="949.2" x2="191.1" y2="949.2" stroke="#444" stroke-width="1.1" stroke-dasharray="1.2 2"/>
<line x1="176.4" y1="934.5" x2="183.5" y2="934.5" stroke="#444" stroke-width="1.1" stroke-dasharray="1.2 2"/>
<line x1="227.2" y1="898.3" x2="263.1" y2="898.3" stroke="#5b67b0" stroke-width="1.1" stroke-dasharray="4 2.5"/>
<line x1="229.8" y1="920.5" x2="260.5" y2="920.5" stroke="#555" stroke-width="1.1" stroke-dasharray="1.2 2"/>
<line x1="235.7" y1="875.1" x2="254.5" y2="875.1" stroke="#555" stroke-width="1.1" stroke-dasharray="1.2 2"/>
<line x1="378" y1="701.5" x2="378" y2="951.1" stroke="#4a4a4a" stroke-width="1.2"/>
<path d="M369.5 951.1h8.5 M369.5 888.7h8.5 M369.5 826.3h8.5 M369.5 763.9h8.5 M369.5 701.5h8.5" stroke="#4a4a4a" fill="none" stroke-width="1.2"/>
<text font-size="23.5" text-anchor="end" transform="translate(357.5 959.4) scale(1.100 1)">0</text>
<text font-size="23.5" text-anchor="end" transform="translate(357.5 897) scale(1.100 1)">10</text>
<text font-size="23.5" text-anchor="end" transform="translate(357.5 834.6) scale(1.100 1)">20</text>
<text font-size="23.5" text-anchor="end" transform="translate(357.5 772.2) scale(1.100 1)">30</text>
<text font-size="23.5" text-anchor="end" transform="translate(357.5 709.8) scale(1.100 1)">40</text>
<line x1="378" y1="951.1" x2="529.5" y2="951.1" stroke="#4a4a4a" stroke-width="1.2"/>
<text font-size="26" text-anchor="middle" transform="translate(454.2 657.9) scale(0.890 1)"><tspan font-style="italic">PRF1</tspan></text>
<text font-size="27.5" text-anchor="middle" transform="translate(458 706.4) scale(1.100 1)">0.0003</text>
<line x1="420.6" y1="715.2" x2="489.8" y2="715.2" stroke="#333" stroke-width="1.3"/>
<path d="M406.8 949.2 L406.5 948.8 L406.3 948.3 L406.1 947.8 L405.9 947.3 L405.7 946.8 L405.5 946.4 L405.4 945.9 L405.2 945.4 L405.1 944.9 L405 944.4 L404.8 944 L404.8 943.5 L404.7 943 L404.6 942.5 L404.6 942.1 L404.5 941.6 L404.5 941.1 L404.5 940.6 L404.5 940.1 L404.5 939.7 L404.5 939.2 L404.6 938.7 L404.7 938.2 L404.7 937.8 L404.8 937.3 L404.9 936.8 L405 936.3 L405.2 935.8 L405.3 935.4 L405.5 934.9 L405.6 934.4 L405.8 933.9 L406 933.5 L406.2 933 L406.4 932.5 L406.6 932 L406.9 931.5 L407.1 931.1 L407.3 930.6 L407.6 930.1 L407.9 929.6 L408.1 929.2 L408.4 928.7 L408.7 928.2 L408.9 927.7 L409.2 927.2 L409.5 926.8 L433.4 926.8 L433.7 927.2 L434 927.7 L434.3 928.2 L434.6 928.7 L434.8 929.2 L435.1 929.6 L435.4 930.1 L435.6 930.6 L435.9 931.1 L436.1 931.5 L436.3 932 L436.5 932.5 L436.8 933 L437 933.5 L437.1 933.9 L437.3 934.4 L437.5 934.9 L437.6 935.4 L437.8 935.8 L437.9 936.3 L438 936.8 L438.1 937.3 L438.2 937.8 L438.3 938.2 L438.4 938.7 L438.4 939.2 L438.5 939.7 L438.5 940.1 L438.5 940.6 L438.5 941.1 L438.4 941.6 L438.4 942.1 L438.4 942.5 L438.3 943 L438.2 943.5 L438.1 944 L438 944.4 L437.9 944.9 L437.7 945.4 L437.6 945.9 L437.4 946.4 L437.3 946.8 L437.1 947.3 L436.9 947.8 L436.6 948.3 L436.4 948.8 L436.2 949.2 Z" stroke="#333" fill="#8890b8" stroke-width="1"/>
<path d="M482.1 948 L481.3 943.9 L480.3 939.7 L478.7 935.6 L476.6 931.5 L474.1 927.3 L471.5 923.2 L469.3 919.1 L467.8 914.9 L467.3 910.8 L467.8 906.7 L468.8 902.6 L470.2 898.4 L471.6 894.3 L472.8 890.2 L473.9 886 L474.9 881.9 L475.9 877.8 L476.9 873.7 L477.9 869.5 L478.8 865.4 L479.5 861.3 L480.1 857.1 L480.7 853 L481.2 848.9 L481.9 844.8 L482.6 840.6 L483.3 836.5 L484.1 832.4 L484.8 828.2 L485.4 824.1 L485.8 820 L486 815.9 L486.2 811.7 L486.3 807.6 L486.3 803.5 L486.3 799.3 L486.3 795.2 L486.3 791.1 L486.2 786.9 L486 782.8 L485.8 778.7 L485.4 774.6 L484.9 770.4 L484.3 766.3 L483.7 762.2 L483.3 758 L483.2 753.9 L489.5 753.9 L489.3 758 L488.9 762.2 L488.4 766.3 L487.8 770.4 L487.3 774.6 L486.9 778.7 L486.6 782.8 L486.5 786.9 L486.4 791.1 L486.4 795.2 L486.3 799.3 L486.3 803.5 L486.4 807.6 L486.5 811.7 L486.6 815.9 L486.9 820 L487.3 824.1 L487.8 828.2 L488.5 832.4 L489.3 836.5 L490.1 840.6 L490.8 844.8 L491.4 848.9 L492 853 L492.5 857.1 L493.1 861.3 L493.9 865.4 L494.8 869.5 L495.7 873.7 L496.8 877.8 L497.8 881.9 L498.8 886 L499.9 890.2 L501.1 894.3 L502.4 898.4 L503.8 902.6 L504.9 906.7 L505.3 910.8 L504.8 914.9 L503.4 919.1 L501.2 923.2 L498.6 927.3 L496 931.5 L493.9 935.6 L492.4 939.7 L491.3 943.9 L490.5 948 Z" stroke="#333" fill="#f2a595" stroke-width="1"/>
<circle cx="421.5" cy="926.8" r="6" fill="#3b4a8a" stroke="#1c1c1c" stroke-width="1"/>
<circle cx="438" cy="932.4" r="6" fill="#3b4a8a" stroke="#1c1c1c" stroke-width="1"/>
<circle cx="405" cy="935.5" r="6" fill="#3b4a8a" stroke="#1c1c1c" stroke-width="1"/>
<circle cx="416.1" cy="943" r="6" fill="#3b4a8a" stroke="#1c1c1c" stroke-width="1"/>
<circle cx="438" cy="944.9" r="6" fill="#3b4a8a" stroke="#1c1c1c" stroke-width="1"/>
<circle cx="426.9" cy="948" r="6" fill="#3b4a8a" stroke="#1c1c1c" stroke-width="1"/>
<circle cx="405" cy="949.2" r="6" fill="#3b4a8a" stroke="#1c1c1c" stroke-width="1"/>
<circle cx="486.3" cy="753.9" r="6" fill="#e2252a" stroke="#1c1c1c" stroke-width="1"/>
<circle cx="486.3" cy="845" r="6" fill="#e2252a" stroke="#1c1c1c" stroke-width="1"/>
<circle cx="486.3" cy="863.7" r="6" fill="#e2252a" stroke="#1c1c1c" stroke-width="1"/>
<circle cx="486.3" cy="878.7" r="6" fill="#e2252a" stroke="#1c1c1c" stroke-width="1"/>
<circle cx="502.8" cy="885.6" r="6" fill="#e2252a" stroke="#1c1c1c" stroke-width="1"/>
<circle cx="469.8" cy="891.8" r="6" fill="#e2252a" stroke="#1c1c1c" stroke-width="1"/>
<circle cx="502.8" cy="906.2" r="6" fill="#e2252a" stroke="#1c1c1c" stroke-width="1"/>
<circle cx="469.8" cy="907.4" r="6" fill="#e2252a" stroke="#1c1c1c" stroke-width="1"/>
<circle cx="480.9" cy="911.2" r="6" fill="#e2252a" stroke="#1c1c1c" stroke-width="1"/>
<circle cx="491.7" cy="918.7" r="6" fill="#e2252a" stroke="#1c1c1c" stroke-width="1"/>
<circle cx="502.8" cy="916.8" r="6" fill="#e2252a" stroke="#1c1c1c" stroke-width="1"/>
<circle cx="469.8" cy="921.1" r="6" fill="#e2252a" stroke="#1c1c1c" stroke-width="1"/>
<circle cx="486.3" cy="948" r="6" fill="#e2252a" stroke="#1c1c1c" stroke-width="1"/>
<line x1="405.5" y1="943" x2="437.5" y2="943" stroke="#5b67b0" stroke-width="1.1" stroke-dasharray="4 2.5"/>
<line x1="406.4" y1="946.4" x2="436.6" y2="946.4" stroke="#444" stroke-width="1.1" stroke-dasharray="1.2 2"/>
<line x1="406.6" y1="933.9" x2="436.3" y2="933.9" stroke="#444" stroke-width="1.1" stroke-dasharray="1.2 2"/>
<line x1="468.7" y1="906.2" x2="503.9" y2="906.2" stroke="#5b67b0" stroke-width="1.1" stroke-dasharray="4 2.5"/>
<line x1="469.2" y1="916.8" x2="503.4" y2="916.8" stroke="#555" stroke-width="1.1" stroke-dasharray="1.2 2"/>
<line x1="476.5" y1="878.7" x2="496.2" y2="878.7" stroke="#555" stroke-width="1.1" stroke-dasharray="1.2 2"/>
<line x1="619.1" y1="699.1" x2="619.1" y2="949.1" stroke="#4a4a4a" stroke-width="1.2"/>
<path d="M610.6 949.1h8.5 M610.6 886.6h8.5 M610.6 824.1h8.5 M610.6 761.6h8.5 M610.6 699.1h8.5" stroke="#4a4a4a" fill="none" stroke-width="1.2"/>
<text font-size="23.5" text-anchor="end" transform="translate(598.6 957.4) scale(1.100 1)">0</text>
<text font-size="23.5" text-anchor="end" transform="translate(598.6 894.9) scale(1.100 1)">20</text>
<text font-size="23.5" text-anchor="end" transform="translate(598.6 832.4) scale(1.100 1)">40</text>
<text font-size="23.5" text-anchor="end" transform="translate(598.6 769.9) scale(1.100 1)">60</text>
<text font-size="23.5" text-anchor="end" transform="translate(598.6 707.4) scale(1.100 1)">80</text>
<line x1="619.1" y1="949.1" x2="770.9" y2="949.1" stroke="#4a4a4a" stroke-width="1.2"/>
<text font-size="26" text-anchor="middle" transform="translate(694.3 657.9) scale(1.070 1)">CD319</text>
<text font-size="27.5" text-anchor="middle" transform="translate(698 706.4) scale(1.100 1)">0.0004</text>
<line x1="660" y1="715.2" x2="730" y2="715.2" stroke="#333" stroke-width="1.3"/>
<path d="M651.7 949.1 L651 948.7 L650.7 948.2 L650.7 947.8 L651.1 947.4 L651.6 946.9 L652.3 946.5 L652.9 946.1 L653.5 945.6 L654 945.2 L654.4 944.8 L654.7 944.3 L655 943.9 L655.3 943.5 L655.6 943 L656.1 942.6 L656.6 942.2 L657.3 941.8 L658 941.3 L658.7 940.9 L659.4 940.5 L660.1 940 L660.8 939.6 L661.3 939.2 L661.7 938.7 L662 938.3 L662.3 937.9 L662.4 937.4 L662.5 937 L662.6 936.6 L662.6 936.1 L662.6 935.7 L662.6 935.3 L662.6 934.8 L662.6 934.4 L662.6 934 L662.5 933.5 L662.4 933.1 L662.2 932.7 L662 932.2 L661.8 931.8 L661.5 931.4 L661.1 930.9 L660.7 930.5 L660.4 930.1 L660.1 929.7 L659.9 929.2 L659.8 928.8 L665.5 928.8 L665.4 929.2 L665.3 929.7 L665 930.1 L664.6 930.5 L664.2 930.9 L663.9 931.4 L663.6 931.8 L663.3 932.2 L663.1 932.7 L662.9 933.1 L662.8 933.5 L662.8 934 L662.7 934.4 L662.7 934.8 L662.7 935.3 L662.7 935.7 L662.7 936.1 L662.8 936.6 L662.8 937 L662.9 937.4 L663.1 937.9 L663.3 938.3 L663.6 938.7 L664 939.2 L664.6 939.6 L665.2 940 L665.9 940.5 L666.6 940.9 L667.4 941.3 L668.1 941.8 L668.7 942.2 L669.2 942.6 L669.7 943 L670 943.5 L670.3 943.9 L670.6 944.3 L670.9 944.8 L671.3 945.2 L671.8 945.6 L672.4 946.1 L673.1 946.5 L673.7 946.9 L674.3 947.4 L674.6 947.8 L674.7 948.2 L674.3 948.7 L673.7 949.1 Z" stroke="#333" fill="#8890b8" stroke-width="1"/>
<path d="M714.7 947.5 L712.3 944.1 L710.3 940.6 L709.1 937.2 L708.6 933.7 L709.1 930.3 L710.4 926.8 L712.2 923.3 L714.3 919.9 L716.3 916.4 L717.9 913 L719 909.5 L719.4 906 L719.2 902.6 L718.5 899.1 L717.6 895.7 L716.5 892.2 L715.7 888.8 L715.1 885.3 L714.9 881.8 L715.3 878.4 L715.9 874.9 L716.8 871.5 L717.6 868 L718.3 864.6 L718.8 861.1 L719.1 857.6 L719.4 854.2 L719.6 850.7 L720 847.3 L720.5 843.8 L721 840.4 L721.5 836.9 L721.9 833.4 L722.4 830 L722.8 826.5 L723.2 823.1 L723.7 819.6 L724.2 816.2 L724.6 812.7 L725 809.2 L725.2 805.8 L725.2 802.3 L725 798.9 L724.7 795.4 L724.3 792 L724.1 788.5 L724 785 L731.3 785 L731.2 788.5 L731 792 L730.6 795.4 L730.3 798.9 L730.1 802.3 L730.1 805.8 L730.3 809.2 L730.6 812.7 L731.1 816.2 L731.6 819.6 L732.1 823.1 L732.5 826.5 L732.9 830 L733.3 833.4 L733.8 836.9 L734.3 840.4 L734.8 843.8 L735.3 847.3 L735.6 850.7 L735.9 854.2 L736.2 857.6 L736.5 861.1 L737 864.6 L737.6 868 L738.5 871.5 L739.3 874.9 L740 878.4 L740.3 881.8 L740.2 885.3 L739.6 888.8 L738.7 892.2 L737.7 895.7 L736.8 899.1 L736.1 902.6 L735.9 906 L736.3 909.5 L737.4 913 L739 916.4 L741 919.9 L743 923.3 L744.9 926.8 L746.2 930.3 L746.6 933.7 L746.2 937.2 L744.9 940.6 L743 944.1 L740.6 947.5 Z" stroke="#333" fill="#f2a595" stroke-width="1"/>
<circle cx="662.7" cy="928.8" r="6" fill="#3b4a8a" stroke="#1c1c1c" stroke-width="1"/>
<circle cx="652.4" cy="941.9" r="6" fill="#3b4a8a" stroke="#1c1c1c" stroke-width="1"/>
<circle cx="662.7" cy="943.5" r="6" fill="#3b4a8a" stroke="#1c1c1c" stroke-width="1"/>
<circle cx="673.3" cy="945.4" r="6" fill="#3b4a8a" stroke="#1c1c1c" stroke-width="1"/>
<circle cx="646.7" cy="947.5" r="6" fill="#3b4a8a" stroke="#1c1c1c" stroke-width="1"/>
<circle cx="657" cy="948.5" r="6" fill="#3b4a8a" stroke="#1c1c1c" stroke-width="1"/>
<circle cx="668.1" cy="948.8" r="6" fill="#3b4a8a" stroke="#1c1c1c" stroke-width="1"/>
<circle cx="679.6" cy="949.1" r="6" fill="#3b4a8a" stroke="#1c1c1c" stroke-width="1"/>
<circle cx="727.6" cy="785" r="6" fill="#e2252a" stroke="#1c1c1c" stroke-width="1"/>
<circle cx="727.6" cy="824.1" r="6" fill="#e2252a" stroke="#1c1c1c" stroke-width="1"/>
<circle cx="743.6" cy="847.5" r="6" fill="#e2252a" stroke="#1c1c1c" stroke-width="1"/>
<circle cx="711.3" cy="856" r="6" fill="#e2252a" stroke="#1c1c1c" stroke-width="1"/>
<circle cx="727.6" cy="880.4" r="6" fill="#e2252a" stroke="#1c1c1c" stroke-width="1"/>
<circle cx="743.6" cy="881" r="6" fill="#e2252a" stroke="#1c1c1c" stroke-width="1"/>
<circle cx="711.3" cy="883.5" r="6" fill="#e2252a" stroke="#1c1c1c" stroke-width="1"/>
<circle cx="727.6" cy="900.7" r="6" fill="#e2252a" stroke="#1c1c1c" stroke-width="1"/>
<circle cx="711.3" cy="926.6" r="6" fill="#e2252a" stroke="#1c1c1c" stroke-width="1"/>
<circle cx="743.6" cy="928.8" r="6" fill="#e2252a" stroke="#1c1c1c" stroke-width="1"/>
<circle cx="727.6" cy="930.4" r="6" fill="#e2252a" stroke="#1c1c1c" stroke-width="1"/>
<circle cx="743.6" cy="937.5" r="6" fill="#e2252a" stroke="#1c1c1c" stroke-width="1"/>
<circle cx="727.6" cy="938.2" r="6" fill="#e2252a" stroke="#1c1c1c" stroke-width="1"/>
<circle cx="711.3" cy="947.5" r="6" fill="#e2252a" stroke="#1c1c1c" stroke-width="1"/>
<line x1="653.2" y1="946.4" x2="672.2" y2="946.4" stroke="#5b67b0" stroke-width="1.1" stroke-dasharray="4 2.5"/>
<line x1="651.7" y1="948.6" x2="673.6" y2="948.6" stroke="#444" stroke-width="1.1" stroke-dasharray="1.2 2"/>
<line x1="656.4" y1="943.1" x2="668.9" y2="943.1" stroke="#444" stroke-width="1.1" stroke-dasharray="1.2 2"/>
<line x1="717.3" y1="892.1" x2="738" y2="892.1" stroke="#5b67b0" stroke-width="1.1" stroke-dasharray="4 2.5"/>
<line x1="710" y1="930" x2="745.3" y2="930" stroke="#555" stroke-width="1.1" stroke-dasharray="1.2 2"/>
<line x1="719.5" y1="862.1" x2="735.8" y2="862.1" stroke="#555" stroke-width="1.1" stroke-dasharray="1.2 2"/>
<line x1="860.3" y1="699.1" x2="860.3" y2="949.1" stroke="#4a4a4a" stroke-width="1.2"/>
<path d="M851.8 949.1h8.5 M851.8 865.8h8.5 M851.8 782.4h8.5 M851.8 699.1h8.5" stroke="#4a4a4a" fill="none" stroke-width="1.2"/>
<text font-size="23.5" text-anchor="end" transform="translate(839.8 957.4) scale(1.100 1)">0</text>
<text font-size="23.5" text-anchor="end" transform="translate(839.8 874.1) scale(1.100 1)">10</text>
<text font-size="23.5" text-anchor="end" transform="translate(839.8 790.7) scale(1.100 1)">20</text>
<text font-size="23.5" text-anchor="end" transform="translate(839.8 707.4) scale(1.100 1)">30</text>
<line x1="860.3" y1="949.1" x2="1011.4" y2="949.1" stroke="#4a4a4a" stroke-width="1.2"/>
<text font-size="26" text-anchor="middle" transform="translate(935.7 657.9) scale(1.070 1)">CCL4</text>
<text font-size="27.5" text-anchor="middle" transform="translate(936.6 706.4) scale(1.100 1)">0.0015</text>
<line x1="903.4" y1="715.2" x2="972.9" y2="715.2" stroke="#333" stroke-width="1.3"/>
<path d="M892.8 949.1 L892.2 948.9 L891.9 948.8 L891.7 948.6 L891.7 948.5 L891.8 948.3 L892 948.1 L892.3 948 L892.7 947.8 L893 947.7 L893.5 947.5 L893.9 947.3 L894.4 947.2 L894.9 947 L895.5 946.9 L896.1 946.7 L896.8 946.5 L897.5 946.4 L898.1 946.2 L898.8 946.1 L899.4 945.9 L899.9 945.7 L900.3 945.6 L900.5 945.4 L900.6 945.3 L900.6 945.1 L900.5 945 L900.2 944.8 L899.9 944.6 L899.7 944.5 L899.4 944.3 L899.1 944.2 L898.9 944 L898.7 943.8 L898.6 943.7 L898.4 943.5 L898.2 943.4 L898 943.2 L897.8 943 L897.5 942.9 L897.2 942.7 L896.9 942.6 L896.7 942.4 L896.6 942.2 L896.5 942.1 L896.7 941.9 L896.9 941.8 L897.3 941.6 L910 941.6 L910.4 941.8 L910.7 941.9 L910.8 942.1 L910.8 942.2 L910.6 942.4 L910.4 942.6 L910.1 942.7 L909.8 942.9 L909.6 943 L909.3 943.2 L909.1 943.4 L908.9 943.5 L908.8 943.7 L908.6 943.8 L908.4 944 L908.2 944.2 L908 944.3 L907.7 944.5 L907.4 944.6 L907.1 944.8 L906.9 945 L906.7 945.1 L906.7 945.3 L906.8 945.4 L907 945.6 L907.4 945.7 L907.9 945.9 L908.5 946.1 L909.2 946.2 L909.9 946.4 L910.6 946.5 L911.2 946.7 L911.9 946.9 L912.4 947 L913 947.2 L913.4 947.3 L913.9 947.5 L914.3 947.7 L914.7 947.8 L915 948 L915.3 948.1 L915.5 948.3 L915.7 948.5 L915.6 948.6 L915.5 948.8 L915.1 948.9 L914.5 949.1 Z" stroke="#333" fill="#8890b8" stroke-width="1"/>
<path d="M953.5 949.1 L951.4 945.2 L950 941.3 L949.3 937.4 L949.6 933.5 L950.6 929.6 L952.3 925.7 L954.5 921.8 L956.9 917.9 L959.3 914 L961.3 910.1 L962.9 906.2 L963.8 902.3 L964.2 898.4 L963.9 894.5 L963.2 890.6 L962.3 886.7 L961.5 882.8 L960.9 878.9 L960.7 875 L961 871.1 L961.8 867.2 L962.8 863.3 L963.9 859.4 L964.9 855.5 L965.6 851.6 L966 847.7 L966.1 843.8 L966 839.9 L965.9 836 L965.7 832.1 L965.7 828.2 L965.8 824.3 L966.1 820.4 L966.5 816.5 L966.9 812.6 L967.3 808.7 L967.6 804.8 L967.8 800.9 L967.8 797 L967.8 793.1 L967.6 789.2 L967.3 785.3 L966.9 781.4 L966.5 777.5 L966.1 773.6 L965.9 769.7 L965.8 765.8 L970.9 765.8 L970.8 769.7 L970.6 773.6 L970.2 777.5 L969.8 781.4 L969.4 785.3 L969.1 789.2 L968.9 793.1 L968.8 797 L968.9 800.9 L969.1 804.8 L969.4 808.7 L969.8 812.6 L970.2 816.5 L970.6 820.4 L970.8 824.3 L971 828.2 L970.9 832.1 L970.8 836 L970.6 839.9 L970.6 843.8 L970.7 847.7 L971.1 851.6 L971.8 855.5 L972.8 859.4 L973.9 863.3 L974.9 867.2 L975.6 871.1 L976 875 L975.8 878.9 L975.2 882.8 L974.3 886.7 L973.4 890.6 L972.8 894.5 L972.5 898.4 L972.8 902.3 L973.8 906.2 L975.4 910.1 L977.4 914 L979.8 917.9 L982.2 921.8 L984.3 925.7 L986.1 929.6 L987.1 933.5 L987.3 937.4 L986.7 941.3 L985.3 945.2 L983.2 949.1 Z" stroke="#333" fill="#f2a595" stroke-width="1"/>
<circle cx="899.1" cy="941.6" r="6" fill="#3b4a8a" stroke="#1c1c1c" stroke-width="1"/>
<circle cx="907.4" cy="942.4" r="6" fill="#3b4a8a" stroke="#1c1c1c" stroke-width="1"/>
<circle cx="916.8" cy="944.1" r="6" fill="#3b4a8a" stroke="#1c1c1c" stroke-width="1"/>
<circle cx="894" cy="946.6" r="6" fill="#3b4a8a" stroke="#1c1c1c" stroke-width="1"/>
<circle cx="903.1" cy="947.4" r="6" fill="#3b4a8a" stroke="#1c1c1c" stroke-width="1"/>
<circle cx="912.3" cy="948.3" r="6" fill="#3b4a8a" stroke="#1c1c1c" stroke-width="1"/>
<circle cx="921.4" cy="949.1" r="6" fill="#3b4a8a" stroke="#1c1c1c" stroke-width="1"/>
<circle cx="926" cy="949.1" r="6" fill="#3b4a8a" stroke="#1c1c1c" stroke-width="1"/>
<circle cx="968.3" cy="765.8" r="6" fill="#e2252a" stroke="#1c1c1c" stroke-width="1"/>
<circle cx="968.3" cy="828.3" r="6" fill="#e2252a" stroke="#1c1c1c" stroke-width="1"/>
<circle cx="968.3" cy="871.6" r="6" fill="#e2252a" stroke="#1c1c1c" stroke-width="1"/>
<circle cx="952" cy="877.4" r="6" fill="#e2252a" stroke="#1c1c1c" stroke-width="1"/>
<circle cx="984.6" cy="877.4" r="6" fill="#e2252a" stroke="#1c1c1c" stroke-width="1"/>
<circle cx="968.3" cy="922.4" r="6" fill="#e2252a" stroke="#1c1c1c" stroke-width="1"/>
<circle cx="952" cy="924.9" r="6" fill="#e2252a" stroke="#1c1c1c" stroke-width="1"/>
<circle cx="984.6" cy="924.9" r="6" fill="#e2252a" stroke="#1c1c1c" stroke-width="1"/>
<circle cx="960" cy="936.6" r="6" fill="#e2252a" stroke="#1c1c1c" stroke-width="1"/>
<circle cx="968.3" cy="936.6" r="6" fill="#e2252a" stroke="#1c1c1c" stroke-width="1"/>
<circle cx="976.9" cy="938.3" r="6" fill="#e2252a" stroke="#1c1c1c" stroke-width="1"/>
<circle cx="952" cy="945.8" r="6" fill="#e2252a" stroke="#1c1c1c" stroke-width="1"/>
<circle cx="968.3" cy="945.8" r="6" fill="#e2252a" stroke="#1c1c1c" stroke-width="1"/>
<circle cx="984.6" cy="949.1" r="6" fill="#e2252a" stroke="#1c1c1c" stroke-width="1"/>
<line x1="895.7" y1="947" x2="911.6" y2="947" stroke="#5b67b0" stroke-width="1.1" stroke-dasharray="4 2.5"/>
<line x1="892.5" y1="948.5" x2="914.9" y2="948.5" stroke="#444" stroke-width="1.1" stroke-dasharray="1.2 2"/>
<line x1="899.4" y1="943.7" x2="907.9" y2="943.7" stroke="#444" stroke-width="1.1" stroke-dasharray="1.2 2"/>
<line x1="953.6" y1="924.9" x2="983.1" y2="924.9" stroke="#5b67b0" stroke-width="1.1" stroke-dasharray="4 2.5"/>
<line x1="950.2" y1="937.9" x2="986.5" y2="937.9" stroke="#555" stroke-width="1.1" stroke-dasharray="1.2 2"/>
<line x1="961.6" y1="877.4" x2="975.1" y2="877.4" stroke="#555" stroke-width="1.1" stroke-dasharray="1.2 2"/>
<circle cx="1028" cy="731.4" r="11.2" fill="#3b4a8a" stroke="#1c1c1c" stroke-width="1"/>
<circle cx="1028" cy="769.1" r="11.2" fill="#e2252a" stroke="#1c1c1c" stroke-width="1"/>
<text font-size="27" transform="translate(1055.7 739) scale(0.970 1)">ASCA<tspan font-size="17" dy="-12">−</tspan></text>
<text font-size="27" transform="translate(1055.7 777) scale(0.970 1)">ASCA<tspan font-size="17" dy="-12">+</tspan></text>
<text font-size="40" font-weight="bold" transform="translate(-1.5 1026.5) scale(1.060 1)" stroke="#231f20" stroke-width="1.1">d</text>
<text font-size="26" transform="translate(100.7 1032.8) scale(1.055 1)"><tspan font-style="italic">S. cerevisiae</tspan>-reactive T<tspan font-size="19" dy="7">mem</tspan><tspan dy="-7"> cell</tspan></text>
<text font-size="26" transform="translate(100.7 1077.1) scale(1.070 1)">T cell:IEC ratio</text>
<line x1="95.7" y1="1097.7" x2="95.7" y2="1378" stroke="#4a4a4a" stroke-width="1.2"/>
<line x1="95.7" y1="1378" x2="446.6" y2="1378" stroke="#4a4a4a" stroke-width="1.2"/>
<text font-size="23.5" text-anchor="end" transform="translate(74.7 1371.1) scale(1.070 1)">0</text>
<text font-size="23.5" text-anchor="end" transform="translate(74.7 1311.9) scale(1.070 1)">1</text>
<text font-size="23.5" text-anchor="end" transform="translate(74.7 1252.8) scale(1.070 1)">2</text>
<text font-size="23.5" text-anchor="end" transform="translate(74.7 1193.6) scale(1.070 1)">3</text>
<text font-size="23.5" text-anchor="end" transform="translate(74.7 1134.5) scale(1.070 1)">4</text>
<text font-size="23.5" text-anchor="middle" transform="translate(110.2 1416) scale(1.070 1)">0</text>
<text font-size="23.5" text-anchor="middle" transform="translate(178.2 1416) scale(1.070 1)">16</text>
<text font-size="23.5" text-anchor="middle" transform="translate(246.3 1416) scale(1.070 1)">32</text>
<text font-size="23.5" text-anchor="middle" transform="translate(314.3 1416) scale(1.070 1)">48</text>
<text font-size="23.5" text-anchor="middle" transform="translate(382.4 1416) scale(1.070 1)">64</text>
<path d="M86.2 1362.8h9.5 M86.2 1303.6h9.5 M86.2 1244.5h9.5 M86.2 1185.3h9.5 M86.2 1126.2h9.5 M110.2 1378v9.5 M178.2 1378v9.5 M246.3 1378v9.5 M314.3 1378v9.5 M382.4 1378v9.5" stroke="#4a4a4a" fill="none" stroke-width="1.2"/>
<text font-size="26" text-anchor="middle" transform="translate(270.8 1454) scale(1.070 1)">Time (h)</text>
<text font-size="27.5" text-anchor="middle" transform="translate(40.8 1238.2) rotate(-90) scale(1.085 1)">Cell index</text>
<line x1="117.8" y1="1108.8" x2="140" y2="1108.8" stroke="#111" stroke-width="3" stroke-dasharray="7 4"/>
<text font-size="26" transform="translate(155.2 1117.7) scale(1.070 1)">1:1</text>
<line x1="117.8" y1="1142" x2="140" y2="1142" stroke="#111" stroke-width="3" stroke-dasharray="5 3 2 3"/>
<text font-size="26" transform="translate(155.2 1150.9) scale(1.070 1)">1:2</text>
<line x1="117.8" y1="1175.3" x2="140" y2="1175.3" stroke="#111" stroke-width="3" stroke-dasharray="2 1.5"/>
<text font-size="26" transform="translate(155.2 1184.2) scale(1.070 1)">1:4</text>
<text font-size="26" fill="#707172" transform="translate(458.4 1119.9) scale(1.070 1)">Only IECs</text>
<text font-size="26" transform="translate(458.4 1204.8) scale(1.070 1)">HD</text>
<text font-size="26" fill="#c8202c" transform="translate(458.4 1320) scale(1.070 1)">ASCA<tspan font-size="16" dy="-11">+</tspan><tspan dy="11"> CD</tspan></text>
<text font-size="26" fill="#3c6dbf" transform="translate(458.4 1367.6) scale(1.070 1)">Triton-X</text>
<path d="M110.2 1362.8 L111 1362.4 L111.7 1362 L112.5 1361.6 L113.3 1361.1 L114 1360.7 L114.8 1360.3 L115.6 1359.9 L116.3 1359.5 L117.1 1359.1 L117.9 1358.7 L118.6 1358.3 L119.4 1357.8 L120.2 1357.4 L120.9 1357 L121.7 1356.6 L122.5 1356.2 L123.2 1355.8 L124 1355.4 L124.8 1354.9 L125.5 1354.5 L126.3 1354.1 L127.1 1353.7 L127.8 1353.3 L128.6 1352.9 L129.4 1352.5 L130.1 1352 L130.9 1351.6 L131.7 1351.2 L132.4 1350.8 L133.2 1350.4 L134 1350 L134.7 1349.6 L135.5 1349.2 L136.3 1348.7 L137 1348.3 L137.8 1347.9 L138.6 1347.5 L139.3 1347.1 L140.1 1346.7 L140.9 1346.3 L141.6 1345.8 L142.4 1345.4 L143.2 1345 L143.9 1344.6 L144.7 1344.2 L145.5 1343.8 L146.2 1343.4 L147 1342.9 L147.8 1342.5 L148.5 1342.1 L149.3 1341.7 L150.1 1341.3 L150.8 1340.9 L151.6 1340.5 L152.4 1340.1 L153.1 1339.6 L153.9 1339.2 L154.6 1338.8 L155.4 1338.4 L156.2 1338 L156.9 1337.6 L157.7 1337.2 L158.5 1336.7 L159.2 1336.3 L160 1335.9 L160.8 1335.5 L161.5 1335.1 L162.3 1334.7 L163.1 1334.3 L163.8 1333.9 L164.6 1333.4 L165.4 1333 L166.1 1332.6 L166.9 1332.2 L167.7 1331.8 L168.4 1331.4 L169.2 1331 L170 1330.5 L170.7 1330.1 L171.5 1329.7 L172.3 1329.3 L173 1328.9 L173.8 1328.5 L174.6 1328.1 L175.3 1327.6 L176.1 1327.2 L176.9 1326.8 L177.6 1326.4 L178.4 1326 L179.2 1325.5 L179.9 1325 L180.7 1324.5 L181.5 1324 L182.2 1323.5 L183 1323 L183.8 1322.6 L184.5 1322.1 L185.3 1321.6 L186.1 1321.1 L186.8 1320.6 L187.6 1320.1 L188.4 1319.6 L189.1 1319.1 L189.9 1318.6 L190.7 1318.1 L191.4 1317.7 L192.2 1317.2 L193 1316.7 L193.7 1316.2 L194.5 1315.7 L195.3 1315.2 L196 1314.7 L196.8 1314.2 L197.6 1313.7 L198.3 1313.2 L199.1 1312.8 L199.9 1312.3 L200.6 1311.8 L201.4 1311.3 L202.2 1310.8 L202.9 1310.3 L203.7 1309.8 L204.5 1309.3 L205.2 1308.8 L206 1308.3 L206.8 1307.9 L207.5 1307.4 L208.3 1306.9 L209.1 1306.4 L209.8 1305.9 L210.6 1302.8 L211.4 1302.7 L212.1 1302.5 L212.9 1302.2 L213.7 1302 L214.4 1301.8 L215.2 1301.5 L216 1301.2 L216.7 1300.9 L217.5 1300.6 L218.3 1300.2 L219 1299.9 L219.8 1299.6 L220.6 1299.2 L221.3 1298.9 L222.1 1298.6 L222.9 1298.2 L223.6 1297.9 L224.4 1297.5 L225.2 1297.2 L225.9 1296.9 L226.7 1296.5 L227.5 1296.2 L228.2 1295.8 L229 1295.5 L229.8 1295.2 L230.5 1294.8 L231.3 1294.5 L232.1 1294.1 L232.8 1293.8 L233.6 1293.5 L234.4 1293.1 L235.1 1292.8 L235.9 1292.4 L236.7 1292.1 L237.4 1291.8 L238.2 1291.4 L239 1291.1 L239.7 1290.8 L240.5 1290.4 L241.3 1290.1 L242 1289.7 L242.8 1289.4 L243.5 1289.1 L244.3 1288.8 L245.1 1288.4 L245.8 1288.1 L246.6 1287.8 L247.4 1287.5 L248.1 1287.2 L248.9 1286.9 L249.7 1286.6 L250.4 1286.3 L251.2 1286 L252 1285.7 L252.7 1285.5 L253.5 1285.2 L254.3 1284.9 L255 1284.6 L255.8 1284.4 L256.6 1284.1 L257.3 1283.8 L258.1 1283.6 L258.9 1283.3 L259.6 1283 L260.4 1282.8 L261.2 1282.5 L261.9 1282.2 L262.7 1282 L263.5 1281.7 L264.2 1281.4 L265 1281.2 L265.8 1280.9 L266.5 1280.6 L267.3 1280.4 L268.1 1280.1 L268.8 1279.9 L269.6 1279.6 L270.4 1279.3 L271.1 1279.1 L271.9 1278.8 L272.7 1278.6 L273.4 1278.3 L274.2 1278.1 L275 1277.8 L275.7 1277.6 L276.5 1277.3 L277.3 1277.1 L278 1276.8 L278.8 1276.6 L279.6 1276.3 L280.3 1276.1 L281.1 1275.9 L281.9 1275.7 L282.6 1275.5 L283.4 1275.4 L284.2 1275.2 L284.9 1275.1 L285.7 1275 L286.5 1274.9 L287.2 1274.8 L288 1274.7 L288.8 1274.7 L289.5 1274.7 L290.3 1274.7 L291.1 1274.7 L291.8 1274.7 L292.6 1274.8 L293.4 1274.9 L294.1 1275.1 L294.9 1275.2 L295.7 1275.4 L296.4 1275.5 L297.2 1275.7 L298 1275.9 L298.7 1276.1 L299.5 1276.3 L300.3 1276.6 L301 1276.8 L301.8 1277 L302.6 1277.3 L303.3 1277.6 L304.1 1277.9 L304.9 1278.2 L305.6 1278.4 L306.4 1278.7 L307.2 1279 L307.9 1279.3 L308.7 1279.6 L309.5 1279.9 L310.2 1280.2 L311 1280.5 L311.8 1280.8 L312.5 1281.1 L313.3 1281.4 L314.1 1281.7 L314.8 1282 L315.6 1282.3 L316.4 1282.6 L317.1 1282.9 L317.9 1283.2 L318.7 1283.5 L319.4 1283.8 L320.2 1284.1 L321 1284.4 L321.7 1284.7 L322.5 1285.1 L323.3 1285.4 L324 1285.8 L324.8 1286.1 L325.6 1286.5 L326.3 1286.9 L327.1 1287.3 L327.9 1287.7 L328.6 1288.1 L329.4 1288.5 L330.1 1288.9 L330.9 1289.3 L331.7 1289.7 L332.4 1290.2 L333.2 1290.6 L334 1291 L334.7 1291.5 L335.5 1291.9 L336.3 1292.3 L337 1292.8 L337.8 1293.2 L338.6 1293.7 L339.3 1294.2 L340.1 1294.7 L340.9 1295.2 L341.6 1295.7 L342.4 1296.2 L343.2 1296.7 L343.9 1297.3 L344.7 1297.8 L345.5 1298.4 L346.2 1299 L347 1299.6 L347.8 1300.2 L348.5 1300.8 L349.3 1301.5 L350.1 1302.1 L350.8 1302.8 L351.6 1303.4 L352.4 1304.1 L353.1 1304.8 L353.9 1305.5 L354.7 1306.1 L355.4 1306.8 L356.2 1307.5 L357 1308.1 L357.7 1308.8 L358.5 1309.5 L359.3 1310.1 L360 1310.8 L360.8 1311.5 L361.6 1312.1 L362.3 1312.8 L363.1 1313.5 L363.9 1314.1 L364.6 1314.8 L365.4 1315.5 L366.2 1316.1 L366.9 1316.8 L367.7 1317.4 L368.5 1318 L369.2 1318.6 L370 1319.2 L370.8 1319.8 L371.5 1320.4 L372.3 1321 L373.1 1321.5 L373.8 1322.1 L374.6 1322.6 L375.4 1323.2 L376.1 1323.7 L376.9 1324.2 L377.7 1324.7 L378.4 1325.2 L379.2 1325.6 L380 1326.1 L380.7 1326.6 L381.5 1327 L382.3 1327.5 L383 1327.9 L383.8 1328.4 L384.6 1328.9 L385.3 1329.3 L386.1 1329.8 L386.9 1330.3 L387.6 1330.7 L388.4 1331.2 L389.2 1331.7 L389.9 1332.1 L390.7 1332.6 L391.5 1333 L392.2 1333.5 L393 1334 L393.8 1334.4 L394.5 1334.9 L395.3 1335.4 L396.1 1335.8 L396.8 1336.2 L397.6 1336.7 L398.4 1337.1 L399.1 1337.5 L399.9 1337.9 L400.7 1338.2 L401.4 1338.6 L402.2 1339 L403 1339.3 L403.7 1339.6 L404.5 1340 L405.3 1340.3 L406 1340.6 L406.8 1340.9 L407.6 1341.2 L408.3 1341.4 L409.1 1341.7 L409.9 1341.9 L410.6 1342.2 L411.4 1342.5 L412.2 1342.7 L412.9 1343 L413.7 1343.2 L414.5 1343.5 L415.2 1343.8 L416 1344 L416.7 1344.3 L417.5 1344.5 L418.3 1344.8 L419 1345.1 L419.8 1345.3 L420.6 1345.6 L421.3 1345.8 L422.1 1346.1 L422.9 1346.3 L423.6 1346.6 L424.4 1346.9 L425.2 1347.1 L425.9 1347.3 L426.7 1347.6 L427.5 1347.8 L428.2 1348 L429 1348.1 L429.8 1348.3 L430.5 1348.4 L431.3 1348.6" stroke="#c41f2b" fill="none" stroke-width="3" stroke-dasharray="7 4" stroke-linejoin="round" stroke-linecap="butt"/>
<path d="M110.2 1362.8 L111 1362.4 L111.7 1362 L112.5 1361.6 L113.3 1361.1 L114 1360.7 L114.8 1360.3 L115.6 1359.9 L116.3 1359.5 L117.1 1359.1 L117.9 1358.7 L118.6 1358.3 L119.4 1357.8 L120.2 1357.4 L120.9 1357 L121.7 1356.6 L122.5 1356.2 L123.2 1355.8 L124 1355.4 L124.8 1354.9 L125.5 1354.5 L126.3 1354.1 L127.1 1353.7 L127.8 1353.3 L128.6 1352.9 L129.4 1352.5 L130.1 1352 L130.9 1351.6 L131.7 1351.2 L132.4 1350.8 L133.2 1350.4 L134 1350 L134.7 1349.6 L135.5 1349.2 L136.3 1348.7 L137 1348.3 L137.8 1347.9 L138.6 1347.5 L139.3 1347.1 L140.1 1346.7 L140.9 1346.3 L141.6 1345.8 L142.4 1345.4 L143.2 1345 L143.9 1344.6 L144.7 1344.2 L145.5 1343.8 L146.2 1343.4 L147 1342.9 L147.8 1342.5 L148.5 1342.1 L149.3 1341.7 L150.1 1341.3 L150.8 1340.9 L151.6 1340.5 L152.4 1340.1 L153.1 1339.6 L153.9 1339.2 L154.6 1338.8 L155.4 1338.4 L156.2 1338 L156.9 1337.6 L157.7 1337.2 L158.5 1336.7 L159.2 1336.3 L160 1335.9 L160.8 1335.5 L161.5 1335.1 L162.3 1334.7 L163.1 1334.3 L163.8 1333.9 L164.6 1333.4 L165.4 1333 L166.1 1332.6 L166.9 1332.2 L167.7 1331.8 L168.4 1331.4 L169.2 1331 L170 1330.5 L170.7 1330.1 L171.5 1329.7 L172.3 1329.3 L173 1328.9 L173.8 1328.5 L174.6 1328.1 L175.3 1327.6 L176.1 1327.2 L176.9 1326.8 L177.6 1326.4 L178.4 1326 L179.2 1325.5 L179.9 1325 L180.7 1324.5 L181.5 1324 L182.2 1323.5 L183 1323 L183.8 1322.6 L184.5 1322.1 L185.3 1321.6 L186.1 1321.1 L186.8 1320.6 L187.6 1320.1 L188.4 1319.6 L189.1 1319.1 L189.9 1318.6 L190.7 1318.1 L191.4 1317.7 L192.2 1317.2 L193 1316.7 L193.7 1316.2 L194.5 1315.7 L195.3 1315.2 L196 1314.7 L196.8 1314.2 L197.6 1313.7 L198.3 1313.2 L199.1 1312.8 L199.9 1312.3 L200.6 1311.8 L201.4 1311.3 L202.2 1310.8 L202.9 1310.3 L203.7 1309.8 L204.5 1309.3 L205.2 1308.8 L206 1308.3 L206.8 1307.9 L207.5 1307.4 L208.3 1306.9 L209.1 1306.4 L209.8 1305.9 L210.6 1302.8 L211.4 1302.7 L212.1 1302.5 L212.9 1302.2 L213.7 1302 L214.4 1301.8 L215.2 1301.5 L216 1301.2 L216.7 1300.9 L217.5 1300.6 L218.3 1300.2 L219 1299.9 L219.8 1299.6 L220.6 1299.2 L221.3 1298.9 L222.1 1298.6 L222.9 1298.2 L223.6 1297.9 L224.4 1297.5 L225.2 1297.2 L225.9 1296.9 L226.7 1296.5 L227.5 1296.2 L228.2 1295.8 L229 1295.5 L229.8 1295.2 L230.5 1294.8 L231.3 1294.5 L232.1 1294.1 L232.8 1293.8 L233.6 1293.5 L234.4 1293.1 L235.1 1292.8 L235.9 1292.4 L236.7 1292.1 L237.4 1291.8 L238.2 1291.4 L239 1291.1 L239.7 1290.8 L240.5 1290.4 L241.3 1290.1 L242 1289.7 L242.8 1289.4 L243.5 1289.1 L244.3 1288.8 L245.1 1288.4 L245.8 1288.1 L246.6 1287.8 L247.4 1287.5 L248.1 1287.2 L248.9 1286.9 L249.7 1286.6 L250.4 1286.3 L251.2 1286 L252 1285.7 L252.7 1285.5 L253.5 1285.2 L254.3 1284.9 L255 1284.6 L255.8 1284.4 L256.6 1284.1 L257.3 1283.8 L258.1 1283.6 L258.9 1283.3 L259.6 1283 L260.4 1282.8 L261.2 1282.5 L261.9 1282.2 L262.7 1282 L263.5 1281.7 L264.2 1281.4 L265 1281.2 L265.8 1280.9 L266.5 1280.6 L267.3 1280.4 L268.1 1280.1 L268.8 1279.9 L269.6 1279.6 L270.4 1279.3 L271.1 1279.1 L271.9 1278.8 L272.7 1278.6 L273.4 1278.3 L274.2 1278.1 L275 1277.8 L275.7 1277.6 L276.5 1277.3 L277.3 1277.1 L278 1276.8 L278.8 1276.6 L279.6 1276.3 L280.3 1276.1 L281.1 1275.9 L281.9 1275.7 L282.6 1275.5 L283.4 1275.3 L284.2 1275.1 L284.9 1275 L285.7 1274.8 L286.5 1274.7 L287.2 1274.6 L288 1274.5 L288.8 1274.4 L289.5 1274.3 L290.3 1274.2 L291.1 1274.2 L291.8 1274.1 L292.6 1274.1 L293.4 1274.1 L294.1 1274.1 L294.9 1274.1 L295.7 1274.1 L296.4 1274.1 L297.2 1274.2 L298 1274.2 L298.7 1274.3 L299.5 1274.4 L300.3 1274.4 L301 1274.5 L301.8 1274.7 L302.6 1274.8 L303.3 1274.9 L304.1 1275.1 L304.9 1275.2 L305.6 1275.4 L306.4 1275.6 L307.2 1275.8 L307.9 1276 L308.7 1276.2 L309.5 1276.5 L310.2 1276.7 L311 1276.9 L311.8 1277.2 L312.5 1277.4 L313.3 1277.6 L314.1 1277.9 L314.8 1278.1 L315.6 1278.3 L316.4 1278.6 L317.1 1278.8 L317.9 1279 L318.7 1279.3 L319.4 1279.5 L320.2 1279.8 L321 1280 L321.7 1280.3 L322.5 1280.6 L323.3 1280.9 L324 1281.2 L324.8 1281.5 L325.6 1281.8 L326.3 1282.1 L327.1 1282.4 L327.9 1282.8 L328.6 1283.1 L329.4 1283.5 L330.1 1283.8 L330.9 1284.2 L331.7 1284.6 L332.4 1284.9 L333.2 1285.3 L334 1285.7 L334.7 1286.1 L335.5 1286.5 L336.3 1286.9 L337 1287.3 L337.8 1287.7 L338.6 1288.1 L339.3 1288.5 L340.1 1288.9 L340.9 1289.3 L341.6 1289.7 L342.4 1290.1 L343.2 1290.6 L343.9 1291 L344.7 1291.4 L345.5 1291.9 L346.2 1292.3 L347 1292.8 L347.8 1293.2 L348.5 1293.7 L349.3 1294.1 L350.1 1294.6 L350.8 1295.1 L351.6 1295.6 L352.4 1296 L353.1 1296.5 L353.9 1297 L354.7 1297.5 L355.4 1297.9 L356.2 1298.4 L357 1298.9 L357.7 1299.4 L358.5 1299.9 L359.3 1300.3 L360 1300.8 L360.8 1301.3 L361.6 1301.8 L362.3 1302.2 L363.1 1302.7 L363.9 1303.2 L364.6 1303.7 L365.4 1304.2 L366.2 1304.6 L366.9 1305.1 L367.7 1305.6 L368.5 1306.1 L369.2 1306.5 L370 1307 L370.8 1307.5 L371.5 1307.9 L372.3 1308.4 L373.1 1308.9 L373.8 1309.4 L374.6 1309.8 L375.4 1310.3 L376.1 1310.8 L376.9 1311.2 L377.7 1311.7 L378.4 1312.2 L379.2 1312.6 L380 1313.1 L380.7 1313.5 L381.5 1314 L382.3 1314.5 L383 1314.9 L383.8 1315.4 L384.6 1315.9 L385.3 1316.3 L386.1 1316.8 L386.9 1317.3 L387.6 1317.7 L388.4 1318.2 L389.2 1318.6 L389.9 1319.1 L390.7 1319.6 L391.5 1320 L392.2 1320.5 L393 1321 L393.8 1321.4 L394.5 1321.9 L395.3 1322.3 L396.1 1322.8 L396.8 1323.2 L397.6 1323.6 L398.4 1324.1 L399.1 1324.5 L399.9 1324.9 L400.7 1325.2 L401.4 1325.6 L402.2 1326 L403 1326.3 L403.7 1326.7 L404.5 1327 L405.3 1327.3 L406 1327.7 L406.8 1328 L407.6 1328.3 L408.3 1328.6 L409.1 1328.8 L409.9 1329.1 L410.6 1329.4 L411.4 1329.6 L412.2 1329.9 L412.9 1330.2 L413.7 1330.5 L414.5 1330.7 L415.2 1331 L416 1331.3 L416.7 1331.6 L417.5 1331.8 L418.3 1332.1 L419 1332.4 L419.8 1332.7 L420.6 1332.9 L421.3 1333.2 L422.1 1333.5 L422.9 1333.8 L423.6 1334 L424.4 1334.3 L425.2 1334.6 L425.9 1334.8 L426.7 1335 L427.5 1335.3 L428.2 1335.5 L429 1335.6 L429.8 1335.8 L430.5 1336 L431.3 1336.1" stroke="#c41f2b" fill="none" stroke-width="3" stroke-dasharray="6 2.5 2 2.5" stroke-linejoin="round" stroke-linecap="butt"/>
<path d="M110.2 1362.8 L111 1362.4 L111.7 1362 L112.5 1361.6 L113.3 1361.1 L114 1360.7 L114.8 1360.3 L115.6 1359.9 L116.3 1359.5 L117.1 1359.1 L117.9 1358.7 L118.6 1358.3 L119.4 1357.8 L120.2 1357.4 L120.9 1357 L121.7 1356.6 L122.5 1356.2 L123.2 1355.8 L124 1355.4 L124.8 1354.9 L125.5 1354.5 L126.3 1354.1 L127.1 1353.7 L127.8 1353.3 L128.6 1352.9 L129.4 1352.5 L130.1 1352 L130.9 1351.6 L131.7 1351.2 L132.4 1350.8 L133.2 1350.4 L134 1350 L134.7 1349.6 L135.5 1349.2 L136.3 1348.7 L137 1348.3 L137.8 1347.9 L138.6 1347.5 L139.3 1347.1 L140.1 1346.7 L140.9 1346.3 L141.6 1345.8 L142.4 1345.4 L143.2 1345 L143.9 1344.6 L144.7 1344.2 L145.5 1343.8 L146.2 1343.4 L147 1342.9 L147.8 1342.5 L148.5 1342.1 L149.3 1341.7 L150.1 1341.3 L150.8 1340.9 L151.6 1340.5 L152.4 1340.1 L153.1 1339.6 L153.9 1339.2 L154.6 1338.8 L155.4 1338.4 L156.2 1338 L156.9 1337.6 L157.7 1337.2 L158.5 1336.7 L159.2 1336.3 L160 1335.9 L160.8 1335.5 L161.5 1335.1 L162.3 1334.7 L163.1 1334.3 L163.8 1333.9 L164.6 1333.4 L165.4 1333 L166.1 1332.6 L166.9 1332.2 L167.7 1331.8 L168.4 1331.4 L169.2 1331 L170 1330.5 L170.7 1330.1 L171.5 1329.7 L172.3 1329.3 L173 1328.9 L173.8 1328.5 L174.6 1328.1 L175.3 1327.6 L176.1 1327.2 L176.9 1326.8 L177.6 1326.4 L178.4 1326 L179.2 1325.5 L179.9 1325 L180.7 1324.5 L181.5 1324 L182.2 1323.5 L183 1323 L183.8 1322.6 L184.5 1322.1 L185.3 1321.6 L186.1 1321.1 L186.8 1320.6 L187.6 1320.1 L188.4 1319.6 L189.1 1319.1 L189.9 1318.6 L190.7 1318.1 L191.4 1317.7 L192.2 1317.2 L193 1316.7 L193.7 1316.2 L194.5 1315.7 L195.3 1315.2 L196 1314.7 L196.8 1314.2 L197.6 1313.7 L198.3 1313.2 L199.1 1312.8 L199.9 1312.3 L200.6 1311.8 L201.4 1311.3 L202.2 1310.8 L202.9 1310.3 L203.7 1309.8 L204.5 1309.3 L205.2 1308.8 L206 1308.3 L206.8 1307.9 L207.5 1307.4 L208.3 1306.9 L209.1 1306.4 L209.8 1305.9 L210.6 1302.8 L211.4 1302.7 L212.1 1302.5 L212.9 1302.2 L213.7 1302 L214.4 1301.8 L215.2 1301.5 L216 1301.2 L216.7 1300.9 L217.5 1300.6 L218.3 1300.2 L219 1299.9 L219.8 1299.6 L220.6 1299.2 L221.3 1298.9 L222.1 1298.6 L222.9 1298.2 L223.6 1297.9 L224.4 1297.5 L225.2 1297.2 L225.9 1296.9 L226.7 1296.5 L227.5 1296.2 L228.2 1295.8 L229 1295.5 L229.8 1295.2 L230.5 1294.8 L231.3 1294.5 L232.1 1294.1 L232.8 1293.8 L233.6 1293.5 L234.4 1293.1 L235.1 1292.8 L235.9 1292.4 L236.7 1292.1 L237.4 1291.8 L238.2 1291.4 L239 1291.1 L239.7 1290.8 L240.5 1290.4 L241.3 1290.1 L242 1289.7 L242.8 1289.4 L243.5 1289.1 L244.3 1288.8 L245.1 1288.4 L245.8 1288.1 L246.6 1287.8 L247.4 1287.5 L248.1 1287.2 L248.9 1286.9 L249.7 1286.6 L250.4 1286.3 L251.2 1286 L252 1285.7 L252.7 1285.5 L253.5 1285.2 L254.3 1284.9 L255 1284.6 L255.8 1284.4 L256.6 1284.1 L257.3 1283.8 L258.1 1283.6 L258.9 1283.3 L259.6 1283 L260.4 1282.8 L261.2 1282.5 L261.9 1282.2 L262.7 1282 L263.5 1281.7 L264.2 1281.4 L265 1281.2 L265.8 1280.9 L266.5 1280.6 L267.3 1280.4 L268.1 1280.1 L268.8 1279.9 L269.6 1279.6 L270.4 1279.3 L271.1 1279.1 L271.9 1278.8 L272.7 1278.6 L273.4 1278.3 L274.2 1278.1 L275 1277.8 L275.7 1277.6 L276.5 1277.3 L277.3 1277.1 L278 1276.8 L278.8 1276.6 L279.6 1276.3 L280.3 1276.1 L281.1 1275.9 L281.9 1275.6 L282.6 1275.4 L283.4 1275.2 L284.2 1275 L284.9 1274.8 L285.7 1274.6 L286.5 1274.4 L287.2 1274.2 L288 1274 L288.8 1273.8 L289.5 1273.7 L290.3 1273.5 L291.1 1273.3 L291.8 1273.2 L292.6 1273 L293.4 1272.9 L294.1 1272.8 L294.9 1272.6 L295.7 1272.5 L296.4 1272.4 L297.2 1272.2 L298 1272.1 L298.7 1272 L299.5 1271.8 L300.3 1271.7 L301 1271.6 L301.8 1271.4 L302.6 1271.3 L303.3 1271.1 L304.1 1271 L304.9 1270.9 L305.6 1270.7 L306.4 1270.6 L307.2 1270.5 L307.9 1270.3 L308.7 1270.2 L309.5 1270.1 L310.2 1269.9 L311 1269.8 L311.8 1269.7 L312.5 1269.6 L313.3 1269.5 L314.1 1269.4 L314.8 1269.4 L315.6 1269.3 L316.4 1269.3 L317.1 1269.2 L317.9 1269.2 L318.7 1269.2 L319.4 1269.2 L320.2 1269.2 L321 1269.2 L321.7 1269.2 L322.5 1269.3 L323.3 1269.3 L324 1269.4 L324.8 1269.4 L325.6 1269.5 L326.3 1269.6 L327.1 1269.7 L327.9 1269.7 L328.6 1269.8 L329.4 1269.9 L330.1 1269.9 L330.9 1270 L331.7 1270.1 L332.4 1270.1 L333.2 1270.2 L334 1270.3 L334.7 1270.3 L335.5 1270.4 L336.3 1270.5 L337 1270.5 L337.8 1270.6 L338.6 1270.7 L339.3 1270.8 L340.1 1271 L340.9 1271.1 L341.6 1271.3 L342.4 1271.5 L343.2 1271.6 L343.9 1271.9 L344.7 1272.1 L345.5 1272.3 L346.2 1272.6 L347 1272.8 L347.8 1273.1 L348.5 1273.4 L349.3 1273.7 L350.1 1274 L350.8 1274.4 L351.6 1274.7 L352.4 1275.1 L353.1 1275.4 L353.9 1275.8 L354.7 1276.1 L355.4 1276.5 L356.2 1276.8 L357 1277.2 L357.7 1277.5 L358.5 1277.9 L359.3 1278.2 L360 1278.6 L360.8 1278.9 L361.6 1279.3 L362.3 1279.6 L363.1 1280 L363.9 1280.3 L364.6 1280.7 L365.4 1281 L366.2 1281.4 L366.9 1281.7 L367.7 1282.1 L368.5 1282.5 L369.2 1282.8 L370 1283.2 L370.8 1283.6 L371.5 1284 L372.3 1284.4 L373.1 1284.8 L373.8 1285.2 L374.6 1285.6 L375.4 1286 L376.1 1286.4 L376.9 1286.8 L377.7 1287.2 L378.4 1287.7 L379.2 1288.1 L380 1288.5 L380.7 1288.9 L381.5 1289.4 L382.3 1289.8 L383 1290.2 L383.8 1290.7 L384.6 1291.1 L385.3 1291.5 L386.1 1292 L386.9 1292.4 L387.6 1292.8 L388.4 1293.3 L389.2 1293.7 L389.9 1294.1 L390.7 1294.6 L391.5 1295 L392.2 1295.4 L393 1295.9 L393.8 1296.3 L394.5 1296.7 L395.3 1297.2 L396.1 1297.6 L396.8 1298 L397.6 1298.4 L398.4 1298.8 L399.1 1299.2 L399.9 1299.6 L400.7 1299.9 L401.4 1300.3 L402.2 1300.7 L403 1301 L403.7 1301.3 L404.5 1301.7 L405.3 1302 L406 1302.3 L406.8 1302.6 L407.6 1303 L408.3 1303.3 L409.1 1303.5 L409.9 1303.8 L410.6 1304.1 L411.4 1304.4 L412.2 1304.7 L412.9 1305 L413.7 1305.3 L414.5 1305.6 L415.2 1305.9 L416 1306.1 L416.7 1306.4 L417.5 1306.7 L418.3 1307 L419 1307.3 L419.8 1307.6 L420.6 1307.9 L421.3 1308.2 L422.1 1308.5 L422.9 1308.7 L423.6 1309 L424.4 1309.3 L425.2 1309.6 L425.9 1309.9 L426.7 1310.1 L427.5 1310.3 L428.2 1310.5 L429 1310.7 L429.8 1310.9 L430.5 1311.1 L431.3 1311.2" stroke="#c41f2b" fill="none" stroke-width="3" stroke-dasharray="2 1.6" stroke-linejoin="round" stroke-linecap="butt"/>
<path d="M110.2 1363.6 L111 1362.1 L111.7 1359.3 L112.5 1359.9 L113.3 1356.9 L114 1356.9 L114.8 1353 L115.6 1352.1 L116.3 1349.8 L117.1 1349.6 L117.9 1347.4 L118.6 1346.4 L119.4 1345.9 L120.2 1344.6 L120.9 1344.9 L121.7 1343.6 L122.5 1342.1 L123.2 1341.9 L124 1341.4 L124.8 1338.8 L125.5 1339.5 L126.3 1339.2 L127.1 1337.9 L127.8 1337.6 L128.6 1336.7 L129.4 1335.9 L130.1 1333.4 L130.9 1334.1 L131.7 1333.2 L132.4 1332 L133.2 1330.3 L134 1331.3 L134.7 1331.1 L135.5 1328.3 L136.3 1330.6 L137 1329.3 L137.8 1328 L138.6 1326.3 L139.3 1328 L140.1 1328.5 L140.9 1325.8 L141.6 1326.1 L142.4 1325.5 L143.2 1324.3 L143.9 1323.9 L144.7 1323.4 L145.5 1323.3 L146.2 1321.6 L147 1320.9 L147.8 1321.4 L148.5 1321.2 L149.3 1319.8 L150.1 1319.4 L150.8 1319.9 L151.6 1319 L152.4 1317.4 L153.1 1317.8 L153.9 1317.6 L154.6 1316.8 L155.4 1316.6 L156.2 1316.2 L156.9 1317.2 L157.7 1314.2 L158.5 1315 L159.2 1315.4 L160 1313.7 L160.8 1313.8 L161.5 1313.6 L162.3 1312.5 L163.1 1311.2 L163.8 1312.1 L164.6 1311 L165.4 1310.2 L166.1 1312.1 L166.9 1311.3 L167.7 1310 L168.4 1311.4 L169.2 1310 L170 1308.6 L170.7 1308.4 L171.5 1308.3 L172.3 1309.7 L173 1306.3 L173.8 1307.2 L174.6 1306.7 L175.3 1306.5 L176.1 1307.7 L176.9 1307.1 L177.6 1306.6 L178.4 1304 L179.2 1305.5 L179.9 1304.7 L180.7 1304.4 L181.5 1303.4 L182.2 1303 L183 1302.7 L183.8 1303.4 L184.5 1304.3 L185.3 1301.5 L186.1 1301 L186.8 1299.9 L187.6 1300.4 L188.4 1300.3 L189.1 1299.2 L189.9 1300.1 L190.7 1299.3 L191.4 1298.9 L192.2 1297.5 L193 1295.8 L193.7 1296.3 L194.5 1295.6 L195.3 1295.8 L196 1295.3 L196.8 1295.4 L197.6 1294.9 L198.3 1296 L199.1 1294.7 L199.9 1294.3 L200.6 1292.3 L201.4 1292 L202.2 1291.2 L202.9 1290.3 L203.7 1291 L204.5 1289.5 L205.2 1288.2 L206 1289 L206.8 1287.6 L207.5 1287.9 L208.3 1288 L209.1 1285.4 L209.8 1286.1 L211.4 1303.6 L212.3 1314.6 L213.6 1306.4 L214.8 1299.3 L215.2 1292.9 L216 1292.7 L216.7 1293.1 L217.5 1292.7 L218.3 1291.1 L219 1289.6 L219.8 1288.8 L220.6 1287.6 L221.3 1288.1 L222.1 1286.3 L222.9 1283.3 L223.6 1282.9 L224.4 1283 L225.2 1281.4 L225.9 1280.8 L226.7 1279.5 L227.5 1277 L228.2 1277.1 L229 1275.2 L229.8 1275.1 L230.5 1275.5 L231.3 1274.2 L232.1 1271.4 L232.8 1273 L233.6 1272.6 L234.4 1270.4 L235.1 1270.7 L235.9 1270.3 L236.7 1268.9 L237.4 1270.8 L238.2 1268.8 L239 1269.5 L239.7 1269.3 L240.5 1268.5 L241.3 1266.7 L242 1267.2 L242.8 1268 L243.5 1267.1 L244.3 1264.8 L245.1 1264.7 L245.8 1265.8 L246.6 1262.9 L247.4 1264.5 L248.1 1264.7 L248.9 1263.5 L249.7 1262.3 L250.4 1261.4 L251.2 1261.4 L252 1262.1 L252.7 1261.8 L253.5 1262.1 L254.3 1260.7 L255 1260.7 L255.8 1259.7 L256.6 1260.5 L257.3 1259.6 L258.1 1259.5 L258.9 1259.4 L259.6 1259.1 L260.4 1258.7 L261.2 1258.5 L261.9 1256.9 L262.7 1256.9 L263.5 1257.7 L264.2 1256.1 L265 1256 L265.8 1254.9 L266.5 1255.8 L267.3 1255.5 L268.1 1255.6 L268.8 1254.8 L269.6 1254.2 L270.4 1254.2 L271.1 1254.2 L271.9 1253.4 L272.7 1253.5 L273.4 1253.1 L274.2 1253.7 L275 1252.6 L275.7 1253.2 L276.5 1252.8 L277.3 1251.8 L278 1250.1 L278.8 1250.7 L279.6 1251.1 L280.3 1251 L281.1 1249.9 L281.9 1249.3 L282.6 1249.2 L283.4 1250 L284.2 1249.4 L284.9 1249.6 L285.7 1249.3 L286.5 1249.4 L287.2 1248.8 L288 1249.9 L288.8 1249 L289.5 1247.5 L290.3 1248.3 L291.1 1247 L291.8 1248.1 L292.6 1247.2 L293.4 1246.4 L294.1 1247.2 L294.9 1246.8 L295.7 1244.2 L296.4 1246.3 L297.2 1246.1 L298 1245.8 L298.7 1245.1 L299.5 1244.9 L300.3 1243.9 L301 1243.9 L301.8 1244.5 L302.6 1244.2 L303.3 1244.8 L304.1 1244.6 L304.9 1243.8 L305.6 1242.6 L306.4 1242.8 L307.2 1242.1 L307.9 1241.7 L308.7 1242.3 L309.5 1240.4 L310.2 1242.1 L311 1242 L311.8 1241.6 L312.5 1240.2 L313.3 1240.9 L314.1 1241.1 L314.8 1240.1 L315.6 1239.3 L316.4 1240 L317.1 1239.9 L317.9 1238.7 L318.7 1238.5 L319.4 1238.3 L320.2 1239.4 L321 1238.4 L321.7 1238.1 L322.5 1239.4 L323.3 1237 L324 1237.6 L324.8 1237.7 L325.6 1235.6 L326.3 1236.9 L327.1 1237.3 L327.9 1236.6 L328.6 1235.9 L329.4 1235.4 L330.1 1235.8 L330.9 1236.2 L331.7 1235.8 L332.4 1235.7 L333.2 1235.6 L334 1234.6 L334.7 1234.7 L335.5 1234.1 L336.3 1234.5 L337 1234.3 L337.8 1233.6 L338.6 1233.5 L339.3 1232.1 L340.1 1233.4 L340.9 1232.3 L341.6 1232.3 L342.4 1233 L343.2 1231.3 L343.9 1231.4 L344.7 1232.8 L345.5 1230.6 L346.2 1230.2 L347 1231.2 L347.8 1229.1 L348.5 1230 L349.3 1230.7 L350.1 1229.2 L350.8 1229.7 L351.6 1230.1 L352.4 1230.5 L353.1 1228.5 L353.9 1229 L354.7 1227.8 L355.4 1227.7 L356.2 1228.1 L357 1227.9 L357.7 1226 L358.5 1225.8 L359.3 1226.3 L360 1226.9 L360.8 1227.1 L361.6 1226.5 L362.3 1224.8 L363.1 1225.4 L363.9 1225.8 L364.6 1226.2 L365.4 1225 L366.2 1225.6 L366.9 1224.7 L367.7 1224 L368.5 1223.6 L369.2 1224.1 L370 1224.3 L370.8 1223.7 L371.5 1222.4 L372.3 1223.2 L373.1 1224.3 L373.8 1222 L374.6 1222.8 L375.4 1220.3 L376.1 1222.9 L376.9 1222.5 L377.7 1222.4 L378.4 1221.8 L379.2 1222.3 L380 1222.8 L380.7 1222.9 L381.5 1221.4 L382.3 1221.5 L383 1221.4 L383.8 1219.3 L384.6 1220.1 L385.3 1219.7 L386.1 1220.6 L386.9 1219.9 L387.6 1220.1 L388.4 1219.9 L389.2 1219 L389.9 1219 L390.7 1219 L391.5 1218.9 L392.2 1219.9 L393 1219.2 L393.8 1218.2 L394.5 1218.6 L395.3 1218.7 L396.1 1217.7 L396.8 1218.5 L397.6 1218.2 L398.4 1216.9 L399.1 1217.6 L399.9 1216.2 L400.7 1216.7 L401.4 1216.4 L402.2 1216.1 L403 1218.3 L403.7 1216.7 L404.5 1217.5 L405.3 1216.8 L406 1216.5 L406.8 1215.4 L407.6 1216.3 L408.3 1215 L409.1 1216.5 L409.9 1216.1 L410.6 1215.9 L411.4 1215.2 L412.2 1215.9 L412.9 1216.2 L413.7 1216 L414.5 1216.7 L415.2 1214.7 L416 1215 L416.7 1215.2 L417.5 1215.2 L418.3 1215.8 L419 1215.6 L419.8 1214.7 L420.6 1215.8 L421.3 1215.7 L422.1 1213.9 L422.9 1213.9 L423.6 1214.7 L424.4 1214.5 L425.2 1214.7 L425.9 1213.7 L426.7 1215 L427.5 1214.6 L428.2 1214.3 L429 1213.5 L429.8 1214.7 L430.5 1214.3 L431.3 1214.8" stroke="#151515" fill="none" stroke-width="3" stroke-dasharray="7 4" stroke-linejoin="round" stroke-linecap="butt"/>
<path d="M110.2 1363.3 L111 1361.7 L111.7 1359.5 L112.5 1357.4 L113.3 1356.9 L114 1355.2 L114.8 1353.5 L115.6 1351.4 L116.3 1349.5 L117.1 1349.3 L117.9 1346.6 L118.6 1345.9 L119.4 1343.8 L120.2 1344.3 L120.9 1343.6 L121.7 1342.5 L122.5 1341.3 L123.2 1341.1 L124 1339.5 L124.8 1338.8 L125.5 1338 L126.3 1337.1 L127.1 1335.9 L127.8 1336.2 L128.6 1334.9 L129.4 1334.2 L130.1 1334.8 L130.9 1332.3 L131.7 1332.4 L132.4 1331.5 L133.2 1330.6 L134 1329.6 L134.7 1328.9 L135.5 1328.3 L136.3 1328.6 L137 1327 L137.8 1326.7 L138.6 1326.7 L139.3 1325.9 L140.1 1324.8 L140.9 1324.5 L141.6 1323.8 L142.4 1323.6 L143.2 1322.4 L143.9 1321 L144.7 1321.8 L145.5 1322.7 L146.2 1319.8 L147 1320.8 L147.8 1320.9 L148.5 1321 L149.3 1318.5 L150.1 1317.5 L150.8 1317 L151.6 1317.4 L152.4 1315.6 L153.1 1316.3 L153.9 1316.3 L154.6 1315.5 L155.4 1315 L156.2 1314.7 L156.9 1314.1 L157.7 1315.6 L158.5 1312.5 L159.2 1313.7 L160 1312.4 L160.8 1313.1 L161.5 1312 L162.3 1311.9 L163.1 1312.5 L163.8 1310.7 L164.6 1310.2 L165.4 1311 L166.1 1311.4 L166.9 1310 L167.7 1309.7 L168.4 1308.7 L169.2 1308.4 L170 1306.8 L170.7 1307.2 L171.5 1307.4 L172.3 1306.7 L173 1308.5 L173.8 1306.8 L174.6 1306.4 L175.3 1305.4 L176.1 1304.8 L176.9 1304.5 L177.6 1303.6 L178.4 1304.3 L179.2 1303.3 L179.9 1303.2 L180.7 1302.7 L181.5 1302.1 L182.2 1302.1 L183 1301.3 L183.8 1301 L184.5 1299.9 L185.3 1300.2 L186.1 1299.5 L186.8 1297.4 L187.6 1298.4 L188.4 1298 L189.1 1297.2 L189.9 1298.3 L190.7 1296.6 L191.4 1296.1 L192.2 1295.9 L193 1295.1 L193.7 1294.8 L194.5 1294.1 L195.3 1295 L196 1293.8 L196.8 1294 L197.6 1292.3 L198.3 1292.7 L199.1 1293.2 L199.9 1291.8 L200.6 1292.2 L201.4 1290.3 L202.2 1290.8 L202.9 1291.5 L203.7 1289.6 L204.5 1288 L205.2 1287.9 L206 1288 L206.8 1286.4 L207.5 1285.9 L208.3 1284.4 L209.1 1283.3 L209.8 1283.8 L211.4 1304.2 L212.3 1314.1 L213.6 1306.4 L214.8 1297.7 L215.2 1294.1 L216 1294.5 L216.7 1292.5 L217.5 1292 L218.3 1290.8 L219 1290.2 L219.8 1289.3 L220.6 1287.8 L221.3 1286.2 L222.1 1285.7 L222.9 1284 L223.6 1283.6 L224.4 1281.7 L225.2 1280.8 L225.9 1280.7 L226.7 1278 L227.5 1278.5 L228.2 1277 L229 1277.1 L229.8 1276.6 L230.5 1274.2 L231.3 1275 L232.1 1274.8 L232.8 1272.9 L233.6 1273.3 L234.4 1271.9 L235.1 1270 L235.9 1271.2 L236.7 1270.3 L237.4 1269.8 L238.2 1269.7 L239 1269.6 L239.7 1268.1 L240.5 1268.9 L241.3 1268.3 L242 1268.1 L242.8 1268.7 L243.5 1267.2 L244.3 1267.1 L245.1 1266.3 L245.8 1265.9 L246.6 1265 L247.4 1267.1 L248.1 1265.8 L248.9 1265.4 L249.7 1265.3 L250.4 1264.1 L251.2 1264.1 L252 1263.6 L252.7 1264.5 L253.5 1263.7 L254.3 1262.7 L255 1262.7 L255.8 1262.5 L256.6 1261.8 L257.3 1261.6 L258.1 1261.8 L258.9 1259.6 L259.6 1260.9 L260.4 1259.7 L261.2 1259.4 L261.9 1258.9 L262.7 1259.7 L263.5 1259.7 L264.2 1258.4 L265 1258.2 L265.8 1259.8 L266.5 1259.7 L267.3 1257.9 L268.1 1257.5 L268.8 1257.2 L269.6 1256.4 L270.4 1257.1 L271.1 1254.3 L271.9 1255.2 L272.7 1254.7 L273.4 1255.1 L274.2 1256.5 L275 1254.6 L275.7 1254.8 L276.5 1253.9 L277.3 1254 L278 1253.1 L278.8 1253.9 L279.6 1253.3 L280.3 1252.8 L281.1 1253 L281.9 1252.5 L282.6 1251.5 L283.4 1250.2 L284.2 1251.4 L284.9 1250.4 L285.7 1251.5 L286.5 1250.7 L287.2 1249.9 L288 1249.4 L288.8 1250.2 L289.5 1248.7 L290.3 1248.7 L291.1 1247.6 L291.8 1247.5 L292.6 1247.5 L293.4 1247.8 L294.1 1247 L294.9 1247.5 L295.7 1247.1 L296.4 1247.5 L297.2 1246.8 L298 1246.4 L298.7 1245.3 L299.5 1244.8 L300.3 1245.5 L301 1244.3 L301.8 1243.6 L302.6 1242.9 L303.3 1243.3 L304.1 1242.7 L304.9 1242.8 L305.6 1241.6 L306.4 1243 L307.2 1241.4 L307.9 1242.9 L308.7 1239.7 L309.5 1239.9 L310.2 1241.7 L311 1240.3 L311.8 1240.6 L312.5 1240.5 L313.3 1239.2 L314.1 1239.2 L314.8 1237.5 L315.6 1238.3 L316.4 1238.4 L317.1 1237.3 L317.9 1236.6 L318.7 1236 L319.4 1235.9 L320.2 1237 L321 1236.2 L321.7 1235.5 L322.5 1235.6 L323.3 1234.2 L324 1234.6 L324.8 1234.2 L325.6 1234.1 L326.3 1233.5 L327.1 1234.3 L327.9 1231.5 L328.6 1233.1 L329.4 1232.9 L330.1 1233.4 L330.9 1231.9 L331.7 1232.5 L332.4 1231.1 L333.2 1230.2 L334 1230.4 L334.7 1230.9 L335.5 1229.4 L336.3 1230.2 L337 1229.8 L337.8 1229.5 L338.6 1229.6 L339.3 1228.7 L340.1 1229.6 L340.9 1229.7 L341.6 1227.4 L342.4 1228.5 L343.2 1227.9 L343.9 1227.2 L344.7 1227.5 L345.5 1227.7 L346.2 1226.8 L347 1227 L347.8 1225.7 L348.5 1226.2 L349.3 1225.8 L350.1 1224.8 L350.8 1226.2 L351.6 1225.9 L352.4 1224 L353.1 1223.4 L353.9 1224 L354.7 1224.3 L355.4 1222.7 L356.2 1222.9 L357 1222.3 L357.7 1224 L358.5 1222.5 L359.3 1222.9 L360 1222.7 L360.8 1221.2 L361.6 1220.8 L362.3 1221.4 L363.1 1220.9 L363.9 1219.5 L364.6 1219.7 L365.4 1219.9 L366.2 1219.2 L366.9 1219.1 L367.7 1219.8 L368.5 1218.9 L369.2 1218.1 L370 1217.5 L370.8 1218.4 L371.5 1217.8 L372.3 1217.3 L373.1 1217.7 L373.8 1215.5 L374.6 1215.6 L375.4 1214.7 L376.1 1216.8 L376.9 1215.5 L377.7 1213.4 L378.4 1215.3 L379.2 1215.2 L380 1213.5 L380.7 1212.2 L381.5 1212.5 L382.3 1213.3 L383 1211.9 L383.8 1211.7 L384.6 1211.5 L385.3 1211 L386.1 1210.4 L386.9 1209.8 L387.6 1209.4 L388.4 1209.2 L389.2 1209.7 L389.9 1210.6 L390.7 1208.6 L391.5 1209.7 L392.2 1206.7 L393 1208.8 L393.8 1208.9 L394.5 1208.6 L395.3 1206.7 L396.1 1206.4 L396.8 1205.9 L397.6 1205.8 L398.4 1206.2 L399.1 1204.7 L399.9 1205.4 L400.7 1205.7 L401.4 1203.6 L402.2 1203.5 L403 1204.2 L403.7 1203.4 L404.5 1202.1 L405.3 1201.8 L406 1202.9 L406.8 1201 L407.6 1203.2 L408.3 1201 L409.1 1200.4 L409.9 1200.4 L410.6 1199.9 L411.4 1200.7 L412.2 1199.3 L412.9 1198.5 L413.7 1199.1 L414.5 1198 L415.2 1197.9 L416 1199 L416.7 1197.5 L417.5 1196.3 L418.3 1197.4 L419 1195.9 L419.8 1195.3 L420.6 1196.1 L421.3 1195 L422.1 1193.9 L422.9 1193.6 L423.6 1194.4 L424.4 1192.7 L425.2 1192.8 L425.9 1192.6 L426.7 1191.3 L427.5 1191.6 L428.2 1191.6 L429 1190.9 L429.8 1190.9 L430.5 1190.3 L431.3 1191" stroke="#151515" fill="none" stroke-width="3" stroke-dasharray="6 2.5 2 2.5" stroke-linejoin="round" stroke-linecap="butt"/>
<path d="M110.2 1364 L111 1360 L111.7 1358.8 L112.5 1357.3 L113.3 1356 L114 1354.3 L114.8 1352.5 L115.6 1351.5 L116.3 1348.6 L117.1 1347.4 L117.9 1346.4 L118.6 1343.9 L119.4 1343.3 L120.2 1342.2 L120.9 1340.9 L121.7 1338.5 L122.5 1340.3 L123.2 1338.4 L124 1337.4 L124.8 1336.8 L125.5 1335.3 L126.3 1335.8 L127.1 1335 L127.8 1334 L128.6 1334.1 L129.4 1331.6 L130.1 1332.5 L130.9 1330.4 L131.7 1329.2 L132.4 1329.8 L133.2 1328.6 L134 1328.1 L134.7 1326.2 L135.5 1326.7 L136.3 1327.5 L137 1325 L137.8 1324.5 L138.6 1326.1 L139.3 1326 L140.1 1321.7 L140.9 1323 L141.6 1324 L142.4 1321.2 L143.2 1320.4 L143.9 1322.5 L144.7 1319.4 L145.5 1319.3 L146.2 1319.2 L147 1319.2 L147.8 1317.9 L148.5 1318.2 L149.3 1316.9 L150.1 1316.7 L150.8 1316.3 L151.6 1315 L152.4 1314.2 L153.1 1313.9 L153.9 1313.8 L154.6 1312.6 L155.4 1314.2 L156.2 1312.9 L156.9 1312.5 L157.7 1311.4 L158.5 1313.4 L159.2 1311.8 L160 1311.3 L160.8 1310.6 L161.5 1308.8 L162.3 1309.8 L163.1 1309.7 L163.8 1308.9 L164.6 1308.2 L165.4 1308.6 L166.1 1306.9 L166.9 1308.6 L167.7 1306.5 L168.4 1306.5 L169.2 1305.9 L170 1305.1 L170.7 1306 L171.5 1305.2 L172.3 1304.9 L173 1305.1 L173.8 1304.9 L174.6 1304.5 L175.3 1303 L176.1 1304.8 L176.9 1303.7 L177.6 1302.4 L178.4 1301.2 L179.2 1301.8 L179.9 1300.4 L180.7 1301 L181.5 1300.9 L182.2 1301.2 L183 1299.6 L183.8 1298 L184.5 1298.8 L185.3 1299.1 L186.1 1297.5 L186.8 1298.5 L187.6 1297.9 L188.4 1295.9 L189.1 1295.9 L189.9 1295.1 L190.7 1295.2 L191.4 1295 L192.2 1294.3 L193 1294.3 L193.7 1292.9 L194.5 1294.1 L195.3 1294.1 L196 1292.9 L196.8 1291.2 L197.6 1291.8 L198.3 1292.6 L199.1 1288.5 L199.9 1290.8 L200.6 1289.8 L201.4 1288.8 L202.2 1288.5 L202.9 1288.3 L203.7 1288.7 L204.5 1286.6 L205.2 1287 L206 1285.9 L206.8 1284.6 L207.5 1284.8 L208.3 1284.9 L209.1 1282.6 L209.8 1281.8 L211.4 1303.1 L212.3 1315.2 L213.6 1306.6 L214.8 1297.5 L215.2 1293.4 L216 1293.1 L216.7 1292.5 L217.5 1291.9 L218.3 1290.4 L219 1289.2 L219.8 1288.7 L220.6 1287.6 L221.3 1285 L222.1 1284.9 L222.9 1284.1 L223.6 1281.9 L224.4 1282 L225.2 1280.7 L225.9 1278.2 L226.7 1277.8 L227.5 1276.2 L228.2 1275.3 L229 1275.5 L229.8 1273.7 L230.5 1273.5 L231.3 1272.3 L232.1 1271.6 L232.8 1271.1 L233.6 1271.4 L234.4 1269.7 L235.1 1269.3 L235.9 1268.5 L236.7 1269.2 L237.4 1267.9 L238.2 1267.7 L239 1267.4 L239.7 1266.9 L240.5 1266.4 L241.3 1266.8 L242 1265.7 L242.8 1265.2 L243.5 1264.2 L244.3 1264.2 L245.1 1262.6 L245.8 1262.7 L246.6 1262.5 L247.4 1262.1 L248.1 1262.8 L248.9 1261.2 L249.7 1260.1 L250.4 1261.2 L251.2 1259.2 L252 1259.2 L252.7 1259.1 L253.5 1259.1 L254.3 1258.4 L255 1258.6 L255.8 1257.7 L256.6 1257.2 L257.3 1256.9 L258.1 1257.4 L258.9 1255.5 L259.6 1256.3 L260.4 1255.2 L261.2 1254.8 L261.9 1255 L262.7 1252.8 L263.5 1254.2 L264.2 1253.7 L265 1253.8 L265.8 1253.2 L266.5 1254 L267.3 1252.4 L268.1 1252.8 L268.8 1252.6 L269.6 1251.4 L270.4 1251.1 L271.1 1251.7 L271.9 1251.8 L272.7 1252.3 L273.4 1251.3 L274.2 1249.9 L275 1249.6 L275.7 1250.6 L276.5 1249.4 L277.3 1248.4 L278 1249.4 L278.8 1249 L279.6 1248.9 L280.3 1247.7 L281.1 1249.1 L281.9 1247.6 L282.6 1246.9 L283.4 1246.9 L284.2 1245.9 L284.9 1245.9 L285.7 1246.4 L286.5 1246.5 L287.2 1246.2 L288 1244.9 L288.8 1245 L289.5 1244.6 L290.3 1245 L291.1 1243.3 L291.8 1243.2 L292.6 1243 L293.4 1244 L294.1 1241.1 L294.9 1242.1 L295.7 1243.1 L296.4 1241.4 L297.2 1241.9 L298 1242.1 L298.7 1241.8 L299.5 1240.6 L300.3 1240.4 L301 1240.2 L301.8 1240.2 L302.6 1240.5 L303.3 1239.3 L304.1 1239.4 L304.9 1239.1 L305.6 1238.2 L306.4 1237.2 L307.2 1238.5 L307.9 1237.1 L308.7 1238 L309.5 1236.7 L310.2 1236.5 L311 1236.7 L311.8 1236.2 L312.5 1236.6 L313.3 1236.1 L314.1 1234.9 L314.8 1234.7 L315.6 1233.4 L316.4 1235.4 L317.1 1234.7 L317.9 1234 L318.7 1233.8 L319.4 1233.9 L320.2 1233.6 L321 1233.1 L321.7 1231.8 L322.5 1232.5 L323.3 1232.7 L324 1231.7 L324.8 1233.5 L325.6 1232 L326.3 1231.6 L327.1 1230.7 L327.9 1232.2 L328.6 1230.5 L329.4 1230.9 L330.1 1229.2 L330.9 1229.1 L331.7 1229.7 L332.4 1228.9 L333.2 1229.8 L334 1228.6 L334.7 1228.3 L335.5 1227.5 L336.3 1228.3 L337 1229.2 L337.8 1227 L338.6 1228 L339.3 1227.4 L340.1 1227.1 L340.9 1225.4 L341.6 1226.4 L342.4 1225.3 L343.2 1225.8 L343.9 1226.6 L344.7 1225.1 L345.5 1224.8 L346.2 1225.3 L347 1225.8 L347.8 1222.5 L348.5 1222.7 L349.3 1223.7 L350.1 1223.4 L350.8 1222.8 L351.6 1222.8 L352.4 1224 L353.1 1223.7 L353.9 1222 L354.7 1221.4 L355.4 1221.3 L356.2 1221.3 L357 1221.6 L357.7 1220.7 L358.5 1220 L359.3 1220.5 L360 1219.7 L360.8 1219.5 L361.6 1220.5 L362.3 1219 L363.1 1220 L363.9 1219.8 L364.6 1217.8 L365.4 1219.8 L366.2 1218.4 L366.9 1217.4 L367.7 1217.4 L368.5 1217.7 L369.2 1217.7 L370 1216.4 L370.8 1216 L371.5 1216.1 L372.3 1216.4 L373.1 1216.4 L373.8 1215.1 L374.6 1214.8 L375.4 1213.8 L376.1 1214.3 L376.9 1213.1 L377.7 1214.3 L378.4 1214.3 L379.2 1212.1 L380 1212.7 L380.7 1212.7 L381.5 1211.9 L382.3 1212.3 L383 1211.3 L383.8 1211.7 L384.6 1210.3 L385.3 1210.5 L386.1 1209.8 L386.9 1209.4 L387.6 1208.8 L388.4 1210 L389.2 1208.3 L389.9 1208.3 L390.7 1208.6 L391.5 1207.6 L392.2 1206.8 L393 1206.5 L393.8 1205.1 L394.5 1206.4 L395.3 1205.7 L396.1 1204.1 L396.8 1205.5 L397.6 1205.4 L398.4 1204.8 L399.1 1204.5 L399.9 1203.8 L400.7 1203.3 L401.4 1203.6 L402.2 1203.5 L403 1202.4 L403.7 1202.9 L404.5 1202.2 L405.3 1201.1 L406 1201 L406.8 1201.3 L407.6 1201.2 L408.3 1200.5 L409.1 1200.5 L409.9 1198.8 L410.6 1198.3 L411.4 1198.2 L412.2 1197.8 L412.9 1198 L413.7 1197.2 L414.5 1196.9 L415.2 1196.5 L416 1196.5 L416.7 1196.6 L417.5 1195.3 L418.3 1194.8 L419 1195.5 L419.8 1194.5 L420.6 1194 L421.3 1193.3 L422.1 1194.4 L422.9 1193.9 L423.6 1193.5 L424.4 1193 L425.2 1192.6 L425.9 1190.9 L426.7 1192 L427.5 1189.5 L428.2 1190.5 L429 1189.9 L429.8 1190.2 L430.5 1189.4 L431.3 1189.5" stroke="#151515" fill="none" stroke-width="3" stroke-dasharray="2 1.6" stroke-linejoin="round" stroke-linecap="butt"/>
<path d="M110.2 1361.8 L111 1361.6 L111.7 1361.3 L112.5 1361 L113.3 1360.8 L114 1360.4 L114.8 1360.1 L115.6 1359.7 L116.3 1359.4 L117.1 1359 L117.9 1358.5 L118.6 1358.1 L119.4 1357.7 L120.2 1357.3 L120.9 1356.8 L121.7 1356.4 L122.5 1356 L123.2 1355.6 L124 1355.1 L124.8 1354.7 L125.5 1354.3 L126.3 1353.8 L127.1 1353.4 L127.8 1353 L128.6 1352.6 L129.4 1352.1 L130.1 1351.7 L130.9 1351.3 L131.7 1350.9 L132.4 1350.4 L133.2 1350 L134 1349.6 L134.7 1349.2 L135.5 1348.7 L136.3 1348.3 L137 1347.9 L137.8 1347.5 L138.6 1347 L139.3 1346.6 L140.1 1346.2 L140.9 1345.7 L141.6 1345.3 L142.4 1344.9 L143.2 1344.5 L143.9 1344 L144.7 1343.6 L145.5 1343.2 L146.2 1342.8 L147 1342.3 L147.8 1341.9 L148.5 1341.5 L149.3 1341.1 L150.1 1340.6 L150.8 1340.2 L151.6 1339.8 L152.4 1339.4 L153.1 1338.9 L153.9 1338.5 L154.6 1338.1 L155.4 1337.6 L156.2 1337.2 L156.9 1336.8 L157.7 1336.4 L158.5 1335.9 L159.2 1335.5 L160 1335.1 L160.8 1334.7 L161.5 1334.2 L162.3 1333.8 L163.1 1333.4 L163.8 1333 L164.6 1332.5 L165.4 1332.1 L166.1 1331.7 L166.9 1331.3 L167.7 1330.8 L168.4 1330.4 L169.2 1330 L170 1329.5 L170.7 1329.1 L171.5 1328.7 L172.3 1328.3 L173 1327.8 L173.8 1327.4 L174.6 1326.9 L175.3 1326.5 L176.1 1326 L176.9 1325.6 L177.6 1325.1 L178.4 1324.7 L179.2 1324.2 L179.9 1323.7 L180.7 1323.2 L181.5 1322.8 L182.2 1322.3 L183 1321.8 L183.8 1321.3 L184.5 1320.8 L185.3 1320.3 L186.1 1319.8 L186.8 1319.3 L187.6 1318.8 L188.4 1318.3 L189.1 1317.8 L189.9 1317.3 L190.7 1316.8 L191.4 1316.3 L192.2 1315.8 L193 1315.2 L193.7 1314.7 L194.5 1314.2 L195.3 1313.7 L196 1313.2 L196.8 1312.7 L197.6 1312.2 L198.3 1311.7 L199.1 1311.2 L199.9 1310.7 L200.6 1310.2 L201.4 1309.7 L202.2 1309.2 L202.9 1308.7 L203.7 1308.2 L204.5 1307.7 L205.2 1307.2 L206 1306.7 L206.8 1306.2 L207.5 1305.7 L208.3 1305.2 L209.1 1304.7 L209.8 1304.2 L210.6 1303.7 L211.4 1303.2 L212.1 1302.7 L212.9 1302.2 L213.7 1301.7 L214.4 1301.2 L215.2 1300.7 L216 1300.2 L216.7 1299.8 L217.5 1299.3 L218.3 1298.8 L219 1298.3 L219.8 1297.8 L220.6 1297.3 L221.3 1296.9 L222.1 1296.4 L222.9 1295.9 L223.6 1295.4 L224.4 1294.9 L225.2 1294.4 L225.9 1293.9 L226.7 1293.4 L227.5 1292.9 L228.2 1292.4 L229 1291.9 L229.8 1291.4 L230.5 1290.8 L231.3 1290.3 L232.1 1289.8 L232.8 1289.3 L233.6 1288.7 L234.4 1288.2 L235.1 1287.7 L235.9 1287.1 L236.7 1286.6 L237.4 1286.1 L238.2 1285.5 L239 1285 L239.7 1284.4 L240.5 1283.9 L241.3 1283.3 L242 1282.8 L242.8 1282.2 L243.5 1281.7 L244.3 1281.1 L245.1 1280.6 L245.8 1280 L246.6 1279.5 L247.4 1278.9 L248.1 1278.3 L248.9 1277.7 L249.7 1277.1 L250.4 1276.5 L251.2 1275.9 L252 1275.3 L252.7 1274.7 L253.5 1274.1 L254.3 1273.4 L255 1272.8 L255.8 1272.2 L256.6 1271.5 L257.3 1270.9 L258.1 1270.2 L258.9 1269.5 L259.6 1268.9 L260.4 1268.2 L261.2 1267.6 L261.9 1266.9 L262.7 1266.3 L263.5 1265.6 L264.2 1265 L265 1264.3 L265.8 1263.6 L266.5 1263 L267.3 1262.3 L268.1 1261.7 L268.8 1261 L269.6 1260.4 L270.4 1259.7 L271.1 1259.1 L271.9 1258.4 L272.7 1257.7 L273.4 1257.1 L274.2 1256.4 L275 1255.8 L275.7 1255.1 L276.5 1254.5 L277.3 1253.8 L278 1253.1 L278.8 1252.5 L279.6 1251.8 L280.3 1251.2 L281.1 1250.5 L281.9 1249.9 L282.6 1249.2 L283.4 1248.6 L284.2 1247.9 L284.9 1247.2 L285.7 1246.6 L286.5 1245.9 L287.2 1245.3 L288 1244.6 L288.8 1244 L289.5 1243.3 L290.3 1242.7 L291.1 1242 L291.8 1241.3 L292.6 1240.7 L293.4 1240 L294.1 1239.4 L294.9 1238.7 L295.7 1238 L296.4 1237.4 L297.2 1236.7 L298 1236 L298.7 1235.3 L299.5 1234.6 L300.3 1234 L301 1233.3 L301.8 1232.6 L302.6 1231.9 L303.3 1231.2 L304.1 1230.5 L304.9 1229.7 L305.6 1229 L306.4 1228.3 L307.2 1227.6 L307.9 1226.9 L308.7 1226.1 L309.5 1225.4 L310.2 1224.7 L311 1224 L311.8 1223.3 L312.5 1222.5 L313.3 1221.8 L314.1 1221.1 L314.8 1220.4 L315.6 1219.6 L316.4 1218.9 L317.1 1218.2 L317.9 1217.5 L318.7 1216.8 L319.4 1216 L320.2 1215.3 L321 1214.6 L321.7 1213.9 L322.5 1213.1 L323.3 1212.4 L324 1211.7 L324.8 1211 L325.6 1210.2 L326.3 1209.5 L327.1 1208.8 L327.9 1208.1 L328.6 1207.4 L329.4 1206.6 L330.1 1205.9 L330.9 1205.2 L331.7 1204.5 L332.4 1203.7 L333.2 1203 L334 1202.3 L334.7 1201.6 L335.5 1200.9 L336.3 1200.1 L337 1199.4 L337.8 1198.7 L338.6 1198 L339.3 1197.2 L340.1 1196.5 L340.9 1195.8 L341.6 1195.1 L342.4 1194.4 L343.2 1193.6 L343.9 1192.9 L344.7 1192.2 L345.5 1191.4 L346.2 1190.7 L347 1190 L347.8 1189.2 L348.5 1188.5 L349.3 1187.8 L350.1 1187 L350.8 1186.3 L351.6 1185.5 L352.4 1184.7 L353.1 1184 L353.9 1183.2 L354.7 1182.5 L355.4 1181.7 L356.2 1180.9 L357 1180.2 L357.7 1179.4 L358.5 1178.6 L359.3 1177.8 L360 1177.1 L360.8 1176.3 L361.6 1175.5 L362.3 1174.7 L363.1 1174 L363.9 1173.2 L364.6 1172.4 L365.4 1171.6 L366.2 1170.9 L366.9 1170.1 L367.7 1169.3 L368.5 1168.5 L369.2 1167.8 L370 1167 L370.8 1166.2 L371.5 1165.4 L372.3 1164.7 L373.1 1163.9 L373.8 1163.1 L374.6 1162.3 L375.4 1161.6 L376.1 1160.8 L376.9 1160 L377.7 1159.2 L378.4 1158.5 L379.2 1157.7 L380 1156.9 L380.7 1156.2 L381.5 1155.4 L382.3 1154.6 L383 1153.8 L383.8 1153.1 L384.6 1152.3 L385.3 1151.5 L386.1 1150.7 L386.9 1150 L387.6 1149.2 L388.4 1148.4 L389.2 1147.6 L389.9 1146.9 L390.7 1146.1 L391.5 1145.3 L392.2 1144.5 L393 1143.8 L393.8 1143 L394.5 1142.2 L395.3 1141.4 L396.1 1140.7 L396.8 1139.9 L397.6 1139.1 L398.4 1138.4 L399.1 1137.6 L399.9 1136.8 L400.7 1136 L401.4 1135.3 L402.2 1134.5 L403 1133.7 L403.7 1133 L404.5 1132.2 L405.3 1131.4 L406 1130.7 L406.8 1129.9 L407.6 1129.1 L408.3 1128.4 L409.1 1127.6 L409.9 1126.9 L410.6 1126.1 L411.4 1125.4 L412.2 1124.6 L412.9 1123.9 L413.7 1123.2 L414.5 1122.5 L415.2 1121.8 L416 1121.2 L416.7 1120.5 L417.5 1119.9 L418.3 1119.2 L419 1118.6 L419.8 1118 L420.6 1117.4 L421.3 1116.8 L422.1 1116.2 L422.9 1115.7 L423.6 1115.1 L424.4 1114.6 L425.2 1114.1 L425.9 1113.6 L426.7 1113.1 L427.5 1112.7 L428.2 1112.3 L429 1111.9 L429.8 1111.5 L430.5 1111.2 L431.3 1110.9" stroke="#9b9b9b" fill="none" stroke-width="3.2"  stroke-linejoin="round" stroke-linecap="butt"/>
<path d="M110.2 1362.8 L111 1362.2 L111.7 1361.5 L112.5 1360.9 L113.3 1360.2 L114 1359.6 L114.8 1359 L115.6 1358.3 L116.3 1357.7 L117.1 1357 L117.9 1356.4 L118.6 1355.8 L119.4 1355.1 L120.2 1354.5 L120.9 1353.8 L121.7 1353.2 L122.5 1352.6 L123.2 1351.9 L124 1351.3 L124.8 1350.6 L125.5 1350 L126.3 1349.4 L127.1 1348.7 L127.8 1348.1 L128.6 1347.5 L129.4 1346.8 L130.1 1346.2 L130.9 1345.5 L131.7 1344.9 L132.4 1344.5 L133.2 1344 L134 1343.5 L134.7 1343 L135.5 1342.5 L136.3 1342.1 L137 1341.6 L137.8 1341.1 L138.6 1340.6 L139.3 1340.1 L140.1 1339.7 L140.9 1339.2 L141.6 1338.7 L142.4 1338.2 L143.2 1337.8 L143.9 1337.3 L144.7 1336.8 L145.5 1336.3 L146.2 1335.8 L147 1335.4 L147.8 1334.9 L148.5 1334.4 L149.3 1333.9 L150.1 1333.4 L150.8 1333 L151.6 1332.5 L152.4 1332 L153.1 1331.6 L153.9 1331.3 L154.6 1330.9 L155.4 1330.5 L156.2 1330.1 L156.9 1329.8 L157.7 1329.4 L158.5 1329 L159.2 1328.6 L160 1328.3 L160.8 1327.9 L161.5 1327.5 L162.3 1327.1 L163.1 1326.8 L163.8 1326.4 L164.6 1326 L165.4 1325.6 L166.1 1325.2 L166.9 1324.9 L167.7 1324.5 L168.4 1324.1 L169.2 1323.7 L170 1323.4 L170.7 1323 L171.5 1322.6 L172.3 1322.2 L173 1321.9 L173.8 1321.5 L174.6 1321.1 L175.3 1320.7 L176.1 1320.4 L176.9 1320 L177.6 1319.6 L178.4 1319.2 L179.2 1318.9 L179.9 1318.5 L180.7 1318.1 L181.5 1317.7 L182.2 1317.4 L183 1317 L183.8 1316.6 L184.5 1316.2 L185.3 1315.9 L186.1 1315.5 L186.8 1315.1 L187.6 1314.8 L188.4 1314.4 L189.1 1314 L189.9 1313.6 L190.7 1313.3 L191.4 1312.9 L192.2 1312.5 L193 1312.2 L193.7 1311.8 L194.5 1311.4 L195.3 1311.1 L196 1310.7 L196.8 1310.3 L197.6 1309.9 L198.3 1309.6 L199.1 1309.2 L199.9 1308.8 L200.6 1308.5 L201.4 1308.1 L202.2 1307.7 L202.9 1307.3 L203.7 1307 L204.5 1306.6 L205.2 1306.2 L206 1305.9 L206.8 1305.5 L207.5 1305.1 L208.3 1304.8 L209.1 1304.4 L209.8 1304 L211.8 1327.3 L213.1 1361.6 L214.4 1362.8 L218.7 1359.8 L431.3 1360.1" stroke="#2061b9" fill="none" stroke-width="2.6"  stroke-linejoin="round" stroke-linecap="butt"/>
<line x1="210" y1="1216.5" x2="210" y2="1262" stroke="#3e5573" stroke-width="1.8"/>
<path d="M210 1271 L205 1258 L210 1261 L215 1258 Z" stroke="none" fill="#3e5573" stroke-width="1.2"/>
<text font-size="40" font-weight="bold" transform="translate(629.5 1026.5) scale(1.060 1)" stroke="#231f20" stroke-width="1.1">e</text>
<text font-size="26" text-anchor="middle" transform="translate(943.1 1033.8) scale(1.125 1)">Healthy donors</text>
<text font-size="26" text-anchor="middle" transform="translate(1526.7 1033.8) scale(1.070 1)">ASCA<tspan font-size="16" dy="-11">+</tspan><tspan dy="11"> CD patients</tspan></text>
<text font-size="27" text-anchor="middle" transform="translate(653.7 1262.6) rotate(-90) scale(1.065 1)">Percentage cell lysis</text>
<text font-size="27" text-anchor="middle" transform="translate(1226.1 1262.6) rotate(-90) scale(1.065 1)">Percentage cell lysis</text>
<line x1="735.4" y1="1143.1" x2="735.4" y2="1378.1" stroke="#4a4a4a" stroke-width="1.2"/>
<path d="M726.9 1378.1h8.5 M726.9 1331.1h8.5 M726.9 1284.1h8.5 M726.9 1237.1h8.5 M726.9 1190.1h8.5 M726.9 1143.1h8.5" stroke="#4a4a4a" fill="none" stroke-width="1.2"/>
<text font-size="23.5" text-anchor="end" transform="translate(714.9 1386.4) scale(1.100 1)">0</text>
<text font-size="23.5" text-anchor="end" transform="translate(714.9 1339.4) scale(1.100 1)">20</text>
<text font-size="23.5" text-anchor="end" transform="translate(714.9 1292.4) scale(1.100 1)">40</text>
<text font-size="23.5" text-anchor="end" transform="translate(714.9 1245.4) scale(1.100 1)">60</text>
<text font-size="23.5" text-anchor="end" transform="translate(714.9 1198.4) scale(1.100 1)">80</text>
<text font-size="23.5" text-anchor="end" transform="translate(714.9 1151.4) scale(1.100 1)">100</text>
<line x1="726.9" y1="1378.1" x2="911.1" y2="1378.1" stroke="#4a4a4a" stroke-width="1.2"/>
<rect x="749.5" y="1154.8" width="26" height="223.2" fill="#a3a3a7" stroke="#333" stroke-width="1.1"/>
<rect x="790" y="1326.4" width="26" height="51.7" fill="#a3a3a7" stroke="#333" stroke-width="1.1"/>
<rect x="831" y="1369.9" width="26" height="8.2" fill="#a3a3a7" stroke="#333" stroke-width="1.1"/>
<rect x="871.2" y="1376.9" width="26" height="1.2" fill="#a3a3a7" stroke="#333" stroke-width="1.1"/>
<line x1="762.5" y1="1157.2" x2="762.5" y2="1151.3" stroke="#333" stroke-width="1.1"/>
<line x1="756.5" y1="1157.2" x2="768.5" y2="1157.2" stroke="#333" stroke-width="1.1"/>
<line x1="756.5" y1="1151.3" x2="768.5" y2="1151.3" stroke="#333" stroke-width="1.1"/>
<line x1="803" y1="1365.4" x2="803" y2="1285.5" stroke="#333" stroke-width="1.1"/>
<line x1="797" y1="1365.4" x2="809" y2="1365.4" stroke="#333" stroke-width="1.1"/>
<line x1="797" y1="1285.5" x2="809" y2="1285.5" stroke="#333" stroke-width="1.1"/>
<line x1="844" y1="1378.1" x2="844" y2="1361.2" stroke="#333" stroke-width="1.1"/>
<line x1="838" y1="1378.1" x2="850" y2="1378.1" stroke="#333" stroke-width="1.1"/>
<line x1="838" y1="1361.2" x2="850" y2="1361.2" stroke="#333" stroke-width="1.1"/>
<line x1="884.2" y1="1378.1" x2="884.2" y2="1375.8" stroke="#333" stroke-width="1.1"/>
<line x1="878.2" y1="1378.1" x2="890.2" y2="1378.1" stroke="#333" stroke-width="1.1"/>
<line x1="878.2" y1="1375.8" x2="890.2" y2="1375.8" stroke="#333" stroke-width="1.1"/>
<circle cx="755.5" cy="1158.8" r="7" fill="#3d3d3f" stroke="#222" stroke-width="0.8"/>
<circle cx="762.5" cy="1151.1" r="7" fill="#3d3d3f" stroke="#222" stroke-width="0.8"/>
<circle cx="769.5" cy="1151.1" r="7" fill="#3d3d3f" stroke="#222" stroke-width="0.8"/>
<circle cx="803" cy="1246.5" r="7" fill="#3d3d3f" stroke="#222" stroke-width="0.8"/>
<circle cx="803" cy="1352.2" r="7" fill="#3d3d3f" stroke="#222" stroke-width="0.8"/>
<circle cx="803" cy="1378.1" r="7" fill="#3d3d3f" stroke="#222" stroke-width="0.8"/>
<circle cx="844" cy="1352.2" r="7" fill="#3d3d3f" stroke="#222" stroke-width="0.8"/>
<circle cx="837" cy="1378.1" r="7" fill="#3d3d3f" stroke="#222" stroke-width="0.8"/>
<circle cx="851" cy="1378.1" r="7" fill="#3d3d3f" stroke="#222" stroke-width="0.8"/>
<circle cx="877.7" cy="1377.6" r="7" fill="#3d3d3f" stroke="#222" stroke-width="0.8"/>
<circle cx="884.2" cy="1376.2" r="7" fill="#3d3d3f" stroke="#222" stroke-width="0.8"/>
<circle cx="890.7" cy="1377.4" r="7" fill="#3d3d3f" stroke="#222" stroke-width="0.8"/>
<text font-size="29" text-anchor="middle" font-style="italic" transform="translate(830.4 1104.4) scale(1.070 1)">M. restricta</text>
<text font-size="23.5" text-anchor="end" transform="translate(776.5 1401) rotate(-45)">Triton-X</text>
<text font-size="23.5" text-anchor="end" transform="translate(817 1401) rotate(-45)">1.0</text>
<text font-size="23.5" text-anchor="end" transform="translate(858 1401) rotate(-45)">0.5</text>
<text font-size="23.5" text-anchor="end" transform="translate(898.2 1401) rotate(-45)">0.25</text>
<line x1="772.5" y1="1445.8" x2="882.2" y2="1445.8" stroke="#333" stroke-width="1.4"/>
<text font-size="27" text-anchor="middle" transform="translate(830.1 1479.7) scale(1.035 1)">T:IEC ratio</text>
<line x1="985.2" y1="1143.1" x2="985.2" y2="1378.1" stroke="#4a4a4a" stroke-width="1.2"/>
<path d="M976.7 1378.1h8.5 M976.7 1331.1h8.5 M976.7 1284.1h8.5 M976.7 1237.1h8.5 M976.7 1190.1h8.5 M976.7 1143.1h8.5" stroke="#4a4a4a" fill="none" stroke-width="1.2"/>
<text font-size="23.5" text-anchor="end" transform="translate(964.7 1386.4) scale(1.100 1)">0</text>
<text font-size="23.5" text-anchor="end" transform="translate(964.7 1339.4) scale(1.100 1)">20</text>
<text font-size="23.5" text-anchor="end" transform="translate(964.7 1292.4) scale(1.100 1)">40</text>
<text font-size="23.5" text-anchor="end" transform="translate(964.7 1245.4) scale(1.100 1)">60</text>
<text font-size="23.5" text-anchor="end" transform="translate(964.7 1198.4) scale(1.100 1)">80</text>
<text font-size="23.5" text-anchor="end" transform="translate(964.7 1151.4) scale(1.100 1)">100</text>
<line x1="976.7" y1="1378.1" x2="1161.9" y2="1378.1" stroke="#4a4a4a" stroke-width="1.2"/>
<rect x="999.1" y="1154.8" width="26" height="223.2" fill="#a3a3a7" stroke="#333" stroke-width="1.1"/>
<rect x="1040.2" y="1280.1" width="26" height="98" fill="#a3a3a7" stroke="#333" stroke-width="1.1"/>
<rect x="1080.9" y="1302.4" width="26" height="75.7" fill="#a3a3a7" stroke="#333" stroke-width="1.1"/>
<rect x="1122" y="1337.7" width="26" height="40.4" fill="#a3a3a7" stroke="#333" stroke-width="1.1"/>
<line x1="1012.1" y1="1157.2" x2="1012.1" y2="1151.3" stroke="#333" stroke-width="1.1"/>
<line x1="1006.1" y1="1157.2" x2="1018.1" y2="1157.2" stroke="#333" stroke-width="1.1"/>
<line x1="1006.1" y1="1151.3" x2="1018.1" y2="1151.3" stroke="#333" stroke-width="1.1"/>
<line x1="1053.2" y1="1291.1" x2="1053.2" y2="1270" stroke="#333" stroke-width="1.1"/>
<line x1="1047.2" y1="1291.1" x2="1059.2" y2="1291.1" stroke="#333" stroke-width="1.1"/>
<line x1="1047.2" y1="1270" x2="1059.2" y2="1270" stroke="#333" stroke-width="1.1"/>
<line x1="1093.9" y1="1326.4" x2="1093.9" y2="1277" stroke="#333" stroke-width="1.1"/>
<line x1="1087.9" y1="1326.4" x2="1099.9" y2="1326.4" stroke="#333" stroke-width="1.1"/>
<line x1="1087.9" y1="1277" x2="1099.9" y2="1277" stroke="#333" stroke-width="1.1"/>
<line x1="1135" y1="1360.5" x2="1135" y2="1314.6" stroke="#333" stroke-width="1.1"/>
<line x1="1129" y1="1360.5" x2="1141" y2="1360.5" stroke="#333" stroke-width="1.1"/>
<line x1="1129" y1="1314.6" x2="1141" y2="1314.6" stroke="#333" stroke-width="1.1"/>
<circle cx="1005.1" cy="1158.8" r="7" fill="#3d3d3f" stroke="#222" stroke-width="0.8"/>
<circle cx="1012.1" cy="1151.1" r="7" fill="#3d3d3f" stroke="#222" stroke-width="0.8"/>
<circle cx="1019.1" cy="1151.1" r="7" fill="#3d3d3f" stroke="#222" stroke-width="0.8"/>
<circle cx="1046.2" cy="1270" r="7" fill="#3d3d3f" stroke="#222" stroke-width="0.8"/>
<circle cx="1059.7" cy="1268.8" r="7" fill="#3d3d3f" stroke="#222" stroke-width="0.8"/>
<circle cx="1053.2" cy="1301.7" r="7" fill="#3d3d3f" stroke="#222" stroke-width="0.8"/>
<circle cx="1100.4" cy="1271.2" r="7" fill="#3d3d3f" stroke="#222" stroke-width="0.8"/>
<circle cx="1087.9" cy="1282.9" r="7" fill="#3d3d3f" stroke="#222" stroke-width="0.8"/>
<circle cx="1093.9" cy="1349.9" r="7" fill="#3d3d3f" stroke="#222" stroke-width="0.8"/>
<circle cx="1135" cy="1298.2" r="7" fill="#3d3d3f" stroke="#222" stroke-width="0.8"/>
<circle cx="1135" cy="1334.6" r="7" fill="#3d3d3f" stroke="#222" stroke-width="0.8"/>
<circle cx="1135" cy="1378.1" r="7" fill="#3d3d3f" stroke="#222" stroke-width="0.8"/>
<text font-size="29" text-anchor="middle" font-style="italic" transform="translate(1074.4 1104.4) scale(1.070 1)">S. cerevisiae</text>
<text font-size="23.5" text-anchor="end" transform="translate(1026.1 1401) rotate(-45)">Triton-X</text>
<text font-size="23.5" text-anchor="end" transform="translate(1067.2 1401) rotate(-45)">1.0</text>
<text font-size="23.5" text-anchor="end" transform="translate(1107.9 1401) rotate(-45)">0.5</text>
<text font-size="23.5" text-anchor="end" transform="translate(1149 1401) rotate(-45)">0.25</text>
<line x1="1022.7" y1="1445.8" x2="1133" y2="1445.8" stroke="#333" stroke-width="1.4"/>
<text font-size="27" text-anchor="middle" transform="translate(1080.6 1479.7) scale(1.035 1)">T:IEC ratio</text>
<line x1="1307.9" y1="1143.1" x2="1307.9" y2="1378.1" stroke="#4a4a4a" stroke-width="1.2"/>
<path d="M1299.4 1378.1h8.5 M1299.4 1331.1h8.5 M1299.4 1284.1h8.5 M1299.4 1237.1h8.5 M1299.4 1190.1h8.5 M1299.4 1143.1h8.5" stroke="#4a4a4a" fill="none" stroke-width="1.2"/>
<text font-size="23.5" text-anchor="end" transform="translate(1287.4 1386.4) scale(1.100 1)">0</text>
<text font-size="23.5" text-anchor="end" transform="translate(1287.4 1339.4) scale(1.100 1)">20</text>
<text font-size="23.5" text-anchor="end" transform="translate(1287.4 1292.4) scale(1.100 1)">40</text>
<text font-size="23.5" text-anchor="end" transform="translate(1287.4 1245.4) scale(1.100 1)">60</text>
<text font-size="23.5" text-anchor="end" transform="translate(1287.4 1198.4) scale(1.100 1)">80</text>
<text font-size="23.5" text-anchor="end" transform="translate(1287.4 1151.4) scale(1.100 1)">100</text>
<line x1="1299.4" y1="1378.1" x2="1484.6" y2="1378.1" stroke="#4a4a4a" stroke-width="1.2"/>
<rect x="1322.2" y="1148.7" width="26" height="229.4" fill="#f5a07f" stroke="#c8202c" stroke-width="1.1"/>
<rect x="1362.8" y="1329.5" width="26" height="48.6" fill="#f5a07f" stroke="#c8202c" stroke-width="1.1"/>
<rect x="1443.7" y="1376.9" width="26" height="1.2" fill="#f5a07f" stroke="#c8202c" stroke-width="1.1"/>
<line x1="1335.2" y1="1150.1" x2="1335.2" y2="1146.6" stroke="#c8202c" stroke-width="1.1"/>
<line x1="1329.2" y1="1150.1" x2="1341.2" y2="1150.1" stroke="#c8202c" stroke-width="1.1"/>
<line x1="1329.2" y1="1146.6" x2="1341.2" y2="1146.6" stroke="#c8202c" stroke-width="1.1"/>
<line x1="1375.8" y1="1357.4" x2="1375.8" y2="1299.4" stroke="#c8202c" stroke-width="1.1"/>
<line x1="1369.8" y1="1357.4" x2="1381.8" y2="1357.4" stroke="#c8202c" stroke-width="1.1"/>
<line x1="1369.8" y1="1299.4" x2="1381.8" y2="1299.4" stroke="#c8202c" stroke-width="1.1"/>
<line x1="1456.7" y1="1378.1" x2="1456.7" y2="1372.2" stroke="#c8202c" stroke-width="1.1"/>
<line x1="1450.7" y1="1378.1" x2="1462.7" y2="1378.1" stroke="#c8202c" stroke-width="1.1"/>
<line x1="1450.7" y1="1372.2" x2="1462.7" y2="1372.2" stroke="#c8202c" stroke-width="1.1"/>
<circle cx="1328.8" cy="1150.1" r="7" fill="#e02226" stroke="none" stroke-width="0.8"/>
<circle cx="1335.2" cy="1146.6" r="7" fill="#e02226" stroke="none" stroke-width="0.8"/>
<circle cx="1341.6" cy="1146.6" r="7" fill="#e02226" stroke="none" stroke-width="0.8"/>
<circle cx="1377.8" cy="1270" r="7" fill="#e02226" stroke="none" stroke-width="0.8"/>
<circle cx="1370.8" cy="1359.3" r="7" fill="#e02226" stroke="none" stroke-width="0.8"/>
<circle cx="1383.8" cy="1354.6" r="7" fill="#e02226" stroke="none" stroke-width="0.8"/>
<circle cx="1408.6" cy="1378.1" r="7" fill="#e02226" stroke="none" stroke-width="0.8"/>
<circle cx="1415.6" cy="1378.1" r="7" fill="#e02226" stroke="none" stroke-width="0.8"/>
<circle cx="1422.6" cy="1378.1" r="7" fill="#e02226" stroke="none" stroke-width="0.8"/>
<circle cx="1456.7" cy="1368.7" r="7" fill="#e02226" stroke="none" stroke-width="0.8"/>
<circle cx="1449.7" cy="1378.1" r="7" fill="#e02226" stroke="none" stroke-width="0.8"/>
<circle cx="1463.7" cy="1378.1" r="7" fill="#e02226" stroke="none" stroke-width="0.8"/>
<text font-size="27" text-anchor="middle" font-style="italic" transform="translate(1395.4 1104.4) scale(1.050 1)">M. restricta</text>
<text font-size="23.5" text-anchor="end" transform="translate(1349.2 1401) rotate(-45)">Triton-X</text>
<text font-size="23.5" text-anchor="end" transform="translate(1389.8 1401) rotate(-45)">1.0</text>
<text font-size="23.5" text-anchor="end" transform="translate(1429.6 1401) rotate(-45)">0.5</text>
<text font-size="23.5" text-anchor="end" transform="translate(1470.7 1401) rotate(-45)">0.25</text>
<line x1="1345.3" y1="1445.8" x2="1454.7" y2="1445.8" stroke="#333" stroke-width="1.4"/>
<text font-size="27" text-anchor="middle" transform="translate(1402.8 1479.7) scale(1.035 1)">T:IEC ratio</text>
<line x1="1557" y1="1143.1" x2="1557" y2="1378.1" stroke="#4a4a4a" stroke-width="1.2"/>
<path d="M1548.5 1378.1h8.5 M1548.5 1331.1h8.5 M1548.5 1284.1h8.5 M1548.5 1237.1h8.5 M1548.5 1190.1h8.5 M1548.5 1143.1h8.5" stroke="#4a4a4a" fill="none" stroke-width="1.2"/>
<text font-size="23.5" text-anchor="end" transform="translate(1536.5 1386.4) scale(1.100 1)">0</text>
<text font-size="23.5" text-anchor="end" transform="translate(1536.5 1339.4) scale(1.100 1)">20</text>
<text font-size="23.5" text-anchor="end" transform="translate(1536.5 1292.4) scale(1.100 1)">40</text>
<text font-size="23.5" text-anchor="end" transform="translate(1536.5 1245.4) scale(1.100 1)">60</text>
<text font-size="23.5" text-anchor="end" transform="translate(1536.5 1198.4) scale(1.100 1)">80</text>
<text font-size="23.5" text-anchor="end" transform="translate(1536.5 1151.4) scale(1.100 1)">100</text>
<line x1="1548.5" y1="1378.1" x2="1733.7" y2="1378.1" stroke="#4a4a4a" stroke-width="1.2"/>
<rect x="1570.9" y="1148.7" width="26" height="229.4" fill="#f5a07f" stroke="#c8202c" stroke-width="1.1"/>
<rect x="1612" y="1198.1" width="26" height="180" fill="#f5a07f" stroke="#c8202c" stroke-width="1.1"/>
<rect x="1652.4" y="1213.6" width="26" height="164.5" fill="#f5a07f" stroke="#c8202c" stroke-width="1.1"/>
<rect x="1693.1" y="1228.4" width="26" height="149.7" fill="#f5a07f" stroke="#c8202c" stroke-width="1.1"/>
<line x1="1583.9" y1="1150.1" x2="1583.9" y2="1146.6" stroke="#c8202c" stroke-width="1.1"/>
<line x1="1577.9" y1="1150.1" x2="1589.9" y2="1150.1" stroke="#c8202c" stroke-width="1.1"/>
<line x1="1577.9" y1="1146.6" x2="1589.9" y2="1146.6" stroke="#c8202c" stroke-width="1.1"/>
<line x1="1625" y1="1207.7" x2="1625" y2="1190.1" stroke="#c8202c" stroke-width="1.1"/>
<line x1="1619" y1="1207.7" x2="1631" y2="1207.7" stroke="#c8202c" stroke-width="1.1"/>
<line x1="1619" y1="1190.1" x2="1631" y2="1190.1" stroke="#c8202c" stroke-width="1.1"/>
<line x1="1665.4" y1="1220.6" x2="1665.4" y2="1205.4" stroke="#c8202c" stroke-width="1.1"/>
<line x1="1659.4" y1="1220.6" x2="1671.4" y2="1220.6" stroke="#c8202c" stroke-width="1.1"/>
<line x1="1659.4" y1="1205.4" x2="1671.4" y2="1205.4" stroke="#c8202c" stroke-width="1.1"/>
<line x1="1706.1" y1="1234.8" x2="1706.1" y2="1223" stroke="#c8202c" stroke-width="1.1"/>
<line x1="1700.1" y1="1234.8" x2="1712.1" y2="1234.8" stroke="#c8202c" stroke-width="1.1"/>
<line x1="1700.1" y1="1223" x2="1712.1" y2="1223" stroke="#c8202c" stroke-width="1.1"/>
<circle cx="1577.5" cy="1150.1" r="7" fill="#e02226" stroke="none" stroke-width="0.8"/>
<circle cx="1583.9" cy="1146.6" r="7" fill="#e02226" stroke="none" stroke-width="0.8"/>
<circle cx="1590.3" cy="1146.6" r="7" fill="#e02226" stroke="none" stroke-width="0.8"/>
<circle cx="1618.5" cy="1188.9" r="7" fill="#e02226" stroke="none" stroke-width="0.8"/>
<circle cx="1632" cy="1186.1" r="7" fill="#e02226" stroke="none" stroke-width="0.8"/>
<circle cx="1625.5" cy="1216.4" r="7" fill="#e02226" stroke="none" stroke-width="0.8"/>
<circle cx="1671.9" cy="1201.8" r="7" fill="#e02226" stroke="none" stroke-width="0.8"/>
<circle cx="1658.4" cy="1210.5" r="7" fill="#e02226" stroke="none" stroke-width="0.8"/>
<circle cx="1664.9" cy="1228.4" r="7" fill="#e02226" stroke="none" stroke-width="0.8"/>
<circle cx="1706.1" cy="1215.9" r="7" fill="#e02226" stroke="none" stroke-width="0.8"/>
<circle cx="1712.6" cy="1232.4" r="7" fill="#e02226" stroke="none" stroke-width="0.8"/>
<circle cx="1699.6" cy="1237.1" r="7" fill="#e02226" stroke="none" stroke-width="0.8"/>
<text font-size="27" text-anchor="middle" font-style="italic" transform="translate(1645.4 1104.4) scale(1.010 1)">S. cerevisiae</text>
<text font-size="23.5" text-anchor="end" transform="translate(1597.9 1401) rotate(-45)">Triton-X</text>
<text font-size="23.5" text-anchor="end" transform="translate(1639 1401) rotate(-45)">1.0</text>
<text font-size="23.5" text-anchor="end" transform="translate(1679.4 1401) rotate(-45)">0.5</text>
<text font-size="23.5" text-anchor="end" transform="translate(1720.1 1401) rotate(-45)">0.25</text>
<line x1="1594.5" y1="1445.8" x2="1704.1" y2="1445.8" stroke="#333" stroke-width="1.4"/>
<text font-size="27" text-anchor="middle" transform="translate(1652 1479.7) scale(1.035 1)">T:IEC ratio</text>
<text font-size="40" font-weight="bold" transform="translate(1797.5 1027) scale(1.060 1)" stroke="#231f20" stroke-width="1.1">f</text>
<circle cx="1946.8" cy="1024.7" r="7.3" fill="#3d3d3f" stroke="none" stroke-width="1"/>
<text font-size="26" transform="translate(1968.7 1033) scale(1.070 1)">HD</text>
<circle cx="2037.7" cy="1024.7" r="7.3" fill="#e02226" stroke="none" stroke-width="1"/>
<text font-size="26" transform="translate(2058.9 1033) scale(1.070 1)">CD</text>
<text font-size="27.5" text-anchor="middle" transform="translate(2021.9 1068.2) scale(1.140 1)">0.0050</text>
<line x1="1939.1" y1="1074.4" x2="2098.8" y2="1074.4" stroke="#222" stroke-width="1.3"/>
<text font-size="27.5" text-anchor="middle" transform="translate(2040.7 1111.5) scale(1.100 1)">0.0131</text>
<line x1="1986.4" y1="1119.2" x2="2099.6" y2="1119.2" stroke="#333" stroke-width="1.3"/>
<text font-size="27.5" text-anchor="middle" transform="translate(2077 1155.5) scale(1.140 1)">0.0284</text>
<line x1="2054.5" y1="1164" x2="2099.3" y2="1164" stroke="#333" stroke-width="1.2"/>
<text font-size="27" text-anchor="middle" transform="translate(1821.3 1262.6) rotate(-90) scale(1.065 1)">Percentage cell lysis</text>
<line x1="1903" y1="1143.1" x2="1903" y2="1378.1" stroke="#4a4a4a" stroke-width="1.2"/>
<path d="M1894.5 1378.1h8.5 M1894.5 1331.1h8.5 M1894.5 1284.1h8.5 M1894.5 1237.1h8.5 M1894.5 1190.1h8.5 M1894.5 1143.1h8.5" stroke="#4a4a4a" fill="none" stroke-width="1.2"/>
<text font-size="23.5" text-anchor="end" transform="translate(1882.5 1386.4) scale(1.100 1)">0</text>
<text font-size="23.5" text-anchor="end" transform="translate(1882.5 1339.4) scale(1.100 1)">20</text>
<text font-size="23.5" text-anchor="end" transform="translate(1882.5 1292.4) scale(1.100 1)">40</text>
<text font-size="23.5" text-anchor="end" transform="translate(1882.5 1245.4) scale(1.100 1)">60</text>
<text font-size="23.5" text-anchor="end" transform="translate(1882.5 1198.4) scale(1.100 1)">80</text>
<text font-size="23.5" text-anchor="end" transform="translate(1882.5 1151.4) scale(1.100 1)">100</text>
<line x1="1894.5" y1="1378.1" x2="2134.3" y2="1378.1" stroke="#4a4a4a" stroke-width="1.2"/>
<rect x="1919.7" y="1362.8" width="32" height="15.3" fill="#a3a3a7" stroke="#333" stroke-width="1.1"/>
<line x1="1935.7" y1="1373.4" x2="1935.7" y2="1353.2" stroke="#333" stroke-width="1.1"/>
<line x1="1929.7" y1="1373.4" x2="1941.7" y2="1373.4" stroke="#333" stroke-width="1.1"/>
<line x1="1929.7" y1="1353.2" x2="1941.7" y2="1353.2" stroke="#333" stroke-width="1.1"/>
<circle cx="1921.2" cy="1332.3" r="7" fill="#3d3d3f" stroke="none" stroke-width="1"/>
<circle cx="1945.2" cy="1332.3" r="7" fill="#3d3d3f" stroke="none" stroke-width="1"/>
<circle cx="1925.7" cy="1378.1" r="7" fill="#3d3d3f" stroke="none" stroke-width="1"/>
<circle cx="1938.7" cy="1378.1" r="7" fill="#3d3d3f" stroke="none" stroke-width="1"/>
<circle cx="1947.3" cy="1378.1" r="7" fill="#3d3d3f" stroke="none" stroke-width="1"/>
<circle cx="1931.7" cy="1375.3" r="7" fill="#3d3d3f" stroke="none" stroke-width="1"/>
<circle cx="1942.7" cy="1374.6" r="7" fill="#3d3d3f" stroke="none" stroke-width="1"/>
<rect x="1968.8" y="1353.9" width="32" height="24.2" fill="#a3a3a7" stroke="#333" stroke-width="1.1"/>
<line x1="1984.8" y1="1368.7" x2="1984.8" y2="1339.3" stroke="#333" stroke-width="1.1"/>
<line x1="1978.8" y1="1368.7" x2="1990.8" y2="1368.7" stroke="#333" stroke-width="1.1"/>
<line x1="1978.8" y1="1339.3" x2="1990.8" y2="1339.3" stroke="#333" stroke-width="1.1"/>
<circle cx="1984.8" cy="1307.6" r="7" fill="#3d3d3f" stroke="none" stroke-width="1"/>
<circle cx="1984.8" cy="1334.6" r="7" fill="#3d3d3f" stroke="none" stroke-width="1"/>
<circle cx="1984.8" cy="1367.5" r="7" fill="#3d3d3f" stroke="none" stroke-width="1"/>
<circle cx="1975.3" cy="1378.1" r="7" fill="#3d3d3f" stroke="none" stroke-width="1"/>
<circle cx="1994.3" cy="1378.1" r="7" fill="#3d3d3f" stroke="none" stroke-width="1"/>
<rect x="2034.8" y="1344" width="32" height="34.1" fill="#f5a07f" stroke="#c8202c" stroke-width="1.1"/>
<line x1="2050.8" y1="1364" x2="2050.8" y2="1323.3" stroke="#c8202c" stroke-width="1.1"/>
<line x1="2044.8" y1="1364" x2="2056.8" y2="1364" stroke="#c8202c" stroke-width="1.1"/>
<line x1="2044.8" y1="1323.3" x2="2056.8" y2="1323.3" stroke="#c8202c" stroke-width="1.1"/>
<circle cx="2050.8" cy="1285.3" r="7" fill="#e02226" stroke="none" stroke-width="1"/>
<circle cx="2050.8" cy="1306.9" r="7" fill="#e02226" stroke="none" stroke-width="1"/>
<circle cx="2050.8" cy="1369.9" r="7" fill="#e02226" stroke="none" stroke-width="1"/>
<circle cx="2041.8" cy="1378.1" r="7" fill="#e02226" stroke="none" stroke-width="1"/>
<circle cx="2059.8" cy="1378.1" r="7" fill="#e02226" stroke="none" stroke-width="1"/>
<rect x="2084" y="1223.5" width="32" height="154.6" fill="#f5a07f" stroke="#c8202c" stroke-width="1.1"/>
<line x1="2100" y1="1238.3" x2="2100" y2="1208.2" stroke="#c8202c" stroke-width="1.1"/>
<line x1="2094" y1="1238.3" x2="2106" y2="1238.3" stroke="#c8202c" stroke-width="1.1"/>
<line x1="2094" y1="1208.2" x2="2106" y2="1208.2" stroke="#c8202c" stroke-width="1.1"/>
<circle cx="2100" cy="1178.3" r="7" fill="#e02226" stroke="none" stroke-width="1"/>
<circle cx="2100" cy="1193.6" r="7" fill="#e02226" stroke="none" stroke-width="1"/>
<circle cx="2100" cy="1218.3" r="7" fill="#e02226" stroke="none" stroke-width="1"/>
<circle cx="2110" cy="1232.4" r="7" fill="#e02226" stroke="none" stroke-width="1"/>
<circle cx="2091" cy="1237.1" r="7" fill="#e02226" stroke="none" stroke-width="1"/>
<circle cx="2100" cy="1284.1" r="7" fill="#e02226" stroke="none" stroke-width="1"/>
<text font-size="27" text-anchor="end" font-style="italic" transform="translate(1948.7 1400) rotate(-45) scale(1.030 1)">M. restricta</text>
<text font-size="27" text-anchor="end" font-style="italic" transform="translate(1997.8 1400) rotate(-45) scale(1.030 1)">S. cerevisiae</text>
<text font-size="27" text-anchor="end" font-style="italic" transform="translate(2063.8 1400) rotate(-45) scale(1.030 1)">M. restricta</text>
<text font-size="27" text-anchor="end" font-style="italic" transform="translate(2113 1400) rotate(-45) scale(1.030 1)">S. cerevisiae</text>
</svg></body></html>
